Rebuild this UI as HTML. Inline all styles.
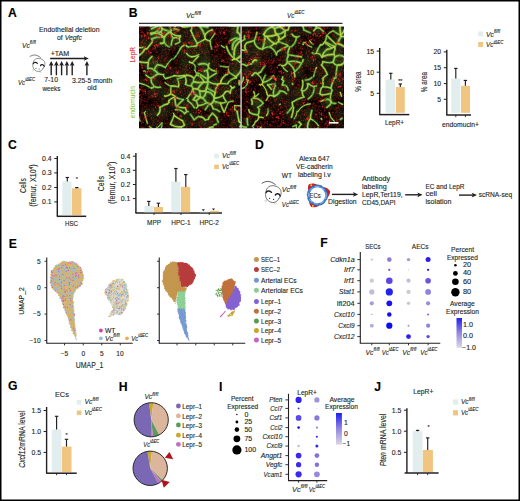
<!DOCTYPE html>
<html><head><meta charset="utf-8"><style>
html,body{margin:0;padding:0;background:#fff;}
svg{display:block;font-family:"Liberation Sans", sans-serif;}
</style></head><body>
<svg width="520" height="501" viewBox="0 0 520 501" font-family='"Liberation Sans", sans-serif' fill="#231f20">
<rect x="0.75" y="0.75" width="518.5" height="499.5" fill="none" stroke="#000" stroke-width="1.5"/>
<text x="8" y="16.9" font-size="12.2" font-weight="bold" fill="#000" stroke="#000" stroke-width="0.12">A</text>
<text x="39" y="32" font-size="6.8" textLength="60.5" lengthAdjust="spacingAndGlyphs" stroke="#231f20" stroke-width="0.12">Endothelial deletion</text>
<text x="57" y="39.8" font-size="6.8" textLength="25" lengthAdjust="spacingAndGlyphs" stroke="#231f20" stroke-width="0.12">of <tspan font-style="italic">Vegfc</tspan></text>
<text x="22" y="47.6" font-size="7" font-style="italic" textLength="13.8" lengthAdjust="spacingAndGlyphs" stroke="#231f20" stroke-width="0.12">Vc<tspan font-size="4.90" dy="-3.50">fl/fl</tspan></text>
<text x="50.7" y="55.7" font-size="6.8" textLength="18.5" lengthAdjust="spacingAndGlyphs" stroke="#231f20" stroke-width="0.12">+TAM</text>
<text x="18" y="84.6" font-size="7" font-style="italic" textLength="17" lengthAdjust="spacingAndGlyphs" stroke="#231f20" stroke-width="0.12">Vc<tspan font-size="4.90" dy="-3.50">iΔEC</tspan></text>
<text x="44.2" y="82.4" font-size="6.8" textLength="13.8" lengthAdjust="spacingAndGlyphs" stroke="#231f20" stroke-width="0.12">7-10</text>
<text x="42.4" y="90.8" font-size="6.8" textLength="18" lengthAdjust="spacingAndGlyphs" stroke="#231f20" stroke-width="0.12">weeks</text>
<text x="72" y="82.8" font-size="6.8" textLength="40.3" lengthAdjust="spacingAndGlyphs" stroke="#231f20" stroke-width="0.12">3.25-5 month</text>
<text x="87.2" y="90.4" font-size="6.8" textLength="9.4" lengthAdjust="spacingAndGlyphs" stroke="#231f20" stroke-width="0.12">old</text>
<line x1="50.1" y1="58.5" x2="85.5" y2="58.5" stroke="#231f20" stroke-width="1.35"/>
<path d="M88.8 58.5 L83.8 56.2 L84.8 58.5 L83.8 60.8 Z" fill="#231f20"/>
<line x1="51.2" y1="64" x2="51.2" y2="75.3" stroke="#231f20" stroke-width="1.4"/>
<path d="M51.2 61.0 L48.85 65.8 L51.2 65.0 L53.550000000000004 65.8 Z" fill="#231f20"/>
<line x1="56.4" y1="64" x2="56.4" y2="75.3" stroke="#231f20" stroke-width="1.4"/>
<path d="M56.4 61.0 L54.05 65.8 L56.4 65.0 L58.75 65.8 Z" fill="#231f20"/>
<line x1="61.6" y1="64" x2="61.6" y2="75.3" stroke="#231f20" stroke-width="1.4"/>
<path d="M61.6 61.0 L59.25 65.8 L61.6 65.0 L63.95 65.8 Z" fill="#231f20"/>
<line x1="66.9" y1="64" x2="66.9" y2="75.3" stroke="#231f20" stroke-width="1.4"/>
<path d="M66.9 61.0 L64.55000000000001 65.8 L66.9 65.0 L69.25 65.8 Z" fill="#231f20"/>
<line x1="72.2" y1="64" x2="72.2" y2="75.3" stroke="#231f20" stroke-width="1.4"/>
<path d="M72.2 61.0 L69.85000000000001 65.8 L72.2 65.0 L74.55 65.8 Z" fill="#231f20"/>
<line x1="86.9" y1="64" x2="86.9" y2="75.3" stroke="#231f20" stroke-width="1.4"/>
<path d="M86.9 61.0 L84.55000000000001 65.8 L86.9 65.0 L89.25 65.8 Z" fill="#231f20"/>
<g transform="translate(30.1 56.4) scale(0.78)" fill="none" stroke="#231f20" stroke-linecap="round">
<path stroke-width="0.75" d="M0 0 C1.5 -0.8 3.5 -1.8 5.5 -1.8 C8 -1.8 11 -0.5 13.3 1.4"/>
<path stroke-width="0.6" d="M3.9 7.9 C4.2 5.5 6 3.5 8.3 2.8 C12 1.8 16.5 3.5 18.3 6.4 C19.5 8.5 19.3 12.5 16.9 15.1"/>
<path stroke-width="0.6" d="M3.6 9.8 C3 12 3.5 14.5 5.4 16.8 C7.5 19 10 19.8 12.5 19.2 C14.5 18.5 16 17 16.9 15.1"/>
<path stroke-width="1.5" d="M3.9 9.4 C4.6 7.4 8 7.1 9.3 9.1 M13.3 11.9 C14 10 17.4 10 18.1 12.9"/>
<circle cx="7.5" cy="15.1" r="0.65" fill="#231f20" stroke="none"/><circle cx="11.5" cy="16.1" r="0.65" fill="#231f20" stroke="none"/>
<path stroke-width="0.35" stroke="#888" d="M5 16.5 L2.5 17.5 M5.2 17.3 L3.2 19 M12.5 18.8 L14.5 20.5 M11.8 19.2 L13 21"/>
</g>
<text x="128.7" y="17.3" font-size="12.2" font-weight="bold" fill="#000" stroke="#000" stroke-width="0.12">B</text>
<text x="186" y="18" font-size="7" font-style="italic" textLength="15" lengthAdjust="spacingAndGlyphs" stroke="#231f20" stroke-width="0.12">Vc<tspan font-size="4.90" dy="-3.50">fl/fl</tspan></text>
<text x="287" y="17.6" font-size="7" font-style="italic" textLength="17.5" lengthAdjust="spacingAndGlyphs" stroke="#231f20" stroke-width="0.12">Vc<tspan font-size="4.90" dy="-3.50">iΔEC</tspan></text>
<line x1="139" y1="23.4" x2="342.5" y2="23.4" stroke="#333" stroke-width="1.1"/>
<defs><filter id="wig" x="-5%" y="-5%" width="110%" height="110%"><feTurbulence type="fractalNoise" baseFrequency="0.25" numOctaves="2" seed="4" result="n"/><feDisplacementMap in="SourceGraphic" in2="n" scale="4" xChannelSelector="R" yChannelSelector="G"/></filter></defs>
<defs><filter id="blur2" x="-10%" y="-10%" width="120%" height="120%"><feGaussianBlur stdDeviation="2.5"/></filter><filter id="soft" x="0" y="0" width="100%" height="100%"><feGaussianBlur stdDeviation="0.4"/></filter></defs>
<clipPath id="c1"><rect x="139" y="26.5" width="101.60" height="101.70"/></clipPath>
<g clip-path="url(#c1)"><g filter="url(#soft)">
<rect x="137" y="24.5" width="105.60" height="105.70" fill="#0c0303"/>
<path d="M234.9 37.2h0M175.5 46.8h0M218.7 67.4h0M199.1 72.2h0M168.9 86.8h0M232.7 106.6h0M227.3 69.5h0M176.0 111.8h0M237.9 60.7h0M161.8 88.3h0M220.8 41.7h0M208.2 77.8h0M186.9 100.9h0M142.1 60.5h0M229.9 57.1h0M197.3 30.0h0M178.7 67.1h0M175.0 101.3h0M205.2 90.9h0M174.3 101.2h0M190.6 80.8h0M176.7 123.2h0M144.6 63.7h0M164.4 58.9h0M224.4 116.4h0M222.1 43.5h0M206.8 64.6h0M186.8 126.6h0M237.5 121.5h0M224.4 70.8h0M163.9 72.0h0M196.7 110.9h0M236.1 65.9h0M218.8 28.6h0M176.5 46.8h0M186.7 124.2h0M191.6 113.4h0M230.6 113.1h0M211.6 96.7h0M179.5 55.4h0M185.9 91.7h0M148.4 123.8h0M189.0 88.6h0M162.3 55.7h0M148.5 60.7h0M148.3 61.4h0M160.9 119.1h0M210.0 26.7h0M157.2 104.2h0M196.7 73.6h0M200.2 57.2h0M237.2 46.1h0M185.6 121.6h0M217.7 68.4h0M142.5 127.8h0M204.5 74.7h0M238.6 125.1h0M143.8 86.1h0M231.2 57.2h0M154.8 108.8h0M207.6 57.5h0M141.6 112.0h0M145.2 95.0h0M152.7 61.3h0M230.6 83.3h0M218.5 70.1h0M206.2 34.6h0M205.0 127.1h0M168.8 37.6h0M192.7 77.3h0M188.0 103.5h0M235.6 104.4h0M185.1 59.4h0M214.9 96.6h0M175.4 52.6h0M233.0 78.3h0M225.6 56.7h0M239.8 97.2h0M162.1 53.7h0M227.4 97.7h0M187.5 90.3h0M190.8 61.0h0M194.0 51.9h0M148.3 114.5h0M228.5 110.5h0M200.4 122.2h0M149.7 94.6h0M214.1 116.1h0M150.5 38.1h0M177.7 59.6h0M207.0 101.0h0M186.3 39.1h0M145.6 93.6h0M202.2 49.1h0M176.3 111.2h0M177.7 95.9h0M155.6 83.9h0M157.7 113.6h0M239.9 49.5h0M200.4 118.8h0M198.7 70.6h0M218.3 103.7h0M178.0 39.7h0M154.7 90.6h0M200.7 111.9h0M180.1 114.6h0M180.0 60.6h0M147.9 73.1h0M181.8 74.3h0M144.3 118.5h0M230.6 76.3h0M177.1 74.0h0M211.7 124.8h0M198.8 62.9h0M183.7 94.9h0M173.4 117.1h0M142.2 109.2h0M205.5 36.9h0M149.1 127.7h0M162.9 28.2h0M236.4 77.0h0M177.2 103.9h0M175.8 40.8h0M209.1 51.9h0M166.4 123.9h0M176.4 71.5h0M170.2 93.4h0M209.6 102.1h0M146.9 73.8h0M177.7 126.1h0M240.3 102.6h0M204.1 105.3h0M187.3 80.3h0M168.4 41.4h0M141.3 102.4h0M231.4 41.9h0M232.6 111.0h0M238.4 110.0h0M187.7 36.3h0M199.3 62.2h0M168.4 60.5h0M223.2 59.3h0M198.2 87.7h0M169.1 126.1h0M169.0 38.0h0M175.2 113.0h0M207.1 30.2h0M217.2 125.8h0M149.5 86.6h0M233.4 72.6h0M215.5 51.7h0M220.8 56.1h0M159.1 123.6h0M153.5 58.6h0M213.6 33.3h0M234.4 53.3h0M174.2 121.9h0M149.2 91.9h0M172.2 39.2h0M224.1 72.7h0M222.7 121.5h0M162.8 63.6h0M154.7 92.0h0M189.3 85.1h0M171.6 34.8h0M225.4 87.5h0M186.2 73.3h0M162.0 116.7h0M182.7 60.1h0M161.6 97.5h0M210.5 75.8h0M237.8 50.9h0M200.8 65.3h0M163.1 86.2h0M221.5 109.3h0M176.1 121.0h0M148.0 67.8h0M154.6 29.6h0M176.7 78.4h0M223.8 73.2h0M162.0 103.3h0M218.5 51.2h0M147.4 88.4h0M224.3 126.7h0M211.6 68.5h0M148.0 116.7h0M143.3 71.8h0M164.5 45.3h0M157.2 26.9h0M204.8 46.4h0M186.9 44.0h0M197.2 27.0h0M168.0 48.3h0M238.4 67.4h0M149.4 92.1h0M206.4 105.4h0M193.0 82.7h0M239.6 79.1h0M236.0 48.7h0M187.7 49.8h0M184.5 56.3h0M175.2 87.1h0M156.5 93.3h0M208.3 51.2h0M229.1 42.1h0M187.4 31.1h0M232.2 122.1h0M163.9 56.8h0M166.1 103.8h0M236.0 83.5h0M232.4 52.3h0M191.1 111.3h0M195.0 47.3h0M174.9 35.3h0M141.9 78.1h0M177.1 105.0h0M239.1 35.9h0M190.6 80.7h0M221.0 54.8h0M155.3 114.2h0M213.6 30.9h0M199.0 44.1h0M239.2 58.7h0M170.7 79.1h0M186.4 84.8h0M166.6 95.3h0M213.9 31.1h0M146.0 70.5h0M213.3 120.8h0M223.8 74.9h0M164.2 37.0h0M175.4 94.6h0M174.1 70.9h0M228.0 108.4h0M154.8 39.7h0M231.9 122.5h0M148.4 86.2h0M142.8 118.6h0M221.5 58.5h0M145.6 65.4h0M196.7 83.7h0M191.6 79.7h0M229.0 85.1h0M207.5 48.6h0M238.8 108.6h0M208.2 41.7h0M173.0 116.3h0M234.2 68.3h0M147.0 117.8h0M208.3 94.2h0M150.0 114.9h0M157.2 74.2h0M178.2 103.3h0M189.8 58.6h0M144.4 46.8h0M180.2 122.4h0M193.6 38.9h0M167.3 60.1h0M180.3 108.5h0M218.2 91.4h0M158.4 56.0h0M170.4 120.2h0M167.1 96.0h0M164.3 121.1h0M142.8 122.7h0M236.2 65.8h0M190.7 121.8h0M172.2 104.7h0M228.5 56.3h0M141.2 87.7h0M149.8 93.3h0M140.9 119.1h0M142.1 94.8h0M139.3 68.7h0M200.8 107.1h0M211.9 73.3h0M175.0 99.1h0M233.3 41.3h0M215.8 56.0h0M239.4 48.5h0M217.1 109.3h0M192.1 118.8h0M144.7 34.7h0M151.2 62.6h0M172.2 112.0h0M152.8 107.3h0M203.8 52.9h0M146.1 95.0h0M194.1 80.8h0M175.9 117.1h0M178.0 116.7h0M147.0 45.4h0M212.1 109.1h0M216.6 60.5h0M171.4 36.7h0M177.2 102.4h0M209.3 41.7h0M152.4 51.6h0M201.4 56.7h0M173.8 127.2h0M210.2 126.0h0M203.6 122.0h0M170.7 38.9h0M167.4 110.9h0M178.8 103.4h0M169.1 67.2h0M216.1 43.3h0M219.3 82.0h0M189.3 35.3h0M163.1 74.6h0M189.0 118.5h0M215.9 125.2h0M194.4 68.5h0M140.6 79.2h0M147.9 104.4h0M178.1 32.0h0M224.6 59.5h0M182.4 69.8h0M202.4 108.6h0M196.3 88.2h0M147.2 102.5h0M187.5 55.0h0M182.9 126.0h0M185.5 107.8h0M231.5 90.2h0M169.4 110.3h0M238.3 44.3h0M187.0 112.1h0M187.5 54.4h0M211.4 94.1h0M187.5 124.6h0M145.0 91.0h0M196.1 41.4h0M147.8 107.0h0M233.4 82.6h0M170.6 71.7h0M233.9 53.4h0M191.7 92.4h0M218.4 114.7h0M190.5 45.4h0M160.4 74.8h0M240.3 125.3h0M203.5 65.6h0M184.8 92.8h0M234.5 121.9h0M195.5 126.0h0M180.3 110.5h0M159.2 66.4h0M172.9 98.3h0M221.5 109.4h0M155.4 123.8h0M186.0 28.0h0M204.3 63.8h0M184.1 88.7h0M179.5 121.7h0M142.8 120.1h0M221.9 127.0h0M146.5 28.7h0M183.0 51.4h0M147.6 111.9h0M170.9 77.4h0M218.3 34.7h0M233.0 61.0h0M143.1 29.5h0M169.6 39.4h0M209.0 91.9h0M176.8 117.1h0M239.3 60.0h0M153.4 59.0h0M153.0 101.5h0M213.0 122.8h0M209.5 57.3h0M234.2 106.1h0M146.5 50.4h0M140.7 86.0h0M152.0 118.7h0M232.7 40.0h0M183.1 61.0h0M182.6 71.3h0M166.4 80.7h0M158.8 33.8h0M150.9 49.9h0M215.5 42.8h0M143.4 91.7h0M214.3 95.2h0M189.9 115.3h0M157.4 80.3h0M162.3 44.1h0M143.4 128.1h0M224.6 47.7h0M199.7 51.0h0M213.7 97.8h0M193.7 44.0h0M145.1 43.9h0M211.2 33.4h0M229.3 125.0h0M165.9 28.8h0M178.6 105.8h0M239.7 108.2h0M201.7 115.3h0M152.3 62.4h0M156.7 55.5h0M165.2 88.6h0M233.3 122.7h0M221.2 41.0h0M140.7 104.6h0M196.1 94.1h0M159.3 100.8h0M164.4 122.2h0M192.6 82.8h0M158.6 119.6h0M208.7 46.2h0M142.9 51.2h0M142.2 93.4h0M168.4 95.1h0M148.4 44.7h0M225.8 116.8h0M217.1 55.2h0M195.9 105.6h0M213.6 115.6h0M140.0 43.7h0M163.3 60.9h0M191.7 107.6h0M220.7 111.8h0M199.0 40.4h0M172.7 27.4h0M164.4 123.0h0M226.3 79.5h0M195.5 103.5h0M225.7 99.3h0M149.5 123.6h0M220.6 28.1h0M146.1 78.7h0M174.6 120.5h0M179.7 48.2h0M145.6 41.3h0M233.4 75.6h0M181.2 59.7h0M145.6 126.7h0M209.2 91.7h0M173.0 65.5h0M199.9 48.0h0M206.7 75.4h0M237.6 94.9h0M197.5 34.2h0M204.3 85.6h0M236.5 33.2h0M171.8 42.2h0M172.8 26.6h0M211.3 83.8h0M204.4 93.5h0M172.4 52.8h0M233.9 85.3h0M238.3 57.1h0M240.1 82.6h0M209.8 97.3h0M223.4 91.0h0M230.5 115.7h0M199.9 61.4h0M231.0 38.1h0M195.0 114.7h0M172.0 29.0h0M191.8 123.7h0M155.4 50.6h0M237.8 28.2h0M155.4 30.3h0M172.8 88.2h0M151.7 105.3h0M223.3 109.5h0M214.6 70.9h0M224.9 103.1h0M232.8 96.4h0M218.5 61.4h0M200.1 78.5h0M209.8 106.1h0M225.4 126.6h0M155.2 34.6h0M162.4 95.2h0M197.9 107.4h0M187.2 31.9h0M233.9 68.0h0M172.6 104.1h0M146.0 91.7h0M168.0 77.5h0M157.1 127.1h0M182.2 110.9h0M149.8 76.5h0M202.2 78.0h0M178.4 56.4h0M162.2 107.8h0M229.2 102.0h0M239.4 124.6h0M208.6 127.5h0M149.9 98.3h0M192.5 58.9h0M210.1 92.0h0M186.5 59.7h0M156.1 96.1h0M174.3 80.7h0M229.9 95.6h0M143.2 118.1h0M144.2 69.4h0M209.9 119.1h0M223.2 65.8h0M201.7 73.0h0M230.5 58.5h0M191.2 54.2h0M205.1 120.6h0M182.8 88.5h0M219.4 30.9h0M142.6 121.1h0M178.8 63.6h0M175.8 67.2h0M150.1 53.4h0M187.6 32.5h0M214.7 47.5h0M154.1 52.5h0M240.0 59.8h0M159.3 31.8h0M230.5 58.8h0M141.0 62.9h0M190.8 48.7h0M145.2 54.4h0M168.9 122.9h0M220.9 34.4h0M200.9 56.9h0M229.5 58.2h0M188.6 113.7h0M150.1 74.8h0M146.8 31.5h0M192.7 96.4h0M232.3 26.6h0M239.1 42.5h0M215.4 95.1h0M146.1 100.6h0M156.7 115.7h0M203.3 127.1h0M198.8 119.1h0M231.5 42.4h0M188.0 94.7h0M167.1 44.4h0M151.2 126.5h0M215.4 102.4h0M231.1 125.5h0M213.0 91.8h0M155.4 44.0h0M201.7 88.7h0M230.4 85.6h0M187.6 70.3h0M143.0 30.7h0M166.6 57.0h0M205.9 28.3h0M151.8 54.2h0M174.6 110.1h0M238.6 32.4h0M152.2 56.8h0M183.3 96.3h0M204.9 36.3h0M160.6 44.4h0M221.3 92.4h0M156.5 28.9h0M199.8 29.1h0M142.8 50.3h0M240.6 114.5h0M192.6 77.9h0M163.3 109.5h0M152.7 123.2h0M143.1 112.6h0M166.1 70.5h0M224.6 87.6h0M164.2 54.8h0M234.5 51.3h0M239.8 108.9h0M197.3 72.7h0M150.9 59.4h0M173.6 126.6h0M210.5 34.3h0M176.9 94.7h0M205.1 61.9h0M209.1 54.5h0M156.2 76.8h0M168.9 91.3h0M205.7 39.3h0M190.9 31.4h0M190.4 71.8h0M151.3 77.6h0M230.8 69.3h0M142.0 105.8h0M215.3 119.6h0M168.6 66.4h0M217.3 75.4h0M170.8 67.9h0M220.7 94.5h0M201.9 68.0h0M236.8 109.7h0M211.7 90.2h0M230.2 63.4h0M174.8 45.3h0M210.3 118.8h0M208.8 97.3h0M160.0 116.0h0M216.7 90.3h0M194.2 106.7h0M232.2 40.5h0M190.9 69.6h0M227.3 46.9h0M170.5 115.2h0M174.8 40.8h0M195.5 35.6h0M146.2 56.2h0M183.4 31.9h0M229.6 117.3h0M205.9 119.4h0M234.0 120.1h0M232.6 115.4h0M149.5 125.3h0M165.1 124.7h0M214.0 37.4h0M184.3 104.2h0M219.5 76.5h0M187.8 33.1h0M158.8 111.9h0M168.0 95.1h0M195.8 79.7h0M229.3 38.0h0M141.3 55.2h0M190.8 114.9h0M195.7 74.5h0M231.8 40.1h0M144.4 39.2h0M179.7 71.4h0M211.2 102.9h0M159.7 29.3h0M206.5 118.8h0M165.0 57.8h0M192.8 116.1h0M195.0 96.1h0M149.8 96.2h0M194.4 50.8h0M189.2 126.2h0M160.8 40.0h0M140.4 83.0h0M218.8 65.6h0M185.3 32.7h0M189.1 53.4h0M176.7 102.8h0M176.0 118.8h0M196.7 123.5h0M195.3 64.9h0M175.2 48.3h0M198.1 78.2h0M175.6 36.0h0M183.9 39.0h0M175.7 84.4h0M141.5 59.5h0M145.8 77.8h0M231.5 33.4h0M187.2 111.2h0M153.2 71.2h0M203.4 107.3h0M224.4 83.3h0M174.8 101.3h0M181.5 126.7h0M232.1 120.3h0M233.2 94.0h0M223.0 127.6h0M185.6 35.3h0M174.7 45.5h0M145.1 112.8h0M211.7 112.1h0M159.1 75.6h0M216.3 38.3h0M226.4 34.7h0M189.4 62.6h0M200.6 32.0h0M203.0 121.9h0M165.7 91.2h0M169.9 115.8h0M170.6 73.9h0M204.3 95.0h0M225.7 46.9h0M214.7 124.3h0M201.6 30.6h0M148.0 122.3h0M177.0 91.8h0M184.8 59.1h0M209.0 32.7h0M222.2 112.5h0M187.0 78.6h0M221.1 95.9h0M185.5 68.0h0M164.1 42.3h0M149.0 78.7h0M169.3 103.1h0M185.9 80.4h0M214.2 61.8h0M227.5 92.8h0M181.3 95.4h0M170.4 32.2h0M192.3 95.5h0M177.0 40.5h0M163.8 33.3h0M215.1 79.0h0M165.0 36.8h0M213.0 40.5h0M205.1 78.8h0M171.2 96.9h0M220.4 85.1h0M171.4 32.6h0M224.1 115.3h0M205.8 124.1h0M148.5 48.3h0M185.8 44.2h0M158.7 73.9h0M187.8 47.9h0M144.6 58.1h0M147.6 72.1h0M193.4 106.4h0M211.4 104.1h0M155.8 87.8h0M195.3 118.1h0M211.2 74.7h0M224.2 109.8h0M183.6 35.5h0M239.7 120.1h0M238.5 38.9h0M222.1 34.0h0M174.4 126.4h0M156.2 123.0h0M159.3 76.5h0M232.1 53.3h0M144.4 91.6h0M181.7 34.6h0M224.1 46.6h0M160.9 74.3h0M151.7 58.9h0M163.9 124.1h0M210.9 95.7h0M202.5 33.2h0M148.2 127.9h0M154.4 112.5h0M198.9 103.4h0M194.2 53.1h0M212.4 114.6h0M162.4 40.1h0M193.4 83.2h0M222.8 91.9h0M236.7 47.7h0M216.0 81.2h0M228.0 56.7h0M159.6 43.1h0M188.4 29.5h0M238.0 104.3h0M201.5 33.8h0M154.3 40.9h0M178.1 80.7h0M158.1 79.8h0M223.0 71.0h0M154.6 74.3h0M183.5 123.2h0M188.5 91.3h0M190.1 123.6h0M224.0 68.2h0M143.6 86.9h0M157.8 57.3h0M159.4 109.6h0M184.6 76.6h0M232.0 80.0h0M213.1 47.7h0M184.1 61.8h0M173.2 71.8h0M221.1 82.9h0M204.6 49.4h0M210.5 64.0h0M229.7 92.3h0M144.3 70.3h0M221.3 59.4h0M239.4 125.1h0M189.7 65.0h0M146.6 47.8h0M148.8 99.3h0M231.3 66.8h0M157.2 96.1h0M217.4 78.8h0M215.8 35.7h0M180.1 74.7h0M162.1 107.5h0M150.9 112.0h0M168.2 71.8h0M203.6 96.3h0M223.3 83.8h0M188.0 47.9h0M151.0 118.3h0M222.6 123.3h0M190.1 70.1h0M184.1 88.3h0M214.2 89.6h0M142.8 79.7h0M157.4 71.8h0M142.4 29.3h0M164.9 81.2h0M186.3 118.9h0M157.8 52.4h0M142.6 60.3h0M147.1 92.5h0M174.9 112.9h0M184.0 83.7h0M157.0 85.8h0M188.7 106.2h0M203.6 114.2h0M174.1 98.0h0M191.9 112.6h0M158.2 74.2h0M176.1 106.2h0M177.7 28.3h0M207.5 50.6h0M218.0 47.5h0M171.4 48.1h0M207.3 117.1h0M164.5 31.4h0M228.3 109.2h0M151.9 116.7h0M199.8 46.2h0M162.8 115.3h0M171.6 119.7h0M177.7 122.3h0M158.3 37.3h0M192.3 58.3h0M230.2 27.8h0M238.0 30.3h0M149.7 63.5h0M147.3 38.2h0M178.2 50.7h0M235.5 114.2h0M212.9 73.3h0M174.6 85.6h0M236.0 108.0h0M229.2 51.4h0M179.9 123.0h0M235.5 65.8h0M221.7 67.9h0M210.3 45.4h0M216.8 40.3h0M234.1 86.0h0M212.2 80.4h0M206.9 45.1h0M186.0 42.0h0M236.5 62.7h0M166.9 101.6h0M227.8 94.1h0M163.2 99.5h0M162.4 63.6h0M162.0 37.6h0M230.1 60.2h0M213.5 70.8h0M165.0 87.7h0M155.3 70.8h0M210.4 34.0h0M153.5 100.3h0M232.2 112.4h0M151.6 27.8h0M206.9 26.5h0M160.7 42.7h0M204.4 126.5h0M232.1 42.9h0M223.9 78.7h0M201.5 124.4h0M189.3 115.5h0M182.5 107.1h0M210.5 35.6h0M216.5 126.5h0M205.4 83.9h0M187.4 42.3h0M214.1 71.6h0M174.3 48.8h0M165.3 50.1h0M144.0 113.9h0M159.0 36.1h0M237.6 37.2h0M203.3 125.1h0M177.1 125.9h0M236.1 113.4h0M145.9 116.2h0M171.8 77.0h0M181.6 83.6h0M163.9 89.3h0M221.7 76.4h0M165.9 82.1h0M188.4 104.1h0M237.5 120.1h0M188.9 117.3h0M163.1 29.9h0M199.5 67.4h0M226.2 37.4h0M175.1 125.4h0M146.7 75.9h0M181.8 91.0h0M220.7 45.1h0M154.7 73.3h0M169.8 124.2h0M159.0 73.4h0M230.7 63.8h0M224.0 66.2h0M153.0 38.2h0M151.8 66.9h0M162.4 116.1h0M216.6 44.6h0M147.8 102.1h0M196.4 32.8h0M210.6 35.2h0M232.3 90.5h0M237.3 121.4h0M183.1 83.6h0M225.7 66.7h0M239.3 71.0h0M239.8 81.1h0M224.9 70.4h0M201.5 39.5h0M149.5 121.4h0M195.1 75.1h0M140.1 34.6h0M220.0 108.3h0M158.2 99.1h0M187.4 33.9h0M152.3 32.1h0M220.8 96.2h0M184.2 102.9h0M177.8 115.4h0M144.3 72.5h0M209.9 60.7h0M142.0 98.9h0M169.3 98.5h0M222.6 36.5h0M186.0 56.0h0M168.7 75.3h0M225.8 43.5h0M162.0 30.1h0M239.0 127.2h0M168.5 70.1h0M162.5 64.2h0M230.0 33.4h0M140.9 46.7h0M228.4 109.0h0M195.8 82.6h0M220.8 113.9h0M181.8 110.9h0M164.7 107.4h0M184.0 102.6h0M158.4 46.8h0M142.7 97.0h0M173.6 40.7h0M203.6 65.5h0M162.8 109.0h0M149.9 119.3h0M213.2 114.2h0M140.5 48.5h0M226.5 80.2h0M140.3 55.4h0M162.8 37.4h0M183.9 84.8h0M165.0 78.6h0M192.3 102.6h0M217.4 39.7h0M189.2 65.2h0M186.6 40.6h0M201.3 56.8h0M172.3 99.7h0M180.9 95.1h0M180.2 30.2h0M166.0 58.4h0M193.3 73.9h0M239.7 82.6h0M202.1 122.0h0M148.7 63.3h0M164.8 88.4h0M189.4 80.0h0M150.5 96.3h0M204.3 34.5h0M209.1 88.3h0M202.1 127.5h0M194.8 122.9h0M165.7 85.9h0M176.5 31.7h0M164.8 92.1h0M188.6 57.3h0M227.3 127.5h0M174.7 79.3h0M211.3 75.9h0M181.9 120.2h0M186.3 67.7h0M233.5 121.8h0M166.8 69.6h0M228.9 43.0h0M149.0 48.6h0M214.8 120.7h0M175.8 89.5h0M227.3 60.1h0M148.4 48.8h0M221.4 30.2h0M223.3 82.2h0M238.3 42.2h0M213.1 84.1h0M158.3 111.1h0M209.6 107.1h0M170.6 88.0h0M239.1 37.9h0M222.1 52.8h0M196.4 119.3h0M148.2 53.4h0M176.8 115.2h0M200.1 112.7h0M234.9 63.4h0M154.6 29.5h0M169.4 78.6h0M215.0 127.0h0M238.9 28.6h0M239.8 92.9h0M167.6 86.6h0M213.3 47.9h0M155.5 96.5h0M145.5 35.6h0M201.3 45.1h0M179.7 107.7h0M199.0 48.6h0M174.6 29.1h0M139.8 67.9h0M159.5 111.7h0M142.2 121.2h0M221.6 124.2h0M147.5 60.1h0M154.8 40.1h0M145.5 62.0h0M221.9 41.3h0M200.3 31.1h0M158.3 37.6h0M159.9 87.6h0M158.9 57.0h0M154.8 38.1h0M182.9 79.0h0M233.1 90.8h0M235.5 115.9h0M237.3 28.8h0M149.5 37.3h0M217.5 74.9h0M174.4 116.8h0M193.3 55.7h0M170.0 32.2h0M209.2 59.3h0M172.2 107.0h0M228.1 62.7h0M160.6 123.1h0M176.7 82.1h0M215.2 64.6h0M151.0 37.1h0M145.0 80.5h0M149.6 33.0h0M209.0 78.5h0M236.7 30.6h0M186.1 68.1h0M182.9 80.5h0M148.3 33.5h0M149.2 114.0h0M159.8 49.6h0M190.9 120.5h0M169.6 29.0h0M173.8 116.1h0M199.7 84.3h0M229.4 66.0h0M148.6 52.2h0M152.0 104.6h0M158.5 39.0h0M222.4 36.2h0M180.3 47.3h0M225.9 77.9h0M189.6 39.4h0M155.8 105.8h0M204.9 108.1h0M157.5 101.4h0M222.2 98.3h0M157.5 34.0h0M160.6 32.7h0M224.9 84.9h0M221.8 109.6h0M201.5 86.0h0M186.2 45.9h0M208.4 41.9h0M163.3 33.1h0M142.6 71.1h0M175.0 94.9h0M202.3 81.0h0M158.3 43.9h0M212.8 60.8h0M226.9 111.8h0M178.1 88.5h0M173.7 42.4h0M151.6 43.5h0M220.9 104.8h0M177.8 79.8h0M237.0 34.1h0M187.3 117.6h0M196.9 119.7h0M171.9 90.7h0M191.9 30.5h0M213.5 104.2h0M165.7 40.9h0M202.3 71.2h0M239.2 73.0h0M177.2 110.9h0M157.4 63.8h0M232.4 34.9h0M146.9 49.6h0M237.7 49.7h0M235.6 99.9h0M174.4 38.4h0M189.8 106.1h0M153.9 82.8h0M198.9 63.2h0M141.8 29.5h0M224.4 52.7h0M150.0 123.3h0M232.5 124.0h0M161.8 53.8h0M175.7 108.6h0M141.8 116.6h0M177.4 127.2h0M145.5 127.9h0M233.2 81.1h0M222.1 43.9h0M238.3 117.0h0M184.6 99.8h0M202.7 70.6h0M191.1 57.3h0M238.1 75.2h0M195.1 100.5h0M220.1 80.0h0M171.3 106.7h0M213.6 27.2h0M214.2 107.5h0M181.8 50.1h0M161.4 96.9h0M154.2 87.0h0M221.1 51.8h0M235.2 106.5h0M159.6 90.1h0M194.4 101.0h0M203.4 78.1h0M150.8 36.5h0M228.1 92.9h0M159.0 104.6h0M206.3 110.7h0M193.3 114.0h0M210.9 77.4h0M198.4 119.2h0M155.1 48.5h0M144.8 37.8h0M207.9 102.7h0M230.8 104.6h0M188.2 122.2h0M230.6 99.5h0M240.6 107.3h0M195.5 76.5h0M171.6 47.1h0M159.7 43.8h0M198.0 122.4h0M231.7 59.8h0M142.8 27.4h0M190.8 97.9h0M239.3 70.7h0M219.4 119.4h0M212.3 94.0h0M167.8 110.9h0M143.1 36.3h0M217.6 68.8h0M223.2 93.0h0M152.1 85.7h0M150.9 71.3h0M156.3 105.6h0M196.3 98.6h0M195.6 61.7h0M177.9 34.8h0M238.0 115.4h0M214.4 50.7h0M192.3 115.2h0M157.7 66.9h0M146.4 100.6h0M188.3 104.6h0M230.7 58.3h0M210.4 47.8h0M232.0 107.5h0M166.5 51.6h0M178.1 122.3h0M187.6 66.3h0M161.9 105.0h0M202.5 87.7h0M153.9 91.2h0M193.2 89.4h0M187.6 110.9h0M171.1 46.8h0M144.6 73.6h0M169.6 81.2h0M178.9 75.4h0M168.1 85.0h0M175.5 47.8h0M173.5 85.1h0M179.1 74.5h0M162.6 45.6h0M148.1 87.0h0M150.9 42.3h0M181.2 41.7h0M211.4 82.2h0M175.5 43.0h0M163.1 38.3h0M202.7 115.3h0M166.6 107.0h0M177.8 46.3h0M223.4 125.0h0M182.8 63.7h0M171.4 109.8h0M168.5 80.7h0M198.8 125.0h0M240.6 122.2h0M196.6 126.3h0M222.0 38.6h0M140.4 27.6h0M239.6 67.5h0M189.8 35.3h0M223.7 114.4h0M238.8 30.7h0M198.1 86.7h0M225.4 51.7h0M146.2 95.4h0M225.3 53.8h0M153.2 89.0h0M143.0 95.1h0M170.7 56.7h0M187.6 114.1h0M203.9 64.6h0M158.0 85.0h0M200.8 123.2h0M142.6 36.2h0M237.3 46.9h0M231.4 123.7h0M180.9 109.5h0M173.7 92.4h0M188.4 99.7h0M236.1 43.0h0M206.9 61.8h0M219.0 123.2h0M206.4 85.5h0M240.2 98.1h0M149.5 60.4h0M229.2 96.5h0M172.6 45.1h0M146.9 84.4h0M168.3 37.7h0M147.6 66.0h0M218.1 34.5h0M206.4 75.1h0M188.4 105.9h0M222.5 94.4h0M173.4 100.5h0M190.9 60.7h0M196.1 29.1h0M187.0 61.9h0M156.9 91.0h0M212.9 95.3h0M162.0 44.9h0M147.2 124.0h0M165.3 77.4h0M178.4 70.6h0M210.8 121.5h0M195.1 69.9h0M233.1 124.9h0M193.5 57.9h0M170.0 121.0h0M229.5 81.4h0M142.0 90.2h0M158.7 43.3h0M217.3 45.6h0M170.6 115.6h0M235.5 82.6h0M147.4 68.4h0M147.8 70.8h0M170.7 124.5h0M210.3 41.1h0M225.7 75.3h0M165.3 127.4h0M175.5 98.3h0M214.7 125.1h0M201.9 26.6h0M195.6 51.2h0M206.9 114.7h0M195.1 117.8h0M149.0 36.6h0M151.2 53.4h0M183.3 69.6h0M141.1 119.3h0M174.6 105.6h0M187.3 119.8h0M239.0 69.1h0M198.2 59.8h0M155.5 74.6h0M189.2 48.5h0M188.6 97.6h0M210.7 38.5h0M211.0 76.6h0M171.8 79.7h0M223.0 86.2h0M189.7 68.2h0M142.8 57.8h0M185.5 113.6h0M154.7 122.7h0M204.0 62.0h0M211.4 107.3h0M204.4 34.0h0M173.4 127.2h0M162.6 126.1h0M147.6 63.9h0M173.3 50.6h0M194.0 115.8h0M146.1 109.1h0M222.2 53.7h0M178.9 32.1h0M147.0 112.6h0M168.3 55.5h0M156.8 101.7h0M166.1 83.8h0M175.0 90.6h0M164.2 108.1h0M145.2 98.6h0M225.5 48.7h0M209.4 37.5h0M199.4 27.2h0M213.7 109.9h0M201.7 82.5h0M194.6 82.9h0M161.0 97.6h0M196.8 43.1h0M189.7 61.1h0M219.8 120.5h0M222.0 73.7h0M207.9 82.3h0M188.4 89.3h0M147.5 115.9h0M230.0 41.4h0M190.3 96.5h0M237.3 105.6h0M147.4 91.5h0M144.9 101.9h0M201.0 49.8h0M141.3 121.3h0M236.4 66.5h0M139.9 110.6h0M218.1 78.7h0M215.8 118.8h0M202.8 99.3h0M199.3 64.1h0M210.0 90.3h0M229.1 124.8h0M228.8 53.3h0M183.1 68.5h0M146.0 83.3h0M216.0 37.5h0M168.2 122.5h0M188.4 86.9h0M167.0 62.1h0M154.4 64.3h0M155.0 40.4h0M206.7 41.4h0M193.6 47.7h0M159.3 46.6h0M216.0 39.4h0M221.8 118.2h0M208.9 81.5h0M197.2 62.8h0M229.9 64.9h0M168.7 32.4h0M209.0 58.0h0M200.1 45.4h0M199.1 77.9h0M174.5 38.9h0M166.8 122.3h0M145.4 27.0h0M182.6 43.0h0M213.4 39.4h0M198.3 80.8h0M236.1 102.5h0M150.5 113.2h0M189.7 50.2h0M147.2 104.8h0M233.4 73.2h0M166.6 55.5h0M173.8 30.0h0M217.0 114.7h0M227.7 27.0h0M237.3 37.9h0M184.1 110.2h0M162.9 85.6h0M233.7 72.5h0M200.1 121.9h0M230.8 31.4h0M157.5 38.2h0M223.1 61.1h0M224.1 74.2h0M238.3 35.5h0M176.5 118.6h0M180.3 64.8h0M208.8 72.6h0M168.4 70.1h0M214.4 60.4h0M235.2 122.6h0M192.9 104.9h0M198.1 119.2h0M164.1 63.4h0M161.1 57.0h0M163.0 117.1h0M169.5 127.3h0M218.3 65.1h0M217.9 48.3h0M163.2 54.8h0M178.8 58.2h0M237.0 56.6h0M179.8 85.7h0M180.9 56.3h0M225.7 120.3h0M219.0 48.8h0M184.8 73.2h0M221.8 88.4h0M174.0 114.4h0M142.8 40.8h0M167.9 66.0h0M230.1 110.5h0M148.1 88.5h0M219.8 93.0h0M189.1 103.2h0M163.4 110.9h0M170.4 121.2h0M231.2 82.1h0M222.9 111.7h0M201.6 83.6h0M217.4 111.0h0M224.5 111.8h0M177.8 56.5h0M176.3 57.8h0M161.7 44.8h0M142.5 90.6h0M195.5 56.0h0M142.0 125.5h0M204.5 69.9h0M198.4 102.8h0M226.6 83.8h0M171.1 73.4h0M219.8 105.0h0M189.9 89.2h0M159.2 83.2h0M204.7 72.4h0M198.7 72.0h0M240.3 110.3h0M216.6 83.3h0M212.7 30.3h0M173.1 126.9h0M233.6 32.9h0M142.2 126.9h0M182.1 91.7h0M230.4 37.9h0M146.5 104.5h0M189.0 88.7h0M217.5 121.5h0M143.9 51.6h0M173.5 62.5h0M206.4 45.3h0M173.2 92.6h0M213.1 120.8h0M176.5 63.8h0M208.8 68.2h0M190.6 76.8h0M151.0 35.9h0M197.0 95.8h0M193.1 46.0h0M178.8 82.5h0M226.3 26.7h0M200.8 71.6h0M208.7 61.7h0M153.8 89.2h0M178.5 48.5h0M170.2 28.7h0M214.1 115.8h0M151.4 53.6h0M171.3 70.0h0M179.5 61.4h0M181.1 31.5h0M213.1 87.7h0M163.3 73.6h0M174.2 68.6h0M150.6 37.2h0M216.3 65.7h0M165.1 40.2h0M172.7 70.0h0M170.6 88.4h0M187.4 32.3h0M221.3 119.0h0M205.1 100.5h0M189.1 111.9h0M230.3 70.3h0M203.7 104.1h0M239.1 112.6h0M205.9 54.4h0M144.7 120.3h0M212.3 89.9h0M185.0 89.7h0M223.3 123.5h0M227.4 73.2h0M193.0 125.4h0M207.0 81.5h0M204.2 89.3h0M175.8 109.6h0M234.5 75.6h0M143.2 57.0h0M145.0 42.4h0M199.7 50.0h0M186.7 126.7h0M172.6 104.5h0M226.8 87.0h0M210.1 123.6h0M231.7 122.3h0M232.6 113.0h0M217.6 107.9h0M159.3 81.0h0M190.6 41.6h0M207.3 126.4h0M219.0 40.5h0M185.8 66.0h0M150.7 81.6h0M151.2 108.2h0M187.7 56.8h0M228.7 31.0h0M231.0 63.8h0M192.3 74.8h0M199.3 56.2h0M227.3 68.9h0M196.7 35.9h0M198.6 30.0h0M147.5 37.6h0M192.0 119.4h0M224.8 56.9h0M191.1 57.1h0M162.6 55.5h0M147.7 64.9h0M225.5 89.0h0M161.2 89.6h0M232.2 101.2h0M148.5 75.7h0M175.1 55.3h0M230.3 58.3h0M204.9 45.0h0M142.8 40.0h0M156.7 102.2h0M211.2 115.1h0M225.0 73.5h0M198.0 80.8h0M153.8 73.0h0M146.1 45.1h0M240.2 96.7h0M220.9 109.5h0M224.0 47.7h0M207.6 30.5h0M168.8 83.5h0M149.6 126.0h0M220.5 127.2h0M195.3 102.5h0M143.7 63.0h0M220.3 29.2h0M191.5 109.8h0M207.0 115.7h0M139.9 77.1h0M203.0 44.9h0M178.4 100.1h0M186.4 120.0h0M197.1 72.3h0M201.6 77.4h0M220.5 40.1h0M222.2 88.8h0M157.9 120.4h0M238.4 96.8h0M231.6 56.7h0M156.9 30.3h0M208.7 75.0h0M179.2 81.6h0M231.2 82.5h0M192.7 47.1h0M193.7 103.2h0M206.8 36.3h0M144.2 91.8h0M176.6 124.3h0M153.7 118.1h0M151.1 35.2h0M155.5 82.1h0M238.2 30.4h0M191.1 98.9h0M197.2 43.6h0M208.2 120.8h0M141.8 127.1h0M215.6 123.7h0M225.4 53.0h0M178.4 51.3h0M217.3 121.2h0M169.6 103.7h0M171.0 35.0h0M171.2 47.8h0M174.8 47.0h0M219.0 38.4h0M225.0 101.3h0M206.9 49.0h0M175.3 115.9h0M236.7 71.9h0M159.7 120.6h0M228.6 58.4h0M225.3 37.8h0M214.9 56.7h0M235.9 114.0h0M142.5 121.5h0M228.9 67.8h0M194.5 82.2h0M226.0 124.5h0M154.1 54.1h0M222.5 72.7h0M227.1 84.9h0M168.1 127.7h0M160.4 53.9h0M218.0 34.4h0M213.1 82.6h0M142.7 47.7h0M205.4 61.3h0M183.0 44.3h0M162.4 126.3h0M173.7 120.2h0M221.8 125.4h0M148.7 75.3h0M193.6 108.6h0M184.2 128.0h0M184.4 119.7h0M142.1 97.5h0M142.1 61.5h0M151.9 119.6h0M236.1 120.1h0M217.5 94.0h0M168.5 52.2h0M169.2 69.4h0M192.6 47.9h0M224.0 56.6h0M188.3 83.0h0M154.0 109.1h0M230.7 123.1h0M166.2 88.0h0M220.7 54.2h0M236.6 26.9h0M216.7 89.4h0M215.5 118.5h0M192.2 120.7h0M197.8 31.9h0M190.0 29.0h0M143.0 67.4h0M147.1 94.1h0M205.7 125.8h0M156.4 71.3h0M186.8 126.2h0M237.0 63.6h0M235.4 37.2h0M234.0 35.7h0M199.7 55.2h0M175.6 96.7h0M191.4 67.1h0M199.5 37.3h0M180.0 106.1h0M152.8 61.3h0M147.1 55.8h0M150.2 96.6h0M208.1 56.5h0M214.3 62.0h0M144.6 120.5h0M188.5 107.7h0M167.3 38.5h0M216.9 127.8h0M174.8 126.3h0M227.8 54.3h0M161.8 53.2h0M155.9 94.6h0M223.4 68.8h0M182.8 88.4h0M211.8 41.9h0M209.2 52.2h0M219.1 48.1h0M206.8 64.4h0M231.2 38.0h0M151.8 110.1h0M180.2 56.9h0M145.3 101.8h0M153.6 27.0h0M157.7 93.6h0M155.1 70.0h0M164.7 115.4h0M229.7 87.5h0M222.2 65.6h0M187.3 92.2h0M227.4 92.7h0M223.1 120.0h0M163.4 60.8h0M180.8 82.7h0M197.0 84.6h0M220.5 68.0h0M164.8 108.8h0M153.8 61.1h0M161.7 26.6h0M238.1 45.5h0M173.1 104.0h0M139.0 104.0h0M204.2 90.8h0M172.7 60.7h0M213.9 91.0h0M203.2 30.3h0M155.5 47.0h0M146.4 81.5h0M139.1 65.9h0M156.8 29.6h0M160.4 82.9h0M147.6 31.4h0M198.4 45.2h0M159.2 47.2h0M165.9 60.9h0M189.6 42.6h0M166.1 30.9h0M218.0 54.5h0M154.1 108.0h0M238.1 84.7h0M229.9 60.8h0M178.0 55.0h0M162.1 44.4h0M142.6 86.4h0M180.8 120.7h0M150.0 74.9h0M198.2 45.0h0M164.8 40.3h0M221.2 55.6h0M168.6 90.2h0M214.4 59.4h0M209.3 117.9h0M152.5 120.7h0M140.5 114.1h0M154.2 33.3h0M193.1 86.4h0M223.5 73.4h0M207.9 90.5h0M142.3 109.2h0M198.0 68.9h0M169.9 31.0h0M204.9 32.6h0M238.0 63.6h0M227.7 36.8h0M215.9 38.9h0M199.4 38.9h0M180.7 33.9h0M230.8 117.9h0M159.3 106.4h0M165.2 117.6h0M205.5 63.7h0M149.2 32.5h0M170.4 94.7h0M151.5 105.3h0M141.5 101.8h0M215.2 93.8h0M217.3 46.0h0M227.4 51.2h0M229.2 125.9h0M149.7 61.9h0M196.6 117.8h0M209.1 43.9h0M181.8 71.7h0M212.0 113.2h0M230.8 31.2h0M146.0 125.1h0M153.6 49.9h0M169.0 103.7h0M153.5 122.9h0M150.4 72.3h0M150.1 74.0h0M224.7 115.1h0M203.8 35.4h0M192.3 78.0h0M200.8 32.9h0M237.1 117.5h0M224.4 128.1h0M183.4 123.3h0M201.0 118.8h0M187.0 61.0h0M156.1 38.0h0M225.2 120.6h0M169.4 82.9h0M161.6 99.2h0M196.1 65.4h0M238.5 74.4h0M156.0 82.5h0M229.4 66.6h0M185.5 73.3h0M157.2 99.1h0M166.0 89.1h0M212.3 49.6h0M238.7 50.0h0M224.8 31.5h0M234.4 31.2h0M231.2 74.4h0M147.0 112.9h0M141.4 53.8h0M157.3 40.5h0M170.9 64.8h0M218.1 123.8h0M163.9 107.8h0M182.6 57.4h0M152.3 85.0h0M194.8 109.8h0M213.2 109.5h0M174.1 95.1h0M210.6 81.8h0M206.4 52.2h0M207.1 72.8h0M212.6 44.2h0M167.8 62.6h0M216.1 92.1h0M232.3 26.5h0M168.4 105.0h0M145.4 116.1h0M207.8 69.2h0M222.9 89.8h0M141.7 76.9h0M205.1 73.8h0M146.0 60.3h0M164.1 67.4h0M196.7 111.6h0M151.1 98.6h0M209.3 37.6h0M218.7 103.5h0M161.5 98.6h0M200.0 94.4h0M210.8 64.9h0M165.4 111.7h0M207.2 104.8h0M228.8 125.5h0M214.5 97.8h0M157.2 96.2h0M224.6 64.3h0M205.7 50.9h0M161.2 101.8h0M154.5 103.2h0M142.5 105.1h0M225.6 55.6h0M233.5 127.7h0M217.8 91.7h0M177.4 96.6h0M206.8 119.0h0M162.0 118.7h0M199.7 49.5h0M147.9 93.8h0M164.0 105.0h0M193.4 76.6h0M200.0 68.8h0M234.4 104.3h0M148.3 79.5h0M221.7 37.8h0M202.1 61.6h0M184.2 47.6h0M158.7 116.2h0M152.2 90.7h0M206.4 78.1h0M174.0 37.1h0M176.3 83.9h0M198.9 109.7h0M156.1 33.5h0M202.3 84.1h0M172.2 106.9h0M186.9 30.5h0M178.9 124.6h0M178.8 72.6h0M171.5 86.8h0M182.1 93.5h0M188.6 111.1h0M200.7 67.7h0M175.8 36.7h0M224.4 107.5h0M232.5 43.0h0M174.0 87.4h0M140.1 30.3h0M227.6 43.4h0M143.5 112.9h0M197.0 101.4h0M168.4 28.1h0M169.3 95.1h0M232.4 58.0h0M173.2 96.3h0M162.9 117.2h0M195.3 40.5h0M225.7 32.0h0M204.3 63.5h0M180.1 100.0h0M168.9 95.3h0M202.5 67.9h0M176.8 60.1h0M211.7 118.2h0M202.8 112.8h0M220.2 56.8h0M176.1 103.6h0M166.8 106.2h0M214.5 71.8h0M197.5 119.7h0M215.0 31.3h0M149.9 96.9h0M185.8 62.3h0M201.3 66.2h0M207.5 107.9h0M148.6 69.4h0M195.6 96.2h0M172.2 110.4h0M193.2 83.3h0M192.2 43.8h0M195.1 75.6h0M200.1 93.4h0M188.1 26.6h0M206.8 102.1h0M160.0 117.6h0M166.2 33.4h0M181.2 104.1h0M180.9 38.4h0M233.7 54.5h0M174.4 44.7h0M231.7 69.6h0M219.4 48.1h0M195.1 94.7h0M224.4 106.3h0M172.0 69.5h0M145.8 101.2h0M166.5 45.8h0M145.0 83.4h0M165.9 30.9h0M193.5 85.4h0M161.3 99.0h0M157.5 112.6h0M210.8 48.6h0M142.3 86.6h0M163.1 82.1h0M143.4 33.5h0M178.0 88.5h0M239.7 27.2h0M160.8 76.8h0M171.2 63.6h0M153.5 103.9h0M233.2 27.4h0M145.0 52.3h0M192.4 74.5h0M221.0 89.1h0M229.5 102.1h0M155.3 91.0h0M239.2 64.9h0M207.2 44.6h0M143.8 66.0h0M232.3 115.1h0M215.3 115.6h0M184.7 31.5h0M207.4 108.6h0M178.6 57.4h0M226.3 27.3h0M155.6 30.3h0M177.9 99.7h0M200.5 127.5h0M213.1 102.9h0M153.3 107.9h0M183.3 60.7h0M188.4 77.7h0M220.0 54.5h0M157.4 52.6h0M224.9 117.4h0M193.5 112.4h0M201.1 31.8h0M148.5 59.6h0M231.4 52.9h0M176.0 109.9h0M183.0 122.6h0M235.7 100.1h0M192.6 65.5h0M180.3 127.8h0M142.4 44.7h0M213.6 99.5h0M189.3 64.8h0M174.5 105.1h0M167.0 107.3h0M150.5 125.4h0M150.1 64.8h0M208.0 67.4h0M239.1 28.4h0M153.3 56.3h0M143.5 93.0h0M143.1 42.4h0M180.6 109.5h0" stroke="#5a0e0e" stroke-width="0.9" stroke-linecap="round" fill="none" opacity="0.9"/>
<path d="M179.8 103.3h0M151.5 63.9h0M196.4 61.6h0M160.2 81.7h0M161.6 110.1h0M199.1 48.7h0M208.5 70.8h0M217.2 105.6h0M214.3 69.4h0M149.0 88.3h0M189.5 113.0h0M234.8 34.1h0M207.9 114.6h0M197.9 115.2h0M170.9 49.7h0M181.3 28.0h0M207.8 70.1h0M237.4 56.0h0M199.0 123.3h0M163.4 98.9h0M142.2 121.8h0M235.2 85.9h0M236.3 96.7h0M179.7 106.1h0M146.5 109.4h0M177.5 61.8h0M238.3 55.8h0M196.6 104.6h0M152.6 84.3h0M174.8 50.0h0M142.2 48.1h0M217.6 118.0h0M140.3 27.6h0M179.4 27.3h0M203.5 42.4h0M145.7 67.9h0M180.3 39.9h0M199.8 47.7h0M151.1 58.4h0M161.1 120.1h0M155.3 33.3h0M153.0 60.6h0M214.6 65.8h0M191.1 87.3h0M207.5 97.0h0M197.8 103.3h0M239.4 38.4h0M168.7 58.0h0M185.1 112.9h0M140.2 32.7h0M219.0 42.3h0M181.3 85.8h0M202.8 36.9h0M153.7 110.6h0M226.8 58.0h0M225.2 62.3h0M186.3 104.2h0M180.6 109.3h0M210.0 44.4h0M165.4 33.8h0M174.4 90.2h0M196.6 52.3h0M191.0 106.5h0M238.8 82.7h0M199.3 113.9h0M139.1 59.2h0M196.7 111.3h0M173.0 119.3h0M186.7 51.3h0M139.2 37.3h0M178.1 104.4h0M151.3 86.6h0M211.6 28.7h0M190.0 42.1h0M215.9 104.9h0M180.2 28.9h0M226.0 92.7h0M165.6 49.4h0M200.2 33.2h0M191.3 31.6h0M180.2 88.9h0M182.3 101.3h0M232.8 40.7h0M224.8 88.8h0M154.2 105.4h0M153.4 34.2h0M232.6 111.6h0M176.2 118.4h0M173.7 116.8h0M168.4 100.0h0M158.5 120.9h0M176.1 72.7h0M140.1 73.5h0M184.2 88.4h0M188.7 70.1h0M191.2 123.4h0M212.0 33.4h0M173.0 72.8h0M183.8 74.8h0M152.3 97.9h0M216.2 34.8h0M178.3 82.1h0M155.3 72.2h0M148.4 94.2h0M140.1 30.5h0M168.5 53.2h0M202.0 120.4h0M212.9 56.1h0M214.8 105.8h0M218.9 59.2h0M214.9 86.0h0M158.9 99.5h0M178.5 118.6h0M158.8 67.7h0M187.7 73.6h0M139.7 45.0h0M236.5 128.2h0M240.2 34.5h0M159.0 36.9h0M204.6 53.2h0M237.9 100.8h0M215.9 78.1h0M196.8 55.9h0M146.8 49.2h0M195.8 72.6h0M164.3 108.9h0M177.7 125.1h0M166.1 101.9h0M239.8 67.5h0M226.8 59.1h0M205.2 41.3h0M231.1 38.2h0M147.3 48.8h0M157.5 123.9h0M223.4 60.9h0M200.2 106.9h0M203.6 117.5h0M217.5 56.4h0M201.3 126.4h0M182.9 38.5h0M159.6 97.9h0M233.9 69.4h0M198.6 35.0h0M200.9 127.4h0M212.1 54.5h0M237.2 53.3h0M197.8 55.9h0M204.1 68.7h0M173.1 81.7h0M219.1 83.8h0M240.2 47.9h0M161.4 92.6h0M209.2 32.0h0M165.4 58.9h0M226.5 87.5h0M196.3 54.9h0M237.3 40.8h0M205.3 87.9h0M197.8 71.8h0M220.8 84.6h0M177.6 79.0h0M195.7 37.1h0M212.7 42.6h0M240.0 105.3h0M213.7 86.1h0M230.0 78.2h0M231.6 83.8h0M209.9 105.5h0M229.6 31.5h0M205.9 86.1h0M229.3 90.1h0M182.7 69.4h0M216.6 125.0h0M237.2 38.8h0M158.4 56.4h0M171.9 50.1h0M229.8 119.0h0M214.2 78.6h0M211.9 75.4h0M166.1 119.4h0M169.8 108.5h0M144.2 46.1h0M164.6 70.3h0M153.2 90.2h0M145.6 43.8h0M139.8 50.9h0M221.7 77.5h0M145.2 72.5h0M208.4 115.7h0M171.3 126.3h0M168.0 81.4h0M148.5 49.6h0M201.0 39.7h0M224.1 114.4h0M164.7 85.3h0M194.7 104.9h0M239.3 76.0h0M206.4 57.8h0M186.1 70.2h0M148.2 36.4h0M211.8 73.8h0M157.3 57.3h0M196.1 112.6h0M140.2 54.1h0M239.0 111.5h0M233.7 38.8h0M218.3 44.1h0M194.8 99.3h0M192.0 121.8h0M171.5 98.9h0M231.6 36.1h0M210.4 35.6h0M202.3 46.1h0M162.1 33.5h0M184.2 104.8h0M191.7 100.4h0M174.8 40.3h0M149.1 27.4h0M143.9 45.8h0M211.3 106.9h0M161.8 79.3h0M151.9 39.1h0M212.3 55.0h0M183.3 86.5h0M172.0 46.6h0M139.8 95.7h0M163.3 124.0h0M141.5 30.9h0M141.3 42.1h0M185.8 84.6h0M162.7 65.0h0M162.3 88.0h0M174.7 68.5h0M188.6 96.8h0M192.4 97.4h0M203.5 118.7h0M193.8 38.8h0M180.8 124.2h0M237.4 98.6h0M190.7 114.3h0M220.6 32.4h0M162.2 120.0h0M162.8 100.8h0M153.6 121.0h0M159.3 123.2h0M162.5 43.4h0M166.1 48.7h0M187.5 51.3h0M235.8 33.8h0M186.5 127.5h0M188.9 94.9h0M197.8 94.8h0M190.0 37.8h0M140.8 98.2h0M150.8 49.2h0M225.1 40.9h0M193.0 70.4h0M196.4 119.8h0M184.7 32.7h0M193.5 69.9h0M203.3 88.4h0M216.0 56.3h0M162.9 114.4h0M189.8 54.9h0M232.2 28.6h0M197.9 32.5h0M224.5 123.7h0M208.5 28.3h0M173.9 124.3h0M239.7 122.0h0M199.7 45.3h0M145.9 73.3h0M161.5 127.2h0M161.8 82.2h0M180.2 47.0h0M152.3 68.0h0M212.5 101.0h0M155.9 98.9h0M163.8 74.1h0M214.7 114.1h0M159.7 117.5h0M227.8 105.7h0M215.0 40.9h0M164.1 76.2h0M181.9 47.0h0M158.5 116.6h0M141.0 121.0h0M217.0 109.1h0M223.6 98.0h0M200.5 126.0h0M222.6 109.9h0M178.9 45.5h0M213.6 107.7h0M157.8 47.2h0M178.3 105.6h0M187.8 64.8h0M161.3 80.4h0M208.7 126.5h0M236.1 33.7h0M238.9 45.6h0M154.8 70.0h0M179.3 66.8h0M205.1 52.6h0M229.8 41.4h0M160.5 81.6h0M140.4 54.0h0M186.6 105.0h0M227.3 128.0h0M229.0 65.2h0M185.4 36.0h0M203.8 71.4h0M140.9 45.3h0M173.9 125.1h0M202.3 108.0h0M190.5 36.8h0M189.7 37.6h0M192.1 79.0h0M215.7 78.4h0M209.7 27.4h0M155.0 103.9h0M151.0 73.7h0M144.7 49.6h0M146.9 119.8h0M139.3 98.7h0M226.6 44.4h0M143.3 128.0h0M233.9 35.4h0M148.1 35.9h0M200.2 113.3h0M235.7 81.2h0M231.4 126.2h0M144.3 117.3h0M212.9 29.9h0M145.9 55.4h0M171.8 73.1h0M234.6 26.7h0M218.6 126.1h0M226.3 73.5h0M192.7 103.6h0M199.6 122.6h0M224.3 61.3h0M153.3 125.3h0M178.5 76.5h0M163.5 103.9h0M181.1 102.1h0M234.3 27.9h0M177.1 42.1h0M170.0 92.9h0M148.4 59.5h0M159.9 74.4h0M150.4 125.1h0M208.1 124.8h0M181.9 39.5h0M209.8 122.1h0M232.5 91.4h0M188.9 96.8h0M142.4 40.8h0M201.9 29.6h0M167.3 31.0h0M221.6 37.5h0M229.0 100.1h0M184.5 53.3h0M164.1 109.1h0M211.4 95.5h0M232.5 102.5h0M150.1 115.0h0M226.2 95.3h0M169.0 44.5h0M159.4 67.0h0M240.3 64.3h0M174.9 61.5h0M200.6 31.6h0M188.5 103.9h0M194.9 50.1h0M156.8 52.0h0M239.0 90.3h0M218.8 85.4h0M139.2 88.6h0M218.0 57.9h0M161.5 58.9h0M216.3 69.4h0M179.6 125.9h0M157.5 70.1h0M208.2 69.7h0M205.0 71.7h0M215.5 32.6h0M194.1 50.5h0M194.9 65.5h0M161.5 125.1h0M204.6 124.7h0M199.5 126.7h0M143.8 50.6h0M224.1 120.1h0M215.7 57.3h0M168.8 93.8h0M139.7 72.4h0M229.3 51.0h0M170.4 124.1h0M199.6 102.6h0M225.4 68.7h0M200.5 127.5h0M216.2 62.8h0M239.7 89.0h0M211.1 73.4h0M151.7 104.8h0M216.8 101.9h0M200.2 73.4h0M189.0 47.6h0M189.7 55.6h0M216.1 117.7h0M220.0 33.0h0M191.3 70.5h0M239.8 58.7h0M151.4 89.3h0M239.0 53.6h0M153.2 114.7h0M190.5 59.0h0M232.0 56.0h0M189.1 65.1h0M156.6 108.6h0M234.5 86.8h0M189.9 53.1h0M215.0 73.5h0M193.1 86.2h0M163.8 41.7h0M236.8 121.4h0M177.1 110.9h0M170.3 32.0h0M228.8 30.2h0M192.9 110.1h0M221.5 83.2h0M223.1 109.4h0M206.5 44.3h0M157.6 30.4h0M156.6 70.8h0M181.0 37.5h0M147.4 109.0h0M179.6 80.2h0M216.3 34.1h0M210.1 115.8h0M219.1 32.4h0M232.8 113.9h0M216.1 42.9h0M216.7 44.1h0M186.3 95.4h0M158.9 94.1h0M230.4 99.6h0M211.3 28.1h0M173.6 55.5h0M233.8 86.6h0M223.5 103.8h0M204.2 93.3h0M207.4 26.8h0M148.4 109.3h0M164.9 77.9h0M210.1 87.4h0M204.3 105.3h0M146.9 73.6h0M175.5 81.6h0M157.7 64.7h0M139.9 99.2h0M201.0 115.3h0M171.7 72.6h0M207.0 69.3h0M208.3 30.8h0M165.9 28.6h0M232.4 100.3h0M151.3 67.8h0M231.6 111.3h0M209.8 44.1h0M235.6 98.9h0M212.6 121.9h0M199.2 88.3h0M143.2 43.9h0M188.0 76.8h0M179.6 38.4h0M228.3 113.0h0M173.1 50.3h0M215.2 122.7h0M166.7 95.2h0M152.8 104.2h0M193.6 43.2h0M164.0 79.5h0M155.7 78.8h0M155.5 36.8h0M228.8 112.5h0M199.8 45.1h0M213.9 30.2h0M190.1 60.7h0M210.5 90.3h0M189.7 98.1h0M227.7 63.0h0M198.2 64.2h0M234.6 122.4h0M237.7 55.4h0M151.1 55.4h0M151.6 68.4h0M158.0 113.1h0M143.5 40.0h0M177.6 109.3h0M222.8 116.9h0M232.5 44.7h0M168.0 93.6h0M230.0 108.6h0M162.9 99.1h0M159.8 76.5h0M184.9 69.0h0M209.3 57.1h0M221.6 70.3h0M192.7 28.4h0M142.0 82.5h0M187.2 114.0h0M140.9 99.5h0M213.1 65.0h0M199.1 92.2h0M198.4 38.4h0M167.3 66.8h0M237.4 100.5h0M189.6 123.3h0M235.0 105.4h0M208.9 79.6h0M145.6 124.7h0M163.1 85.1h0M200.2 62.2h0M210.8 49.0h0M191.6 36.1h0M212.4 121.4h0M167.0 60.7h0M182.3 48.8h0M204.4 32.7h0M239.0 71.8h0M205.7 36.4h0M178.4 118.3h0M159.5 108.3h0M224.5 46.0h0M199.7 35.1h0M194.0 97.9h0M191.4 60.4h0M151.0 125.8h0M225.6 44.9h0M147.1 44.4h0M161.2 57.4h0M212.3 96.2h0M187.6 92.8h0M194.3 57.8h0M216.8 85.2h0M239.1 97.8h0M218.8 106.1h0M160.9 46.1h0M232.8 95.5h0M169.0 27.8h0M150.5 63.3h0M167.3 32.3h0M143.1 104.3h0M206.0 68.7h0M159.0 78.0h0M214.7 56.1h0M228.4 43.3h0M179.4 107.1h0M149.3 87.3h0M149.9 81.8h0M204.2 108.5h0M182.2 59.7h0M212.4 47.4h0M202.5 102.6h0M235.2 110.0h0M143.7 73.3h0M151.7 76.1h0M182.2 119.0h0M226.7 110.5h0M229.4 39.5h0M176.8 88.1h0M223.0 82.7h0M236.0 93.3h0M234.4 78.9h0M162.5 35.7h0M139.9 100.0h0M168.3 43.1h0M155.9 84.9h0M213.3 90.7h0M170.0 86.2h0M153.4 110.6h0M168.9 43.5h0M214.3 115.7h0M141.4 97.5h0M238.1 111.9h0M147.8 85.5h0M139.4 28.2h0M165.7 38.9h0M158.3 110.2h0M180.2 49.3h0M167.9 54.0h0M228.0 82.1h0M222.7 55.0h0M239.1 89.1h0M185.0 73.6h0M236.9 70.5h0M209.3 115.9h0M217.0 105.3h0M164.4 49.8h0M192.6 54.9h0M211.1 114.9h0M209.7 66.2h0M238.3 46.0h0M235.9 101.5h0M182.1 83.7h0M194.0 53.1h0M149.1 42.5h0M231.8 59.9h0M175.8 55.5h0M187.1 34.0h0M235.4 123.1h0M155.5 72.8h0M187.2 87.8h0M201.3 102.6h0M183.7 43.0h0M208.7 121.8h0M239.0 119.1h0M158.2 28.6h0M207.9 62.3h0M221.7 79.2h0M147.0 101.6h0M148.3 80.8h0M205.4 122.2h0M153.3 120.8h0M151.5 119.2h0M143.8 33.8h0M174.1 84.7h0M224.6 52.7h0M232.6 99.2h0M218.3 63.8h0M192.2 114.8h0M201.0 73.3h0M206.3 90.9h0M141.5 36.2h0M149.5 43.0h0M203.2 66.9h0M208.3 92.1h0M216.8 110.4h0M221.2 91.0h0M206.6 114.9h0M176.8 113.1h0M223.5 26.6h0M235.1 128.1h0M156.8 46.3h0M191.6 96.9h0M183.9 94.8h0M205.0 80.1h0M236.5 78.0h0M156.2 50.0h0M193.9 63.3h0M209.1 86.5h0M221.4 89.3h0M214.2 70.3h0M140.5 94.4h0M217.6 108.0h0M139.6 46.5h0M223.5 28.5h0M203.6 102.2h0M142.0 120.8h0M156.9 80.9h0M221.0 65.5h0M231.8 117.5h0M216.1 76.6h0M234.3 71.9h0M198.6 122.5h0M139.8 34.0h0M204.7 92.3h0M171.0 38.1h0M176.0 95.6h0M222.1 29.5h0M184.3 64.8h0M194.1 67.8h0M233.2 63.6h0M151.2 95.4h0M142.7 109.7h0M205.7 33.6h0M169.4 43.6h0M203.8 44.0h0M164.0 123.3h0M183.0 80.9h0M226.5 119.1h0M204.2 112.7h0M146.3 75.5h0M211.2 104.5h0M187.2 76.2h0M167.4 111.5h0M180.1 67.6h0M166.7 97.2h0M179.3 117.8h0M216.7 43.5h0M148.8 68.6h0M216.9 122.1h0M233.8 122.0h0M227.7 69.8h0M156.5 96.9h0M232.9 39.5h0M152.1 109.1h0M224.5 115.1h0M227.0 58.9h0M226.3 106.3h0M172.7 52.0h0M232.1 123.0h0M225.6 95.8h0M208.1 70.0h0M183.4 36.2h0M212.8 38.6h0M236.9 83.6h0M228.1 102.7h0M148.2 78.8h0M233.0 73.8h0M228.1 91.3h0M234.4 83.6h0M204.2 94.8h0M163.0 111.1h0M190.8 49.7h0M236.6 103.4h0M152.2 123.0h0M192.0 62.0h0M222.8 87.3h0M205.0 94.9h0M233.7 96.7h0M232.9 69.0h0M190.7 63.7h0M178.5 81.2h0M185.3 120.6h0M229.3 80.7h0M179.0 57.3h0M185.2 111.9h0M194.2 36.6h0M200.1 60.8h0M205.1 115.9h0M179.8 123.4h0M186.2 32.6h0M189.5 91.9h0M172.4 45.1h0M205.1 43.4h0M174.3 37.4h0M182.7 43.7h0M177.0 60.7h0M172.2 46.2h0M233.4 89.2h0M187.9 41.4h0M149.2 50.9h0M168.1 34.2h0M158.4 73.3h0M235.5 46.7h0M217.1 57.7h0M148.3 126.3h0M153.0 71.6h0M179.2 35.2h0M212.1 103.7h0M193.2 78.6h0M210.8 90.0h0M161.2 29.5h0M211.1 86.4h0M178.7 127.4h0M177.2 90.0h0M163.2 49.9h0M145.1 65.4h0M206.2 98.3h0M235.5 77.3h0M141.9 127.5h0M208.6 70.0h0M177.5 104.7h0M224.0 90.1h0M208.4 52.7h0M188.2 39.6h0M236.6 62.4h0M179.4 28.9h0M146.1 66.5h0M177.3 113.1h0M239.7 102.1h0M188.8 50.6h0M221.9 108.4h0M155.2 42.1h0M227.2 53.8h0M158.8 121.5h0M190.6 37.7h0M190.7 64.9h0M167.7 101.9h0M218.3 89.9h0M200.0 121.0h0M146.1 40.6h0M216.3 68.9h0M202.9 97.5h0M180.7 75.6h0M235.2 48.4h0M197.5 94.1h0M175.9 79.0h0M154.2 57.1h0M157.9 68.1h0M199.8 100.7h0M172.1 95.1h0M226.6 62.3h0M142.9 70.6h0M240.1 74.4h0M233.5 105.4h0M203.4 74.3h0M183.3 123.6h0M162.6 64.6h0M179.3 101.8h0M189.6 67.4h0M232.7 121.0h0M208.4 59.5h0M176.0 80.6h0M166.2 37.4h0M198.4 81.2h0M159.6 32.7h0M199.6 45.9h0M166.6 114.6h0M184.6 122.2h0M195.4 44.1h0M224.9 27.6h0M215.9 77.0h0M167.0 44.9h0M210.5 123.1h0M184.5 27.4h0M174.1 39.0h0M194.5 79.5h0M201.8 98.2h0M161.8 55.8h0M181.5 95.9h0M140.5 42.0h0M221.9 87.5h0M187.3 81.9h0M196.6 110.5h0M193.4 40.6h0M208.0 43.3h0M193.8 77.9h0M227.2 92.0h0M185.0 90.0h0M185.0 114.6h0M209.1 65.1h0M146.4 117.8h0M220.8 88.1h0M212.6 118.3h0M227.4 127.4h0M189.7 67.8h0M147.8 74.2h0M178.2 121.4h0M230.8 102.8h0M164.8 108.9h0M189.8 65.3h0M236.9 97.5h0M175.2 63.8h0M188.4 48.5h0M179.3 53.8h0M152.2 96.4h0M171.7 113.1h0M167.3 92.2h0M162.0 52.1h0M207.1 80.4h0M181.0 44.7h0M195.8 85.0h0M178.3 70.2h0M216.3 38.0h0M175.5 101.0h0M174.7 43.2h0M171.4 26.5h0M212.5 37.1h0M167.6 80.1h0M187.5 37.2h0M195.9 35.9h0M214.1 118.9h0M230.5 99.0h0M171.2 48.4h0M214.2 81.1h0M214.1 112.0h0M144.1 106.1h0M161.7 37.2h0M225.7 108.0h0M178.9 117.9h0M192.8 28.8h0M153.1 108.8h0M152.0 55.9h0M154.1 35.4h0M181.3 64.0h0M236.5 84.0h0M193.6 82.5h0M199.0 71.1h0M182.5 106.9h0M214.3 73.7h0M144.2 127.3h0M184.6 122.0h0M177.7 98.8h0M174.6 121.2h0M231.9 35.0h0M207.7 72.8h0M210.6 113.2h0M154.9 86.7h0M210.9 122.2h0M157.4 59.9h0M140.5 45.3h0M235.3 113.2h0M213.5 77.0h0M185.4 93.5h0M143.3 94.0h0M166.5 72.7h0M230.1 94.4h0M144.8 98.6h0M210.2 76.0h0M141.1 27.7h0M196.7 69.9h0M194.8 89.5h0M224.3 50.9h0M159.0 65.4h0M230.3 108.5h0M209.7 98.7h0M231.1 82.1h0M235.2 93.4h0M201.6 96.9h0M236.6 46.5h0M189.4 56.3h0M211.0 112.4h0M141.9 27.0h0M184.8 91.2h0M203.4 108.3h0M195.7 113.0h0M171.3 126.7h0M140.2 64.3h0M227.4 26.7h0M157.5 51.3h0M204.1 43.8h0M152.9 84.8h0M192.9 41.0h0M218.2 104.7h0M209.8 35.2h0M145.1 119.3h0M230.5 73.9h0M184.2 113.5h0M204.2 40.5h0M236.2 70.7h0M152.7 124.8h0M147.6 70.1h0M232.0 29.6h0M166.0 59.2h0M233.5 29.6h0M159.3 45.1h0M223.2 31.5h0M218.5 46.1h0M218.4 81.8h0M190.6 79.9h0M197.7 103.6h0M159.3 55.0h0M179.1 111.9h0M222.0 49.8h0M232.6 93.3h0M231.7 70.2h0M153.2 90.5h0M204.9 114.9h0M149.5 51.3h0M177.2 27.8h0M210.1 119.5h0M197.4 107.4h0M219.5 89.5h0M227.4 82.1h0M190.2 46.4h0M231.8 41.0h0M208.7 28.6h0M140.3 126.9h0M149.8 48.4h0M175.9 111.3h0M217.4 117.8h0M218.2 32.0h0M226.9 112.2h0M151.0 77.8h0M194.0 100.6h0M184.3 69.7h0M160.1 115.1h0M223.5 28.3h0M195.4 33.4h0M216.5 76.7h0M153.4 117.8h0M174.3 105.3h0M168.7 63.9h0M162.5 57.0h0M222.9 45.6h0M194.8 120.2h0M149.8 115.9h0M175.3 124.4h0M228.2 115.1h0M230.8 42.7h0M188.0 33.5h0M148.8 93.3h0M191.1 91.9h0M194.3 82.5h0M197.3 63.5h0M224.3 111.3h0M210.1 124.5h0M160.3 83.5h0M153.0 75.2h0M203.2 36.1h0M185.0 104.1h0M235.1 120.0h0M225.1 64.0h0M140.0 104.2h0M161.1 123.1h0M222.7 98.9h0M198.5 70.4h0M168.4 45.0h0M214.5 114.7h0M201.6 62.9h0M164.6 59.0h0M188.6 53.7h0M219.8 84.5h0M162.1 99.5h0M181.2 107.0h0M148.8 97.0h0M217.9 72.0h0M148.3 82.4h0M226.0 102.9h0M194.8 123.9h0M200.6 116.9h0M184.2 31.7h0M201.9 120.8h0M201.8 58.8h0M185.2 28.8h0M214.3 58.1h0M141.2 35.2h0M225.0 99.3h0M164.1 83.1h0M172.0 29.3h0M142.8 36.5h0M140.8 101.9h0M159.1 112.7h0M208.7 51.0h0M210.9 110.7h0M164.6 60.0h0M218.6 36.2h0M154.3 51.0h0M155.5 74.8h0M183.4 53.3h0M187.7 52.5h0M154.7 89.8h0M141.0 50.7h0M140.8 51.3h0M211.6 73.4h0M231.0 115.5h0M140.9 27.6h0M172.1 105.2h0M168.0 126.2h0M229.7 62.5h0M227.9 29.7h0M141.5 122.9h0M228.5 93.7h0M201.8 53.5h0M153.0 30.6h0M198.1 93.9h0M158.9 60.0h0M187.8 124.5h0M181.5 52.3h0M222.8 39.1h0M183.0 36.8h0M211.6 127.7h0M214.2 49.7h0M191.2 44.0h0M202.7 87.1h0M224.4 89.0h0M164.0 118.8h0M175.1 114.9h0M195.4 58.1h0M152.5 85.3h0M179.5 115.8h0M144.6 43.4h0M180.6 68.0h0M212.9 109.1h0M177.9 73.4h0M197.5 37.9h0M144.2 80.3h0M202.4 31.3h0M213.8 31.3h0M218.2 126.7h0M192.6 102.4h0M162.9 102.6h0M205.9 108.2h0M175.7 103.9h0M139.4 91.5h0M224.9 82.1h0M235.0 86.9h0M162.5 46.6h0M140.4 103.1h0M215.2 101.2h0M234.2 46.3h0M231.7 67.0h0M190.0 27.2h0M179.2 29.8h0M237.5 36.1h0M208.4 115.9h0M148.3 83.3h0M190.2 104.7h0M199.1 44.2h0M176.8 68.6h0M179.7 128.1h0M216.5 109.2h0M190.4 116.7h0M165.7 76.4h0M153.4 75.4h0M168.2 92.5h0M185.2 57.3h0M140.4 75.8h0M227.2 104.1h0M229.1 59.2h0M180.0 51.0h0M171.1 32.9h0M212.7 80.7h0M197.2 64.7h0M149.4 127.1h0M143.1 90.6h0M221.1 41.8h0M170.5 61.4h0M157.1 104.4h0M207.2 48.3h0M214.7 84.8h0M203.8 76.9h0M139.9 41.1h0M204.1 57.6h0M173.0 58.5h0M162.8 87.7h0M217.3 92.6h0M149.1 90.7h0M191.9 128.1h0M196.0 66.7h0M192.7 48.6h0M145.1 115.9h0M228.9 58.0h0M188.8 57.2h0M143.5 100.5h0M202.6 67.2h0M202.0 48.3h0M199.6 69.0h0M141.5 64.3h0M198.2 114.0h0M198.9 109.5h0M187.7 69.9h0M231.8 51.9h0M149.5 35.8h0M217.3 80.5h0M211.1 32.9h0M229.6 38.5h0M141.2 46.2h0M161.5 115.2h0M173.2 41.1h0M216.2 46.0h0M155.2 58.0h0M205.8 81.6h0M214.5 87.9h0M216.6 42.6h0M146.8 64.3h0M240.3 97.4h0M185.8 107.4h0M202.6 26.7h0M235.5 57.3h0M165.7 123.4h0M175.3 32.4h0M176.7 77.4h0M228.9 98.9h0M159.4 84.2h0M152.5 87.6h0M219.1 41.7h0M231.5 109.2h0M180.9 114.9h0M167.2 72.9h0M232.8 43.5h0M218.5 53.8h0M164.0 73.4h0M147.8 99.3h0M141.3 80.3h0M238.3 121.6h0M158.3 127.0h0M236.3 70.9h0M237.0 48.2h0M175.1 99.4h0M181.8 81.1h0M205.2 89.0h0M199.8 46.6h0M220.9 119.6h0M175.9 109.2h0M225.9 117.7h0M180.9 122.8h0M175.4 123.2h0M155.6 72.2h0M208.0 66.6h0M149.8 107.7h0M196.4 87.8h0M172.1 100.2h0M140.4 61.2h0M182.4 41.1h0M222.0 119.3h0M219.4 30.6h0M167.2 93.7h0M141.6 50.9h0M233.0 122.5h0M219.5 39.3h0M209.7 105.0h0M180.4 91.3h0M187.8 31.8h0M186.0 69.1h0M159.6 118.9h0M162.9 83.7h0M157.0 114.3h0M174.1 27.6h0M186.4 106.0h0M187.3 107.7h0M150.9 46.1h0M181.4 36.6h0M149.5 105.5h0M144.0 55.8h0M154.3 29.0h0M216.2 47.2h0M157.1 127.2h0M160.7 113.5h0M208.7 100.3h0M168.9 42.4h0M141.8 100.7h0M190.3 127.3h0M172.9 43.3h0M202.7 98.8h0M210.5 49.4h0M164.7 36.0h0M227.0 127.1h0M167.2 126.0h0M144.6 26.9h0M212.1 35.2h0M226.9 112.0h0M220.2 27.9h0M149.1 35.1h0M226.2 30.3h0M179.9 36.7h0M140.5 43.9h0M154.7 119.4h0M154.7 46.4h0M168.0 83.0h0M208.3 66.7h0M234.4 51.2h0M165.7 105.1h0M183.6 65.9h0M180.7 83.2h0M141.4 127.1h0M170.3 83.5h0M171.8 94.5h0M194.6 115.9h0M221.1 117.9h0M212.4 109.2h0M223.3 126.8h0M139.7 68.9h0M205.9 78.5h0M232.6 67.8h0M170.9 115.2h0M191.8 78.1h0M144.7 66.2h0M221.0 54.4h0M189.8 85.9h0M167.5 92.7h0M223.8 111.3h0M210.0 103.9h0M212.7 47.1h0M191.3 40.3h0M219.0 124.5h0M225.9 37.7h0M168.5 41.0h0M211.4 87.6h0M142.9 34.4h0M223.6 86.4h0M226.0 38.8h0M164.7 98.1h0M219.0 116.9h0M173.2 98.6h0M230.4 102.3h0M192.5 85.6h0M198.9 81.4h0M196.3 31.3h0M143.2 80.2h0M141.0 60.6h0M201.1 118.5h0M201.1 113.8h0M141.6 112.9h0M147.6 111.6h0M154.6 93.1h0M151.5 114.4h0M185.9 45.0h0M199.1 125.1h0M154.5 101.3h0M222.8 84.4h0M203.0 122.3h0M139.5 121.3h0M224.1 74.5h0M232.6 107.6h0M192.1 120.5h0M148.8 39.2h0M200.6 77.5h0M149.3 27.1h0M205.0 54.3h0M202.0 68.5h0M191.3 125.4h0M171.0 123.6h0M219.4 85.6h0M204.8 83.3h0M214.0 97.2h0M163.6 35.2h0M200.3 53.7h0M164.3 91.5h0M152.5 80.2h0M151.8 97.8h0M178.6 45.8h0M235.5 41.0h0M150.8 73.5h0M157.9 68.4h0M153.5 48.4h0M198.9 38.1h0M170.4 105.0h0M171.7 99.3h0M224.5 78.5h0M161.1 118.9h0M158.7 113.8h0M150.0 116.2h0M148.8 45.7h0M197.8 82.6h0M221.4 108.9h0M215.4 82.0h0M225.9 104.6h0M184.2 33.4h0M196.9 93.7h0M154.7 79.3h0M218.7 105.6h0M142.4 107.7h0M175.9 26.6h0M165.2 98.2h0M222.0 112.7h0M148.6 91.5h0M196.3 61.9h0M235.0 115.4h0M232.5 51.2h0M237.6 95.2h0M216.5 55.8h0M184.3 118.3h0M222.5 28.0h0M175.3 73.3h0M214.0 49.4h0M212.6 48.7h0M187.7 90.5h0M167.4 57.0h0M240.4 93.5h0M164.7 65.1h0M176.3 114.0h0M153.9 75.7h0M239.9 36.1h0M149.3 79.7h0M231.1 124.8h0M204.4 78.0h0M165.3 58.6h0M209.5 110.3h0M218.5 117.0h0M213.1 30.8h0M151.3 50.2h0M140.8 101.1h0M234.4 56.5h0M172.7 123.4h0M230.4 109.6h0M166.9 65.7h0M201.5 79.6h0M162.1 115.9h0M212.6 115.5h0M169.4 51.0h0M237.0 64.0h0M172.5 41.1h0M227.5 115.7h0M180.6 83.8h0M210.2 88.9h0M148.1 98.2h0M177.2 31.5h0M226.2 38.5h0M206.8 41.0h0M193.7 120.8h0M180.1 64.7h0M210.7 39.0h0M179.0 31.4h0M168.8 93.6h0M146.3 123.9h0M174.6 47.8h0M157.0 66.9h0M145.0 93.3h0M217.5 81.6h0M182.6 122.8h0M173.7 48.8h0M164.3 126.7h0M141.0 81.4h0M202.1 98.9h0M155.6 63.5h0M212.2 82.4h0M174.7 95.7h0M141.8 113.0h0M198.1 77.0h0M156.2 35.1h0M199.7 31.3h0M178.0 112.4h0M231.0 49.4h0M224.4 38.5h0M189.7 41.8h0M226.4 72.4h0" stroke="#8a1414" stroke-width="1.0" stroke-linecap="round" fill="none" opacity="0.9"/>
<path d="M195.9 116.4h0M200.9 97.6h0M203.0 99.2h0M198.7 45.3h0M207.3 77.1h0M230.1 100.8h0M192.3 118.2h0M232.7 39.4h0M182.7 51.1h0M166.5 42.5h0M208.0 42.1h0M218.8 112.0h0M208.4 79.3h0M167.0 116.2h0M176.0 60.1h0M142.4 68.5h0M207.9 127.7h0M157.9 27.9h0M196.4 54.9h0M172.9 103.1h0M233.3 120.2h0M151.0 56.3h0M147.1 115.6h0M201.1 49.7h0M146.7 80.6h0M162.1 50.0h0M156.0 102.1h0M161.1 84.5h0M237.7 43.2h0M192.6 123.0h0M211.7 34.3h0M156.5 126.5h0M206.7 46.1h0M158.6 106.6h0M159.8 44.3h0M213.0 113.4h0M175.0 28.7h0M181.1 81.1h0M209.8 117.4h0M238.6 32.2h0M195.9 96.8h0M142.7 89.6h0M157.5 121.1h0M230.9 100.9h0M168.6 89.9h0M178.9 120.3h0M150.3 91.3h0M223.9 73.9h0M235.2 60.7h0M173.3 82.1h0M220.9 56.8h0M210.0 93.0h0M186.9 85.5h0M236.0 73.8h0M155.6 71.9h0M209.5 109.5h0M196.5 48.2h0M177.9 112.1h0M236.6 125.6h0M140.2 118.9h0M178.8 93.9h0M179.5 76.6h0M191.0 35.4h0M189.6 79.7h0M207.3 115.9h0M186.9 30.1h0M180.5 80.5h0M238.3 53.4h0M202.0 103.2h0M226.5 74.2h0M199.9 87.1h0M236.3 107.2h0M202.5 51.4h0M210.4 104.3h0M223.3 112.8h0M221.7 26.5h0M171.7 102.7h0M186.6 65.6h0M144.5 100.9h0M186.5 79.8h0M147.6 113.7h0M237.2 74.1h0M216.5 28.3h0M193.1 118.4h0M169.2 67.0h0M196.5 53.1h0M196.6 79.7h0M152.9 58.3h0M168.5 49.5h0M234.2 41.0h0M238.9 52.7h0M208.0 76.2h0M147.8 66.3h0M197.9 33.1h0M145.5 91.2h0M203.9 96.5h0M162.6 105.9h0M205.0 74.5h0M234.7 102.3h0M230.1 96.3h0M179.1 42.1h0M233.4 28.5h0M214.4 102.8h0M224.1 32.4h0M172.0 39.3h0M148.5 54.3h0M165.2 109.3h0M186.0 50.5h0M141.8 90.7h0M239.3 64.7h0M197.3 90.2h0M168.1 82.8h0M155.9 89.0h0M240.6 65.3h0M152.6 84.2h0M215.7 30.1h0M156.1 119.3h0M171.4 99.1h0M219.0 83.5h0M185.8 71.8h0M235.7 113.0h0M220.3 32.5h0M200.9 34.2h0M192.4 52.9h0M232.5 32.4h0M207.1 41.4h0M219.0 64.5h0M206.6 52.0h0M165.6 46.4h0M238.9 96.2h0M240.0 82.3h0M165.4 52.4h0M215.1 97.0h0M201.3 114.8h0M166.4 63.6h0M156.0 52.3h0M220.7 94.9h0M211.1 121.0h0M237.8 50.5h0M152.7 37.4h0M222.1 98.0h0M196.9 85.1h0M213.3 90.2h0M160.0 105.7h0M150.0 55.3h0M221.4 120.0h0M205.8 56.2h0M211.5 30.7h0M176.5 84.0h0M195.1 29.7h0M190.4 72.3h0M221.0 99.4h0M186.2 66.9h0M230.1 82.7h0M230.3 58.9h0M191.0 50.2h0M176.3 56.5h0M190.7 122.2h0M201.5 51.0h0M173.8 112.2h0M227.6 44.1h0M169.8 34.6h0M167.1 95.5h0M189.5 68.4h0M166.1 71.7h0M188.9 107.8h0M205.1 101.4h0M202.8 52.4h0M140.9 61.8h0M153.3 87.3h0M142.7 113.4h0M152.9 48.0h0M195.2 35.7h0M192.4 72.1h0M164.8 61.0h0M211.4 101.4h0M140.3 51.3h0M177.5 31.3h0M146.5 53.6h0M198.6 98.2h0M189.8 57.2h0M140.6 116.3h0M234.4 120.2h0M205.8 116.5h0M210.8 83.9h0M175.0 95.6h0M176.5 90.1h0M185.0 97.4h0M188.9 73.3h0M197.6 66.4h0M209.2 43.8h0M200.7 76.3h0M201.9 123.3h0M181.3 95.4h0M232.7 58.6h0M227.3 75.4h0M165.3 64.1h0M218.7 121.9h0M157.4 70.5h0M235.0 72.1h0M217.8 66.7h0M164.9 111.0h0M205.7 123.3h0M205.4 99.5h0M228.1 54.0h0M212.8 61.9h0M175.9 67.5h0M171.5 30.0h0M206.2 95.3h0M157.6 63.3h0M155.3 29.0h0M141.5 96.9h0M173.4 47.6h0M147.6 113.5h0M203.1 33.9h0M153.9 105.5h0M216.0 34.6h0M206.4 93.4h0M199.2 28.6h0M151.0 113.7h0M198.5 68.1h0M235.5 91.6h0M203.8 81.3h0M165.7 127.7h0M200.4 101.8h0M193.1 103.4h0M158.1 114.9h0M187.2 48.8h0M142.7 57.3h0M221.1 28.4h0M212.0 36.7h0M183.3 106.0h0M229.2 97.7h0M211.6 94.3h0M218.6 71.2h0M218.4 72.9h0M213.9 30.7h0M199.7 125.4h0M240.6 51.2h0M224.6 50.5h0M171.0 37.7h0M146.9 29.3h0M209.9 35.2h0M143.1 127.5h0M144.0 73.4h0M231.3 93.1h0M189.6 72.3h0M199.1 41.5h0M195.6 105.9h0M184.2 87.9h0M202.0 84.1h0M198.2 33.9h0M212.4 121.3h0M175.1 113.5h0M166.7 77.2h0M158.5 28.4h0M166.5 57.7h0M171.7 98.2h0M201.5 69.8h0M186.8 98.4h0M235.5 87.3h0M185.0 26.8h0M171.9 110.5h0M147.6 59.9h0M229.4 102.2h0M175.1 49.1h0M200.7 88.7h0M168.9 49.6h0M201.6 121.1h0M146.9 67.3h0M204.7 127.7h0M220.6 78.2h0M181.3 54.6h0M195.0 87.7h0M220.1 102.7h0M192.9 124.1h0M191.5 93.8h0M179.4 46.5h0M191.1 35.6h0M153.3 83.1h0M159.4 122.8h0M178.1 118.7h0M195.0 91.1h0M146.6 116.6h0M223.9 123.3h0M185.5 99.4h0M198.0 124.7h0M141.5 123.6h0M201.7 79.2h0M158.3 91.2h0M202.3 107.5h0M238.5 39.3h0M183.4 108.4h0M239.7 95.8h0M178.7 27.6h0M186.8 87.4h0M230.7 60.3h0M212.4 61.3h0M224.9 52.4h0M232.3 109.1h0M149.7 110.0h0M169.6 112.2h0M139.3 111.2h0M169.4 49.7h0M214.6 34.7h0M160.8 63.4h0M141.2 43.6h0M157.1 125.0h0M156.3 32.4h0M150.1 52.7h0M170.4 34.0h0M199.7 64.0h0M159.6 85.5h0M215.1 39.7h0M203.7 99.1h0M203.5 99.8h0M172.6 102.7h0M228.5 88.0h0M183.9 112.2h0M172.6 28.5h0M174.4 37.7h0M216.0 74.5h0M215.3 87.4h0M151.9 31.0h0M233.5 56.4h0M203.7 79.1h0M157.2 93.4h0M203.5 90.3h0M193.9 100.4h0M240.0 48.3h0M161.0 72.6h0M231.5 79.9h0M201.1 127.3h0M178.6 31.5h0M187.9 47.9h0M192.8 90.9h0M173.6 107.0h0M189.9 29.9h0M185.9 66.3h0M145.9 107.9h0M212.2 95.3h0M187.1 80.2h0M225.2 74.2h0M209.5 87.7h0M145.9 71.5h0M195.4 72.3h0M186.0 109.2h0M167.4 69.3h0M236.4 90.6h0M176.5 108.6h0M197.5 63.1h0M196.1 112.5h0M234.6 105.5h0M174.5 33.9h0M167.3 81.9h0M232.6 63.4h0M187.8 98.7h0M186.1 68.1h0M146.0 106.1h0M232.4 127.1h0M185.5 124.2h0M222.3 51.2h0M207.5 64.5h0M176.1 31.2h0M163.0 98.7h0M240.4 61.9h0M172.1 117.5h0M235.2 65.0h0M157.7 103.5h0M220.5 33.8h0M156.0 113.3h0M194.2 48.8h0M238.2 107.0h0M191.8 42.6h0M197.4 83.2h0M233.0 87.4h0M144.1 84.1h0M185.3 111.5h0M151.7 85.3h0M168.7 98.2h0M216.5 92.6h0M155.4 96.2h0M193.4 45.7h0M190.8 35.2h0M180.9 76.7h0M143.0 27.3h0M156.6 41.5h0M208.1 83.7h0M160.0 31.0h0M187.7 64.4h0M143.4 122.5h0M157.8 39.0h0M226.9 115.1h0M229.8 26.9h0M145.6 89.8h0M221.9 31.2h0M209.1 33.5h0M171.1 113.8h0M212.8 28.7h0M217.2 48.2h0M222.6 59.3h0M151.2 71.1h0M220.0 31.2h0M225.4 67.0h0M227.4 61.9h0M231.9 127.5h0M214.8 52.0h0M179.4 109.9h0M208.0 111.3h0M239.3 73.3h0M167.0 123.7h0M219.6 45.2h0M141.5 65.6h0M151.6 117.6h0M193.4 112.4h0M199.4 79.4h0M233.3 59.8h0M160.3 61.1h0M186.1 84.7h0M168.3 46.4h0M225.5 100.9h0M213.1 82.1h0M139.9 94.9h0M142.9 91.9h0M149.3 46.8h0M195.6 104.4h0M231.9 28.7h0M152.8 59.1h0M195.1 95.6h0M174.1 104.9h0M227.8 103.4h0M217.2 45.3h0M233.0 89.2h0M172.6 104.3h0M200.6 110.8h0M193.7 87.5h0M176.3 63.1h0M161.2 56.1h0M146.2 52.6h0M215.2 87.2h0M204.2 124.2h0M165.5 78.3h0M229.7 54.1h0M227.5 88.3h0M223.5 28.8h0M143.5 119.1h0M226.3 29.5h0M172.1 116.6h0M145.3 92.2h0M166.6 54.2h0M206.5 86.1h0M229.0 72.9h0M160.3 122.1h0M148.5 70.9h0M195.0 48.2h0M180.0 72.9h0M224.6 108.9h0M170.8 79.4h0M211.1 87.7h0M228.5 88.7h0M151.5 74.2h0M157.5 28.7h0M186.2 36.5h0M188.8 106.6h0M158.4 82.4h0M234.7 74.5h0M144.9 106.8h0M229.8 64.1h0M175.2 85.1h0M167.6 119.0h0M161.3 125.9h0M193.5 81.8h0M166.2 89.1h0M150.4 26.7h0M236.3 27.7h0M182.7 47.3h0M231.5 119.3h0M139.1 83.7h0M143.2 32.8h0M230.6 125.8h0M216.5 79.6h0M204.2 62.5h0M161.8 67.0h0M151.0 118.4h0M236.6 28.7h0M140.7 27.9h0M199.1 52.9h0M191.1 67.2h0M181.4 90.3h0M238.6 37.7h0M141.4 87.3h0M229.3 65.6h0M181.3 121.6h0M142.3 112.2h0M149.2 97.3h0M238.4 67.2h0M197.7 78.6h0M196.9 47.2h0M157.5 62.6h0M164.5 108.6h0" stroke="#c01c1c" stroke-width="1.0" stroke-linecap="round" fill="none" opacity="0.9"/>
<g filter="url(#blur2)">
<rect x="150.2" y="27.5" width="8.2" height="8.2" fill="#467c2c" opacity="0.50"/>
<rect x="160.3" y="27.5" width="8.2" height="8.2" fill="#467c2c" opacity="0.50"/>
<rect x="170.5" y="27.5" width="8.2" height="8.2" fill="#467c2c" opacity="0.35"/>
<rect x="180.6" y="27.5" width="8.2" height="8.2" fill="#467c2c" opacity="0.20"/>
<rect x="190.8" y="27.5" width="8.2" height="8.2" fill="#467c2c" opacity="0.35"/>
<rect x="201.0" y="27.5" width="8.2" height="8.2" fill="#467c2c" opacity="0.50"/>
<rect x="231.4" y="27.5" width="8.2" height="8.2" fill="#467c2c" opacity="0.50"/>
<rect x="140.0" y="37.7" width="8.2" height="8.2" fill="#467c2c" opacity="0.35"/>
<rect x="150.2" y="37.7" width="8.2" height="8.2" fill="#467c2c" opacity="0.35"/>
<rect x="160.3" y="37.7" width="8.2" height="8.2" fill="#467c2c" opacity="0.50"/>
<rect x="170.5" y="37.7" width="8.2" height="8.2" fill="#467c2c" opacity="0.35"/>
<rect x="180.6" y="37.7" width="8.2" height="8.2" fill="#467c2c" opacity="0.20"/>
<rect x="190.8" y="37.7" width="8.2" height="8.2" fill="#467c2c" opacity="0.50"/>
<rect x="201.0" y="37.7" width="8.2" height="8.2" fill="#467c2c" opacity="0.35"/>
<rect x="231.4" y="37.7" width="8.2" height="8.2" fill="#467c2c" opacity="0.50"/>
<rect x="140.0" y="47.8" width="8.2" height="8.2" fill="#467c2c" opacity="0.35"/>
<rect x="160.3" y="47.8" width="8.2" height="8.2" fill="#467c2c" opacity="0.20"/>
<rect x="180.6" y="47.8" width="8.2" height="8.2" fill="#467c2c" opacity="0.35"/>
<rect x="190.8" y="47.8" width="8.2" height="8.2" fill="#467c2c" opacity="0.35"/>
<rect x="201.0" y="47.8" width="8.2" height="8.2" fill="#467c2c" opacity="0.35"/>
<rect x="231.4" y="47.8" width="8.2" height="8.2" fill="#467c2c" opacity="0.50"/>
<rect x="140.0" y="58.0" width="8.2" height="8.2" fill="#467c2c" opacity="0.35"/>
<rect x="150.2" y="58.0" width="8.2" height="8.2" fill="#467c2c" opacity="0.50"/>
<rect x="160.3" y="58.0" width="8.2" height="8.2" fill="#467c2c" opacity="0.20"/>
<rect x="180.6" y="58.0" width="8.2" height="8.2" fill="#467c2c" opacity="0.35"/>
<rect x="190.8" y="58.0" width="8.2" height="8.2" fill="#467c2c" opacity="0.20"/>
<rect x="201.0" y="58.0" width="8.2" height="8.2" fill="#467c2c" opacity="0.50"/>
<rect x="211.1" y="58.0" width="8.2" height="8.2" fill="#467c2c" opacity="0.20"/>
<rect x="231.4" y="58.0" width="8.2" height="8.2" fill="#467c2c" opacity="0.35"/>
<rect x="150.2" y="68.2" width="8.2" height="8.2" fill="#467c2c" opacity="0.50"/>
<rect x="160.3" y="68.2" width="8.2" height="8.2" fill="#467c2c" opacity="0.20"/>
<rect x="170.5" y="68.2" width="8.2" height="8.2" fill="#467c2c" opacity="0.20"/>
<rect x="180.6" y="68.2" width="8.2" height="8.2" fill="#467c2c" opacity="0.35"/>
<rect x="201.0" y="68.2" width="8.2" height="8.2" fill="#467c2c" opacity="0.50"/>
<rect x="211.1" y="68.2" width="8.2" height="8.2" fill="#467c2c" opacity="0.20"/>
<rect x="231.4" y="68.2" width="8.2" height="8.2" fill="#467c2c" opacity="0.50"/>
<rect x="140.0" y="78.3" width="8.2" height="8.2" fill="#467c2c" opacity="0.20"/>
<rect x="150.2" y="78.3" width="8.2" height="8.2" fill="#467c2c" opacity="0.35"/>
<rect x="170.5" y="78.3" width="8.2" height="8.2" fill="#467c2c" opacity="0.35"/>
<rect x="180.6" y="78.3" width="8.2" height="8.2" fill="#467c2c" opacity="0.35"/>
<rect x="190.8" y="78.3" width="8.2" height="8.2" fill="#467c2c" opacity="0.50"/>
<rect x="201.0" y="78.3" width="8.2" height="8.2" fill="#467c2c" opacity="0.50"/>
<rect x="211.1" y="78.3" width="8.2" height="8.2" fill="#467c2c" opacity="0.35"/>
<rect x="221.3" y="78.3" width="8.2" height="8.2" fill="#467c2c" opacity="0.35"/>
<rect x="231.4" y="78.3" width="8.2" height="8.2" fill="#467c2c" opacity="0.20"/>
<rect x="150.2" y="88.5" width="8.2" height="8.2" fill="#467c2c" opacity="0.35"/>
<rect x="160.3" y="88.5" width="8.2" height="8.2" fill="#467c2c" opacity="0.35"/>
<rect x="170.5" y="88.5" width="8.2" height="8.2" fill="#467c2c" opacity="0.35"/>
<rect x="180.6" y="88.5" width="8.2" height="8.2" fill="#467c2c" opacity="0.20"/>
<rect x="190.8" y="88.5" width="8.2" height="8.2" fill="#467c2c" opacity="0.50"/>
<rect x="201.0" y="88.5" width="8.2" height="8.2" fill="#467c2c" opacity="0.65"/>
<rect x="211.1" y="88.5" width="8.2" height="8.2" fill="#467c2c" opacity="0.35"/>
<rect x="221.3" y="88.5" width="8.2" height="8.2" fill="#467c2c" opacity="0.35"/>
<rect x="231.4" y="88.5" width="8.2" height="8.2" fill="#467c2c" opacity="0.20"/>
<rect x="160.3" y="98.7" width="8.2" height="8.2" fill="#467c2c" opacity="0.20"/>
<rect x="170.5" y="98.7" width="8.2" height="8.2" fill="#467c2c" opacity="0.35"/>
<rect x="180.6" y="98.7" width="8.2" height="8.2" fill="#467c2c" opacity="0.35"/>
<rect x="190.8" y="98.7" width="8.2" height="8.2" fill="#467c2c" opacity="0.35"/>
<rect x="201.0" y="98.7" width="8.2" height="8.2" fill="#467c2c" opacity="0.50"/>
<rect x="211.1" y="98.7" width="8.2" height="8.2" fill="#467c2c" opacity="0.50"/>
<rect x="221.3" y="98.7" width="8.2" height="8.2" fill="#467c2c" opacity="0.20"/>
<rect x="140.0" y="108.9" width="8.2" height="8.2" fill="#467c2c" opacity="0.20"/>
<rect x="150.2" y="108.9" width="8.2" height="8.2" fill="#467c2c" opacity="0.35"/>
<rect x="160.3" y="108.9" width="8.2" height="8.2" fill="#467c2c" opacity="0.35"/>
<rect x="180.6" y="108.9" width="8.2" height="8.2" fill="#467c2c" opacity="0.35"/>
<rect x="190.8" y="108.9" width="8.2" height="8.2" fill="#467c2c" opacity="0.20"/>
<rect x="211.1" y="108.9" width="8.2" height="8.2" fill="#467c2c" opacity="0.35"/>
<rect x="231.4" y="108.9" width="8.2" height="8.2" fill="#467c2c" opacity="0.20"/>
<rect x="150.2" y="119.0" width="8.2" height="8.2" fill="#467c2c" opacity="0.20"/>
<rect x="170.5" y="119.0" width="8.2" height="8.2" fill="#467c2c" opacity="0.35"/>
<rect x="180.6" y="119.0" width="8.2" height="8.2" fill="#467c2c" opacity="0.35"/>
<rect x="190.8" y="119.0" width="8.2" height="8.2" fill="#467c2c" opacity="0.20"/>
<rect x="201.0" y="119.0" width="8.2" height="8.2" fill="#467c2c" opacity="0.35"/>
<rect x="211.1" y="119.0" width="8.2" height="8.2" fill="#467c2c" opacity="0.20"/>
<rect x="231.4" y="119.0" width="8.2" height="8.2" fill="#467c2c" opacity="0.35"/>
</g>
<path d="M224.1 23.1Q224.6 23.8 224.5 24.7M237.2 111.5Q236.3 110.2 234.8 109.7M243.4 106.3Q239.1 105.5 234.8 105.5M234.8 109.7Q234.4 107.6 234.8 105.5M145.5 71.4Q144.8 70.5 143.8 71.0M224.3 112.1Q226.2 107.1 228.3 102.3M233.3 101.1Q230.6 101.0 228.3 102.3M214.9 33.3Q212.4 37.1 209.7 40.8M229.0 72.3Q228.5 75.2 225.6 75.0M228.5 67.1Q228.0 69.8 229.0 72.3M165.1 82.7Q167.6 85.1 171.0 86.1M137.9 116.3Q138.6 125.0 130.3 127.7M145.6 111.5Q145.0 112.0 144.4 112.5M174.2 115.5Q174.3 114.1 173.4 113.2M144.4 112.5Q145.7 118.0 147.4 123.4M138.4 116.4Q139.0 118.7 139.9 121.0M210.2 41.5Q210.4 45.4 211.7 49.1M224.3 47.5Q222.7 46.9 221.4 45.6M180.1 49.2Q177.5 54.6 173.5 59.1M165.3 67.5Q168.1 62.7 171.9 58.8M165.5 78.6Q162.8 77.4 163.5 74.6M228.5 67.1Q224.4 66.9 220.3 66.2M139.2 89.3Q138.2 90.5 138.7 92.0M139.4 83.2Q145.8 84.4 151.3 88.1M156.8 134.2Q162.4 129.9 162.0 122.8M162.0 122.8Q158.8 127.4 153.8 129.9M149.6 126.7Q151.7 128.2 153.8 129.9M192.2 62.9Q196.4 64.8 195.1 69.3M194.8 70.1Q195.4 72.0 196.7 73.5" stroke="#365f24" stroke-width="2.2" stroke-linecap="round" fill="none" opacity="0.85"/>
<path d="M240.7 125.3Q239.9 125.8 239.9 126.8M224.5 24.7Q231.2 26.2 238.1 26.0M177.6 24.1Q180.3 25.0 182.4 26.7M182.4 26.7Q187.6 27.9 192.1 25.2M194.4 21.8Q193.7 23.8 192.1 25.2M143.0 47.3Q141.3 47.8 139.5 47.6M186.7 53.6Q188.3 56.3 191.4 56.7M240.6 122.7Q239.8 122.4 239.2 121.8M239.2 121.8Q237.9 116.7 237.2 111.5M220.7 83.4Q220.5 83.3 220.4 83.3M225.4 91.9Q224.4 93.8 222.9 95.3M218.0 84.2Q219.3 83.9 220.4 83.3M218.0 84.2Q215.5 87.9 215.0 92.3M214.3 97.8Q219.2 98.6 222.9 95.3M215.0 92.3Q214.9 94.7 214.1 97.0M230.2 93.0Q230.2 90.1 232.0 87.8M232.0 87.8Q233.5 88.4 234.3 86.9M190.9 30.5Q193.5 37.2 197.2 43.4M196.1 46.1Q192.3 46.2 188.5 46.9M185.8 45.2Q186.7 46.8 188.5 46.9M153.3 20.8Q152.4 23.7 150.9 26.4M135.8 60.4Q137.5 57.4 139.8 54.7M139.8 54.7Q134.5 53.2 129.7 50.7M144.8 48.5Q143.6 52.6 139.8 54.7M139.5 47.6Q134.1 47.4 129.7 50.7M239.2 80.8Q239.1 82.7 239.3 84.6M191.4 56.7Q195.3 57.0 198.6 54.7M236.3 77.7Q230.3 78.6 227.6 83.9M235.9 76.8Q235.5 77.5 236.3 77.7M232.0 87.8Q231.4 86.7 230.4 86.0M220.7 83.4Q224.1 83.4 227.6 83.9M225.4 91.9Q228.4 89.9 230.2 93.0M171.1 93.8Q173.1 95.0 175.0 96.3M171.1 93.8Q170.4 90.0 171.0 86.1M171.0 86.1Q174.8 85.9 178.5 86.7M171.1 93.8Q168.5 95.6 165.4 96.2M175.1 97.0Q175.0 97.1 175.0 97.2M175.0 97.2Q171.5 97.8 168.9 100.4M175.0 97.2Q174.9 101.6 176.0 105.8M168.9 100.4Q168.6 101.4 169.0 102.3M144.8 48.5Q145.8 49.0 146.9 48.8M137.1 61.0Q142.5 63.1 148.3 62.4M152.0 56.6Q148.7 58.5 148.3 62.4M148.3 62.4Q148.1 65.5 147.8 68.6M181.7 126.8Q175.7 127.5 170.5 124.3M181.7 126.8Q183.0 126.0 184.4 125.4M170.5 124.3Q172.3 119.9 174.2 115.5M174.2 115.5Q178.1 118.6 182.6 120.8M184.4 125.4Q183.7 123.0 182.6 120.8M175.1 97.0Q179.0 99.1 183.4 99.6M224.1 111.9Q221.8 107.7 220.3 103.1M220.3 103.1Q223.6 103.4 226.4 101.7M222.9 95.3Q224.0 98.9 226.4 101.7M194.4 21.8Q196.2 25.3 200.0 26.5M192.1 25.2Q192.5 28.1 190.9 30.5M205.4 39.0Q201.3 41.3 197.2 43.4M205.4 39.0Q204.8 37.2 204.7 35.3M210.2 41.5Q209.9 41.2 209.7 40.8M205.4 39.0Q207.3 40.6 209.7 40.8M204.7 35.3Q207.4 31.1 212.3 29.9M232.3 39.6Q231.2 40.2 230.2 41.0M177.6 24.1Q174.4 25.9 173.8 29.6M178.3 29.9Q176.1 28.5 173.8 29.6M235.9 76.8Q232.4 74.5 229.0 72.3M220.4 83.3Q221.0 82.1 221.1 80.8M221.1 80.8Q222.5 77.2 225.6 75.0M236.2 59.2Q237.9 60.7 239.7 62.1M239.7 62.1Q248.4 57.4 257.6 54.2M232.3 59.9Q233.3 59.3 234.5 59.0M234.5 59.0Q235.3 59.2 236.2 59.2M198.2 56.5Q195.1 59.6 192.3 62.9M189.4 62.0Q190.7 62.9 192.2 62.9M184.7 76.0Q184.4 75.7 184.2 75.4M184.7 76.0Q184.7 76.1 184.7 76.1M184.2 75.4Q179.2 76.5 174.2 75.6M184.7 76.1Q181.3 78.1 177.4 78.8M186.6 75.2Q186.0 76.3 184.7 76.0M185.5 84.3Q187.2 80.0 184.7 76.1M178.5 86.7Q179.3 82.6 177.4 78.8M165.5 78.6Q169.8 77.4 174.1 75.8M157.6 115.1Q161.0 111.9 159.8 107.4M159.8 107.4Q160.1 107.3 160.4 107.0M167.3 104.0Q163.9 104.6 161.3 106.8M164.7 95.9Q165.0 96.2 165.4 96.2M169.0 102.3Q168.6 103.6 167.3 104.0M157.4 64.7Q161.8 64.8 165.3 67.5M163.5 74.6Q160.8 74.7 158.2 73.7M147.8 68.6Q151.4 67.4 154.2 70.1M199.4 129.4Q203.7 129.7 207.9 128.9M213.1 126.9Q210.0 126.7 208.0 129.0M205.1 120.0Q206.6 119.6 208.2 119.4M187.3 98.5Q189.8 94.4 192.6 90.6M196.3 100.8Q194.6 100.7 193.4 99.6M191.3 85.7Q188.1 86.2 185.5 84.3M186.9 98.4Q187.1 98.4 187.3 98.5M205.1 120.0Q203.2 116.4 199.2 116.8M198.5 116.5Q196.1 118.0 194.1 119.8M218.3 122.3Q217.2 120.1 216.8 117.7M226.5 46.5Q228.4 53.9 234.4 58.6M234.4 58.6Q233.6 56.7 234.2 54.6M210.1 23.1Q208.8 25.3 207.3 27.3M184.5 45.1Q181.3 46.1 180.1 49.2M179.8 41.9Q177.9 43.3 175.6 44.0M146.0 75.1Q148.2 77.6 151.5 78.3M146.9 48.8Q149.5 45.7 151.9 42.5M164.1 42.3Q165.9 45.6 169.3 46.9M151.9 42.5Q152.9 40.7 151.9 38.9M150.9 33.1Q150.9 33.3 151.1 33.4M151.4 34.3Q151.4 33.8 151.1 33.4M199.4 129.4Q202.3 131.5 204.8 134.0M208.0 129.0Q207.6 130.8 207.2 132.7M213.9 125.1Q215.1 124.5 216.4 124.1M196.3 100.8Q197.0 103.1 198.0 105.5M198.0 105.5Q202.7 105.9 206.3 102.8M194.1 119.8Q192.4 117.0 190.5 114.3M208.6 117.8Q210.6 115.6 212.4 113.2M213.3 108.8Q212.3 106.4 211.1 104.0M205.3 109.7Q207.0 106.5 209.6 104.1M208.2 119.4Q209.1 118.9 208.6 117.8M216.8 117.7Q214.8 115.2 212.4 113.2M219.7 111.6Q216.9 109.2 213.3 108.8M198.0 105.5Q198.0 107.3 196.3 108.0M170.8 32.6Q174.8 36.5 180.3 36.0M170.8 32.6Q171.0 35.7 173.0 38.1M173.0 38.1Q176.3 36.6 179.3 38.7M180.3 36.0Q180.1 37.5 179.3 38.7M179.8 41.9Q179.8 40.2 179.3 38.7M171.2 45.1Q171.3 41.4 173.0 38.1M180.5 35.8Q180.5 36.0 180.3 36.0M209.1 63.3Q208.5 64.1 208.4 65.2M216.4 73.2Q212.1 75.7 208.0 78.4M216.1 71.0Q211.6 71.0 208.6 67.6M207.1 70.6Q207.9 69.2 208.6 67.6M208.4 65.2Q208.0 66.4 208.6 67.6M186.6 75.2Q191.0 75.0 193.9 78.2M193.9 78.2Q193.1 79.9 193.7 81.7M151.5 88.0Q153.4 88.1 154.0 86.3M151.5 78.3Q150.2 82.5 153.5 85.3M151.3 88.1Q151.4 88.0 151.5 88.0M160.5 87.1Q157.0 88.1 154.0 86.3M170.8 32.6Q170.7 32.4 170.5 32.2M187.9 99.3Q188.0 100.2 188.1 101.0M188.1 101.0Q192.2 103.4 194.4 107.7M196.5 74.8Q202.0 76.5 204.0 81.9M193.9 78.2Q195.4 76.7 196.5 74.8M218.0 84.2Q212.5 84.3 207.9 81.3M184.5 113.5Q186.0 112.8 186.8 111.4M184.5 113.5Q181.0 109.2 175.5 109.7M186.8 111.4Q185.6 109.7 185.7 107.7M185.7 107.7Q181.1 108.2 176.7 106.4M188.1 111.6Q187.4 111.7 186.8 111.4M183.4 99.6Q179.8 102.7 176.7 106.4M176.0 105.8Q176.2 106.1 176.5 106.5M167.9 15.3Q168.2 23.0 171.2 30.2M171.2 30.2Q170.6 30.7 170.6 31.4M170.5 32.2Q170.6 31.8 170.6 31.4" stroke="#365f24" stroke-width="2.8" stroke-linecap="round" fill="none" opacity="0.85"/>
<path d="M238.1 26.0Q239.2 24.6 240.3 23.1M214.3 97.8Q214.2 97.4 214.1 97.0M237.4 32.3Q237.3 29.1 238.1 26.0M197.2 43.4Q197.6 45.1 196.1 46.1M235.9 76.8Q240.7 72.6 242.9 66.6M213.6 101.2Q214.2 99.6 214.3 97.8M213.6 101.2Q216.9 102.4 220.3 103.1M200.0 26.5Q203.1 30.5 204.7 35.3M236.2 59.2Q241.5 56.5 244.1 51.1M206.1 91.7Q205.9 91.2 205.7 90.7M206.1 91.7Q205.6 95.6 202.6 98.0M205.7 90.7Q202.6 92.0 199.5 90.6M199.5 90.6Q200.3 93.6 200.3 96.8M202.6 98.0Q201.5 98.0 200.7 97.3M200.3 96.8Q200.4 97.1 200.7 97.3M215.0 92.3Q210.7 90.4 206.7 87.8M214.1 97.0Q211.6 92.0 206.1 91.7M206.7 87.8Q206.2 89.3 205.7 90.7M157.4 64.7Q155.2 67.0 154.2 70.1M158.2 73.7Q156.5 71.6 154.2 70.1M193.4 99.6Q194.7 97.5 196.5 95.7M192.6 90.6Q194.0 93.6 196.5 95.7M196.3 100.8Q198.2 98.7 200.7 97.3M200.3 96.8Q198.2 97.1 196.5 95.7M191.3 85.7Q192.7 87.0 193.2 88.9M193.2 88.9Q193.0 89.8 192.6 90.6M193.2 88.9Q195.5 88.7 197.8 89.1M197.8 89.1Q198.6 89.9 199.5 90.6M237.4 32.3Q241.7 34.6 239.5 39.0M239.5 39.0Q240.4 39.0 241.1 39.6M232.3 39.6Q235.7 36.9 239.4 39.0M239.5 39.0Q239.5 39.0 239.4 39.0M244.1 51.1Q241.5 46.0 241.2 40.3M241.1 39.6Q241.0 40.0 241.2 40.3M239.4 39.0Q231.4 41.1 232.7 49.3M241.2 40.3Q233.4 45.4 234.2 54.6M200.0 26.5Q203.8 25.7 207.3 27.3M158.2 73.7Q154.7 75.7 151.5 78.3M164.1 42.3Q162.6 43.6 160.7 43.3M202.6 98.0Q205.1 99.8 206.3 102.8M211.1 104.0Q210.4 104.2 209.6 104.1M213.6 101.2Q212.7 102.9 211.1 104.0M206.3 102.8Q208.3 102.5 209.6 104.1M199.1 64.4Q204.0 62.4 208.4 65.2M208.0 78.4Q208.4 74.4 207.1 70.6M191.3 85.7Q191.5 83.1 193.7 81.7M197.8 89.1Q199.8 84.9 203.5 82.2M193.7 81.7Q198.6 83.2 203.5 82.2M151.9 38.9Q157.4 36.3 163.4 37.1M151.4 34.3Q157.3 31.5 162.3 35.8M162.3 35.8Q162.6 36.6 163.4 37.1M164.1 42.3Q164.1 40.0 164.2 37.7M164.2 37.7Q163.9 37.3 163.4 37.1M164.2 37.7Q166.0 33.4 170.5 32.2M207.1 70.6Q205.6 70.2 204.4 71.0M197.9 73.3Q202.8 76.4 207.9 79.2M204.0 81.9Q205.9 83.1 207.6 81.6M207.6 81.6Q207.7 81.5 207.9 81.3M207.9 81.3Q207.8 80.3 207.9 79.2M203.5 82.2Q203.7 82.0 204.0 81.9M208.0 78.4Q207.8 78.8 207.9 79.2M206.7 87.8Q208.3 84.9 207.6 81.6M151.1 33.4Q153.8 33.1 156.3 32.0M162.3 35.8Q161.9 33.7 161.0 31.7M156.3 32.0Q158.7 32.8 161.0 31.7M162.1 28.9Q161.4 27.6 161.0 26.2M162.1 28.9Q166.2 30.7 170.6 31.4M161.3 22.5Q160.8 23.6 160.6 24.7M160.6 24.7Q160.5 25.6 161.0 26.2M156.3 32.0Q158.9 29.4 161.0 26.2M161.0 31.7Q162.0 30.5 162.1 28.9M151.7 28.7Q156.1 26.7 160.6 24.7" stroke="#365f24" stroke-width="3.6" stroke-linecap="round" fill="none" opacity="0.85"/>
<path d="M224.1 23.1Q224.6 23.8 224.5 24.7M234.8 109.7Q234.4 107.6 234.8 105.5M233.3 101.1Q230.6 101.0 228.3 102.3M228.5 67.1Q228.0 69.8 229.0 72.3M145.6 111.5Q145.0 112.0 144.4 112.5M138.4 116.4Q139.0 118.7 139.9 121.0M180.1 49.2Q177.5 54.6 173.5 59.1M228.5 67.1Q224.4 66.9 220.3 66.2M156.8 134.2Q162.4 129.9 162.0 122.8M192.2 62.9Q196.4 64.8 195.1 69.3" stroke="#6aa83a" stroke-width="1.0" stroke-linecap="round" fill="none"/>
<path d="M237.2 111.5Q236.3 110.2 234.8 109.7M145.5 71.4Q144.8 70.5 143.8 71.0M214.9 33.3Q212.4 37.1 209.7 40.8M165.1 82.7Q167.6 85.1 171.0 86.1M174.2 115.5Q174.3 114.1 173.4 113.2M210.2 41.5Q210.4 45.4 211.7 49.1M165.3 67.5Q168.1 62.7 171.9 58.8M139.2 89.3Q138.2 90.5 138.7 92.0M162.0 122.8Q158.8 127.4 153.8 129.9M194.8 70.1Q195.4 72.0 196.7 73.5" stroke="#82bc44" stroke-width="1.0" stroke-linecap="round" fill="none"/>
<path d="M243.4 106.3Q239.1 105.5 234.8 105.5M224.3 112.1Q226.2 107.1 228.3 102.3M229.0 72.3Q228.5 75.2 225.6 75.0M137.9 116.3Q138.6 125.0 130.3 127.7M144.4 112.5Q145.7 118.0 147.4 123.4M224.3 47.5Q222.7 46.9 221.4 45.6M165.5 78.6Q162.8 77.4 163.5 74.6M139.4 83.2Q145.8 84.4 151.3 88.1M149.6 126.7Q151.7 128.2 153.8 129.9" stroke="#a4c23e" stroke-width="1.0" stroke-linecap="round" fill="none"/>
<path d="M240.7 125.3Q239.9 125.8 239.9 126.8M182.4 26.7Q187.6 27.9 192.1 25.2M186.7 53.6Q188.3 56.3 191.4 56.7M220.7 83.4Q220.5 83.3 220.4 83.3M218.0 84.2Q215.5 87.9 215.0 92.3M230.2 93.0Q230.2 90.1 232.0 87.8M196.1 46.1Q192.3 46.2 188.5 46.9M135.8 60.4Q137.5 57.4 139.8 54.7M139.5 47.6Q134.1 47.4 129.7 50.7M236.3 77.7Q230.3 78.6 227.6 83.9M220.7 83.4Q224.1 83.4 227.6 83.9M171.1 93.8Q170.4 90.0 171.0 86.1M175.1 97.0Q175.0 97.1 175.0 97.2M168.9 100.4Q168.6 101.4 169.0 102.3M152.0 56.6Q148.7 58.5 148.3 62.4M181.7 126.8Q183.0 126.0 184.4 125.4M184.4 125.4Q183.7 123.0 182.6 120.8M220.3 103.1Q223.6 103.4 226.4 101.7M192.1 25.2Q192.5 28.1 190.9 30.5M210.2 41.5Q209.9 41.2 209.7 40.8M232.3 39.6Q231.2 40.2 230.2 41.0M235.9 76.8Q232.4 74.5 229.0 72.3M236.2 59.2Q237.9 60.7 239.7 62.1M234.5 59.0Q235.3 59.2 236.2 59.2M184.7 76.0Q184.4 75.7 184.2 75.4M184.7 76.1Q181.3 78.1 177.4 78.8M178.5 86.7Q179.3 82.6 177.4 78.8M159.8 107.4Q160.1 107.3 160.4 107.0M169.0 102.3Q168.6 103.6 167.3 104.0M147.8 68.6Q151.4 67.4 154.2 70.1M205.1 120.0Q206.6 119.6 208.2 119.4M191.3 85.7Q188.1 86.2 185.5 84.3M198.5 116.5Q196.1 118.0 194.1 119.8M234.4 58.6Q233.6 56.7 234.2 54.6M179.8 41.9Q177.9 43.3 175.6 44.0M164.1 42.3Q165.9 45.6 169.3 46.9M151.4 34.3Q151.4 33.8 151.1 33.4M213.9 125.1Q215.1 124.5 216.4 124.1M194.1 119.8Q192.4 117.0 190.5 114.3M205.3 109.7Q207.0 106.5 209.6 104.1M219.7 111.6Q216.9 109.2 213.3 108.8M170.8 32.6Q171.0 35.7 173.0 38.1M179.8 41.9Q179.8 40.2 179.3 38.7M209.1 63.3Q208.5 64.1 208.4 65.2M207.1 70.6Q207.9 69.2 208.6 67.6M193.9 78.2Q193.1 79.9 193.7 81.7M151.3 88.1Q151.4 88.0 151.5 88.0M187.9 99.3Q188.0 100.2 188.1 101.0M193.9 78.2Q195.4 76.7 196.5 74.8M184.5 113.5Q181.0 109.2 175.5 109.7M188.1 111.6Q187.4 111.7 186.8 111.4M167.9 15.3Q168.2 23.0 171.2 30.2" stroke="#6aa83a" stroke-width="1.4" stroke-linecap="round" fill="none"/>
<path d="M224.5 24.7Q231.2 26.2 238.1 26.0M194.4 21.8Q193.7 23.8 192.1 25.2M240.6 122.7Q239.8 122.4 239.2 121.8M225.4 91.9Q224.4 93.8 222.9 95.3M214.3 97.8Q219.2 98.6 222.9 95.3M232.0 87.8Q233.5 88.4 234.3 86.9M185.8 45.2Q186.7 46.8 188.5 46.9M139.8 54.7Q134.5 53.2 129.7 50.7M239.2 80.8Q239.1 82.7 239.3 84.6M235.9 76.8Q235.5 77.5 236.3 77.7M225.4 91.9Q228.4 89.9 230.2 93.0M171.0 86.1Q174.8 85.9 178.5 86.7M175.0 97.2Q171.5 97.8 168.9 100.4M144.8 48.5Q145.8 49.0 146.9 48.8M148.3 62.4Q148.1 65.5 147.8 68.6M170.5 124.3Q172.3 119.9 174.2 115.5M175.1 97.0Q179.0 99.1 183.4 99.6M222.9 95.3Q224.0 98.9 226.4 101.7M205.4 39.0Q201.3 41.3 197.2 43.4M205.4 39.0Q207.3 40.6 209.7 40.8M177.6 24.1Q174.4 25.9 173.8 29.6M220.4 83.3Q221.0 82.1 221.1 80.8M239.7 62.1Q248.4 57.4 257.6 54.2M198.2 56.5Q195.1 59.6 192.3 62.9M184.7 76.0Q184.7 76.1 184.7 76.1M186.6 75.2Q186.0 76.3 184.7 76.0M165.5 78.6Q169.8 77.4 174.1 75.8M167.3 104.0Q163.9 104.6 161.3 106.8M157.4 64.7Q161.8 64.8 165.3 67.5M199.4 129.4Q203.7 129.7 207.9 128.9M187.3 98.5Q189.8 94.4 192.6 90.6M186.9 98.4Q187.1 98.4 187.3 98.5M218.3 122.3Q217.2 120.1 216.8 117.7M210.1 23.1Q208.8 25.3 207.3 27.3M146.0 75.1Q148.2 77.6 151.5 78.3M151.9 42.5Q152.9 40.7 151.9 38.9M199.4 129.4Q202.3 131.5 204.8 134.0M196.3 100.8Q197.0 103.1 198.0 105.5M208.6 117.8Q210.6 115.6 212.4 113.2M208.2 119.4Q209.1 118.9 208.6 117.8M198.0 105.5Q198.0 107.3 196.3 108.0M173.0 38.1Q176.3 36.6 179.3 38.7M171.2 45.1Q171.3 41.4 173.0 38.1M216.4 73.2Q212.1 75.7 208.0 78.4M208.4 65.2Q208.0 66.4 208.6 67.6M151.5 88.0Q153.4 88.1 154.0 86.3M160.5 87.1Q157.0 88.1 154.0 86.3M188.1 101.0Q192.2 103.4 194.4 107.7M218.0 84.2Q212.5 84.3 207.9 81.3M186.8 111.4Q185.6 109.7 185.7 107.7M183.4 99.6Q179.8 102.7 176.7 106.4M171.2 30.2Q170.6 30.7 170.6 31.4" stroke="#82bc44" stroke-width="1.4" stroke-linecap="round" fill="none"/>
<path d="M177.6 24.1Q180.3 25.0 182.4 26.7M143.0 47.3Q141.3 47.8 139.5 47.6M239.2 121.8Q237.9 116.7 237.2 111.5M218.0 84.2Q219.3 83.9 220.4 83.3M215.0 92.3Q214.9 94.7 214.1 97.0M190.9 30.5Q193.5 37.2 197.2 43.4M153.3 20.8Q152.4 23.7 150.9 26.4M144.8 48.5Q143.6 52.6 139.8 54.7M191.4 56.7Q195.3 57.0 198.6 54.7M232.0 87.8Q231.4 86.7 230.4 86.0M171.1 93.8Q173.1 95.0 175.0 96.3M171.1 93.8Q168.5 95.6 165.4 96.2M175.0 97.2Q174.9 101.6 176.0 105.8M137.1 61.0Q142.5 63.1 148.3 62.4M181.7 126.8Q175.7 127.5 170.5 124.3M174.2 115.5Q178.1 118.6 182.6 120.8M224.1 111.9Q221.8 107.7 220.3 103.1M194.4 21.8Q196.2 25.3 200.0 26.5M205.4 39.0Q204.8 37.2 204.7 35.3M204.7 35.3Q207.4 31.1 212.3 29.9M178.3 29.9Q176.1 28.5 173.8 29.6M221.1 80.8Q222.5 77.2 225.6 75.0M232.3 59.9Q233.3 59.3 234.5 59.0M189.4 62.0Q190.7 62.9 192.2 62.9M184.2 75.4Q179.2 76.5 174.2 75.6M185.5 84.3Q187.2 80.0 184.7 76.1M157.6 115.1Q161.0 111.9 159.8 107.4M164.7 95.9Q165.0 96.2 165.4 96.2M163.5 74.6Q160.8 74.7 158.2 73.7M213.1 126.9Q210.0 126.7 208.0 129.0M196.3 100.8Q194.6 100.7 193.4 99.6M205.1 120.0Q203.2 116.4 199.2 116.8M226.5 46.5Q228.4 53.9 234.4 58.6M184.5 45.1Q181.3 46.1 180.1 49.2M146.9 48.8Q149.5 45.7 151.9 42.5M150.9 33.1Q150.9 33.3 151.1 33.4M208.0 129.0Q207.6 130.8 207.2 132.7M198.0 105.5Q202.7 105.9 206.3 102.8M213.3 108.8Q212.3 106.4 211.1 104.0M216.8 117.7Q214.8 115.2 212.4 113.2M170.8 32.6Q174.8 36.5 180.3 36.0M180.3 36.0Q180.1 37.5 179.3 38.7M180.5 35.8Q180.5 36.0 180.3 36.0M216.1 71.0Q211.6 71.0 208.6 67.6M186.6 75.2Q191.0 75.0 193.9 78.2M151.5 78.3Q150.2 82.5 153.5 85.3M170.8 32.6Q170.7 32.4 170.5 32.2M196.5 74.8Q202.0 76.5 204.0 81.9M184.5 113.5Q186.0 112.8 186.8 111.4M185.7 107.7Q181.1 108.2 176.7 106.4M176.0 105.8Q176.2 106.1 176.5 106.5M170.5 32.2Q170.6 31.8 170.6 31.4" stroke="#a4c23e" stroke-width="1.4" stroke-linecap="round" fill="none"/>
<path d="M238.1 26.0Q239.2 24.6 240.3 23.1M197.2 43.4Q197.6 45.1 196.1 46.1M213.6 101.2Q216.9 102.4 220.3 103.1M206.1 91.7Q205.9 91.2 205.7 90.7M199.5 90.6Q200.3 93.6 200.3 96.8M215.0 92.3Q210.7 90.4 206.7 87.8M157.4 64.7Q155.2 67.0 154.2 70.1M192.6 90.6Q194.0 93.6 196.5 95.7M191.3 85.7Q192.7 87.0 193.2 88.9M197.8 89.1Q198.6 89.9 199.5 90.6M232.3 39.6Q235.7 36.9 239.4 39.0M241.1 39.6Q241.0 40.0 241.2 40.3M200.0 26.5Q203.8 25.7 207.3 27.3M202.6 98.0Q205.1 99.8 206.3 102.8M206.3 102.8Q208.3 102.5 209.6 104.1M191.3 85.7Q191.5 83.1 193.7 81.7M151.9 38.9Q157.4 36.3 163.4 37.1M164.1 42.3Q164.1 40.0 164.2 37.7M207.1 70.6Q205.6 70.2 204.4 71.0M207.6 81.6Q207.7 81.5 207.9 81.3M208.0 78.4Q207.8 78.8 207.9 79.2M162.3 35.8Q161.9 33.7 161.0 31.7M162.1 28.9Q166.2 30.7 170.6 31.4M156.3 32.0Q158.9 29.4 161.0 26.2" stroke="#6aa83a" stroke-width="1.8" stroke-linecap="round" fill="none"/>
<path d="M214.3 97.8Q214.2 97.4 214.1 97.0M235.9 76.8Q240.7 72.6 242.9 66.6M200.0 26.5Q203.1 30.5 204.7 35.3M206.1 91.7Q205.6 95.6 202.6 98.0M202.6 98.0Q201.5 98.0 200.7 97.3M214.1 97.0Q211.6 92.0 206.1 91.7M158.2 73.7Q156.5 71.6 154.2 70.1M196.3 100.8Q198.2 98.7 200.7 97.3M193.2 88.9Q193.0 89.8 192.6 90.6M237.4 32.3Q241.7 34.6 239.5 39.0M239.5 39.0Q239.5 39.0 239.4 39.0M239.4 39.0Q231.4 41.1 232.7 49.3M158.2 73.7Q154.7 75.7 151.5 78.3M211.1 104.0Q210.4 104.2 209.6 104.1M199.1 64.4Q204.0 62.4 208.4 65.2M197.8 89.1Q199.8 84.9 203.5 82.2M151.4 34.3Q157.3 31.5 162.3 35.8M164.2 37.7Q163.9 37.3 163.4 37.1M197.9 73.3Q202.8 76.4 207.9 79.2M207.9 81.3Q207.8 80.3 207.9 79.2M206.7 87.8Q208.3 84.9 207.6 81.6M156.3 32.0Q158.7 32.8 161.0 31.7M161.3 22.5Q160.8 23.6 160.6 24.7M161.0 31.7Q162.0 30.5 162.1 28.9" stroke="#82bc44" stroke-width="1.8" stroke-linecap="round" fill="none"/>
<path d="M237.4 32.3Q237.3 29.1 238.1 26.0M213.6 101.2Q214.2 99.6 214.3 97.8M236.2 59.2Q241.5 56.5 244.1 51.1M205.7 90.7Q202.6 92.0 199.5 90.6M200.3 96.8Q200.4 97.1 200.7 97.3M206.7 87.8Q206.2 89.3 205.7 90.7M193.4 99.6Q194.7 97.5 196.5 95.7M200.3 96.8Q198.2 97.1 196.5 95.7M193.2 88.9Q195.5 88.7 197.8 89.1M239.5 39.0Q240.4 39.0 241.1 39.6M244.1 51.1Q241.5 46.0 241.2 40.3M241.2 40.3Q233.4 45.4 234.2 54.6M164.1 42.3Q162.6 43.6 160.7 43.3M213.6 101.2Q212.7 102.9 211.1 104.0M208.0 78.4Q208.4 74.4 207.1 70.6M193.7 81.7Q198.6 83.2 203.5 82.2M162.3 35.8Q162.6 36.6 163.4 37.1M164.2 37.7Q166.0 33.4 170.5 32.2M204.0 81.9Q205.9 83.1 207.6 81.6M203.5 82.2Q203.7 82.0 204.0 81.9M151.1 33.4Q153.8 33.1 156.3 32.0M162.1 28.9Q161.4 27.6 161.0 26.2M160.6 24.7Q160.5 25.6 161.0 26.2M151.7 28.7Q156.1 26.7 160.6 24.7" stroke="#a4c23e" stroke-width="1.8" stroke-linecap="round" fill="none"/>
<path d="M240.7 125.3Q239.9 125.8 239.9 126.8M224.5 24.7Q231.2 26.2 238.1 26.0M177.6 24.1Q180.3 25.0 182.4 26.7M182.4 26.7Q187.6 27.9 192.1 25.2M194.4 21.8Q193.7 23.8 192.1 25.2M143.0 47.3Q141.3 47.8 139.5 47.6M186.7 53.6Q188.3 56.3 191.4 56.7M240.6 122.7Q239.8 122.4 239.2 121.8M239.2 121.8Q237.9 116.7 237.2 111.5M220.7 83.4Q220.5 83.3 220.4 83.3M225.4 91.9Q224.4 93.8 222.9 95.3M218.0 84.2Q219.3 83.9 220.4 83.3M218.0 84.2Q215.5 87.9 215.0 92.3M214.3 97.8Q219.2 98.6 222.9 95.3M215.0 92.3Q214.9 94.7 214.1 97.0M230.2 93.0Q230.2 90.1 232.0 87.8M232.0 87.8Q233.5 88.4 234.3 86.9M190.9 30.5Q193.5 37.2 197.2 43.4M196.1 46.1Q192.3 46.2 188.5 46.9M185.8 45.2Q186.7 46.8 188.5 46.9M153.3 20.8Q152.4 23.7 150.9 26.4M135.8 60.4Q137.5 57.4 139.8 54.7M139.8 54.7Q134.5 53.2 129.7 50.7M144.8 48.5Q143.6 52.6 139.8 54.7M139.5 47.6Q134.1 47.4 129.7 50.7M239.2 80.8Q239.1 82.7 239.3 84.6M191.4 56.7Q195.3 57.0 198.6 54.7M236.3 77.7Q230.3 78.6 227.6 83.9M235.9 76.8Q235.5 77.5 236.3 77.7M232.0 87.8Q231.4 86.7 230.4 86.0M220.7 83.4Q224.1 83.4 227.6 83.9M225.4 91.9Q228.4 89.9 230.2 93.0M171.1 93.8Q173.1 95.0 175.0 96.3M171.1 93.8Q170.4 90.0 171.0 86.1M171.0 86.1Q174.8 85.9 178.5 86.7M171.1 93.8Q168.5 95.6 165.4 96.2M175.1 97.0Q175.0 97.1 175.0 97.2M175.0 97.2Q171.5 97.8 168.9 100.4M175.0 97.2Q174.9 101.6 176.0 105.8M168.9 100.4Q168.6 101.4 169.0 102.3M144.8 48.5Q145.8 49.0 146.9 48.8M137.1 61.0Q142.5 63.1 148.3 62.4M152.0 56.6Q148.7 58.5 148.3 62.4M148.3 62.4Q148.1 65.5 147.8 68.6M181.7 126.8Q175.7 127.5 170.5 124.3M181.7 126.8Q183.0 126.0 184.4 125.4M170.5 124.3Q172.3 119.9 174.2 115.5M174.2 115.5Q178.1 118.6 182.6 120.8M184.4 125.4Q183.7 123.0 182.6 120.8M175.1 97.0Q179.0 99.1 183.4 99.6M224.1 111.9Q221.8 107.7 220.3 103.1M220.3 103.1Q223.6 103.4 226.4 101.7M222.9 95.3Q224.0 98.9 226.4 101.7M194.4 21.8Q196.2 25.3 200.0 26.5M192.1 25.2Q192.5 28.1 190.9 30.5M205.4 39.0Q201.3 41.3 197.2 43.4M205.4 39.0Q204.8 37.2 204.7 35.3M210.2 41.5Q209.9 41.2 209.7 40.8M205.4 39.0Q207.3 40.6 209.7 40.8M204.7 35.3Q207.4 31.1 212.3 29.9M232.3 39.6Q231.2 40.2 230.2 41.0M177.6 24.1Q174.4 25.9 173.8 29.6M178.3 29.9Q176.1 28.5 173.8 29.6M235.9 76.8Q232.4 74.5 229.0 72.3M220.4 83.3Q221.0 82.1 221.1 80.8M221.1 80.8Q222.5 77.2 225.6 75.0M236.2 59.2Q237.9 60.7 239.7 62.1M239.7 62.1Q248.4 57.4 257.6 54.2M232.3 59.9Q233.3 59.3 234.5 59.0M234.5 59.0Q235.3 59.2 236.2 59.2M198.2 56.5Q195.1 59.6 192.3 62.9M189.4 62.0Q190.7 62.9 192.2 62.9M184.7 76.0Q184.4 75.7 184.2 75.4M184.7 76.0Q184.7 76.1 184.7 76.1M184.2 75.4Q179.2 76.5 174.2 75.6M184.7 76.1Q181.3 78.1 177.4 78.8M186.6 75.2Q186.0 76.3 184.7 76.0M185.5 84.3Q187.2 80.0 184.7 76.1M178.5 86.7Q179.3 82.6 177.4 78.8M165.5 78.6Q169.8 77.4 174.1 75.8M157.6 115.1Q161.0 111.9 159.8 107.4M159.8 107.4Q160.1 107.3 160.4 107.0M167.3 104.0Q163.9 104.6 161.3 106.8M164.7 95.9Q165.0 96.2 165.4 96.2M169.0 102.3Q168.6 103.6 167.3 104.0M157.4 64.7Q161.8 64.8 165.3 67.5M163.5 74.6Q160.8 74.7 158.2 73.7M147.8 68.6Q151.4 67.4 154.2 70.1M199.4 129.4Q203.7 129.7 207.9 128.9M213.1 126.9Q210.0 126.7 208.0 129.0M205.1 120.0Q206.6 119.6 208.2 119.4M187.3 98.5Q189.8 94.4 192.6 90.6M196.3 100.8Q194.6 100.7 193.4 99.6M191.3 85.7Q188.1 86.2 185.5 84.3M186.9 98.4Q187.1 98.4 187.3 98.5M205.1 120.0Q203.2 116.4 199.2 116.8M198.5 116.5Q196.1 118.0 194.1 119.8M218.3 122.3Q217.2 120.1 216.8 117.7M226.5 46.5Q228.4 53.9 234.4 58.6M234.4 58.6Q233.6 56.7 234.2 54.6M210.1 23.1Q208.8 25.3 207.3 27.3M184.5 45.1Q181.3 46.1 180.1 49.2M179.8 41.9Q177.9 43.3 175.6 44.0M146.0 75.1Q148.2 77.6 151.5 78.3M146.9 48.8Q149.5 45.7 151.9 42.5M164.1 42.3Q165.9 45.6 169.3 46.9M151.9 42.5Q152.9 40.7 151.9 38.9M150.9 33.1Q150.9 33.3 151.1 33.4M151.4 34.3Q151.4 33.8 151.1 33.4M199.4 129.4Q202.3 131.5 204.8 134.0M208.0 129.0Q207.6 130.8 207.2 132.7M213.9 125.1Q215.1 124.5 216.4 124.1M196.3 100.8Q197.0 103.1 198.0 105.5M198.0 105.5Q202.7 105.9 206.3 102.8M194.1 119.8Q192.4 117.0 190.5 114.3M208.6 117.8Q210.6 115.6 212.4 113.2M213.3 108.8Q212.3 106.4 211.1 104.0M205.3 109.7Q207.0 106.5 209.6 104.1M208.2 119.4Q209.1 118.9 208.6 117.8M216.8 117.7Q214.8 115.2 212.4 113.2M219.7 111.6Q216.9 109.2 213.3 108.8M198.0 105.5Q198.0 107.3 196.3 108.0M170.8 32.6Q174.8 36.5 180.3 36.0M170.8 32.6Q171.0 35.7 173.0 38.1M173.0 38.1Q176.3 36.6 179.3 38.7M180.3 36.0Q180.1 37.5 179.3 38.7M179.8 41.9Q179.8 40.2 179.3 38.7M171.2 45.1Q171.3 41.4 173.0 38.1M180.5 35.8Q180.5 36.0 180.3 36.0M209.1 63.3Q208.5 64.1 208.4 65.2M216.4 73.2Q212.1 75.7 208.0 78.4M216.1 71.0Q211.6 71.0 208.6 67.6M207.1 70.6Q207.9 69.2 208.6 67.6M208.4 65.2Q208.0 66.4 208.6 67.6M186.6 75.2Q191.0 75.0 193.9 78.2M193.9 78.2Q193.1 79.9 193.7 81.7M151.5 88.0Q153.4 88.1 154.0 86.3M151.5 78.3Q150.2 82.5 153.5 85.3M151.3 88.1Q151.4 88.0 151.5 88.0M160.5 87.1Q157.0 88.1 154.0 86.3M170.8 32.6Q170.7 32.4 170.5 32.2M187.9 99.3Q188.0 100.2 188.1 101.0M188.1 101.0Q192.2 103.4 194.4 107.7M196.5 74.8Q202.0 76.5 204.0 81.9M193.9 78.2Q195.4 76.7 196.5 74.8M218.0 84.2Q212.5 84.3 207.9 81.3M184.5 113.5Q186.0 112.8 186.8 111.4M184.5 113.5Q181.0 109.2 175.5 109.7M186.8 111.4Q185.6 109.7 185.7 107.7M185.7 107.7Q181.1 108.2 176.7 106.4M188.1 111.6Q187.4 111.7 186.8 111.4M183.4 99.6Q179.8 102.7 176.7 106.4M176.0 105.8Q176.2 106.1 176.5 106.5M167.9 15.3Q168.2 23.0 171.2 30.2M171.2 30.2Q170.6 30.7 170.6 31.4M170.5 32.2Q170.6 31.8 170.6 31.4M224.1 23.1Q224.6 23.8 224.5 24.7M237.2 111.5Q236.3 110.2 234.8 109.7M243.4 106.3Q239.1 105.5 234.8 105.5M234.8 109.7Q234.4 107.6 234.8 105.5M145.5 71.4Q144.8 70.5 143.8 71.0M224.3 112.1Q226.2 107.1 228.3 102.3M233.3 101.1Q230.6 101.0 228.3 102.3M214.9 33.3Q212.4 37.1 209.7 40.8M229.0 72.3Q228.5 75.2 225.6 75.0M228.5 67.1Q228.0 69.8 229.0 72.3M165.1 82.7Q167.6 85.1 171.0 86.1M137.9 116.3Q138.6 125.0 130.3 127.7M145.6 111.5Q145.0 112.0 144.4 112.5M174.2 115.5Q174.3 114.1 173.4 113.2M144.4 112.5Q145.7 118.0 147.4 123.4M138.4 116.4Q139.0 118.7 139.9 121.0M210.2 41.5Q210.4 45.4 211.7 49.1M224.3 47.5Q222.7 46.9 221.4 45.6M180.1 49.2Q177.5 54.6 173.5 59.1M165.3 67.5Q168.1 62.7 171.9 58.8M165.5 78.6Q162.8 77.4 163.5 74.6M228.5 67.1Q224.4 66.9 220.3 66.2M139.2 89.3Q138.2 90.5 138.7 92.0M139.4 83.2Q145.8 84.4 151.3 88.1M156.8 134.2Q162.4 129.9 162.0 122.8M162.0 122.8Q158.8 127.4 153.8 129.9M149.6 126.7Q151.7 128.2 153.8 129.9M192.2 62.9Q196.4 64.8 195.1 69.3M194.8 70.1Q195.4 72.0 196.7 73.5M238.1 26.0Q239.2 24.6 240.3 23.1M214.3 97.8Q214.2 97.4 214.1 97.0M237.4 32.3Q237.3 29.1 238.1 26.0M197.2 43.4Q197.6 45.1 196.1 46.1M235.9 76.8Q240.7 72.6 242.9 66.6M213.6 101.2Q214.2 99.6 214.3 97.8M213.6 101.2Q216.9 102.4 220.3 103.1M200.0 26.5Q203.1 30.5 204.7 35.3M236.2 59.2Q241.5 56.5 244.1 51.1M206.1 91.7Q205.9 91.2 205.7 90.7M206.1 91.7Q205.6 95.6 202.6 98.0M205.7 90.7Q202.6 92.0 199.5 90.6M199.5 90.6Q200.3 93.6 200.3 96.8M202.6 98.0Q201.5 98.0 200.7 97.3M200.3 96.8Q200.4 97.1 200.7 97.3M215.0 92.3Q210.7 90.4 206.7 87.8M214.1 97.0Q211.6 92.0 206.1 91.7M206.7 87.8Q206.2 89.3 205.7 90.7M157.4 64.7Q155.2 67.0 154.2 70.1M158.2 73.7Q156.5 71.6 154.2 70.1M193.4 99.6Q194.7 97.5 196.5 95.7M192.6 90.6Q194.0 93.6 196.5 95.7M196.3 100.8Q198.2 98.7 200.7 97.3M200.3 96.8Q198.2 97.1 196.5 95.7M191.3 85.7Q192.7 87.0 193.2 88.9M193.2 88.9Q193.0 89.8 192.6 90.6M193.2 88.9Q195.5 88.7 197.8 89.1M197.8 89.1Q198.6 89.9 199.5 90.6M237.4 32.3Q241.7 34.6 239.5 39.0M239.5 39.0Q240.4 39.0 241.1 39.6M232.3 39.6Q235.7 36.9 239.4 39.0M239.5 39.0Q239.5 39.0 239.4 39.0M244.1 51.1Q241.5 46.0 241.2 40.3M241.1 39.6Q241.0 40.0 241.2 40.3M239.4 39.0Q231.4 41.1 232.7 49.3M241.2 40.3Q233.4 45.4 234.2 54.6M200.0 26.5Q203.8 25.7 207.3 27.3M158.2 73.7Q154.7 75.7 151.5 78.3M164.1 42.3Q162.6 43.6 160.7 43.3M202.6 98.0Q205.1 99.8 206.3 102.8M211.1 104.0Q210.4 104.2 209.6 104.1M213.6 101.2Q212.7 102.9 211.1 104.0M206.3 102.8Q208.3 102.5 209.6 104.1M199.1 64.4Q204.0 62.4 208.4 65.2M208.0 78.4Q208.4 74.4 207.1 70.6M191.3 85.7Q191.5 83.1 193.7 81.7M197.8 89.1Q199.8 84.9 203.5 82.2M193.7 81.7Q198.6 83.2 203.5 82.2M151.9 38.9Q157.4 36.3 163.4 37.1M151.4 34.3Q157.3 31.5 162.3 35.8M162.3 35.8Q162.6 36.6 163.4 37.1M164.1 42.3Q164.1 40.0 164.2 37.7M164.2 37.7Q163.9 37.3 163.4 37.1M164.2 37.7Q166.0 33.4 170.5 32.2M207.1 70.6Q205.6 70.2 204.4 71.0M197.9 73.3Q202.8 76.4 207.9 79.2M204.0 81.9Q205.9 83.1 207.6 81.6M207.6 81.6Q207.7 81.5 207.9 81.3M207.9 81.3Q207.8 80.3 207.9 79.2M203.5 82.2Q203.7 82.0 204.0 81.9M208.0 78.4Q207.8 78.8 207.9 79.2M206.7 87.8Q208.3 84.9 207.6 81.6M151.1 33.4Q153.8 33.1 156.3 32.0M162.3 35.8Q161.9 33.7 161.0 31.7M156.3 32.0Q158.7 32.8 161.0 31.7M162.1 28.9Q161.4 27.6 161.0 26.2M162.1 28.9Q166.2 30.7 170.6 31.4M161.3 22.5Q160.8 23.6 160.6 24.7M160.6 24.7Q160.5 25.6 161.0 26.2M156.3 32.0Q158.9 29.4 161.0 26.2M161.0 31.7Q162.0 30.5 162.1 28.9M151.7 28.7Q156.1 26.7 160.6 24.7" stroke="#9cd252" stroke-width="0.7" stroke-linecap="round" fill="none" stroke-dasharray="5 3 2 4"/>
<path d="M240.7 125.3Q239.9 125.8 239.9 126.8M224.5 24.7Q231.2 26.2 238.1 26.0M177.6 24.1Q180.3 25.0 182.4 26.7M182.4 26.7Q187.6 27.9 192.1 25.2M194.4 21.8Q193.7 23.8 192.1 25.2M143.0 47.3Q141.3 47.8 139.5 47.6M186.7 53.6Q188.3 56.3 191.4 56.7M240.6 122.7Q239.8 122.4 239.2 121.8M239.2 121.8Q237.9 116.7 237.2 111.5M220.7 83.4Q220.5 83.3 220.4 83.3M225.4 91.9Q224.4 93.8 222.9 95.3M218.0 84.2Q219.3 83.9 220.4 83.3M218.0 84.2Q215.5 87.9 215.0 92.3M214.3 97.8Q219.2 98.6 222.9 95.3M215.0 92.3Q214.9 94.7 214.1 97.0M230.2 93.0Q230.2 90.1 232.0 87.8M232.0 87.8Q233.5 88.4 234.3 86.9M190.9 30.5Q193.5 37.2 197.2 43.4M196.1 46.1Q192.3 46.2 188.5 46.9M185.8 45.2Q186.7 46.8 188.5 46.9M153.3 20.8Q152.4 23.7 150.9 26.4M135.8 60.4Q137.5 57.4 139.8 54.7M139.8 54.7Q134.5 53.2 129.7 50.7M144.8 48.5Q143.6 52.6 139.8 54.7M139.5 47.6Q134.1 47.4 129.7 50.7M239.2 80.8Q239.1 82.7 239.3 84.6M191.4 56.7Q195.3 57.0 198.6 54.7M236.3 77.7Q230.3 78.6 227.6 83.9M235.9 76.8Q235.5 77.5 236.3 77.7M232.0 87.8Q231.4 86.7 230.4 86.0M220.7 83.4Q224.1 83.4 227.6 83.9M225.4 91.9Q228.4 89.9 230.2 93.0M171.1 93.8Q173.1 95.0 175.0 96.3M171.1 93.8Q170.4 90.0 171.0 86.1M171.0 86.1Q174.8 85.9 178.5 86.7M171.1 93.8Q168.5 95.6 165.4 96.2M175.1 97.0Q175.0 97.1 175.0 97.2M175.0 97.2Q171.5 97.8 168.9 100.4M175.0 97.2Q174.9 101.6 176.0 105.8M168.9 100.4Q168.6 101.4 169.0 102.3M144.8 48.5Q145.8 49.0 146.9 48.8M137.1 61.0Q142.5 63.1 148.3 62.4M152.0 56.6Q148.7 58.5 148.3 62.4M148.3 62.4Q148.1 65.5 147.8 68.6M181.7 126.8Q175.7 127.5 170.5 124.3M181.7 126.8Q183.0 126.0 184.4 125.4M170.5 124.3Q172.3 119.9 174.2 115.5M174.2 115.5Q178.1 118.6 182.6 120.8M184.4 125.4Q183.7 123.0 182.6 120.8M175.1 97.0Q179.0 99.1 183.4 99.6M224.1 111.9Q221.8 107.7 220.3 103.1M220.3 103.1Q223.6 103.4 226.4 101.7M222.9 95.3Q224.0 98.9 226.4 101.7M194.4 21.8Q196.2 25.3 200.0 26.5M192.1 25.2Q192.5 28.1 190.9 30.5M205.4 39.0Q201.3 41.3 197.2 43.4M205.4 39.0Q204.8 37.2 204.7 35.3M210.2 41.5Q209.9 41.2 209.7 40.8M205.4 39.0Q207.3 40.6 209.7 40.8M204.7 35.3Q207.4 31.1 212.3 29.9M232.3 39.6Q231.2 40.2 230.2 41.0M177.6 24.1Q174.4 25.9 173.8 29.6M178.3 29.9Q176.1 28.5 173.8 29.6M235.9 76.8Q232.4 74.5 229.0 72.3M220.4 83.3Q221.0 82.1 221.1 80.8M221.1 80.8Q222.5 77.2 225.6 75.0M236.2 59.2Q237.9 60.7 239.7 62.1M239.7 62.1Q248.4 57.4 257.6 54.2M232.3 59.9Q233.3 59.3 234.5 59.0M234.5 59.0Q235.3 59.2 236.2 59.2M198.2 56.5Q195.1 59.6 192.3 62.9M189.4 62.0Q190.7 62.9 192.2 62.9M184.7 76.0Q184.4 75.7 184.2 75.4M184.7 76.0Q184.7 76.1 184.7 76.1M184.2 75.4Q179.2 76.5 174.2 75.6M184.7 76.1Q181.3 78.1 177.4 78.8M186.6 75.2Q186.0 76.3 184.7 76.0M185.5 84.3Q187.2 80.0 184.7 76.1M178.5 86.7Q179.3 82.6 177.4 78.8M165.5 78.6Q169.8 77.4 174.1 75.8M157.6 115.1Q161.0 111.9 159.8 107.4M159.8 107.4Q160.1 107.3 160.4 107.0M167.3 104.0Q163.9 104.6 161.3 106.8M164.7 95.9Q165.0 96.2 165.4 96.2M169.0 102.3Q168.6 103.6 167.3 104.0" stroke="#d4d040" stroke-width="0.7" stroke-linecap="round" fill="none" stroke-dasharray="2 7"/>
<path d="M170.1 25.5h0M169.8 30.0h0M170.9 28.4h0M169.6 27.3h0M190.9 92.9h0M190.6 92.4h0M192.6 92.4h0M192.5 92.8h0M146.7 38.0h0M146.5 40.1h0M146.3 35.8h0M185.4 44.4h0M184.0 42.5h0M185.2 42.6h0M186.3 43.2h0M148.5 32.7h0M147.3 34.5h0M155.0 95.9h0M154.4 93.4h0M157.2 95.1h0M155.3 93.8h0M156.6 93.8h0M199.1 110.4h0M199.4 112.9h0M198.3 110.4h0M179.0 90.0h0M179.8 88.2h0M145.1 115.9h0M144.9 117.3h0M147.1 115.5h0M144.5 116.7h0M193.4 26.6h0M192.9 26.6h0M192.9 25.7h0M192.6 27.8h0M232.0 108.9h0M235.0 110.6h0M153.9 80.4h0M152.1 78.9h0M153.4 96.6h0M153.1 96.4h0M151.4 52.6h0M148.7 51.7h0M184.1 49.7h0M184.4 49.9h0M188.6 42.6h0M192.3 43.6h0M189.9 43.4h0M190.4 42.3h0M192.3 45.4h0M194.8 89.8h0M195.8 93.6h0M195.1 92.9h0M194.1 93.4h0M144.0 48.3h0M144.4 48.0h0M141.7 46.8h0M180.3 116.0h0M180.2 116.5h0M181.2 116.7h0M180.9 115.2h0M179.7 117.2h0M178.2 30.1h0M173.7 29.3h0M174.7 27.5h0M196.9 36.7h0M196.3 37.3h0M143.6 47.2h0M141.0 45.3h0M141.7 46.3h0M141.2 45.5h0M158.1 57.0h0M242.1 80.6h0M186.7 106.3h0M186.9 108.2h0M186.6 107.4h0M161.6 26.4h0M162.4 26.4h0M162.5 26.1h0M139.4 36.0h0M142.2 35.8h0M144.9 34.2h0M141.9 32.6h0M141.3 35.2h0M199.6 76.2h0M141.9 99.9h0M200.7 70.9h0M202.2 69.4h0M200.6 69.0h0M159.7 38.8h0M159.9 36.3h0M160.5 37.2h0M148.6 38.4h0M238.7 109.7h0M238.9 110.2h0M197.3 46.7h0M145.6 93.4h0M144.2 90.0h0M144.5 90.1h0M143.1 91.2h0M218.5 88.3h0M216.6 86.5h0M158.4 105.4h0M168.4 66.1h0M169.0 64.9h0M170.6 69.0h0M169.9 68.2h0M146.9 77.9h0M137.6 88.1h0M139.5 88.5h0M139.9 88.7h0M215.2 87.4h0M152.8 49.4h0M152.4 43.9h0M199.4 46.1h0M200.7 46.8h0M198.6 44.9h0M215.7 70.7h0M229.1 115.7h0M228.2 115.8h0M177.9 107.6h0M175.7 106.0h0M178.1 108.9h0M157.7 46.6h0M157.2 45.5h0M156.6 45.4h0M158.2 44.7h0M218.5 45.9h0M156.9 32.2h0M160.3 27.8h0M159.2 30.0h0M158.1 29.6h0M229.9 65.8h0M225.9 70.5h0M228.5 73.0h0M228.4 67.9h0M212.0 32.8h0M213.9 33.2h0M210.9 32.2h0M212.3 32.8h0M141.7 63.6h0M228.6 41.9h0M230.4 41.5h0M175.3 30.2h0M175.9 32.1h0M176.9 29.9h0M176.0 33.2h0M177.2 72.5h0M176.4 71.2h0M176.9 73.2h0M175.2 97.2h0M215.1 103.8h0M225.0 30.7h0M198.7 35.9h0M198.2 32.4h0M196.5 33.8h0M197.9 36.1h0M215.9 47.7h0M147.4 72.3h0M148.9 70.7h0M150.0 70.8h0M149.9 71.7h0M172.3 90.7h0M172.1 92.3h0M174.1 91.2h0M172.3 90.8h0M162.7 32.2h0M163.2 32.8h0M155.6 62.8h0M153.4 63.5h0M155.5 61.8h0M170.5 34.6h0M170.4 36.9h0M170.8 35.9h0M170.0 35.2h0M208.8 105.1h0M192.3 125.0h0M177.0 40.2h0M177.1 39.0h0M224.0 61.8h0M222.2 61.1h0" stroke="#b01c1c" stroke-width="1.2" stroke-linecap="round" fill="none"/>
<path d="M169.0 25.8h0M191.8 90.5h0M190.9 95.1h0M191.8 94.9h0M144.7 36.6h0M145.1 35.8h0M183.7 44.0h0M185.0 45.2h0M149.4 30.3h0M147.2 32.8h0M147.8 33.8h0M155.1 94.3h0M198.8 112.6h0M200.6 111.4h0M198.7 110.1h0M180.2 92.3h0M146.4 118.6h0M193.8 26.9h0M194.7 26.7h0M193.2 25.8h0M232.4 107.0h0M234.2 110.7h0M230.4 109.9h0M154.7 78.6h0M154.7 76.0h0M154.2 94.1h0M152.1 95.8h0M155.3 96.8h0M148.6 51.2h0M149.8 53.1h0M150.7 52.4h0M184.9 52.4h0M184.4 51.0h0M189.2 43.6h0M189.0 42.4h0M191.6 45.0h0M194.5 93.6h0M193.9 94.1h0M145.3 46.5h0M181.6 116.2h0M179.6 29.7h0M177.2 31.0h0M194.9 36.1h0M142.1 42.1h0M158.6 58.3h0M240.9 82.7h0M238.9 81.3h0M187.3 105.3h0M159.7 25.4h0M142.2 32.1h0M144.5 34.9h0M141.6 37.0h0M199.4 74.8h0M139.6 95.8h0M139.1 98.5h0M200.1 70.3h0M198.7 70.4h0M201.7 71.4h0M158.8 36.5h0M160.0 36.4h0M156.3 35.3h0M149.0 38.0h0M148.4 38.2h0M151.9 41.3h0M236.8 106.9h0M200.2 45.1h0M198.5 45.1h0M145.2 91.6h0M216.4 90.1h0M217.6 87.7h0M216.7 91.9h0M155.7 107.0h0M158.0 105.9h0M170.7 67.5h0M170.2 68.2h0M145.2 79.4h0M146.5 79.9h0M147.0 80.2h0M140.4 89.5h0M139.0 90.6h0M218.7 86.0h0M154.3 46.0h0M155.1 48.7h0M155.3 47.3h0M200.4 43.8h0M216.5 68.7h0M228.3 115.7h0M226.9 113.0h0M226.7 113.7h0M177.2 106.7h0M177.1 108.6h0M156.4 44.4h0M158.0 45.5h0M154.7 45.6h0M215.1 46.1h0M217.5 44.5h0M157.3 28.4h0M158.7 28.7h0M157.4 29.2h0M232.1 63.9h0M227.8 71.3h0M225.9 73.1h0M227.7 72.7h0M214.2 32.2h0M212.8 31.2h0M142.2 67.6h0M142.0 67.5h0M142.2 65.4h0M229.4 43.4h0M228.9 41.3h0M229.2 42.6h0M174.8 32.9h0M174.1 29.6h0M177.3 72.5h0M177.5 73.3h0M178.8 71.9h0M173.4 99.0h0M176.4 98.2h0M175.2 97.9h0M215.5 103.6h0M224.7 34.0h0M224.4 32.4h0M223.4 33.0h0M199.2 36.3h0M197.1 34.9h0M216.9 50.3h0M217.1 46.6h0M215.2 46.7h0M145.8 72.2h0M147.7 71.7h0M174.5 92.2h0M171.9 93.6h0M173.6 91.0h0M164.5 32.7h0M162.7 34.3h0M163.6 30.6h0M153.5 62.2h0M156.8 61.5h0M168.2 36.1h0M209.1 103.0h0M192.1 124.3h0M178.2 39.1h0M177.9 37.6h0M221.7 61.3h0M223.2 60.4h0" stroke="#e02828" stroke-width="1.4" stroke-linecap="round" fill="none"/>
</g></g>
<clipPath id="c2"><rect x="241.6" y="26.5" width="102.40" height="101.70"/></clipPath>
<g clip-path="url(#c2)"><g filter="url(#soft)">
<rect x="239.6" y="24.5" width="106.40" height="105.70" fill="#0c0303"/>
<path d="M258.0 31.2h0M301.6 101.5h0M326.0 46.0h0M272.0 101.8h0M311.7 27.6h0M289.1 82.8h0M332.9 96.3h0M299.4 115.4h0M343.3 32.1h0M266.4 95.3h0M252.8 110.8h0M277.0 36.7h0M321.4 31.9h0M296.9 30.3h0M336.2 43.6h0M343.4 125.1h0M336.0 82.2h0M258.2 83.1h0M302.0 81.2h0M315.9 35.1h0M335.7 112.6h0M256.6 63.4h0M304.3 91.8h0M247.1 51.7h0M317.7 57.5h0M300.3 124.4h0M254.6 71.2h0M253.2 103.6h0M295.3 90.9h0M292.2 110.8h0M296.7 94.8h0M341.7 32.0h0M341.8 95.6h0M271.9 83.4h0M249.3 38.2h0M271.5 96.7h0M324.9 120.1h0M268.6 36.8h0M256.2 106.3h0M303.4 44.4h0M312.3 96.8h0M259.4 51.3h0M247.5 38.3h0M258.4 62.3h0M265.8 108.3h0M278.6 118.3h0M299.2 116.8h0M335.1 57.1h0M277.4 52.7h0M306.5 85.2h0M309.5 40.7h0M270.5 34.7h0M298.3 52.3h0M342.2 28.0h0M343.7 86.6h0M285.1 122.1h0M326.0 43.5h0M275.8 52.4h0M323.8 69.6h0M280.3 126.3h0M321.4 44.3h0M249.6 95.7h0M262.1 65.5h0M306.0 123.0h0M263.9 125.9h0M272.2 85.7h0M310.8 36.6h0M271.8 125.5h0M274.2 63.0h0M325.6 79.8h0M253.7 77.1h0M245.6 74.1h0M326.6 55.1h0M333.9 95.5h0M310.9 43.3h0M305.8 34.4h0M332.9 27.4h0M295.9 30.3h0M253.3 87.9h0M280.1 105.7h0M286.7 43.6h0M328.7 31.3h0M304.2 34.2h0M248.3 99.2h0M309.1 106.0h0M327.8 28.2h0M250.1 36.0h0M335.6 92.9h0M248.2 87.2h0M312.5 42.6h0M279.2 34.7h0M293.2 122.3h0M259.6 93.8h0M259.3 117.0h0M270.7 71.4h0M323.3 64.9h0M327.2 43.0h0M322.6 38.8h0M276.1 84.6h0M276.5 31.8h0M287.3 74.8h0M257.6 100.0h0M281.2 38.5h0M297.7 36.6h0M271.7 72.6h0M258.6 84.9h0M250.6 26.5h0M288.1 118.5h0M295.8 66.2h0M273.0 86.9h0M242.5 125.2h0M289.9 54.7h0M339.3 95.2h0M300.9 90.4h0M290.7 51.6h0M288.1 117.3h0M275.5 107.1h0M302.3 48.3h0M261.2 32.1h0M333.0 31.2h0M288.1 81.9h0M309.8 27.3h0M248.1 49.9h0M279.1 62.6h0M257.1 34.2h0M260.6 123.9h0M307.2 112.6h0M309.0 27.5h0M306.4 45.3h0M275.1 90.3h0M329.1 57.9h0M321.4 41.6h0M302.7 102.7h0M280.0 40.5h0M317.2 87.6h0M268.9 51.7h0M265.6 36.4h0M244.6 113.7h0M317.6 33.1h0M258.1 93.3h0M275.6 69.6h0M290.8 48.4h0M290.4 114.3h0M323.5 80.2h0M255.2 102.2h0M305.4 53.0h0M295.1 70.7h0M264.6 108.0h0M273.4 42.2h0M281.8 54.2h0M253.9 126.2h0M246.7 56.7h0M257.5 49.1h0M282.7 100.0h0M329.2 44.5h0M271.9 58.6h0M325.6 102.0h0M331.7 56.6h0M264.7 98.7h0M325.8 83.8h0M289.5 109.9h0M294.8 116.1h0M321.3 120.0h0M291.7 96.3h0M307.2 103.9h0M256.6 48.0h0M248.0 75.9h0M328.0 105.6h0M295.8 91.1h0M246.7 94.5h0M319.4 97.2h0M319.3 118.9h0M267.6 89.6h0M313.6 76.6h0M339.9 29.4h0M301.5 87.1h0M331.3 66.5h0M252.8 26.8h0M250.9 46.8h0M279.1 89.7h0M255.1 51.5h0M343.3 97.4h0M258.9 73.1h0M292.4 106.5h0M249.3 34.5h0M246.0 38.1h0M318.9 72.1h0M309.9 108.8h0M281.6 115.1h0M326.5 66.8h0M316.2 81.1h0M295.2 111.0h0M320.4 124.5h0M305.2 110.2h0M250.1 82.0h0M267.3 100.5h0M296.5 98.2h0M272.7 42.6h0M298.9 97.0h0M309.6 42.5h0M272.9 72.0h0M302.4 69.7h0M270.8 109.7h0M311.1 118.7h0M242.8 76.0h0M340.8 68.2h0M296.2 99.0h0M280.2 51.2h0M286.5 32.9h0M258.5 71.2h0M335.7 48.0h0M291.1 31.9h0M292.4 53.8h0M254.1 115.9h0M292.7 63.3h0M269.4 83.5h0M287.6 55.1h0M313.6 64.1h0M315.1 121.7h0M267.1 109.9h0M291.9 94.5h0M331.9 78.5h0M302.2 97.9h0M268.7 92.1h0M258.1 124.9h0M259.1 122.3h0M277.4 83.0h0M258.1 85.0h0M322.1 68.4h0M339.0 121.3h0M343.3 62.3h0M313.5 51.2h0M293.3 114.4h0M323.6 77.4h0M286.5 95.8h0M245.3 106.2h0M340.9 109.3h0M251.8 121.3h0M246.9 98.1h0M319.2 42.5h0M297.2 121.7h0M306.4 54.1h0M307.1 101.0h0M287.0 107.2h0M248.9 74.7h0M296.4 77.9h0M342.4 49.4h0M296.0 49.8h0M330.7 98.8h0M332.0 104.0h0M312.8 83.4h0M262.5 88.7h0M337.6 123.1h0M324.6 41.7h0M322.7 73.1h0M249.1 124.9h0M331.1 42.3h0M306.3 126.1h0M303.7 99.5h0M251.4 112.6h0M322.0 98.3h0M318.6 54.7h0M268.8 42.5h0M255.9 84.4h0M311.7 115.7h0M261.6 54.8h0M284.5 114.1h0M317.0 31.8h0M292.3 64.1h0M320.7 98.2h0M259.1 30.7h0M329.0 83.5h0M298.8 126.9h0M296.6 35.7h0M253.0 29.0h0M298.7 115.2h0M282.3 111.8h0M334.9 31.9h0M256.4 98.4h0M297.6 67.4h0M288.8 27.5h0M338.7 125.8h0M330.1 49.5h0M291.6 56.3h0M330.1 40.3h0M299.3 64.3h0M253.7 101.7h0M251.6 52.7h0M283.0 90.4h0M336.2 118.9h0M319.1 100.3h0M333.9 41.8h0M339.1 54.5h0M317.9 68.4h0M282.2 90.5h0M268.6 113.3h0M321.4 76.2h0M323.6 60.8h0M339.4 112.5h0M306.6 49.8h0M331.0 112.2h0M269.3 125.3h0M270.3 79.1h0M288.3 97.4h0M257.1 38.1h0M328.9 80.1h0M324.7 108.1h0M334.4 50.2h0M259.5 98.5h0M308.7 82.5h0M244.4 124.0h0M252.1 113.6h0M296.5 53.5h0M314.5 39.6h0M308.5 79.8h0M253.2 43.8h0M275.1 40.5h0M292.6 91.9h0M242.5 63.4h0M301.4 96.3h0M292.7 57.3h0M298.5 37.7h0M343.6 84.2h0M288.0 49.7h0M340.5 119.3h0M301.4 46.6h0M288.2 57.7h0M262.0 55.1h0M325.5 53.6h0M274.0 125.0h0M270.2 97.1h0M280.2 63.0h0M293.7 43.3h0M279.0 119.4h0M321.8 98.0h0M263.7 118.3h0M265.2 121.2h0M305.2 44.0h0M243.8 123.1h0M278.1 87.8h0M326.6 48.6h0M337.5 70.7h0M310.3 67.0h0M261.3 109.2h0M278.2 110.6h0M285.1 87.5h0M328.9 112.1h0M267.2 122.8h0M318.0 105.6h0M286.1 89.6h0M314.8 125.3h0M310.2 108.0h0M333.0 41.3h0M310.9 107.9h0M267.3 126.3h0M285.8 110.7h0M284.1 57.1h0M259.7 60.9h0M334.4 93.5h0M262.1 102.1h0M272.6 94.8h0M341.4 53.4h0M308.5 109.4h0M327.5 36.8h0M242.7 46.8h0M308.7 75.1h0M282.8 64.2h0M339.8 112.4h0M331.2 33.4h0M305.4 41.5h0M337.9 96.9h0M317.9 80.4h0M252.2 35.1h0M302.5 103.1h0M338.9 115.2h0M255.9 121.2h0M303.8 70.8h0M248.9 91.7h0M285.0 66.7h0M317.5 50.0h0M286.2 56.9h0M338.7 44.6h0M274.7 114.9h0M324.6 88.1h0M244.7 35.9h0M280.2 87.3h0M332.8 114.0h0M314.7 71.8h0M320.0 110.4h0M284.3 35.7h0M302.5 60.0h0M310.7 127.2h0M287.4 109.5h0M304.2 97.5h0M297.7 55.4h0M281.6 105.7h0M295.0 95.7h0M298.3 94.1h0M304.3 105.0h0M316.2 39.9h0M312.8 113.9h0M333.9 101.6h0M340.5 32.5h0M242.5 98.2h0M313.7 83.3h0M328.8 57.0h0M300.2 116.7h0M256.4 98.9h0M340.7 104.1h0M319.9 116.0h0M273.6 86.7h0M272.7 81.6h0M249.6 71.8h0M274.2 66.7h0M288.8 95.8h0M269.4 110.1h0M250.3 62.6h0M263.0 69.4h0M246.7 97.8h0M282.1 100.6h0M303.9 33.5h0M328.2 38.7h0M328.0 105.3h0M276.6 92.9h0M301.6 27.1h0M307.1 51.5h0M256.9 121.7h0M306.8 87.5h0M287.9 87.8h0M299.1 64.2h0M332.9 91.0h0M268.9 31.8h0M250.8 101.4h0M290.6 84.5h0M247.5 106.3h0M339.8 47.5h0M327.2 48.1h0M261.7 47.6h0M289.1 101.0h0M336.7 79.2h0M243.8 42.6h0M318.5 31.5h0M284.3 94.0h0M255.1 26.9h0M331.8 120.4h0M309.9 61.5h0M282.9 67.7h0M262.7 35.5h0M332.5 47.2h0M257.0 44.6h0M305.0 102.8h0M306.3 32.7h0M275.1 54.2h0M340.6 50.7h0M341.1 46.0h0M325.0 38.1h0M262.5 106.7h0M343.4 28.5h0M334.8 42.2h0M339.7 95.3h0M331.9 40.6h0M298.1 65.5h0M252.2 121.8h0M282.3 66.5h0M286.4 76.4h0M299.0 32.5h0M320.5 83.3h0M319.9 65.1h0M277.2 111.8h0M320.7 97.8h0M262.0 32.0h0M287.4 121.1h0M325.9 100.1h0M308.9 55.9h0M245.0 48.1h0M335.6 61.9h0M323.5 67.0h0M291.6 124.3h0M286.4 128.1h0M315.2 121.2h0M247.0 70.8h0M281.1 44.0h0M280.8 68.4h0M333.4 73.7h0M266.7 110.9h0M254.0 79.5h0M301.1 53.0h0M277.5 34.3h0M253.6 51.8h0M300.3 71.2h0M295.3 59.0h0M303.1 72.1h0M313.7 93.1h0M311.9 33.8h0M328.4 49.4h0M269.2 68.3h0M257.4 94.1h0M289.3 76.1h0M263.9 46.9h0M266.8 45.2h0M309.2 91.6h0M262.7 62.6h0M329.8 111.6h0M298.8 57.6h0M315.4 124.6h0M293.4 57.0h0M340.9 128.0h0M302.0 114.5h0M325.1 108.3h0M324.6 114.8h0M275.9 88.3h0M260.1 100.9h0M294.8 96.7h0M289.3 70.9h0M321.9 95.4h0M278.9 125.7h0M294.6 43.8h0M253.3 32.4h0M278.7 100.6h0M270.2 65.5h0M277.8 96.7h0M338.9 46.1h0M325.1 111.6h0M289.7 79.6h0M282.3 117.0h0M268.2 99.4h0M284.4 87.0h0M340.8 34.3h0M262.3 62.6h0M327.0 83.4h0M303.3 124.5h0M336.2 120.8h0M317.3 116.0h0M262.4 40.5h0M340.1 35.1h0M338.3 122.3h0M253.6 38.8h0M277.8 59.8h0M251.6 100.5h0M292.9 60.3h0M333.8 116.9h0M319.6 36.3h0M309.8 64.1h0M288.1 85.4h0M257.6 107.0h0M255.1 86.4h0M295.7 120.8h0M277.1 57.9h0M324.0 100.0h0M317.9 74.7h0M317.6 43.3h0M261.0 40.9h0M307.0 33.9h0M309.0 115.7h0M310.1 29.9h0M295.1 76.9h0M300.8 54.6h0M314.9 54.2h0M341.7 57.2h0M244.2 87.3h0M266.8 83.3h0M323.0 113.8h0M300.8 105.1h0M259.5 36.4h0M265.7 67.7h0M313.8 48.1h0M284.0 91.9h0M321.0 119.8h0M339.3 65.6h0M281.1 83.9h0M326.5 77.0h0M287.9 58.7h0M320.8 91.6h0M281.8 37.5h0M255.0 118.9h0M273.5 38.5h0M308.2 54.2h0M339.4 50.1h0M274.7 92.9h0M294.4 123.3h0M336.1 33.8h0M313.8 50.9h0M269.0 64.0h0M304.7 60.8h0M282.1 72.6h0M249.9 60.9h0M287.0 50.2h0M342.1 62.4h0M309.8 117.5h0M305.7 42.5h0M302.3 86.2h0M332.2 113.0h0M284.3 59.0h0M245.9 51.0h0M280.6 31.2h0M243.2 43.7h0M296.3 40.0h0M333.7 125.5h0M279.2 51.4h0M290.6 88.0h0M325.1 48.5h0M320.8 88.5h0M267.8 117.8h0M342.0 123.2h0M314.7 73.8h0M255.3 67.2h0M258.7 63.0h0M262.4 102.7h0M339.7 73.6h0M319.4 126.6h0M340.9 114.1h0M328.3 86.5h0M295.0 80.6h0M329.5 69.9h0M270.3 45.0h0M308.2 42.1h0M310.7 83.5h0M321.6 109.8h0M328.9 50.3h0M335.5 74.8h0M253.3 34.4h0M243.3 70.3h0M286.0 116.8h0M318.8 30.7h0M278.7 83.4h0M341.3 41.6h0M339.8 28.3h0M302.9 100.1h0M330.6 93.2h0M314.9 30.8h0M272.6 32.5h0M323.4 63.8h0M315.8 98.3h0M327.0 122.5h0M250.3 96.1h0M270.6 110.6h0M292.3 47.7h0M319.5 29.5h0M339.2 120.7h0M243.7 125.7h0M259.7 33.6h0M292.0 47.4h0M279.0 47.1h0M272.0 125.8h0M288.0 63.4h0M295.2 87.6h0M323.9 60.6h0M318.4 28.9h0M291.4 109.1h0M274.2 91.9h0M291.3 33.9h0M312.7 52.9h0M330.7 110.1h0M275.0 27.0h0M267.7 48.3h0M251.4 57.0h0M249.4 38.8h0M296.0 87.3h0M262.9 106.4h0M341.2 117.4h0M293.6 46.3h0M317.6 79.8h0M327.5 50.1h0M252.1 124.6h0M284.9 119.3h0M343.7 54.8h0M260.5 89.8h0M249.6 90.6h0M266.2 44.0h0M281.9 95.2h0M335.3 59.6h0M337.2 33.5h0M283.1 77.4h0M301.1 67.5h0M282.0 87.7h0M323.7 103.3h0M297.5 34.5h0M293.2 91.0h0M323.3 56.9h0M300.1 32.9h0M306.8 43.6h0M270.6 101.3h0M275.4 81.8h0M309.8 36.5h0M250.6 110.6h0M328.6 65.7h0M304.5 28.0h0M268.0 75.0h0M323.4 78.7h0M283.2 52.9h0M265.1 72.0h0M318.5 70.0h0M327.2 27.6h0M256.3 120.2h0M255.8 96.8h0M319.3 61.2h0M338.2 115.8h0M322.3 90.0h0M311.5 56.3h0M256.2 70.5h0M260.8 104.5h0M260.9 97.2h0M328.4 81.9h0M343.3 84.9h0M257.2 96.7h0M284.9 93.1h0M333.0 66.6h0M340.5 39.7h0M290.3 70.0h0M242.8 29.3h0M313.1 124.2h0M322.4 119.9h0M256.6 27.0h0M319.4 64.2h0M265.8 91.4h0M247.9 57.6h0M314.1 94.8h0M254.5 68.2h0M293.3 123.0h0M328.3 117.6h0M307.5 55.0h0M269.7 26.8h0M322.4 37.6h0M279.1 36.3h0M271.5 39.4h0M323.6 68.0h0M269.1 66.3h0M271.9 62.5h0M282.4 107.6h0M244.9 71.4h0M307.4 116.5h0M255.7 98.0h0M276.6 38.9h0M319.8 81.1h0M254.2 77.1h0M278.5 32.3h0M328.1 90.7h0M303.3 77.1h0M247.7 52.1h0M266.8 64.3h0M314.5 127.4h0M318.6 113.6h0M243.0 46.9h0M280.8 46.7h0M286.7 70.5h0M290.9 75.5h0M311.1 53.2h0M326.6 47.4h0M342.6 117.3h0M311.0 71.3h0M280.2 68.1h0M326.9 53.5h0M337.2 90.2h0M294.7 58.3h0M282.8 66.4h0M305.8 123.8h0M260.4 46.9h0M301.2 120.4h0M297.6 110.1h0M323.5 34.4h0M251.7 81.2h0M247.7 30.1h0M282.3 117.6h0M289.0 80.2h0M298.1 39.9h0M331.4 33.5h0M242.3 85.0h0M338.0 107.7h0M330.0 128.0h0M341.8 63.2h0M271.2 43.4h0M319.2 118.0h0M315.0 90.4h0M303.1 73.6h0M264.3 28.9h0M301.0 120.1h0M310.5 30.7h0M326.4 33.7h0M301.0 114.0h0M293.9 127.2h0M336.7 125.4h0M288.9 74.4h0M311.4 71.8h0M319.9 122.4h0M310.1 36.1h0M297.6 40.4h0M272.2 54.2h0M258.7 117.4h0M326.0 38.9h0M316.9 72.6h0M307.4 58.2h0M336.5 70.9h0M322.0 73.5h0M334.6 101.4h0M322.6 118.1h0M284.4 102.6h0M314.2 113.2h0M319.1 100.8h0M283.8 118.1h0M270.6 65.4h0M290.1 46.3h0M250.4 47.6h0M280.5 40.8h0M321.6 113.2h0M303.6 44.2h0M323.6 75.8h0M282.1 86.4h0M340.8 63.8h0M305.2 46.5h0M325.4 122.1h0M252.0 59.1h0M270.8 116.0h0M246.9 113.0h0M243.9 69.2h0M263.3 72.1h0M332.8 118.9h0M282.9 102.2h0M248.1 73.4h0M249.3 83.3h0M308.3 26.8h0M309.9 89.5h0M278.5 79.8h0M341.4 44.9h0M241.8 32.7h0M262.9 43.7h0M298.8 44.3h0M268.2 107.7h0M324.9 50.8h0M254.1 67.6h0M279.7 117.1h0M310.8 79.2h0M253.8 29.6h0M263.9 106.2h0M277.3 102.3h0M305.6 74.9h0M291.6 121.5h0M340.3 98.5h0M337.5 35.0h0M289.4 73.2h0M262.4 108.6h0M271.8 89.5h0M311.7 33.3h0M252.7 33.9h0M248.0 33.1h0M267.9 71.8h0M300.8 71.6h0M340.2 87.4h0M275.5 88.6h0M250.7 109.3h0M322.5 29.8h0M331.2 71.5h0M278.3 31.2h0M293.4 54.4h0M311.8 77.2h0M311.2 93.4h0M316.1 116.2h0M309.1 33.1h0M243.2 57.0h0M277.3 66.4h0M249.3 37.1h0M247.2 94.9h0M269.5 68.1h0M324.4 115.9h0M266.8 51.7h0M291.6 105.3h0M312.2 71.6h0M288.7 100.4h0M311.9 75.0h0M333.8 67.6h0M334.6 99.2h0M269.4 115.1h0M287.5 31.5h0M272.8 32.5h0M325.0 55.7h0M270.3 44.9h0M281.8 92.7h0M256.9 104.8h0M261.4 94.6h0M300.2 108.3h0M245.0 46.5h0M326.6 28.2h0M262.9 126.7h0M269.4 45.1h0M243.1 45.5h0M342.5 93.6h0M341.2 90.1h0M317.0 103.3h0M315.0 83.1h0M242.0 114.0h0M286.7 53.0h0M262.9 83.7h0M310.8 95.2h0M321.3 50.0h0M287.9 109.9h0M283.1 118.6h0M298.3 71.7h0M256.0 75.8h0M246.1 32.1h0M302.4 125.8h0M317.4 102.8h0M297.2 68.7h0M305.1 49.6h0M266.2 52.8h0M306.8 44.8h0M256.4 85.8h0M244.8 110.8h0M270.1 102.7h0M254.9 42.1h0M299.6 66.1h0M331.8 106.3h0M264.9 126.7h0M316.2 85.2h0M295.2 61.4h0M288.2 55.4h0M302.3 111.6h0M287.3 102.2h0M296.0 34.2h0M265.9 104.5h0M329.3 46.6h0M293.9 113.3h0M310.3 37.1h0M261.4 70.4h0M288.7 93.3h0M248.1 84.3h0M245.2 70.0h0M289.3 68.9h0M331.8 43.9h0M299.4 52.2h0M243.0 112.9h0M278.9 40.0h0M269.6 109.3h0M307.8 96.9h0M269.7 122.8h0M308.3 30.0h0M316.2 79.7h0M281.1 75.9h0M282.8 117.7h0M329.1 99.4h0M265.4 119.3h0M333.8 104.4h0M271.4 121.5h0M310.9 57.5h0M276.2 94.0h0M340.3 57.4h0M258.7 44.0h0M308.0 60.2h0M283.9 41.1h0M260.1 57.2h0M301.4 100.3h0M333.7 55.0h0M262.5 99.0h0M245.5 80.6h0M323.9 31.2h0M285.2 66.3h0M324.0 105.5h0M285.4 105.4h0M243.3 26.7h0M316.3 99.8h0M334.6 68.5h0M317.7 100.6h0M322.1 31.9h0M329.5 65.1h0M331.2 30.4h0M302.7 31.1h0M270.2 40.8h0M318.9 92.9h0M336.4 93.5h0M282.4 30.8h0M340.3 37.1h0M295.2 94.8h0M255.5 77.3h0M307.9 100.2h0M298.9 65.8h0M310.1 110.4h0M319.0 75.5h0M333.3 52.8h0M269.8 96.2h0M243.6 71.2h0M250.7 118.3h0M249.7 79.6h0M302.5 87.8h0M279.5 72.6h0M269.2 99.9h0M292.3 79.0h0M287.6 90.3h0M269.8 113.5h0M242.9 109.5h0M281.7 97.5h0M342.8 59.8h0M244.6 77.7h0M317.8 73.6h0M288.2 41.5h0M275.3 79.5h0M340.3 32.0h0M332.5 102.4h0M304.8 125.6h0M316.6 34.3h0M286.1 123.0h0M333.6 80.9h0M273.5 104.8h0M339.3 87.6h0M266.3 112.1h0M342.7 26.9h0M341.9 89.1h0M328.2 74.3h0M264.0 51.3h0M250.8 108.6h0M326.6 34.2h0M271.2 41.0h0M285.3 125.8h0M303.5 59.9h0M311.4 45.5h0M324.4 118.1h0M298.8 117.0h0M302.3 70.7h0M298.3 68.2h0M282.9 120.7h0M309.8 51.2h0M340.4 64.0h0M314.8 104.6h0M258.9 57.7h0M298.7 80.4h0M255.4 41.5h0M339.7 98.9h0M337.4 122.4h0M319.5 114.5h0M332.1 117.4h0M270.0 97.6h0M247.0 99.7h0M275.4 84.7h0M273.9 110.6h0M271.4 60.0h0M306.0 113.6h0M265.8 29.1h0M314.0 38.9h0M334.8 82.1h0M303.7 102.6h0M292.3 49.7h0M275.7 71.0h0M298.9 41.6h0M277.0 114.3h0M316.4 35.1h0M312.4 62.8h0M254.5 111.4h0M286.2 30.3h0M250.8 42.2h0M263.4 116.8h0M327.0 93.6h0M293.7 126.1h0M303.8 102.8h0M330.2 85.6h0M316.6 75.9h0M270.7 94.5h0M261.3 76.1h0M309.3 30.1h0M276.7 45.8h0M299.0 104.0h0M323.5 73.3h0M342.7 45.3h0M328.7 95.2h0M271.0 102.6h0M291.5 48.8h0M284.6 112.8h0M340.2 44.9h0M308.5 51.3h0M341.9 35.3h0M325.2 40.3h0M314.4 66.6h0M320.7 75.9h0M343.9 36.4h0M245.7 99.6h0M271.3 121.6h0M323.5 26.6h0M251.2 71.2h0M268.5 61.6h0M260.4 53.0h0M313.6 105.9h0M336.9 80.7h0M316.9 53.6h0M260.7 96.3h0M329.1 37.9h0M301.4 90.9h0M305.0 124.4h0M285.8 106.5h0M286.5 109.3h0M342.3 32.8h0M264.2 35.3h0M314.3 100.0h0M269.5 46.0h0M272.0 35.6h0M335.4 27.2h0M283.0 52.6h0M292.0 107.3h0M325.4 85.2h0M278.6 103.5h0M314.8 39.9h0M279.6 92.6h0M303.4 89.0h0M287.0 87.6h0M298.2 54.3h0M299.7 63.7h0M316.6 55.5h0M267.6 116.2h0M342.7 114.2h0M293.5 98.1h0M321.7 28.0h0M266.1 27.5h0M276.2 98.5h0M295.6 74.8h0M285.1 64.2h0M262.7 97.3h0M248.0 102.7h0M275.0 116.1h0M320.0 127.5h0M302.3 76.7h0M308.3 66.9h0M285.3 123.8h0M334.0 28.0h0M296.3 95.3h0M252.9 75.4h0M343.5 71.1h0M250.0 70.8h0M324.5 32.1h0M286.0 92.3h0M282.4 28.2h0M267.6 44.9h0M320.9 119.6h0M313.0 28.5h0M315.0 119.4h0M256.0 57.3h0M328.5 53.7h0M336.5 59.2h0M241.9 58.1h0M336.2 109.0h0M252.0 46.6h0M285.3 31.8h0M300.8 122.7h0M319.3 124.2h0M330.3 118.3h0M261.1 46.5h0M242.2 117.3h0M255.8 71.9h0M246.2 120.0h0M260.6 39.0h0M288.2 32.1h0M256.7 84.6h0M296.3 87.3h0M310.8 53.1h0M299.9 77.6h0M288.0 28.1h0M300.8 33.7h0M320.3 126.3h0M258.7 68.6h0M247.2 59.5h0M250.3 81.7h0M300.8 68.4h0M309.4 97.5h0M265.4 123.4h0M318.2 55.6h0M338.8 71.3h0M280.9 75.7h0M314.0 68.9h0M284.5 91.3h0M299.2 73.3h0M292.5 60.7h0M258.6 117.0h0M329.3 108.1h0M256.0 60.1h0M241.8 41.5h0M242.3 74.5h0M331.3 71.1h0M303.6 103.7h0M280.2 72.0h0M281.4 51.8h0M285.5 35.9h0M288.6 99.9h0M262.4 125.3h0M289.3 54.9h0M286.2 80.6h0M317.4 120.9h0M312.1 119.6h0M256.5 29.7h0M310.2 49.7h0M252.9 35.2h0M306.9 93.6h0M318.4 53.7h0M264.8 127.3h0M283.8 100.2h0M254.1 63.1h0M307.9 87.2h0M326.4 118.9h0M331.0 61.5h0M314.8 93.7h0M336.8 84.6h0M313.2 76.0h0M298.6 28.5h0M265.0 92.0h0M296.1 80.3h0M280.3 31.4h0M326.2 120.5h0M260.0 102.1h0M311.6 105.1h0M267.2 28.0h0M322.0 54.4h0M276.6 54.8h0M267.7 100.8h0M271.9 102.5h0M321.7 115.0h0M282.7 63.6h0M315.3 96.5h0M289.5 110.1h0M279.2 105.1h0M342.3 62.6h0M328.4 104.6h0M249.4 38.8h0M273.3 84.4h0M263.5 100.0h0M262.9 62.0h0M286.0 42.3h0M291.5 77.2h0M291.5 33.2h0M291.2 103.9h0M300.8 43.5h0M296.0 103.4h0M313.1 97.0h0M249.5 64.3h0M277.1 66.6h0M263.5 93.1h0M263.9 77.5h0M298.1 68.2h0M307.6 80.1h0M303.9 71.2h0M263.6 104.8h0M335.4 112.6h0M245.0 64.4h0M340.0 117.5h0M336.7 84.1h0M284.4 116.6h0M266.4 47.1h0M242.1 33.3h0M244.1 118.7h0M245.3 113.8h0M261.0 76.6h0M249.9 106.0h0M245.3 77.8h0M269.4 43.0h0M292.1 72.5h0M324.9 87.2h0M278.2 59.1h0M291.2 111.4h0M294.3 53.8h0M263.7 32.1h0M249.8 118.2h0M308.5 125.2h0M337.4 107.3h0M261.4 99.5h0M305.7 93.6h0M266.3 52.8h0M285.3 118.6h0M245.2 86.4h0M330.8 47.2h0M249.2 38.0h0M290.8 87.1h0M329.3 31.3h0M282.8 60.7h0M321.3 53.0h0M317.8 88.8h0M289.4 127.7h0M313.7 127.2h0M307.6 83.3h0M335.7 59.4h0M254.2 101.7h0M265.4 60.3h0M255.4 120.9h0M314.2 81.6h0M247.4 56.9h0M333.7 79.5h0M254.4 118.5h0M317.7 89.4h0M278.2 104.3h0M301.5 88.8h0M342.0 86.0h0M278.3 120.7h0M296.1 104.1h0M257.2 57.9h0M319.6 121.6h0M314.7 85.7h0M278.7 82.1h0M310.6 103.1h0M298.8 30.3h0M250.2 63.8h0M338.6 125.4h0M260.4 62.1h0M326.2 100.7h0M335.8 99.1h0M336.9 116.6h0M283.2 118.5h0M268.4 44.9h0M263.2 76.7h0M294.9 127.3h0M297.8 63.0h0M314.0 126.5h0M286.2 105.2h0M247.1 80.0h0M342.0 119.4h0M271.6 102.8h0M323.3 26.8h0M335.8 125.0h0M318.6 103.9h0M286.5 112.0h0M260.6 126.9h0M301.0 50.0h0M248.6 93.8h0M322.9 93.2h0M312.1 98.4h0M318.4 106.2h0M272.6 28.4h0M283.9 122.5h0M266.8 88.3h0M253.7 102.9h0M287.4 87.9h0M342.8 62.7h0M313.9 107.7h0M241.7 51.8h0M282.9 44.8h0M299.6 125.5h0M321.6 111.8h0M336.7 93.2h0M284.0 43.2h0M341.2 78.1h0M289.7 114.4h0M340.3 43.1h0M258.7 123.0h0M262.1 74.0h0M331.5 90.8h0M336.8 80.5h0M317.0 109.9h0M254.0 75.8h0M294.4 64.2h0M311.0 28.3h0M313.6 45.3h0M304.1 81.2h0M247.7 68.5h0M337.3 86.7h0M343.9 109.7h0M304.3 127.8h0M300.4 102.6h0M266.1 126.1h0M296.2 49.7h0M320.7 126.7h0M323.8 100.6h0M336.8 90.2h0M269.3 59.4h0M291.5 98.9h0M283.7 123.6h0M263.6 101.3h0M277.3 126.2h0M282.5 60.3h0M246.4 93.3h0M252.6 124.9h0M307.9 112.5h0M302.9 66.5h0M301.4 69.8h0M273.8 44.2h0M290.8 87.0h0M278.0 99.3h0M318.0 92.8h0M242.1 40.3h0M336.5 75.1h0M289.8 107.8h0M309.2 124.6h0M329.3 126.9h0M265.8 72.6h0M341.5 78.1h0M297.5 127.4h0M272.6 105.2h0M253.4 42.7h0M335.0 36.2h0M290.0 28.7h0M301.4 93.6h0M313.6 36.0h0M242.7 104.0h0M324.8 69.8h0M339.9 120.9h0M319.5 30.5h0M247.0 107.8h0M303.6 50.0h0M270.9 83.5h0M243.9 78.0h0M286.9 38.4h0M244.9 53.2h0M307.2 86.2h0M261.3 36.5h0M314.8 84.7h0M300.9 46.0h0M313.0 108.5h0M250.8 90.5h0M268.5 86.5h0M251.6 27.2h0M281.5 32.7h0M319.2 88.9h0M277.2 85.6h0M318.3 26.7h0M343.3 54.6h0M281.8 44.5h0M320.9 95.1h0M243.6 80.6h0M253.8 68.9h0M328.5 89.4h0M280.0 33.2h0M282.0 49.8h0M263.6 45.9h0M311.5 112.6h0M326.0 48.0h0M334.8 98.1h0M242.9 100.0h0M320.2 45.7h0M269.5 41.4h0M334.2 43.0h0M244.2 78.1h0M315.6 75.4h0M312.4 35.0h0M249.1 47.3h0M317.6 120.1h0M272.5 67.7h0M291.0 48.8h0M314.4 50.0h0M343.0 27.7h0M266.9 94.4h0M284.0 68.1h0M242.5 61.3h0M242.6 67.5h0M250.8 106.5h0M279.6 42.3h0M291.8 89.2h0M282.6 45.7h0M293.7 84.1h0M241.8 96.8h0M257.9 106.9h0M312.1 84.6h0M262.9 51.8h0M268.4 33.2h0M247.5 67.2h0M279.7 28.7h0M316.5 117.6h0M274.1 127.0h0M332.9 118.2h0M286.8 107.6h0M274.9 101.1h0M244.4 98.9h0M285.9 124.4h0M293.9 68.1h0M319.3 38.8h0M272.8 87.9h0M306.2 112.6h0M281.0 47.7h0M307.6 93.8h0M250.6 65.1h0M245.8 48.0h0M315.8 99.0h0M273.1 119.8h0M332.8 70.3h0M303.2 38.8h0M269.0 37.7h0M260.6 54.7h0M316.5 92.4h0M263.9 70.3h0M286.6 52.0h0M289.0 45.3h0M340.2 124.2h0M310.1 29.3h0M341.8 60.2h0M272.0 54.8h0M285.6 124.0h0M305.9 85.8h0M324.8 118.9h0M336.0 45.3h0M303.5 59.3h0M258.6 116.5h0M319.1 110.8h0M283.6 122.6h0M280.1 66.4h0M282.4 37.8h0M277.9 126.1h0M307.3 126.6h0M341.0 97.1h0M255.7 91.0h0M303.3 70.2h0M325.1 30.2h0M314.7 88.2h0M261.4 116.1h0M289.8 60.1h0M246.6 66.1h0M268.0 97.5h0M270.2 93.8h0M320.9 42.5h0M339.7 77.6h0M319.6 73.2h0M311.6 85.7h0M322.7 62.0h0M317.0 126.5h0M303.3 59.7h0M318.7 27.3h0M249.7 42.9h0M287.6 127.3h0M343.3 115.0h0M251.7 66.9h0M336.5 35.3h0M340.9 55.1h0M303.3 111.2h0M292.1 77.0h0M282.9 66.4h0M331.1 117.0h0M295.2 94.4h0M272.4 122.8h0M256.0 110.0h0M342.4 43.1h0M294.8 84.4h0M241.6 77.2h0M273.2 49.0h0M283.5 46.2h0M327.3 122.8h0M330.2 77.2h0M315.4 117.6h0M335.5 86.9h0M243.4 110.8h0M276.1 104.5h0M251.7 71.5h0M341.3 32.8h0M331.6 56.0h0M294.4 42.9h0M342.3 90.7h0M254.3 59.1h0M271.2 66.9h0M326.5 127.4h0M243.9 50.7h0M311.3 40.2h0M291.5 82.5h0M243.0 43.2h0M317.4 91.2h0M276.1 102.2h0M242.3 107.9h0M341.0 116.9h0M271.3 69.9h0M293.0 84.8h0M259.1 67.5h0M316.5 89.4h0M323.4 39.3h0M335.3 28.6h0M274.9 66.0h0M276.5 122.9h0M315.2 107.1h0M249.6 26.5h0M248.0 38.6h0M331.7 61.6h0M263.9 37.5h0M270.5 66.2h0M246.3 58.8h0M269.1 64.7h0M268.7 115.4h0M276.8 105.0h0M297.3 83.7h0M246.2 53.9h0M342.4 116.5h0M307.5 58.0h0M338.6 39.5h0M257.1 109.1h0M293.3 38.8h0M318.9 106.4h0M323.7 94.1h0M306.3 45.9h0M302.4 31.9h0M297.2 73.1h0M252.5 95.4h0M315.7 86.6h0M265.7 61.7h0M318.9 99.3h0M289.2 34.0h0M263.7 98.1h0M257.5 93.5h0M296.1 109.1h0M342.7 28.1h0M339.5 34.9h0M333.4 125.0h0M243.5 97.3h0M325.5 59.8h0M280.5 73.5h0M266.5 71.3h0M276.2 113.4h0M280.0 106.9h0M283.6 72.3h0M290.1 51.6h0M292.6 66.7h0M284.9 70.8h0M269.1 105.1h0M247.6 50.2h0M249.0 62.6h0M242.8 70.6h0M241.7 29.4h0M330.0 43.3h0M297.1 55.1h0M297.8 51.1h0M272.2 55.5h0M284.9 76.5h0M309.6 119.8h0M332.0 70.9h0M282.1 101.7h0M256.3 29.6h0M320.4 43.1h0M337.7 127.2h0M283.8 109.9h0M250.4 83.6h0M267.5 97.0h0M335.1 58.3h0M286.0 90.1h0M306.8 96.6h0M306.1 111.8h0M331.2 122.7h0M256.9 97.8h0M282.8 107.4h0M312.8 103.7h0M284.5 55.7h0M333.5 95.8h0M326.0 90.5h0M283.3 46.5h0M281.3 98.1h0M329.9 30.5h0M279.0 98.5h0M243.0 84.8h0M254.3 64.6h0M291.3 31.7h0M337.9 27.8h0M331.8 63.5h0M300.1 50.3h0M303.7 34.2h0M331.9 29.5h0M246.8 95.4h0M315.5 95.4h0M319.4 125.3h0M288.6 105.5h0M313.4 49.7h0M283.8 93.5h0M298.5 90.1h0M320.6 106.3h0M243.8 44.4h0M343.7 33.1h0M319.6 105.9h0M328.4 46.8h0M284.2 72.6h0M308.3 108.3h0M341.6 105.2h0M312.3 107.1h0M275.1 94.7h0M292.8 97.0h0M286.3 54.9h0M262.4 35.3h0M333.0 88.8h0M343.0 117.7h0M314.1 119.5h0M314.9 124.1h0M302.6 97.7h0M295.6 122.7h0M341.5 53.0h0M275.6 81.4h0M248.7 36.1h0M251.3 62.6h0M265.0 82.9h0M327.7 63.3h0M311.3 126.2h0M275.6 61.3h0M264.9 26.7h0M315.0 46.1h0M293.6 107.0h0M270.7 76.6h0M276.3 89.7h0M333.9 41.9h0M277.0 31.8h0M291.1 83.2h0M241.8 122.4h0M260.9 46.2h0M288.7 92.5h0M339.5 35.6h0M270.8 29.1h0M324.5 90.7h0M293.5 105.4h0M243.1 70.1h0M330.1 114.8h0M308.9 41.9h0M305.6 41.5h0M318.2 61.8h0M247.3 125.4h0M291.4 93.2h0M304.1 75.0h0M335.1 122.9h0M317.6 125.5h0M292.0 49.2h0M340.1 77.3h0M266.4 50.8h0M332.3 102.8h0M325.2 128.0h0M246.2 38.8h0M259.3 120.7h0M338.8 115.4h0M304.2 65.2h0M312.5 91.5h0M320.7 82.5h0M271.1 84.4h0M336.8 126.5h0M280.0 53.0h0M336.0 66.6h0M324.8 106.4h0M285.0 83.6h0M307.7 46.8h0M340.0 55.3h0M281.8 92.3h0M339.1 80.3h0M273.5 63.9h0M259.3 60.2h0M252.2 83.1h0M335.7 60.5h0M341.3 74.0h0M254.7 96.5h0M322.4 32.0h0M249.2 115.8h0M245.0 34.4h0M253.0 68.1h0M340.9 95.9h0M241.7 61.8h0M327.8 112.2h0M313.0 89.8h0M316.7 86.8h0M244.5 110.1h0M327.7 108.2h0M321.2 115.2h0M278.5 128.1h0M324.8 36.4h0M296.8 75.1h0M266.1 116.2h0M314.7 108.0h0M317.2 72.7h0M324.6 41.9h0M269.5 81.8h0M309.4 72.2h0M254.6 104.8h0M324.0 42.5h0M252.9 54.9h0M296.3 88.7h0M330.3 87.9h0M305.5 99.0h0M298.5 48.3h0M314.7 31.1h0M284.8 101.3h0M261.3 26.9h0M338.4 65.9h0M253.6 127.8h0M304.8 59.3h0M283.2 98.6h0M342.2 113.6h0M307.6 46.1h0M269.9 91.3h0M316.2 66.1h0M315.7 42.7h0M338.7 44.4h0M302.7 35.1h0M259.8 105.4h0M246.4 118.4h0M317.3 64.2h0M309.6 69.6h0M267.3 75.4h0M252.3 51.6h0M276.0 86.6h0M327.8 53.7h0M305.8 59.8h0M248.1 38.2h0M302.9 125.6h0M303.4 88.0h0M322.0 45.0h0M309.4 75.2h0M248.7 95.6h0M264.9 58.5h0M292.1 93.9h0M254.5 93.3h0M342.4 70.3h0M301.7 49.3h0M291.6 86.4h0M318.9 73.2h0M307.1 119.8h0M336.4 50.7h0M254.7 120.4h0M306.4 52.7h0M307.1 32.5h0M278.1 110.9h0M245.9 45.9h0M268.4 31.6h0M252.6 96.6h0M300.2 41.5h0M332.0 80.8h0M336.5 118.6h0M244.1 86.6h0M331.3 71.0h0M302.4 54.3h0M272.8 75.9h0M335.3 76.1h0M317.4 87.6h0M249.8 113.2h0M245.6 46.5h0M337.7 95.8h0M318.3 97.7h0M245.8 64.4h0M251.3 39.4h0M339.7 82.9h0M248.2 37.5h0M256.6 125.2h0M276.8 59.4h0M271.1 83.8h0M296.7 126.7h0M243.9 43.5h0M245.0 27.0h0M311.4 52.6h0M315.0 127.1h0M263.1 30.0h0M298.3 104.7h0M341.4 63.3h0M263.7 98.4h0M333.1 71.1h0M322.5 37.4h0M304.7 104.8h0M323.0 68.3h0M315.0 117.5h0M311.9 28.9h0M254.8 46.1h0M318.2 102.8h0M255.2 86.7h0M282.2 82.8h0M322.5 126.7h0M242.2 122.6h0M274.2 50.9h0M260.7 39.1h0M314.3 90.6h0M266.6 57.1h0M260.0 77.4h0M296.9 83.1h0M264.7 89.6h0M258.4 40.6h0M267.5 40.7h0M288.1 110.7h0M337.9 43.1h0M265.9 74.0h0M286.9 31.3h0M291.9 79.2h0M252.2 78.4h0M245.9 78.8h0M326.0 99.1h0M290.2 40.6h0M293.0 40.0h0M331.7 106.5h0M292.3 101.1h0M246.7 67.0h0M293.9 59.1h0M283.2 85.2h0M278.9 64.3h0M338.9 107.8h0M268.4 34.1h0M298.2 65.5h0M305.4 113.3h0M322.5 56.0h0M321.1 98.6h0M323.2 115.1h0M285.8 33.7h0M279.8 118.1h0M300.9 93.9h0M293.6 71.1h0M293.9 99.1h0M289.4 57.3h0M253.1 105.0h0M254.2 126.7h0M318.4 125.6h0M265.5 27.4h0M300.6 36.0h0M326.4 118.2h0M247.7 101.1h0M286.5 76.8h0M306.9 31.7h0M264.7 86.9h0M277.2 28.0h0M318.4 42.8h0M264.7 112.0h0M244.5 127.9h0M289.2 107.9h0M255.5 88.4h0M247.5 47.5h0M298.2 51.7h0M334.0 66.3h0M265.7 28.9h0M269.4 27.6h0M272.0 110.0h0M252.8 100.6h0M297.3 101.3h0M305.0 101.0h0M318.0 83.3h0M342.2 88.8h0M268.1 107.3h0M279.0 63.0h0M285.1 40.1h0M328.4 39.2h0M313.4 35.9h0M273.0 127.6h0M266.6 123.6h0M334.4 70.4h0M247.2 47.7h0M277.6 53.6h0M297.7 112.6h0M336.8 102.8h0M300.4 86.3h0M245.5 73.1h0M312.2 118.4h0M339.5 36.0h0M331.9 100.3h0M302.4 39.8h0M295.5 111.9h0M330.9 113.9h0M254.9 126.0h0M313.2 69.3h0M278.2 48.6h0M285.0 118.8h0M315.6 127.8h0M332.3 32.6h0M337.7 53.6h0M324.3 84.9h0M300.7 48.7h0M329.5 103.6h0M316.4 83.7h0M333.4 97.6h0M257.9 78.7h0M301.8 30.5h0M274.6 83.8h0M333.1 83.3h0M318.4 112.4h0M246.3 108.2h0M245.3 66.6h0M266.6 121.9h0M300.5 95.4h0M260.0 52.0h0M255.4 34.5h0M305.2 86.7h0M278.6 38.6h0M303.7 38.4h0M247.9 117.2h0M268.0 81.3h0M341.0 75.3h0M260.4 112.4h0M285.8 36.7h0M276.9 63.0h0M305.3 27.0h0M248.0 120.8h0M332.6 122.2h0M244.7 100.8h0M307.9 48.0h0M286.7 111.2h0M276.5 60.7h0M337.1 30.4h0M314.8 119.5h0M339.2 29.2h0M333.9 88.2h0M245.3 85.7h0M261.7 124.7h0M335.0 101.7h0M282.5 30.2h0M256.4 112.3h0M252.5 102.7h0M250.3 120.8h0M263.9 54.2h0M258.2 60.8h0M264.8 57.7h0M329.9 99.0h0M254.2 29.5h0M292.2 84.6h0M274.8 85.6h0M319.5 68.0h0M251.8 115.1h0M326.0 47.2h0M306.7 52.9h0M305.7 40.5h0M268.3 91.0h0M270.8 93.0h0M258.4 76.8h0M302.0 115.0h0M276.0 104.6h0M302.1 113.0h0M337.5 95.3h0M321.1 92.9h0M288.1 30.4h0M245.8 38.1h0M309.2 83.7h0M276.3 27.7h0M275.8 68.0h0M342.2 85.6h0M263.3 40.5h0M285.8 68.5h0M276.3 86.0h0" stroke="#5a0e0e" stroke-width="0.9" stroke-linecap="round" fill="none" opacity="0.9"/>
<path d="M250.8 77.2h0M325.7 78.4h0M341.1 57.7h0M262.4 61.2h0M295.6 31.4h0M251.3 75.4h0M256.5 71.1h0M341.4 37.6h0M254.4 32.3h0M284.1 87.1h0M300.5 118.3h0M264.6 45.7h0M312.7 87.3h0M324.6 111.0h0M280.7 101.0h0M277.4 27.0h0M265.1 86.7h0M288.3 56.4h0M330.0 45.2h0M270.5 98.8h0M335.7 84.0h0M307.6 38.2h0M275.3 82.8h0M327.5 102.2h0M316.3 82.9h0M303.3 114.9h0M255.3 37.3h0M274.4 54.2h0M335.8 114.2h0M267.7 89.8h0M275.6 43.2h0M286.3 102.2h0M342.0 55.5h0M335.2 72.4h0M260.5 63.5h0M310.0 116.4h0M247.3 125.9h0M282.1 36.6h0M263.7 100.4h0M260.4 44.0h0M286.6 85.7h0M284.5 75.3h0M277.9 78.7h0M323.9 63.9h0M255.5 118.9h0M273.6 99.6h0M274.7 36.2h0M269.9 34.9h0M278.4 88.1h0M269.9 111.4h0M319.5 74.2h0M315.5 110.3h0M276.5 67.1h0M334.1 50.9h0M250.1 127.1h0M318.6 107.9h0M327.5 127.2h0M298.9 87.8h0M264.4 116.1h0M293.3 82.0h0M251.8 114.4h0M321.8 79.0h0M326.0 99.0h0M290.6 33.6h0M307.2 46.0h0M325.9 90.0h0M335.3 94.6h0M343.8 102.4h0M322.0 67.6h0M281.7 124.8h0M298.4 84.8h0M309.7 42.2h0M270.8 93.4h0M241.9 32.1h0M253.1 46.7h0M258.7 65.7h0M281.3 48.6h0M336.2 107.5h0M332.7 67.3h0M330.4 72.9h0M271.6 59.4h0M306.5 88.0h0M250.2 83.0h0M340.9 51.5h0M289.6 103.4h0M332.7 51.7h0M274.4 41.5h0M334.5 31.1h0M322.1 115.9h0M285.5 30.8h0M286.4 74.5h0M287.7 55.3h0M339.9 71.0h0M312.8 69.7h0M266.6 106.0h0M275.7 49.0h0M284.0 103.5h0M338.1 106.2h0M297.9 61.3h0M291.8 69.0h0M297.2 90.8h0M287.3 28.8h0M325.4 32.4h0M307.5 66.6h0M261.0 123.8h0M327.9 91.2h0M314.2 28.8h0M291.7 79.1h0M288.1 105.0h0M278.6 105.5h0M319.7 121.7h0M310.0 97.8h0M265.5 111.4h0M292.2 110.0h0M311.8 57.9h0M267.0 38.1h0M306.5 98.2h0M269.7 107.3h0M250.5 81.9h0M336.2 59.8h0M330.6 43.4h0M249.7 32.8h0M336.8 85.4h0M263.9 41.5h0M246.7 85.2h0M341.7 119.5h0M277.5 75.4h0M325.5 88.4h0M325.3 44.6h0M273.8 61.9h0M329.2 28.8h0M247.9 97.9h0M243.5 85.4h0M256.7 80.2h0M302.1 70.0h0M268.4 114.9h0M312.3 30.2h0M301.2 124.9h0M334.6 52.6h0M330.8 100.8h0M327.4 81.5h0M323.2 103.9h0M304.3 110.4h0M335.0 89.9h0M245.6 120.9h0M242.1 61.7h0M307.7 102.6h0M292.6 86.2h0M319.6 87.4h0M273.4 121.9h0M247.2 116.9h0M319.1 37.0h0M313.8 77.1h0M249.4 45.9h0M247.2 88.1h0M260.8 86.3h0M272.3 33.7h0M289.3 90.8h0M271.4 56.5h0M343.0 51.6h0M292.4 109.1h0M310.1 27.2h0M283.9 94.6h0M265.7 113.2h0M298.8 45.7h0M265.3 109.6h0M265.0 57.0h0M260.7 117.3h0M280.3 41.6h0M266.2 49.3h0M284.7 78.6h0M283.3 78.5h0M269.2 101.0h0M255.3 46.7h0M262.4 67.7h0M290.2 124.0h0M277.2 114.5h0M324.4 79.7h0M285.5 55.9h0M294.9 88.9h0M282.9 123.8h0M274.6 36.5h0M315.4 71.7h0M313.1 38.2h0M266.1 47.4h0M245.2 69.7h0M297.7 114.8h0M324.6 43.2h0M312.4 58.9h0M319.8 81.3h0M301.3 61.9h0M250.5 40.0h0M318.3 85.8h0M315.0 82.5h0M316.5 50.9h0M297.4 122.3h0M263.6 67.4h0M258.5 115.2h0M263.6 125.1h0M242.8 83.9h0M317.2 118.4h0M296.7 56.1h0M242.4 109.5h0M299.1 75.6h0M296.1 81.6h0M258.4 52.9h0M322.0 73.4h0M304.5 127.6h0M251.8 118.1h0M316.6 87.0h0M290.8 63.4h0M319.0 28.2h0M270.5 69.4h0M321.3 117.9h0M278.6 60.3h0M336.3 67.3h0M301.8 120.5h0M335.5 104.6h0M341.3 48.9h0M272.6 117.6h0M299.3 98.7h0M326.7 50.1h0M334.6 109.3h0M291.5 74.3h0M268.0 93.8h0M319.2 109.1h0M252.8 113.9h0M257.9 51.5h0M302.4 111.3h0M286.4 64.3h0M328.6 115.3h0M278.1 96.0h0M340.6 120.7h0M268.9 30.6h0M307.1 116.1h0M308.9 109.4h0M254.6 92.6h0M244.5 80.2h0M291.3 33.0h0M243.4 91.0h0M260.2 79.8h0M295.2 82.2h0M301.3 95.1h0M293.7 77.1h0M281.2 125.1h0M343.3 29.9h0M290.2 120.7h0M261.6 31.9h0M335.2 89.2h0M273.7 111.1h0M250.3 91.7h0M304.5 119.0h0M318.1 33.8h0M328.1 90.6h0M256.8 54.0h0M307.7 48.1h0M283.3 117.7h0M283.2 56.9h0M310.4 32.1h0M287.3 99.8h0M296.3 40.5h0M311.6 100.3h0M318.0 119.2h0M316.1 99.1h0M327.4 36.7h0M264.7 44.9h0M275.4 87.1h0M260.2 92.6h0M340.8 111.3h0M319.4 80.8h0M272.0 34.0h0M343.9 61.6h0M251.4 32.9h0M333.5 112.9h0M252.6 72.7h0M292.8 27.4h0M317.1 97.9h0M343.9 54.2h0M264.3 113.5h0M320.1 75.2h0M270.6 72.1h0M287.5 42.5h0M318.0 53.8h0M265.1 60.9h0M292.6 37.9h0M311.1 33.2h0M258.6 76.7h0M302.8 79.7h0M291.1 34.9h0M310.9 68.1h0M279.1 83.3h0M330.1 106.4h0M301.1 67.0h0M314.7 33.8h0M269.0 66.6h0M319.4 77.4h0M340.9 58.0h0M291.1 63.6h0M260.7 108.0h0M325.6 74.2h0M264.9 42.8h0M277.1 123.2h0M289.4 53.1h0M306.9 124.7h0M331.0 54.3h0M286.0 106.6h0M255.6 76.0h0M335.3 30.4h0M330.7 33.4h0M322.8 128.2h0M279.9 59.8h0M333.5 36.4h0M253.6 41.7h0M310.5 69.9h0M266.8 116.5h0M274.3 72.0h0M290.1 69.3h0M244.5 103.2h0M341.9 76.1h0M254.1 49.6h0M303.5 95.4h0M278.4 120.7h0M288.8 124.7h0M281.9 73.6h0M338.1 119.4h0M329.3 79.4h0M305.0 81.9h0M284.5 79.8h0M334.4 35.8h0M319.9 66.0h0M337.8 92.1h0M282.8 91.4h0M280.1 106.8h0M281.8 121.0h0M331.7 124.5h0M326.6 98.2h0M262.9 41.3h0M328.4 49.5h0M246.1 108.9h0M287.5 93.9h0M259.4 113.1h0M264.4 100.1h0M255.4 89.9h0M265.1 73.5h0M313.1 66.0h0M284.9 29.3h0M276.4 85.5h0M337.4 120.0h0M278.6 117.7h0M262.3 63.8h0M247.9 34.9h0M319.2 67.5h0M242.7 58.5h0M320.4 27.2h0M294.8 50.8h0M262.6 118.0h0M280.4 108.1h0M275.2 121.3h0M307.7 107.2h0M246.2 71.7h0M259.4 102.6h0M247.2 26.8h0M251.2 102.9h0M266.4 79.0h0M294.4 29.2h0M320.0 36.8h0M297.5 34.7h0M331.1 109.3h0M245.0 59.8h0M268.0 51.1h0M325.8 44.0h0M309.1 105.8h0M293.9 89.9h0M267.9 28.8h0M321.7 103.7h0M274.7 90.9h0M277.3 121.4h0M339.0 115.5h0M284.8 91.8h0M316.4 38.8h0M340.6 118.1h0M246.9 94.1h0M248.2 63.5h0M246.9 34.4h0M320.2 122.7h0M246.7 98.9h0M247.9 60.4h0M242.3 52.0h0M252.2 112.4h0M324.2 26.8h0M281.6 48.1h0M313.5 61.3h0M339.1 105.6h0M268.2 39.8h0M276.0 56.8h0M291.6 57.1h0M321.1 113.3h0M317.2 114.1h0M329.3 49.4h0M270.2 63.7h0M268.5 105.4h0M304.4 124.2h0M279.9 38.5h0M306.5 128.0h0M259.5 105.5h0M305.2 74.7h0M257.7 99.2h0M324.4 78.3h0M261.9 49.4h0M245.8 109.6h0M254.5 82.3h0M336.0 51.0h0M329.8 50.8h0M273.3 85.5h0M249.0 82.8h0M329.6 81.1h0M270.3 28.1h0M268.1 67.7h0M256.4 52.6h0M327.3 31.8h0M256.8 103.9h0M259.1 66.4h0M254.2 122.1h0M258.0 43.4h0M263.5 77.6h0M327.9 96.5h0M285.1 56.9h0M281.4 34.0h0M323.3 115.3h0M267.3 47.6h0M255.0 64.2h0M290.6 115.8h0M261.7 75.9h0M324.2 82.6h0M300.5 117.1h0M285.1 106.7h0M322.2 32.7h0M318.9 54.7h0M339.4 94.9h0M306.4 63.4h0M243.0 61.6h0M273.4 113.8h0M268.9 59.0h0M313.9 50.4h0M319.5 114.3h0M276.1 52.7h0M334.3 119.1h0M263.6 59.7h0M312.6 85.0h0M258.9 102.5h0M302.0 52.5h0M281.0 124.4h0M274.4 27.5h0M263.5 49.5h0M340.3 80.3h0M303.1 128.1h0M242.2 77.0h0M259.9 36.3h0M285.4 103.6h0M287.9 125.3h0M340.7 104.4h0M242.0 33.8h0M335.8 95.9h0M325.0 107.7h0M309.2 106.2h0M309.1 44.4h0M265.3 40.6h0M292.0 30.0h0M255.0 79.3h0M246.3 106.7h0M304.6 63.0h0M301.6 77.8h0M277.6 77.5h0M291.9 116.5h0M302.2 59.8h0M316.2 88.3h0M262.2 66.2h0M271.5 82.4h0M280.5 124.9h0M308.3 36.7h0M328.5 92.9h0M288.8 94.6h0M320.6 26.9h0M339.5 49.2h0M322.0 112.8h0M339.1 78.9h0M274.9 122.1h0M297.9 95.4h0M273.6 62.7h0M342.8 106.9h0M294.6 55.8h0M298.8 81.1h0M279.5 79.0h0M269.0 46.9h0M320.5 81.8h0M305.7 89.4h0M326.2 57.6h0M304.0 29.0h0M292.8 69.2h0M317.4 120.9h0M256.1 78.2h0M280.3 58.3h0M315.6 89.8h0M250.3 119.5h0M247.0 75.7h0M266.2 92.7h0M254.5 69.5h0M288.1 122.6h0M286.1 61.2h0M285.3 36.3h0M328.5 53.1h0M264.1 28.6h0M287.0 48.7h0M326.9 108.4h0M341.9 105.2h0M336.7 38.8h0M270.2 124.4h0M268.5 62.7h0M295.2 122.6h0M274.8 47.3h0M266.7 58.4h0M270.5 109.4h0M333.3 112.3h0M259.7 70.4h0M289.1 70.6h0M257.8 112.2h0M322.2 32.0h0M284.2 46.4h0M331.3 97.7h0M295.2 95.1h0M285.1 88.6h0M320.9 127.3h0M289.5 99.2h0M340.2 52.7h0M289.8 112.1h0M267.5 62.0h0M259.2 50.0h0M261.5 33.4h0M301.2 61.0h0M255.4 74.3h0M333.6 60.1h0M273.9 96.3h0M314.1 96.4h0M343.1 45.5h0M246.7 63.5h0M251.0 64.2h0M312.8 125.0h0M269.4 77.9h0M325.2 95.2h0M284.3 110.6h0M309.8 54.8h0M264.4 119.1h0M257.5 128.0h0M322.0 49.0h0M336.8 127.6h0M306.7 114.4h0M278.9 39.5h0M278.2 87.6h0M296.1 61.0h0M332.3 43.5h0M298.5 101.0h0M271.6 49.1h0M343.0 44.9h0M302.1 46.3h0M279.1 125.9h0M323.6 43.2h0M265.6 109.2h0M337.3 72.3h0M256.1 115.5h0M324.3 62.9h0M335.3 82.5h0M328.3 41.6h0M325.7 57.5h0M248.5 54.9h0M300.3 47.1h0M259.7 83.1h0M329.3 56.4h0M246.8 71.7h0M310.7 68.4h0M341.5 102.9h0M269.5 44.0h0M311.2 44.3h0M276.4 42.7h0M342.3 66.8h0M294.4 87.1h0M264.1 78.4h0M326.6 63.9h0M323.1 60.6h0M277.5 76.7h0M255.7 69.8h0M308.5 85.0h0M328.7 32.3h0M329.6 32.6h0M316.4 53.4h0M265.2 123.3h0M281.6 37.8h0M281.3 86.6h0M282.2 107.7h0M311.4 92.7h0M274.5 73.3h0M280.9 84.3h0M288.1 91.1h0M310.4 44.0h0M285.5 52.5h0M266.1 51.2h0M298.4 111.1h0M251.5 46.0h0M335.4 70.9h0M257.9 80.8h0M247.3 29.1h0M248.5 125.6h0M310.2 73.7h0M342.4 94.2h0M267.3 52.2h0M343.8 69.8h0M267.6 37.9h0M250.4 111.5h0M294.0 91.8h0M321.6 119.9h0M284.9 101.7h0M309.2 91.9h0M260.1 99.8h0M289.3 53.8h0M257.4 51.5h0M256.2 125.7h0M255.1 29.1h0M290.7 31.3h0M330.7 116.2h0M266.0 82.6h0M242.4 74.8h0M336.7 123.5h0M340.9 106.3h0M340.8 106.2h0M271.1 46.7h0M322.6 37.5h0M308.4 57.9h0M325.8 65.3h0M304.3 89.1h0M249.1 86.1h0M257.9 85.0h0M256.2 125.3h0M322.2 78.1h0M254.2 90.3h0M283.0 68.7h0M258.5 116.0h0M341.4 69.5h0M295.2 44.6h0M329.8 120.1h0M310.3 69.6h0M322.9 91.1h0M282.5 44.8h0M264.3 47.2h0M317.7 65.6h0M338.3 43.5h0M260.4 66.3h0M312.9 50.5h0M318.4 88.3h0M298.0 60.6h0M336.5 124.0h0M261.3 117.5h0M314.1 60.4h0M280.8 100.4h0M311.9 59.7h0M296.6 93.4h0M286.0 60.0h0M289.1 95.4h0M309.2 52.0h0M252.5 127.1h0M255.6 119.1h0M298.2 110.0h0M242.0 105.3h0M332.0 33.7h0M279.7 93.7h0M294.6 83.0h0M326.3 84.8h0M308.4 88.6h0M292.9 65.1h0M301.1 44.1h0M268.0 113.2h0M289.5 117.8h0M317.5 97.4h0M277.7 126.0h0M249.8 117.5h0M266.2 60.2h0M301.6 107.5h0M324.6 77.7h0M278.2 88.9h0M274.3 101.4h0M298.3 54.0h0M315.6 60.3h0M264.8 83.9h0M337.2 41.9h0M283.0 74.0h0M315.2 115.4h0M332.0 105.0h0M308.2 109.4h0M285.9 35.0h0M300.2 95.7h0M339.0 40.1h0M262.4 49.5h0M242.0 32.6h0M290.7 49.3h0M258.6 116.9h0M315.1 59.8h0M327.2 45.3h0M299.9 36.3h0M342.2 73.1h0M305.8 34.1h0M276.6 62.2h0M335.9 108.9h0M297.5 79.7h0M304.9 100.4h0M336.8 112.5h0M253.0 101.4h0M293.2 104.1h0M282.5 99.1h0M245.3 111.2h0M302.5 87.9h0M334.9 37.0h0M273.3 105.5h0M265.9 75.4h0M292.8 46.7h0M283.2 43.5h0M252.8 72.9h0M257.6 57.9h0M315.7 62.7h0M310.1 43.5h0M293.6 64.8h0M287.7 31.5h0M259.6 39.7h0M327.5 78.0h0M323.1 101.8h0M322.9 61.6h0M243.0 84.5h0M322.5 105.0h0M278.2 65.7h0M248.1 41.7h0M256.9 125.3h0M316.5 66.1h0M257.4 75.5h0M295.3 77.8h0M313.4 53.6h0M306.4 41.7h0M261.7 90.7h0M318.0 69.7h0M296.9 68.6h0M296.6 99.6h0M262.3 52.5h0M242.7 83.3h0M283.0 63.7h0M258.2 112.4h0M333.6 50.7h0M339.3 125.0h0M283.7 60.6h0M251.5 111.9h0M326.7 102.4h0M341.8 113.3h0M295.2 106.6h0M314.0 45.1h0M301.8 109.3h0M304.2 48.1h0M295.4 28.6h0M327.4 65.3h0M294.9 120.9h0M342.7 83.3h0M266.1 41.9h0M291.3 100.6h0M319.5 44.3h0M339.5 124.9h0M334.6 87.5h0M306.7 110.2h0M336.5 119.9h0M244.0 38.2h0M314.0 99.5h0M325.7 32.4h0M336.3 110.7h0M282.4 87.7h0M272.2 125.8h0M255.7 126.0h0M288.0 119.4h0M246.6 113.6h0M308.8 69.4h0M246.5 72.9h0M265.4 62.2h0M342.9 81.1h0M288.8 117.1h0M342.6 125.3h0M297.7 98.1h0M336.5 52.9h0M259.2 126.6h0M244.4 111.3h0M337.6 102.6h0M271.1 107.3h0M264.6 47.7h0M299.5 62.3h0M324.8 40.6h0M287.9 64.7h0M279.7 97.4h0M284.3 67.2h0M260.8 71.3h0M286.7 108.2h0M331.6 125.9h0M322.9 82.0h0M245.2 33.0h0M339.5 108.9h0M327.7 48.6h0M337.8 93.8h0M297.2 31.7h0M287.5 34.8h0M333.1 118.8h0M249.2 37.3h0M279.5 114.0h0M327.6 108.0h0M244.8 104.1h0M242.6 61.0h0M266.1 38.0h0M321.0 110.6h0M271.7 107.4h0M283.1 115.1h0M255.7 123.1h0M247.8 121.3h0M314.2 116.9h0M299.2 48.9h0M281.7 125.4h0M256.1 49.8h0M291.5 106.1h0M309.9 64.1h0M282.0 120.8h0M288.9 119.8h0M317.5 31.6h0M272.6 84.4h0M322.5 42.1h0M272.7 82.8h0M339.1 75.4h0M247.3 107.3h0M252.7 114.2h0M320.8 29.2h0M309.4 93.1h0M321.9 91.4h0M308.3 44.2h0M341.8 65.4h0M261.5 113.4h0M266.3 27.0h0M314.3 56.6h0M303.0 35.1h0M246.6 112.2h0M260.8 117.9h0M337.8 60.8h0M308.3 103.0h0M256.9 29.2h0M253.5 51.7h0M315.7 125.8h0M298.1 37.2h0M273.7 121.9h0M272.4 121.7h0M322.9 93.4h0M310.4 69.2h0M330.2 49.8h0M301.9 110.1h0M289.4 55.5h0M339.7 64.2h0M270.7 100.2h0M248.2 26.8h0M299.5 82.8h0M248.9 100.8h0M254.2 67.1h0M335.0 76.3h0M258.7 58.6h0M341.9 80.5h0M264.9 68.9h0M302.6 67.7h0M243.5 118.8h0M248.0 85.9h0M253.0 56.7h0M310.6 39.8h0M264.1 118.8h0M288.2 66.2h0M300.0 38.9h0M275.6 120.5h0M344.0 72.2h0M323.0 69.6h0M285.4 125.6h0M296.5 51.7h0M297.3 124.4h0M340.6 99.7h0M273.9 88.6h0M305.2 69.3h0M301.6 99.0h0M284.5 106.0h0M262.8 124.8h0M313.8 127.6h0M315.3 58.6h0M315.6 56.8h0M299.6 86.3h0M245.3 106.7h0M256.8 39.6h0M317.9 111.3h0M273.9 46.4h0M268.8 108.9h0M308.4 35.7h0M284.1 55.5h0M272.9 26.6h0M302.2 100.0h0M308.3 116.0h0M323.0 96.2h0M264.6 29.0h0M259.6 113.7h0M299.6 81.6h0M255.0 63.2h0M336.3 80.0h0M343.4 95.4h0M339.1 42.3h0M308.4 60.6h0M275.2 100.1h0M267.8 123.7h0M255.1 28.2h0M302.0 84.0h0M313.1 51.0h0M311.1 30.0h0M293.9 67.1h0M323.9 72.1h0M276.5 37.4h0M326.4 122.2h0M250.1 29.7h0M286.7 40.9h0M248.4 125.0h0M305.6 121.0h0M263.9 77.7h0M314.6 105.8h0M280.9 36.1h0M262.4 46.7h0M306.1 27.3h0M241.6 90.5h0M265.6 44.8h0M251.3 90.0h0M314.9 109.9h0M279.4 33.3h0M280.3 43.0h0M263.4 118.3h0M336.9 46.1h0M329.9 49.4h0M332.8 99.4h0M314.7 41.9h0M261.7 123.1h0M291.1 95.8h0M303.5 104.5h0M259.0 42.9h0M252.1 98.9h0M243.9 62.9h0M268.8 77.5h0M274.7 100.0h0M325.5 95.2h0M248.9 68.3h0M329.0 113.5h0M326.1 42.0h0M286.9 63.2h0M258.6 59.0h0M245.3 119.3h0M334.6 116.1h0M334.4 91.7h0M341.6 30.1h0M320.0 36.3h0M264.9 39.9h0M248.1 70.8h0M299.9 122.9h0M332.7 35.8h0M333.0 31.7h0M332.5 66.2h0M283.2 28.9h0M243.6 31.6h0M328.9 62.2h0M265.7 79.9h0M251.1 41.0h0M296.4 104.1h0M266.1 116.9h0M326.9 113.9h0M291.2 46.7h0M311.1 28.1h0M316.4 64.6h0M258.9 85.3h0M298.2 88.5h0M309.4 45.7h0M314.1 103.6h0M334.2 95.4h0M316.8 90.6h0M256.5 62.5h0M244.2 81.2h0M296.5 116.8h0M289.9 117.1h0M300.7 41.0h0M301.2 32.6h0M283.4 92.1h0M269.2 110.5h0M309.9 114.9h0M244.5 45.8h0M258.8 39.1h0M278.5 75.8h0M314.6 127.4h0M250.2 51.9h0M287.3 74.8h0M295.4 48.6h0M324.4 125.3h0M302.4 102.7h0M289.3 113.7h0M299.6 32.5h0M264.6 123.6h0M299.2 72.2h0M293.7 120.4h0M315.8 88.6h0M321.2 40.6h0M333.1 28.2h0M338.7 38.6h0M297.2 86.0h0M274.1 52.6h0M283.1 37.3h0M295.1 101.0h0M314.8 43.5h0M290.0 55.4h0M342.6 33.1h0M281.9 96.0h0M306.4 27.9h0M304.6 127.9h0M245.4 62.2h0M331.4 67.9h0M281.5 33.1h0M245.6 52.8h0M245.3 95.8h0M275.1 87.7h0M255.5 114.7h0M343.8 99.9h0M259.7 43.7h0M275.4 48.0h0M308.6 28.6h0M262.7 51.0h0M315.8 40.9h0M280.8 28.5h0M332.6 28.5h0M304.3 110.2h0M282.8 27.8h0M290.8 80.8h0M246.5 50.8h0M256.3 101.4h0M333.5 78.1h0M339.3 28.7h0M268.5 101.2h0M312.3 98.0h0M252.5 70.0h0M319.7 92.6h0M296.4 67.0h0M271.9 41.8h0M311.8 59.0h0M300.8 67.8h0M297.5 38.4h0M325.7 78.8h0M289.5 58.7h0M343.9 70.0h0M323.6 101.3h0M332.5 119.7h0M334.9 93.1h0M322.4 58.9h0M272.4 34.2h0M271.3 55.6h0M276.9 113.2h0M275.1 109.6h0M335.8 73.2h0M337.7 119.3h0M253.2 106.9h0M302.7 71.6h0M268.4 117.9h0M319.4 94.7h0M253.5 69.1h0M251.4 66.1h0M257.9 47.7h0M317.6 41.4h0M340.6 61.0h0M322.6 72.1h0M343.8 127.5h0M343.5 99.1h0M287.7 42.7h0M287.4 46.8h0M312.1 56.1h0M285.1 32.2h0M274.9 81.8h0M286.0 64.6h0M327.6 65.9h0M311.8 48.4h0M314.3 28.3h0M250.8 32.0h0M305.2 57.2h0M284.0 98.4h0M277.3 45.0h0M247.8 66.7h0M272.3 29.7h0M247.2 101.3h0M310.1 118.8h0M275.5 28.9h0M341.6 95.2h0M281.3 119.4h0M265.2 128.0h0M245.3 35.1h0M256.6 79.3h0M308.2 95.6h0M291.3 73.1h0M293.1 59.1h0M322.5 68.4h0M325.8 45.6h0M248.4 112.6h0M300.1 95.8h0M308.7 115.2h0M247.2 42.4h0M318.5 93.4h0M265.9 35.1h0M264.9 128.1h0M281.5 119.1h0M342.1 59.4h0M312.1 114.1h0M273.8 78.9h0M252.4 84.3h0M299.7 81.6h0M255.5 95.3h0M301.1 60.2h0M302.8 78.2h0M341.2 70.4h0M300.3 116.2h0M260.8 57.3h0M307.0 106.0h0M274.3 43.9h0M295.3 56.9h0M245.3 87.7h0M331.4 88.3h0M322.9 122.7h0M319.6 93.3h0M309.7 28.3h0M253.2 49.1h0M305.3 27.7h0M256.8 34.8h0M305.9 81.2h0M305.1 104.7h0M330.6 99.7h0M255.8 37.7h0M274.6 67.9h0M325.2 86.3h0M264.6 45.1h0M271.1 98.6h0M281.7 98.4h0M253.2 115.5h0M262.3 116.2h0M247.8 77.7h0M330.9 55.0h0M334.5 36.7h0M339.6 96.2h0M336.7 26.7h0M323.7 83.6h0M285.6 66.6h0M319.1 75.7h0M276.9 111.5h0M261.1 94.7h0M336.4 97.0h0M291.5 84.3h0M262.7 81.2h0M321.4 100.8h0M247.3 78.2h0M337.2 91.5h0M313.2 29.4h0M334.3 82.4h0M308.1 119.4h0M340.3 94.0h0M260.6 64.9h0M265.6 119.0h0M317.4 116.9h0M337.7 68.1h0M296.3 67.8h0M305.1 39.4h0M320.7 68.0h0M305.1 78.7h0M298.6 72.8h0M324.5 127.4h0M335.1 99.3h0M305.7 77.6h0M280.1 59.3h0M295.5 123.6h0M283.0 116.6h0M298.2 56.0h0M342.3 66.3h0M283.4 26.9h0M282.7 112.1h0M304.5 113.2h0M303.0 95.5h0M262.9 119.2h0M312.8 104.8h0M286.5 52.7h0M282.9 62.0h0M285.1 39.8h0M286.6 39.8h0M247.4 54.1h0M286.9 56.2h0M291.8 84.5h0M305.9 85.2h0M285.2 60.3h0M289.5 85.5h0M319.5 106.5h0M289.2 128.0h0M245.4 115.8h0M313.7 77.6h0M288.5 53.6h0M275.0 104.8h0M327.8 28.4h0M341.6 46.4h0M332.1 68.2h0M336.5 121.3h0M316.9 83.6h0M287.0 114.9h0M265.9 88.9h0M284.0 87.2h0M332.6 81.4h0M298.6 29.3h0M264.1 121.2h0M259.7 71.6h0M287.1 124.4h0M257.8 70.1h0M280.4 104.4h0M253.4 80.6h0M270.0 103.4h0M310.6 90.5h0M319.2 48.8h0M339.4 43.7h0M334.0 59.3h0M334.6 101.7h0M308.5 106.6h0M274.4 33.7h0M243.2 94.0h0M246.4 78.6h0M291.5 92.6h0M296.4 87.6h0M296.9 117.1h0M339.9 113.3h0M286.2 75.8h0M336.3 59.5h0M278.4 120.3h0M316.2 92.0h0M323.0 121.7h0M250.9 56.8h0M256.3 126.1h0M338.6 33.5h0M268.1 126.9h0M291.1 75.2h0M259.8 128.1h0M296.0 77.4h0M251.8 114.5h0M298.1 123.7h0M314.4 86.2h0M330.8 78.7h0M262.9 113.4h0M280.4 41.2h0M256.7 52.7h0M297.5 69.4h0M336.8 121.4h0M327.5 121.7h0M293.0 123.2h0M318.9 57.0h0M313.1 74.7h0M263.4 88.6h0M269.3 59.5h0M305.0 92.7h0M258.3 71.3h0M270.4 84.0h0M305.7 59.7h0M320.3 98.8h0M326.0 124.1h0M335.0 42.3h0M269.3 85.6h0M342.8 47.3h0M329.9 30.7h0M247.2 84.3h0M288.7 64.0h0M269.5 48.4h0M289.0 35.7h0M285.3 53.1h0M266.8 46.0h0M326.6 116.6h0M259.2 72.8h0M247.9 52.8h0M258.1 118.8h0M317.7 79.0h0M268.9 78.6h0M334.1 115.7h0M308.8 50.7h0M305.0 75.3h0M298.7 115.2h0M337.3 71.4h0M291.9 40.5h0M303.4 103.1h0M262.3 112.3h0M268.4 87.8h0M303.9 76.3h0M335.6 43.7h0M323.1 113.0h0M271.8 116.0h0M270.1 124.7h0M247.6 115.2h0M247.1 69.3h0M294.9 42.6h0M260.5 27.7h0M271.8 88.9h0M339.8 36.4h0M313.8 102.9h0M267.9 114.4h0M267.2 108.5h0M255.8 92.8h0M242.6 26.8h0M292.2 106.1h0M341.2 62.0h0M275.2 126.4h0M264.2 67.7h0M287.1 34.6h0M333.0 95.6h0M250.5 99.8h0M290.3 106.3h0M319.2 40.4h0M316.0 72.9h0M308.9 44.9h0M250.5 77.0h0M281.1 31.6h0M244.9 65.5h0M278.4 105.8h0M326.5 121.9h0M302.3 32.6h0M312.0 82.8h0M260.0 57.7h0M260.2 77.1h0M299.1 85.0h0M326.0 123.9h0M340.4 27.2h0M325.3 65.3h0M309.8 98.7h0M285.8 73.7h0M286.0 95.6h0M263.7 106.4h0M271.6 77.1h0M270.0 125.6h0M321.8 104.3h0M254.1 108.8h0M296.3 87.7h0M339.9 38.2h0M328.5 111.1h0M273.9 117.9h0M271.7 104.0h0M248.0 115.7h0M338.0 53.4h0M267.1 55.7h0M293.2 121.3h0M324.1 62.5h0M290.6 74.1h0M282.7 27.6h0M316.6 51.8h0M268.9 119.4h0M318.7 38.5h0M246.9 93.8h0M310.2 125.2h0M334.1 62.4h0M322.7 106.3h0M337.7 110.2h0M323.9 64.3h0M271.5 40.8h0M294.4 66.6h0M274.7 107.6h0M303.4 59.5h0M307.0 87.2h0M326.1 77.4h0M268.3 37.9h0M277.1 52.1h0M340.7 92.0h0M285.5 31.1h0M268.4 62.6h0M268.0 30.3h0M311.1 29.0h0M324.8 60.8h0M309.0 124.8h0M323.3 30.5h0M296.3 59.6h0M256.3 122.8h0M333.9 51.8h0M319.3 46.9h0M294.1 112.7h0M251.8 110.4h0M320.0 52.6h0M243.3 39.0h0M248.6 71.3h0M338.4 121.0h0M289.0 122.7h0M271.2 63.7h0M251.6 118.5h0M343.1 30.7h0M324.6 28.3h0M299.9 43.0h0M306.3 89.6h0M255.4 33.6h0M337.2 107.7h0M329.5 110.0h0M321.4 75.4h0" stroke="#8a1414" stroke-width="1.0" stroke-linecap="round" fill="none" opacity="0.9"/>
<path d="M328.6 105.0h0M246.0 54.4h0M329.3 86.9h0M326.2 58.4h0M250.7 58.5h0M264.8 60.9h0M314.3 76.4h0M296.1 46.9h0M341.5 117.5h0M252.6 37.4h0M261.5 98.3h0M295.3 55.8h0M250.4 81.4h0M317.5 109.8h0M334.5 77.1h0M324.4 71.7h0M260.1 66.5h0M244.6 118.7h0M272.3 37.2h0M315.8 49.1h0M253.8 73.4h0M256.9 34.4h0M312.1 58.8h0M242.7 46.2h0M281.0 36.8h0M256.9 65.0h0M306.4 90.8h0M336.0 117.7h0M282.3 56.7h0M326.4 61.5h0M288.0 29.3h0M325.0 91.3h0M251.9 52.3h0M255.0 101.3h0M285.2 41.8h0M316.7 93.5h0M309.2 45.4h0M325.4 123.3h0M244.0 126.3h0M317.1 89.0h0M304.4 100.8h0M245.4 65.9h0M278.5 109.3h0M318.8 51.5h0M288.3 43.5h0M251.5 89.0h0M311.3 27.5h0M272.2 117.9h0M289.5 76.6h0M313.9 119.7h0M276.3 99.7h0M243.5 87.4h0M307.3 102.7h0M334.0 34.5h0M335.8 49.9h0M328.5 105.8h0M297.8 104.5h0M284.5 103.7h0M322.1 55.7h0M307.8 125.8h0M330.9 108.6h0M292.7 52.0h0M252.2 101.0h0M284.8 48.3h0M285.0 78.5h0M301.8 93.5h0M304.6 115.0h0M281.7 33.8h0M333.8 44.6h0M322.2 56.3h0M320.6 69.5h0M285.3 88.9h0M312.0 71.6h0M266.8 36.2h0M311.3 128.2h0M258.5 91.3h0M274.0 70.4h0M272.2 71.6h0M275.4 40.7h0M317.7 83.9h0M263.4 47.9h0M260.5 122.1h0M309.1 43.9h0M250.1 58.4h0M318.6 126.9h0M267.4 124.0h0M252.4 127.9h0M252.1 96.6h0M331.1 32.4h0M262.3 97.2h0M272.6 42.9h0M259.7 118.6h0M260.8 47.6h0M329.0 53.1h0M309.2 124.7h0M317.6 28.3h0M326.5 127.4h0M286.3 41.9h0M285.4 45.4h0M250.0 46.0h0M325.4 32.9h0M286.5 101.5h0M306.0 125.4h0M270.5 79.7h0M271.5 65.9h0M338.8 57.7h0M312.7 43.1h0M250.2 80.2h0M245.5 75.0h0M327.9 120.9h0M242.0 92.5h0M277.7 109.0h0M306.5 65.2h0M318.2 93.8h0M341.7 83.0h0M275.6 46.6h0M264.8 116.0h0M250.6 32.5h0M285.2 68.1h0M296.5 121.6h0M301.8 55.6h0M305.2 99.2h0M330.3 54.2h0M243.9 74.2h0M333.6 76.2h0M313.3 80.0h0M254.2 81.6h0M261.8 68.4h0M275.9 47.8h0M342.3 66.0h0M258.2 122.8h0M314.2 55.7h0M295.5 36.3h0M322.6 33.5h0M242.2 73.0h0M312.7 39.0h0M338.4 93.7h0M337.8 108.1h0M332.3 112.6h0M291.8 30.6h0M334.8 123.4h0M288.6 61.0h0M250.6 121.8h0M248.3 62.3h0M242.0 73.4h0M243.6 59.0h0M248.0 50.8h0M327.1 27.3h0M270.9 60.6h0M329.4 91.2h0M261.3 88.0h0M254.7 88.9h0M294.1 101.6h0M266.7 113.8h0M295.0 62.0h0M310.2 37.2h0M301.4 123.9h0M290.4 110.2h0M245.9 63.0h0M275.5 101.1h0M264.5 36.4h0M312.3 107.2h0M306.3 53.0h0M280.5 60.4h0M278.9 126.4h0M246.2 119.8h0M257.7 74.8h0M243.3 127.2h0M268.7 100.7h0M294.6 108.2h0M243.0 127.4h0M317.7 67.1h0M270.1 62.8h0M263.9 84.3h0M275.6 81.4h0M251.3 126.5h0M320.0 27.7h0M262.3 127.0h0M338.4 98.1h0M311.9 117.0h0M272.0 30.9h0M282.6 79.1h0M327.3 52.8h0M286.8 93.7h0M259.6 28.0h0M338.0 75.8h0M336.1 107.3h0M339.6 31.1h0M275.0 84.8h0M253.9 100.4h0M256.4 28.3h0M296.9 66.6h0M319.2 36.7h0M338.6 105.4h0M315.3 105.3h0M298.4 98.4h0M281.5 44.3h0M253.0 113.5h0M289.3 105.5h0M262.5 46.1h0M262.3 29.3h0M278.5 91.1h0M309.3 89.3h0M252.6 73.3h0M297.9 52.8h0M321.1 64.2h0M332.6 76.3h0M269.2 57.8h0M318.0 84.1h0M268.6 60.5h0M341.6 31.5h0M306.4 35.1h0M284.2 32.1h0M302.9 64.6h0M311.2 82.9h0M341.1 118.6h0M281.2 112.2h0M296.0 118.3h0M315.8 48.1h0M245.2 63.4h0M272.8 72.2h0M309.6 98.3h0M282.2 107.3h0M315.5 108.2h0M260.2 109.6h0M273.9 122.2h0M299.2 92.5h0M305.7 126.7h0M321.5 87.4h0M284.4 88.2h0M320.7 73.3h0M333.1 52.4h0M264.3 77.6h0M289.6 64.0h0M276.8 98.6h0M273.6 106.9h0M343.8 71.1h0M288.2 111.3h0M264.1 64.1h0M330.6 49.7h0M290.9 36.5h0M293.6 91.2h0M264.4 54.0h0M336.4 38.5h0M332.4 78.1h0M301.2 39.6h0M248.3 75.3h0M249.9 109.9h0M271.9 37.2h0M332.3 114.8h0M324.4 61.9h0M308.8 38.4h0M251.5 111.9h0M276.1 27.2h0M276.0 117.5h0M278.7 70.9h0M289.6 89.5h0M289.0 102.5h0M334.5 53.4h0M250.9 45.5h0M332.8 34.7h0M276.9 117.8h0M314.1 92.3h0M303.5 120.4h0M314.8 33.5h0M242.5 31.9h0M326.9 57.1h0M323.2 32.6h0M242.8 37.6h0M287.8 109.2h0M322.7 92.8h0M280.7 123.7h0M249.2 117.8h0M289.6 49.4h0M319.3 62.6h0M253.9 55.7h0M286.8 45.1h0M325.5 74.8h0M316.0 54.0h0M285.4 49.2h0M316.5 71.1h0M312.2 63.6h0M256.3 116.1h0M269.4 87.8h0M268.6 113.0h0M337.8 80.3h0M298.3 72.6h0M333.2 60.5h0M299.8 35.1h0M341.1 104.5h0M281.1 88.2h0M250.9 114.3h0M291.3 110.2h0M247.2 108.1h0M269.7 124.5h0M316.1 111.2h0M279.4 65.1h0M273.6 84.8h0M330.4 84.8h0M343.1 126.0h0M300.5 48.1h0M247.8 43.6h0M251.0 81.6h0M253.0 37.3h0M285.9 87.1h0M248.6 88.2h0M310.2 87.7h0M316.1 86.4h0M285.7 64.4h0M256.8 36.4h0M256.2 53.3h0M301.7 66.7h0M286.0 112.3h0M336.9 57.0h0M243.2 37.7h0M266.8 43.6h0M297.8 84.7h0M246.2 120.3h0M242.1 75.4h0M307.6 56.2h0M329.5 118.9h0M298.9 84.7h0M337.8 104.3h0M332.3 62.5h0M296.2 63.4h0M305.9 66.2h0M304.3 115.2h0M290.3 47.3h0M323.8 48.1h0M336.3 102.2h0M246.0 101.7h0M308.7 60.6h0M289.2 82.7h0M290.4 34.7h0M246.8 57.4h0M278.9 109.7h0M341.1 47.6h0M244.4 74.2h0M283.9 114.2h0M281.1 71.7h0M261.5 125.9h0M328.3 51.9h0M342.6 89.3h0M249.5 80.3h0M291.4 117.8h0M299.7 110.1h0M282.9 100.8h0M324.6 117.1h0M252.6 116.2h0M336.4 120.5h0M290.8 67.1h0M337.2 60.6h0M267.7 121.5h0M257.2 43.7h0M279.8 49.9h0M295.5 41.9h0M338.2 95.7h0M323.0 52.4h0M329.6 37.4h0M337.0 111.8h0M251.7 38.2h0M271.6 102.3h0M333.9 108.0h0M324.2 36.5h0M295.5 70.4h0M331.4 102.1h0M289.2 40.5h0M319.5 116.7h0M266.4 63.4h0M286.7 53.3h0M341.3 63.5h0M318.0 36.4h0M295.3 47.1h0M294.5 64.7h0M302.4 92.4h0M330.7 87.8h0M245.0 44.3h0M334.6 78.4h0M318.0 71.8h0M298.9 92.8h0M301.3 41.8h0M268.1 97.7h0M311.1 126.9h0M265.0 75.4h0M271.6 68.5h0M274.9 99.5h0M248.0 82.7h0M317.5 123.3h0M248.0 44.5h0M336.1 109.2h0M253.7 96.5h0M339.0 87.1h0M316.1 115.5h0M249.5 54.4h0M252.4 103.7h0M335.7 78.3h0M303.9 41.4h0M267.6 78.8h0M279.7 76.3h0M297.4 109.7h0M280.6 57.0h0M305.0 100.0h0M317.6 93.5h0M245.4 91.6h0M324.8 26.6h0M299.1 79.4h0M253.2 69.8h0M308.5 117.8h0M284.0 67.9h0M290.1 119.2h0M302.4 88.3h0M339.1 54.2h0M293.7 93.8h0M266.7 35.8h0M263.6 46.4h0M306.5 77.0h0M286.9 67.5h0M285.8 79.9h0M279.6 60.8h0M246.8 47.9h0M318.6 50.6h0M268.4 45.5h0M307.8 100.1h0M272.2 113.8h0M275.9 92.4h0M343.5 112.0h0M311.1 92.8h0M287.7 35.4h0M308.3 56.3h0M285.8 87.0h0M275.8 27.5h0M271.5 53.6h0M285.7 29.7h0M327.6 44.5h0M297.1 102.3h0M322.5 71.2h0M265.1 122.7h0M252.3 79.9h0M247.8 51.9h0M343.1 107.2h0M343.7 114.0h0M338.4 107.7h0M276.0 31.1h0M294.9 35.3h0M293.1 48.9h0M324.5 55.3h0M342.9 59.9h0M313.3 104.0h0M330.8 121.0h0M310.5 57.7h0M295.1 113.8h0M241.6 27.6h0M276.4 55.1h0M269.4 96.1h0M293.5 101.8h0M304.7 114.4h0M301.7 48.2h0M285.0 50.0h0M251.7 84.1h0M244.9 73.6h0M326.8 34.4h0M282.8 112.0h0M294.7 124.7h0M270.7 126.1h0M244.0 37.0h0M306.3 78.9h0M252.1 93.3h0M254.9 52.4h0M285.5 51.4h0M295.2 40.2h0M326.1 124.3h0M278.0 59.2h0M271.6 110.4h0M309.1 39.6h0M308.4 97.8h0M319.3 33.4h0M280.4 107.8h0M309.3 27.4h0M260.1 59.6h0M316.9 106.1h0M294.1 69.1h0M324.8 124.2h0M299.0 89.2h0M301.0 104.7h0M241.9 52.3h0M318.6 101.7h0M291.8 67.0h0M294.3 79.7h0M314.7 40.3h0M330.0 84.4h0M278.2 93.5h0M267.1 97.4h0M293.6 61.4h0M326.3 116.5h0M326.4 116.8h0M341.2 83.6h0M262.2 46.3h0M260.7 85.0h0M260.1 107.7h0M245.8 74.5h0" stroke="#c01c1c" stroke-width="1.0" stroke-linecap="round" fill="none" opacity="0.9"/>
<g filter="url(#blur2)">
<rect x="242.6" y="27.5" width="8.2" height="8.2" fill="#467c2c" opacity="0.20"/>
<rect x="263.1" y="27.5" width="8.2" height="8.2" fill="#467c2c" opacity="0.65"/>
<rect x="273.3" y="27.5" width="8.2" height="8.2" fill="#467c2c" opacity="0.50"/>
<rect x="283.6" y="27.5" width="8.2" height="8.2" fill="#467c2c" opacity="0.35"/>
<rect x="293.8" y="27.5" width="8.2" height="8.2" fill="#467c2c" opacity="0.20"/>
<rect x="304.0" y="27.5" width="8.2" height="8.2" fill="#467c2c" opacity="0.20"/>
<rect x="314.3" y="27.5" width="8.2" height="8.2" fill="#467c2c" opacity="0.35"/>
<rect x="334.8" y="27.5" width="8.2" height="8.2" fill="#467c2c" opacity="0.50"/>
<rect x="242.6" y="37.7" width="8.2" height="8.2" fill="#467c2c" opacity="0.35"/>
<rect x="252.8" y="37.7" width="8.2" height="8.2" fill="#467c2c" opacity="0.35"/>
<rect x="263.1" y="37.7" width="8.2" height="8.2" fill="#467c2c" opacity="0.65"/>
<rect x="273.3" y="37.7" width="8.2" height="8.2" fill="#467c2c" opacity="0.50"/>
<rect x="283.6" y="37.7" width="8.2" height="8.2" fill="#467c2c" opacity="0.35"/>
<rect x="293.8" y="37.7" width="8.2" height="8.2" fill="#467c2c" opacity="0.20"/>
<rect x="324.5" y="37.7" width="8.2" height="8.2" fill="#467c2c" opacity="0.35"/>
<rect x="334.8" y="37.7" width="8.2" height="8.2" fill="#467c2c" opacity="0.50"/>
<rect x="242.6" y="47.8" width="8.2" height="8.2" fill="#467c2c" opacity="0.35"/>
<rect x="252.8" y="47.8" width="8.2" height="8.2" fill="#467c2c" opacity="0.35"/>
<rect x="263.1" y="47.8" width="8.2" height="8.2" fill="#467c2c" opacity="0.20"/>
<rect x="273.3" y="47.8" width="8.2" height="8.2" fill="#467c2c" opacity="0.20"/>
<rect x="283.6" y="47.8" width="8.2" height="8.2" fill="#467c2c" opacity="0.35"/>
<rect x="304.0" y="47.8" width="8.2" height="8.2" fill="#467c2c" opacity="0.20"/>
<rect x="314.3" y="47.8" width="8.2" height="8.2" fill="#467c2c" opacity="0.50"/>
<rect x="324.5" y="47.8" width="8.2" height="8.2" fill="#467c2c" opacity="0.50"/>
<rect x="334.8" y="47.8" width="8.2" height="8.2" fill="#467c2c" opacity="0.35"/>
<rect x="242.6" y="58.0" width="8.2" height="8.2" fill="#467c2c" opacity="0.20"/>
<rect x="252.8" y="58.0" width="8.2" height="8.2" fill="#467c2c" opacity="0.50"/>
<rect x="283.6" y="58.0" width="8.2" height="8.2" fill="#467c2c" opacity="0.35"/>
<rect x="293.8" y="58.0" width="8.2" height="8.2" fill="#467c2c" opacity="0.35"/>
<rect x="304.0" y="58.0" width="8.2" height="8.2" fill="#467c2c" opacity="0.35"/>
<rect x="314.3" y="58.0" width="8.2" height="8.2" fill="#467c2c" opacity="0.20"/>
<rect x="324.5" y="58.0" width="8.2" height="8.2" fill="#467c2c" opacity="0.35"/>
<rect x="334.8" y="58.0" width="8.2" height="8.2" fill="#467c2c" opacity="0.50"/>
<rect x="242.6" y="68.2" width="8.2" height="8.2" fill="#467c2c" opacity="0.35"/>
<rect x="252.8" y="68.2" width="8.2" height="8.2" fill="#467c2c" opacity="0.35"/>
<rect x="283.6" y="68.2" width="8.2" height="8.2" fill="#467c2c" opacity="0.20"/>
<rect x="293.8" y="68.2" width="8.2" height="8.2" fill="#467c2c" opacity="0.35"/>
<rect x="314.3" y="68.2" width="8.2" height="8.2" fill="#467c2c" opacity="0.20"/>
<rect x="324.5" y="68.2" width="8.2" height="8.2" fill="#467c2c" opacity="0.20"/>
<rect x="334.8" y="68.2" width="8.2" height="8.2" fill="#467c2c" opacity="0.35"/>
<rect x="263.1" y="78.3" width="8.2" height="8.2" fill="#467c2c" opacity="0.35"/>
<rect x="273.3" y="78.3" width="8.2" height="8.2" fill="#467c2c" opacity="0.20"/>
<rect x="283.6" y="78.3" width="8.2" height="8.2" fill="#467c2c" opacity="0.35"/>
<rect x="304.0" y="78.3" width="8.2" height="8.2" fill="#467c2c" opacity="0.35"/>
<rect x="314.3" y="78.3" width="8.2" height="8.2" fill="#467c2c" opacity="0.20"/>
<rect x="324.5" y="78.3" width="8.2" height="8.2" fill="#467c2c" opacity="0.35"/>
<rect x="334.8" y="78.3" width="8.2" height="8.2" fill="#467c2c" opacity="0.35"/>
<rect x="263.1" y="88.5" width="8.2" height="8.2" fill="#467c2c" opacity="0.20"/>
<rect x="273.3" y="88.5" width="8.2" height="8.2" fill="#467c2c" opacity="0.50"/>
<rect x="283.6" y="88.5" width="8.2" height="8.2" fill="#467c2c" opacity="0.20"/>
<rect x="293.8" y="88.5" width="8.2" height="8.2" fill="#467c2c" opacity="0.35"/>
<rect x="304.0" y="88.5" width="8.2" height="8.2" fill="#467c2c" opacity="0.35"/>
<rect x="314.3" y="88.5" width="8.2" height="8.2" fill="#467c2c" opacity="0.35"/>
<rect x="324.5" y="88.5" width="8.2" height="8.2" fill="#467c2c" opacity="0.35"/>
<rect x="334.8" y="88.5" width="8.2" height="8.2" fill="#467c2c" opacity="0.20"/>
<rect x="252.8" y="98.7" width="8.2" height="8.2" fill="#467c2c" opacity="0.50"/>
<rect x="273.3" y="98.7" width="8.2" height="8.2" fill="#467c2c" opacity="0.20"/>
<rect x="283.6" y="98.7" width="8.2" height="8.2" fill="#467c2c" opacity="0.20"/>
<rect x="293.8" y="98.7" width="8.2" height="8.2" fill="#467c2c" opacity="0.20"/>
<rect x="324.5" y="98.7" width="8.2" height="8.2" fill="#467c2c" opacity="0.50"/>
<rect x="252.8" y="108.9" width="8.2" height="8.2" fill="#467c2c" opacity="0.35"/>
<rect x="263.1" y="108.9" width="8.2" height="8.2" fill="#467c2c" opacity="0.20"/>
<rect x="283.6" y="108.9" width="8.2" height="8.2" fill="#467c2c" opacity="0.20"/>
<rect x="293.8" y="108.9" width="8.2" height="8.2" fill="#467c2c" opacity="0.20"/>
<rect x="304.0" y="108.9" width="8.2" height="8.2" fill="#467c2c" opacity="0.35"/>
<rect x="334.8" y="108.9" width="8.2" height="8.2" fill="#467c2c" opacity="0.20"/>
<rect x="242.6" y="119.0" width="8.2" height="8.2" fill="#467c2c" opacity="0.35"/>
<rect x="293.8" y="119.0" width="8.2" height="8.2" fill="#467c2c" opacity="0.20"/>
<rect x="304.0" y="119.0" width="8.2" height="8.2" fill="#467c2c" opacity="0.35"/>
<rect x="334.8" y="119.0" width="8.2" height="8.2" fill="#467c2c" opacity="0.20"/>
</g>
<path d="M314.2 132.1Q315.8 129.3 318.3 127.4M257.5 74.1Q261.3 77.0 262.7 81.7M243.4 77.2Q243.7 80.8 241.3 83.4M248.0 80.2Q247.8 87.9 240.2 88.9M248.0 80.2Q247.3 79.7 246.4 79.7M254.4 133.7Q258.5 131.3 261.0 127.2M253.5 132.8Q254.7 129.2 252.8 126.0M303.1 44.6Q303.0 43.4 303.8 42.7M260.5 84.8Q259.9 84.9 259.4 84.6M262.8 83.1Q262.1 83.6 261.8 84.3M261.8 84.3Q261.1 84.3 260.5 84.8M258.8 117.2Q258.5 119.4 257.0 120.9M255.5 121.4Q256.4 121.5 257.0 120.9M263.1 117.6Q261.0 117.0 258.8 117.2M252.8 126.0Q254.8 124.1 255.5 121.4M248.7 109.6Q248.9 111.2 249.8 112.6M318.5 125.7Q315.6 120.9 310.4 118.8M279.8 104.6Q279.9 104.4 280.0 104.2M266.5 115.7Q269.0 112.6 268.0 108.8M266.3 100.3Q267.8 98.2 268.5 95.8M268.5 95.8Q268.0 95.0 267.2 94.6M258.5 94.0Q257.4 95.3 255.9 96.1M269.4 95.5Q268.8 95.2 268.5 95.8M261.8 84.3Q266.5 88.5 267.2 94.6M253.7 91.5Q255.2 94.0 254.4 96.7M254.4 96.7Q254.9 96.0 255.9 96.1M334.1 121.1Q330.1 117.9 329.3 112.8M321.6 119.5Q321.1 119.0 321.2 118.4M342.7 104.4Q340.5 103.6 338.6 102.3M340.3 92.4Q340.9 94.4 341.5 96.3M316.4 67.4Q314.6 71.8 313.6 76.4M296.6 128.4Q296.1 126.7 296.2 125.1M296.6 128.4Q295.9 130.3 294.0 131.0M296.2 125.1Q294.5 125.8 292.8 126.5M254.4 96.7Q254.3 97.9 253.2 98.2M275.9 79.9Q275.9 79.9 275.9 79.9M273.4 75.9Q274.7 77.9 275.9 79.9M277.6 51.6Q276.5 53.0 276.5 54.8M310.1 103.9Q302.0 104.5 297.9 111.6M297.1 111.3Q296.9 115.5 294.3 118.8M333.2 30.8Q329.3 32.1 326.9 35.4M287.3 71.4Q283.6 69.8 282.3 65.9M282.3 65.9Q281.0 63.8 278.9 65.2M303.8 42.7Q304.4 42.8 305.0 42.5M312.9 44.1Q310.7 43.1 309.8 40.8M311.7 47.1Q307.5 46.1 305.1 42.6" stroke="#365f24" stroke-width="2.2" stroke-linecap="round" fill="none" opacity="0.85"/>
<path d="M302.2 23.9Q308.0 24.2 313.8 23.0M241.7 64.1Q244.4 64.2 246.5 65.8M290.8 25.0Q288.2 26.6 288.3 29.8M299.0 36.4Q297.8 37.2 296.4 37.1M302.2 23.9Q303.4 26.8 303.8 29.9M296.4 37.1Q293.4 36.9 292.1 34.2M282.8 28.2Q283.4 24.8 284.1 21.4M290.8 25.0Q287.7 22.7 284.1 21.4M288.3 29.8Q286.9 30.1 285.6 30.6M285.1 30.5Q285.4 30.5 285.6 30.6M285.1 30.5Q283.0 30.3 282.8 28.2M240.4 41.5Q241.1 45.6 240.1 49.5M251.8 63.7Q248.8 63.9 246.5 65.8M251.8 63.7Q252.9 62.6 253.3 61.2M240.1 49.5Q243.0 50.4 246.1 50.5M246.1 50.5Q246.1 50.5 246.1 50.5M256.9 32.4Q256.4 36.8 254.2 40.6M254.2 40.6Q250.5 41.8 246.8 42.7M244.5 35.9Q244.1 37.6 244.8 39.3M256.9 46.7Q254.3 44.2 254.2 40.6M246.1 50.5Q243.1 46.3 246.8 42.7M240.4 41.5Q242.7 40.7 244.8 39.3M333.9 54.4Q334.0 51.5 335.1 48.9M333.9 54.4Q335.2 55.7 334.6 57.3M321.8 57.2Q321.9 56.9 322.3 56.7M322.8 61.6Q327.9 63.2 333.1 62.2M257.5 74.1Q258.9 72.7 260.7 72.0M262.7 81.7Q263.6 78.4 265.3 75.3M254.0 73.3Q253.8 74.8 252.4 75.2M252.0 75.5Q252.2 75.4 252.4 75.2M353.0 131.2Q348.0 133.7 342.7 135.7M308.1 129.0Q304.6 133.1 299.4 134.8M246.3 130.5Q244.5 132.4 242.0 133.1M246.3 127.3Q241.1 127.3 238.8 122.6M241.8 133.0Q239.2 128.5 238.0 123.5M237.0 118.2Q238.3 119.6 239.6 120.8M239.6 120.8Q239.9 122.1 238.8 122.6M347.5 56.5Q348.0 51.7 345.7 47.4M285.6 30.6Q284.6 33.3 284.9 36.2M286.8 44.8Q282.7 43.3 278.6 41.7M301.4 57.0Q301.4 56.8 301.2 56.8M334.6 47.2Q334.8 48.1 335.1 48.9M296.4 37.1Q296.2 43.2 291.3 46.6M254.0 73.3Q256.2 71.8 257.5 74.1M262.8 83.1Q262.9 82.8 262.9 82.4M258.8 117.2Q258.7 115.8 257.9 114.7M257.9 114.7Q253.5 114.8 249.8 112.6M247.4 119.2Q247.1 119.1 247.0 118.8M247.8 125.0Q247.0 122.2 247.4 119.2M286.5 93.6Q283.9 90.6 280.0 91.1M333.1 62.2Q334.0 63.3 335.0 64.4M335.0 64.4Q336.2 64.7 337.3 65.4M340.4 119.4Q341.4 119.3 341.9 118.3M347.5 56.5Q346.7 56.5 346.0 56.6M337.3 65.4Q336.1 71.6 335.9 77.9M321.8 57.2Q320.5 53.1 316.3 53.4M322.8 61.6Q323.0 63.6 321.5 65.1M316.3 53.4Q314.2 54.1 312.3 52.9M302.7 61.8Q302.6 60.7 303.1 59.7M321.5 65.1Q325.3 69.0 327.2 74.1M335.9 77.9Q335.0 77.9 334.3 78.2M307.7 128.2Q308.0 128.5 308.1 129.0M307.7 128.2Q307.0 123.7 309.5 119.9M310.4 118.8Q309.9 119.3 309.5 119.9M292.3 102.3Q297.6 98.5 303.9 97.0M303.9 97.0Q301.9 94.5 302.4 91.3M302.4 91.3Q302.3 90.3 301.4 90.2M316.3 53.4Q317.5 48.8 320.5 45.0M320.5 45.0Q321.6 44.5 322.7 44.5M340.6 35.1Q336.5 33.6 333.2 30.8M301.1 124.3Q297.3 127.7 299.1 132.6M292.3 102.3Q292.2 104.2 292.8 106.1M292.8 106.1Q290.3 109.6 287.4 112.9M257.9 114.7Q259.1 113.5 258.8 111.8M269.4 95.5Q271.9 94.9 273.9 96.4M273.9 96.4Q274.0 96.4 274.0 96.4M273.9 96.4Q272.3 90.9 275.3 86.0M271.4 89.3Q269.7 86.9 267.6 84.8M262.7 48.8Q266.2 46.8 270.1 46.8M256.9 46.7Q259.1 49.3 262.5 49.1M262.5 49.1Q262.6 48.9 262.7 48.8M260.7 72.0Q262.6 68.7 264.9 65.6M262.9 82.4Q269.5 81.4 273.4 75.9M334.3 78.2Q332.1 83.0 330.9 88.1M332.1 90.3Q331.4 89.2 330.9 88.1M308.0 84.4Q307.9 90.0 302.4 91.3M308.0 84.4Q308.5 84.3 308.8 83.9M308.3 98.8Q314.7 94.4 314.1 86.6M308.8 83.9Q310.9 86.4 314.1 86.6M301.1 124.3Q300.2 123.2 299.4 122.2M311.9 77.5Q309.3 80.3 305.4 80.0M308.0 84.4Q307.7 84.0 307.4 83.7M301.4 90.2Q303.6 85.5 302.5 80.4M292.5 83.5Q292.5 83.9 292.7 84.3M294.1 72.7Q294.3 72.1 294.8 71.6M294.1 72.7Q294.9 74.6 294.8 76.7M301.6 63.1Q299.4 68.3 294.8 71.6M331.6 48.0Q328.2 45.0 324.4 42.5M324.4 42.5Q323.6 43.1 323.1 44.0M303.8 29.9Q307.0 31.3 310.3 32.8M316.2 28.2Q316.2 26.0 315.5 23.9M316.2 28.2Q314.8 29.3 313.8 30.8M320.5 28.7Q321.8 30.2 323.4 31.4M316.2 28.2Q318.5 27.2 320.5 28.7M299.4 122.2Q299.1 122.2 298.9 122.2M257.7 107.3Q260.9 106.0 263.1 103.2M263.1 103.2Q259.6 97.9 253.2 98.2M252.1 104.3Q252.6 101.7 251.5 99.3M258.8 111.8Q260.2 109.1 257.7 107.3M283.6 81.1Q282.6 82.9 282.3 85.0M283.6 81.1Q283.1 79.9 281.9 79.3M288.2 90.4Q288.0 84.7 282.3 85.0M282.7 76.9Q282.8 78.3 281.9 79.3M275.3 86.0Q275.4 86.0 275.5 85.9M267.6 84.8Q271.4 84.5 275.2 84.0M270.1 46.8Q274.9 49.6 276.5 54.8M286.8 44.8Q287.5 45.3 288.0 46.0M277.6 51.6Q282.6 48.4 288.0 46.0M310.4 118.8Q310.4 114.5 311.8 110.4M320.0 93.4Q320.0 94.7 321.3 94.6M335.7 103.4Q333.3 103.8 331.3 102.5M326.8 107.3Q330.1 105.8 331.3 102.5M331.1 93.4Q326.7 94.6 322.1 95.0M331.1 93.4Q329.6 97.9 331.3 102.4M332.1 90.3Q331.5 91.8 331.1 93.4M331.3 102.5Q331.3 102.4 331.3 102.4M321.3 94.6Q321.7 94.9 322.1 95.0M321.0 101.2Q323.5 100.2 326.2 99.5M323.0 78.2Q323.2 82.6 322.9 86.9M321.3 88.1Q321.9 87.2 322.9 86.9M327.3 74.6Q324.7 75.9 323.0 78.2M330.9 88.1Q327.0 86.7 322.9 86.9M314.1 86.6Q315.2 86.1 316.4 85.9M320.0 93.4Q320.3 90.7 321.3 88.1M293.6 107.4Q293.1 112.4 291.5 117.3M325.1 41.7Q326.6 38.8 326.6 35.4M325.1 41.7Q329.7 44.8 335.0 46.3M336.1 44.5Q331.4 40.0 326.9 35.4M324.4 42.5Q324.8 42.2 325.1 41.7M294.8 71.6Q292.9 65.5 287.3 62.3M282.3 65.9Q286.0 65.7 287.3 62.3M301.6 63.1Q300.6 62.7 299.5 62.5M299.5 62.5Q293.5 60.2 287.4 62.2M287.4 62.2Q287.4 62.2 287.3 62.3M288.1 54.6Q288.3 55.2 288.2 55.9M288.2 55.9Q287.8 56.6 287.6 57.4M289.8 46.9Q288.2 50.0 287.8 53.5M287.4 62.2Q286.2 59.8 287.6 57.4M301.2 56.8Q294.6 55.8 288.1 54.6" stroke="#365f24" stroke-width="2.8" stroke-linecap="round" fill="none" opacity="0.85"/>
<path d="M346.1 25.7Q354.1 27.7 362.2 28.3M337.6 43.4Q338.8 39.7 341.1 36.6M337.6 43.4Q341.9 44.9 345.7 47.4M346.0 47.2Q346.4 43.4 348.7 40.4M341.1 36.6Q343.4 36.1 345.3 37.3M345.3 37.3Q347.9 37.9 348.7 40.4M362.0 43.9Q355.1 50.6 346.0 47.2M346.1 25.7Q345.8 25.9 345.6 26.0M353.5 31.6Q348.8 32.0 344.6 29.9M345.6 26.0Q346.2 28.3 344.6 29.9M282.8 28.2Q280.9 28.3 280.5 26.5M280.5 26.5Q279.8 21.9 279.0 17.4M334.6 57.3Q339.7 53.3 344.7 57.4M346.0 56.6Q345.4 57.2 344.7 57.4M322.3 56.7Q327.8 54.3 333.9 54.4M333.1 62.2Q334.0 59.8 334.6 57.3M353.5 31.6Q348.0 32.4 345.3 37.3M284.9 36.2Q282.2 38.8 278.6 39.8M278.6 41.7Q279.3 40.8 278.6 39.8M322.3 56.7Q323.2 52.0 327.2 49.4M334.6 47.2Q332.9 46.7 331.6 48.0M327.2 49.4Q329.6 49.4 331.6 48.0M274.0 96.4Q278.2 95.0 280.0 91.1M344.7 57.4Q345.8 65.0 338.2 65.2M338.2 65.2Q337.8 65.3 337.3 65.4M285.1 30.5Q281.9 34.1 277.0 34.5M278.6 39.8Q280.0 36.5 276.9 34.6M277.0 34.5Q277.0 34.6 276.9 34.6M280.5 26.5Q277.6 27.5 274.7 28.5M277.0 34.5Q274.3 32.1 274.7 28.5M263.7 34.3Q263.8 34.4 264.0 34.4M272.3 26.8Q266.1 28.5 264.0 34.4M272.3 26.8Q271.4 17.9 270.1 9.0M274.7 28.5Q273.2 28.0 272.3 26.8M341.1 36.6Q340.6 35.9 340.6 35.1M344.6 29.9Q343.5 33.1 340.7 35.0M340.6 35.1Q340.6 35.0 340.7 35.0M345.6 26.0Q342.6 25.1 339.9 23.5M340.7 35.0Q339.9 29.3 339.9 23.5M262.7 48.8Q264.8 42.6 265.1 36.1M265.1 36.1Q266.0 36.1 266.7 36.5M266.7 36.5Q269.6 40.8 274.0 43.6M274.0 43.6Q272.1 45.2 270.1 46.8M264.0 34.4Q264.2 35.5 265.1 36.1M276.9 34.6Q272.0 36.4 266.7 36.5M278.6 41.7Q276.9 42.1 276.2 43.6M276.2 43.6Q275.2 43.3 274.0 43.6M253.3 61.2Q254.5 59.2 256.5 60.4M331.3 102.4Q330.1 98.4 326.2 99.5M334.6 47.2Q334.7 46.7 335.0 46.3" stroke="#365f24" stroke-width="3.6" stroke-linecap="round" fill="none" opacity="0.85"/>
<path d="M314.2 132.1Q315.8 129.3 318.3 127.4M248.0 80.2Q247.8 87.9 240.2 88.9M253.5 132.8Q254.7 129.2 252.8 126.0M262.8 83.1Q262.1 83.6 261.8 84.3M255.5 121.4Q256.4 121.5 257.0 120.9M248.7 109.6Q248.9 111.2 249.8 112.6M266.5 115.7Q269.0 112.6 268.0 108.8M258.5 94.0Q257.4 95.3 255.9 96.1M253.7 91.5Q255.2 94.0 254.4 96.7M321.6 119.5Q321.1 119.0 321.2 118.4M316.4 67.4Q314.6 71.8 313.6 76.4M296.2 125.1Q294.5 125.8 292.8 126.5M273.4 75.9Q274.7 77.9 275.9 79.9M297.1 111.3Q296.9 115.5 294.3 118.8M282.3 65.9Q281.0 63.8 278.9 65.2M311.7 47.1Q307.5 46.1 305.1 42.6" stroke="#6aa83a" stroke-width="1.0" stroke-linecap="round" fill="none"/>
<path d="M257.5 74.1Q261.3 77.0 262.7 81.7M248.0 80.2Q247.3 79.7 246.4 79.7M303.1 44.6Q303.0 43.4 303.8 42.7M261.8 84.3Q261.1 84.3 260.5 84.8M263.1 117.6Q261.0 117.0 258.8 117.2M318.5 125.7Q315.6 120.9 310.4 118.8M266.3 100.3Q267.8 98.2 268.5 95.8M269.4 95.5Q268.8 95.2 268.5 95.8M254.4 96.7Q254.9 96.0 255.9 96.1M342.7 104.4Q340.5 103.6 338.6 102.3M296.6 128.4Q296.1 126.7 296.2 125.1M254.4 96.7Q254.3 97.9 253.2 98.2M277.6 51.6Q276.5 53.0 276.5 54.8M333.2 30.8Q329.3 32.1 326.9 35.4M303.8 42.7Q304.4 42.8 305.0 42.5" stroke="#82bc44" stroke-width="1.0" stroke-linecap="round" fill="none"/>
<path d="M243.4 77.2Q243.7 80.8 241.3 83.4M254.4 133.7Q258.5 131.3 261.0 127.2M260.5 84.8Q259.9 84.9 259.4 84.6M258.8 117.2Q258.5 119.4 257.0 120.9M252.8 126.0Q254.8 124.1 255.5 121.4M279.8 104.6Q279.9 104.4 280.0 104.2M268.5 95.8Q268.0 95.0 267.2 94.6M261.8 84.3Q266.5 88.5 267.2 94.6M334.1 121.1Q330.1 117.9 329.3 112.8M340.3 92.4Q340.9 94.4 341.5 96.3M296.6 128.4Q295.9 130.3 294.0 131.0M275.9 79.9Q275.9 79.9 275.9 79.9M310.1 103.9Q302.0 104.5 297.9 111.6M287.3 71.4Q283.6 69.8 282.3 65.9M312.9 44.1Q310.7 43.1 309.8 40.8" stroke="#a4c23e" stroke-width="1.0" stroke-linecap="round" fill="none"/>
<path d="M302.2 23.9Q308.0 24.2 313.8 23.0M299.0 36.4Q297.8 37.2 296.4 37.1M282.8 28.2Q283.4 24.8 284.1 21.4M285.1 30.5Q285.4 30.5 285.6 30.6M251.8 63.7Q248.8 63.9 246.5 65.8M246.1 50.5Q246.1 50.5 246.1 50.5M244.5 35.9Q244.1 37.6 244.8 39.3M240.4 41.5Q242.7 40.7 244.8 39.3M321.8 57.2Q321.9 56.9 322.3 56.7M262.7 81.7Q263.6 78.4 265.3 75.3M353.0 131.2Q348.0 133.7 342.7 135.7M246.3 127.3Q241.1 127.3 238.8 122.6M239.6 120.8Q239.9 122.1 238.8 122.6M286.8 44.8Q282.7 43.3 278.6 41.7M296.4 37.1Q296.2 43.2 291.3 46.6M258.8 117.2Q258.7 115.8 257.9 114.7M247.8 125.0Q247.0 122.2 247.4 119.2M335.0 64.4Q336.2 64.7 337.3 65.4M337.3 65.4Q336.1 71.6 335.9 77.9M316.3 53.4Q314.2 54.1 312.3 52.9M335.9 77.9Q335.0 77.9 334.3 78.2M310.4 118.8Q309.9 119.3 309.5 119.9M302.4 91.3Q302.3 90.3 301.4 90.2M340.6 35.1Q336.5 33.6 333.2 30.8M292.8 106.1Q290.3 109.6 287.4 112.9M273.9 96.4Q274.0 96.4 274.0 96.4M262.7 48.8Q266.2 46.8 270.1 46.8M260.7 72.0Q262.6 68.7 264.9 65.6M332.1 90.3Q331.4 89.2 330.9 88.1M308.3 98.8Q314.7 94.4 314.1 86.6M311.9 77.5Q309.3 80.3 305.4 80.0M292.5 83.5Q292.5 83.9 292.7 84.3M301.6 63.1Q299.4 68.3 294.8 71.6M303.8 29.9Q307.0 31.3 310.3 32.8M320.5 28.7Q321.8 30.2 323.4 31.4M257.7 107.3Q260.9 106.0 263.1 103.2M258.8 111.8Q260.2 109.1 257.7 107.3M288.2 90.4Q288.0 84.7 282.3 85.0M267.6 84.8Q271.4 84.5 275.2 84.0M277.6 51.6Q282.6 48.4 288.0 46.0M335.7 103.4Q333.3 103.8 331.3 102.5M331.1 93.4Q329.6 97.9 331.3 102.4M321.3 94.6Q321.7 94.9 322.1 95.0M321.3 88.1Q321.9 87.2 322.9 86.9M314.1 86.6Q315.2 86.1 316.4 85.9M325.1 41.7Q326.6 38.8 326.6 35.4M324.4 42.5Q324.8 42.2 325.1 41.7M301.6 63.1Q300.6 62.7 299.5 62.5M288.1 54.6Q288.3 55.2 288.2 55.9M287.4 62.2Q286.2 59.8 287.6 57.4" stroke="#6aa83a" stroke-width="1.4" stroke-linecap="round" fill="none"/>
<path d="M241.7 64.1Q244.4 64.2 246.5 65.8M302.2 23.9Q303.4 26.8 303.8 29.9M290.8 25.0Q287.7 22.7 284.1 21.4M285.1 30.5Q283.0 30.3 282.8 28.2M251.8 63.7Q252.9 62.6 253.3 61.2M256.9 32.4Q256.4 36.8 254.2 40.6M256.9 46.7Q254.3 44.2 254.2 40.6M333.9 54.4Q334.0 51.5 335.1 48.9M322.8 61.6Q327.9 63.2 333.1 62.2M254.0 73.3Q253.8 74.8 252.4 75.2M308.1 129.0Q304.6 133.1 299.4 134.8M241.8 133.0Q239.2 128.5 238.0 123.5M347.5 56.5Q348.0 51.7 345.7 47.4M301.4 57.0Q301.4 56.8 301.2 56.8M254.0 73.3Q256.2 71.8 257.5 74.1M257.9 114.7Q253.5 114.8 249.8 112.6M286.5 93.6Q283.9 90.6 280.0 91.1M340.4 119.4Q341.4 119.3 341.9 118.3M321.8 57.2Q320.5 53.1 316.3 53.4M302.7 61.8Q302.6 60.7 303.1 59.7M307.7 128.2Q308.0 128.5 308.1 129.0M292.3 102.3Q297.6 98.5 303.9 97.0M316.3 53.4Q317.5 48.8 320.5 45.0M301.1 124.3Q297.3 127.7 299.1 132.6M257.9 114.7Q259.1 113.5 258.8 111.8M273.9 96.4Q272.3 90.9 275.3 86.0M256.9 46.7Q259.1 49.3 262.5 49.1M262.9 82.4Q269.5 81.4 273.4 75.9M308.0 84.4Q307.9 90.0 302.4 91.3M308.8 83.9Q310.9 86.4 314.1 86.6M308.0 84.4Q307.7 84.0 307.4 83.7M294.1 72.7Q294.3 72.1 294.8 71.6M331.6 48.0Q328.2 45.0 324.4 42.5M316.2 28.2Q316.2 26.0 315.5 23.9M316.2 28.2Q318.5 27.2 320.5 28.7M263.1 103.2Q259.6 97.9 253.2 98.2M283.6 81.1Q282.6 82.9 282.3 85.0M282.7 76.9Q282.8 78.3 281.9 79.3M270.1 46.8Q274.9 49.6 276.5 54.8M310.4 118.8Q310.4 114.5 311.8 110.4M326.8 107.3Q330.1 105.8 331.3 102.5M332.1 90.3Q331.5 91.8 331.1 93.4M321.0 101.2Q323.5 100.2 326.2 99.5M327.3 74.6Q324.7 75.9 323.0 78.2M320.0 93.4Q320.3 90.7 321.3 88.1M325.1 41.7Q329.7 44.8 335.0 46.3M294.8 71.6Q292.9 65.5 287.3 62.3M299.5 62.5Q293.5 60.2 287.4 62.2M288.2 55.9Q287.8 56.6 287.6 57.4M301.2 56.8Q294.6 55.8 288.1 54.6" stroke="#82bc44" stroke-width="1.4" stroke-linecap="round" fill="none"/>
<path d="M290.8 25.0Q288.2 26.6 288.3 29.8M296.4 37.1Q293.4 36.9 292.1 34.2M288.3 29.8Q286.9 30.1 285.6 30.6M240.4 41.5Q241.1 45.6 240.1 49.5M240.1 49.5Q243.0 50.4 246.1 50.5M254.2 40.6Q250.5 41.8 246.8 42.7M246.1 50.5Q243.1 46.3 246.8 42.7M333.9 54.4Q335.2 55.7 334.6 57.3M257.5 74.1Q258.9 72.7 260.7 72.0M252.0 75.5Q252.2 75.4 252.4 75.2M246.3 130.5Q244.5 132.4 242.0 133.1M237.0 118.2Q238.3 119.6 239.6 120.8M285.6 30.6Q284.6 33.3 284.9 36.2M334.6 47.2Q334.8 48.1 335.1 48.9M262.8 83.1Q262.9 82.8 262.9 82.4M247.4 119.2Q247.1 119.1 247.0 118.8M333.1 62.2Q334.0 63.3 335.0 64.4M347.5 56.5Q346.7 56.5 346.0 56.6M322.8 61.6Q323.0 63.6 321.5 65.1M321.5 65.1Q325.3 69.0 327.2 74.1M307.7 128.2Q307.0 123.7 309.5 119.9M303.9 97.0Q301.9 94.5 302.4 91.3M320.5 45.0Q321.6 44.5 322.7 44.5M292.3 102.3Q292.2 104.2 292.8 106.1M269.4 95.5Q271.9 94.9 273.9 96.4M271.4 89.3Q269.7 86.9 267.6 84.8M262.5 49.1Q262.6 48.9 262.7 48.8M334.3 78.2Q332.1 83.0 330.9 88.1M308.0 84.4Q308.5 84.3 308.8 83.9M301.1 124.3Q300.2 123.2 299.4 122.2M301.4 90.2Q303.6 85.5 302.5 80.4M294.1 72.7Q294.9 74.6 294.8 76.7M324.4 42.5Q323.6 43.1 323.1 44.0M316.2 28.2Q314.8 29.3 313.8 30.8M299.4 122.2Q299.1 122.2 298.9 122.2M252.1 104.3Q252.6 101.7 251.5 99.3M283.6 81.1Q283.1 79.9 281.9 79.3M275.3 86.0Q275.4 86.0 275.5 85.9M286.8 44.8Q287.5 45.3 288.0 46.0M320.0 93.4Q320.0 94.7 321.3 94.6M331.1 93.4Q326.7 94.6 322.1 95.0M331.3 102.5Q331.3 102.4 331.3 102.4M323.0 78.2Q323.2 82.6 322.9 86.9M330.9 88.1Q327.0 86.7 322.9 86.9M293.6 107.4Q293.1 112.4 291.5 117.3M336.1 44.5Q331.4 40.0 326.9 35.4M282.3 65.9Q286.0 65.7 287.3 62.3M287.4 62.2Q287.4 62.2 287.3 62.3M289.8 46.9Q288.2 50.0 287.8 53.5" stroke="#a4c23e" stroke-width="1.4" stroke-linecap="round" fill="none"/>
<path d="M346.1 25.7Q354.1 27.7 362.2 28.3M346.0 47.2Q346.4 43.4 348.7 40.4M362.0 43.9Q355.1 50.6 346.0 47.2M345.6 26.0Q346.2 28.3 344.6 29.9M334.6 57.3Q339.7 53.3 344.7 57.4M333.1 62.2Q334.0 59.8 334.6 57.3M278.6 41.7Q279.3 40.8 278.6 39.8M327.2 49.4Q329.6 49.4 331.6 48.0M338.2 65.2Q337.8 65.3 337.3 65.4M277.0 34.5Q277.0 34.6 276.9 34.6M263.7 34.3Q263.8 34.4 264.0 34.4M274.7 28.5Q273.2 28.0 272.3 26.8M340.6 35.1Q340.6 35.0 340.7 35.0M262.7 48.8Q264.8 42.6 265.1 36.1M274.0 43.6Q272.1 45.2 270.1 46.8M278.6 41.7Q276.9 42.1 276.2 43.6M331.3 102.4Q330.1 98.4 326.2 99.5" stroke="#6aa83a" stroke-width="1.8" stroke-linecap="round" fill="none"/>
<path d="M337.6 43.4Q338.8 39.7 341.1 36.6M341.1 36.6Q343.4 36.1 345.3 37.3M346.1 25.7Q345.8 25.9 345.6 26.0M282.8 28.2Q280.9 28.3 280.5 26.5M346.0 56.6Q345.4 57.2 344.7 57.4M353.5 31.6Q348.0 32.4 345.3 37.3M322.3 56.7Q323.2 52.0 327.2 49.4M274.0 96.4Q278.2 95.0 280.0 91.1M285.1 30.5Q281.9 34.1 277.0 34.5M280.5 26.5Q277.6 27.5 274.7 28.5M272.3 26.8Q266.1 28.5 264.0 34.4M341.1 36.6Q340.6 35.9 340.6 35.1M345.6 26.0Q342.6 25.1 339.9 23.5M265.1 36.1Q266.0 36.1 266.7 36.5M264.0 34.4Q264.2 35.5 265.1 36.1M276.2 43.6Q275.2 43.3 274.0 43.6M334.6 47.2Q334.7 46.7 335.0 46.3" stroke="#82bc44" stroke-width="1.8" stroke-linecap="round" fill="none"/>
<path d="M337.6 43.4Q341.9 44.9 345.7 47.4M345.3 37.3Q347.9 37.9 348.7 40.4M353.5 31.6Q348.8 32.0 344.6 29.9M280.5 26.5Q279.8 21.9 279.0 17.4M322.3 56.7Q327.8 54.3 333.9 54.4M284.9 36.2Q282.2 38.8 278.6 39.8M334.6 47.2Q332.9 46.7 331.6 48.0M344.7 57.4Q345.8 65.0 338.2 65.2M278.6 39.8Q280.0 36.5 276.9 34.6M277.0 34.5Q274.3 32.1 274.7 28.5M272.3 26.8Q271.4 17.9 270.1 9.0M344.6 29.9Q343.5 33.1 340.7 35.0M340.7 35.0Q339.9 29.3 339.9 23.5M266.7 36.5Q269.6 40.8 274.0 43.6M276.9 34.6Q272.0 36.4 266.7 36.5M253.3 61.2Q254.5 59.2 256.5 60.4" stroke="#a4c23e" stroke-width="1.8" stroke-linecap="round" fill="none"/>
<path d="M346.1 25.7Q354.1 27.7 362.2 28.3M337.6 43.4Q338.8 39.7 341.1 36.6M337.6 43.4Q341.9 44.9 345.7 47.4M346.0 47.2Q346.4 43.4 348.7 40.4M341.1 36.6Q343.4 36.1 345.3 37.3M345.3 37.3Q347.9 37.9 348.7 40.4M362.0 43.9Q355.1 50.6 346.0 47.2M346.1 25.7Q345.8 25.9 345.6 26.0M353.5 31.6Q348.8 32.0 344.6 29.9M345.6 26.0Q346.2 28.3 344.6 29.9M282.8 28.2Q280.9 28.3 280.5 26.5M280.5 26.5Q279.8 21.9 279.0 17.4M334.6 57.3Q339.7 53.3 344.7 57.4M346.0 56.6Q345.4 57.2 344.7 57.4M322.3 56.7Q327.8 54.3 333.9 54.4M333.1 62.2Q334.0 59.8 334.6 57.3M353.5 31.6Q348.0 32.4 345.3 37.3M284.9 36.2Q282.2 38.8 278.6 39.8M278.6 41.7Q279.3 40.8 278.6 39.8M322.3 56.7Q323.2 52.0 327.2 49.4M334.6 47.2Q332.9 46.7 331.6 48.0M327.2 49.4Q329.6 49.4 331.6 48.0M274.0 96.4Q278.2 95.0 280.0 91.1M344.7 57.4Q345.8 65.0 338.2 65.2M338.2 65.2Q337.8 65.3 337.3 65.4M285.1 30.5Q281.9 34.1 277.0 34.5M278.6 39.8Q280.0 36.5 276.9 34.6M277.0 34.5Q277.0 34.6 276.9 34.6M280.5 26.5Q277.6 27.5 274.7 28.5M277.0 34.5Q274.3 32.1 274.7 28.5M263.7 34.3Q263.8 34.4 264.0 34.4M272.3 26.8Q266.1 28.5 264.0 34.4M272.3 26.8Q271.4 17.9 270.1 9.0M274.7 28.5Q273.2 28.0 272.3 26.8M341.1 36.6Q340.6 35.9 340.6 35.1M344.6 29.9Q343.5 33.1 340.7 35.0M340.6 35.1Q340.6 35.0 340.7 35.0M345.6 26.0Q342.6 25.1 339.9 23.5M340.7 35.0Q339.9 29.3 339.9 23.5M262.7 48.8Q264.8 42.6 265.1 36.1M265.1 36.1Q266.0 36.1 266.7 36.5M266.7 36.5Q269.6 40.8 274.0 43.6M274.0 43.6Q272.1 45.2 270.1 46.8M264.0 34.4Q264.2 35.5 265.1 36.1M276.9 34.6Q272.0 36.4 266.7 36.5M278.6 41.7Q276.9 42.1 276.2 43.6M276.2 43.6Q275.2 43.3 274.0 43.6M253.3 61.2Q254.5 59.2 256.5 60.4M331.3 102.4Q330.1 98.4 326.2 99.5M334.6 47.2Q334.7 46.7 335.0 46.3M314.2 132.1Q315.8 129.3 318.3 127.4M257.5 74.1Q261.3 77.0 262.7 81.7M243.4 77.2Q243.7 80.8 241.3 83.4M248.0 80.2Q247.8 87.9 240.2 88.9M248.0 80.2Q247.3 79.7 246.4 79.7M254.4 133.7Q258.5 131.3 261.0 127.2M253.5 132.8Q254.7 129.2 252.8 126.0M303.1 44.6Q303.0 43.4 303.8 42.7M260.5 84.8Q259.9 84.9 259.4 84.6M262.8 83.1Q262.1 83.6 261.8 84.3M261.8 84.3Q261.1 84.3 260.5 84.8M258.8 117.2Q258.5 119.4 257.0 120.9M255.5 121.4Q256.4 121.5 257.0 120.9M263.1 117.6Q261.0 117.0 258.8 117.2M252.8 126.0Q254.8 124.1 255.5 121.4M248.7 109.6Q248.9 111.2 249.8 112.6M318.5 125.7Q315.6 120.9 310.4 118.8M279.8 104.6Q279.9 104.4 280.0 104.2M266.5 115.7Q269.0 112.6 268.0 108.8M266.3 100.3Q267.8 98.2 268.5 95.8M268.5 95.8Q268.0 95.0 267.2 94.6M258.5 94.0Q257.4 95.3 255.9 96.1M269.4 95.5Q268.8 95.2 268.5 95.8M261.8 84.3Q266.5 88.5 267.2 94.6M253.7 91.5Q255.2 94.0 254.4 96.7M254.4 96.7Q254.9 96.0 255.9 96.1M334.1 121.1Q330.1 117.9 329.3 112.8M321.6 119.5Q321.1 119.0 321.2 118.4M342.7 104.4Q340.5 103.6 338.6 102.3M340.3 92.4Q340.9 94.4 341.5 96.3M316.4 67.4Q314.6 71.8 313.6 76.4M296.6 128.4Q296.1 126.7 296.2 125.1M296.6 128.4Q295.9 130.3 294.0 131.0M296.2 125.1Q294.5 125.8 292.8 126.5M254.4 96.7Q254.3 97.9 253.2 98.2M275.9 79.9Q275.9 79.9 275.9 79.9M273.4 75.9Q274.7 77.9 275.9 79.9M277.6 51.6Q276.5 53.0 276.5 54.8M310.1 103.9Q302.0 104.5 297.9 111.6M297.1 111.3Q296.9 115.5 294.3 118.8M333.2 30.8Q329.3 32.1 326.9 35.4M287.3 71.4Q283.6 69.8 282.3 65.9M282.3 65.9Q281.0 63.8 278.9 65.2M303.8 42.7Q304.4 42.8 305.0 42.5M312.9 44.1Q310.7 43.1 309.8 40.8M311.7 47.1Q307.5 46.1 305.1 42.6M302.2 23.9Q308.0 24.2 313.8 23.0M241.7 64.1Q244.4 64.2 246.5 65.8M290.8 25.0Q288.2 26.6 288.3 29.8M299.0 36.4Q297.8 37.2 296.4 37.1M302.2 23.9Q303.4 26.8 303.8 29.9M296.4 37.1Q293.4 36.9 292.1 34.2M282.8 28.2Q283.4 24.8 284.1 21.4M290.8 25.0Q287.7 22.7 284.1 21.4M288.3 29.8Q286.9 30.1 285.6 30.6M285.1 30.5Q285.4 30.5 285.6 30.6M285.1 30.5Q283.0 30.3 282.8 28.2M240.4 41.5Q241.1 45.6 240.1 49.5M251.8 63.7Q248.8 63.9 246.5 65.8M251.8 63.7Q252.9 62.6 253.3 61.2M240.1 49.5Q243.0 50.4 246.1 50.5M246.1 50.5Q246.1 50.5 246.1 50.5M256.9 32.4Q256.4 36.8 254.2 40.6M254.2 40.6Q250.5 41.8 246.8 42.7M244.5 35.9Q244.1 37.6 244.8 39.3M256.9 46.7Q254.3 44.2 254.2 40.6M246.1 50.5Q243.1 46.3 246.8 42.7M240.4 41.5Q242.7 40.7 244.8 39.3M333.9 54.4Q334.0 51.5 335.1 48.9M333.9 54.4Q335.2 55.7 334.6 57.3M321.8 57.2Q321.9 56.9 322.3 56.7M322.8 61.6Q327.9 63.2 333.1 62.2M257.5 74.1Q258.9 72.7 260.7 72.0M262.7 81.7Q263.6 78.4 265.3 75.3M254.0 73.3Q253.8 74.8 252.4 75.2M252.0 75.5Q252.2 75.4 252.4 75.2M353.0 131.2Q348.0 133.7 342.7 135.7M308.1 129.0Q304.6 133.1 299.4 134.8M246.3 130.5Q244.5 132.4 242.0 133.1M246.3 127.3Q241.1 127.3 238.8 122.6M241.8 133.0Q239.2 128.5 238.0 123.5M237.0 118.2Q238.3 119.6 239.6 120.8M239.6 120.8Q239.9 122.1 238.8 122.6M347.5 56.5Q348.0 51.7 345.7 47.4M285.6 30.6Q284.6 33.3 284.9 36.2M286.8 44.8Q282.7 43.3 278.6 41.7M301.4 57.0Q301.4 56.8 301.2 56.8M334.6 47.2Q334.8 48.1 335.1 48.9M296.4 37.1Q296.2 43.2 291.3 46.6M254.0 73.3Q256.2 71.8 257.5 74.1M262.8 83.1Q262.9 82.8 262.9 82.4M258.8 117.2Q258.7 115.8 257.9 114.7M257.9 114.7Q253.5 114.8 249.8 112.6M247.4 119.2Q247.1 119.1 247.0 118.8M247.8 125.0Q247.0 122.2 247.4 119.2M286.5 93.6Q283.9 90.6 280.0 91.1M333.1 62.2Q334.0 63.3 335.0 64.4M335.0 64.4Q336.2 64.7 337.3 65.4M340.4 119.4Q341.4 119.3 341.9 118.3M347.5 56.5Q346.7 56.5 346.0 56.6M337.3 65.4Q336.1 71.6 335.9 77.9M321.8 57.2Q320.5 53.1 316.3 53.4M322.8 61.6Q323.0 63.6 321.5 65.1M316.3 53.4Q314.2 54.1 312.3 52.9M302.7 61.8Q302.6 60.7 303.1 59.7M321.5 65.1Q325.3 69.0 327.2 74.1M335.9 77.9Q335.0 77.9 334.3 78.2M307.7 128.2Q308.0 128.5 308.1 129.0M307.7 128.2Q307.0 123.7 309.5 119.9M310.4 118.8Q309.9 119.3 309.5 119.9M292.3 102.3Q297.6 98.5 303.9 97.0M303.9 97.0Q301.9 94.5 302.4 91.3M302.4 91.3Q302.3 90.3 301.4 90.2M316.3 53.4Q317.5 48.8 320.5 45.0M320.5 45.0Q321.6 44.5 322.7 44.5M340.6 35.1Q336.5 33.6 333.2 30.8M301.1 124.3Q297.3 127.7 299.1 132.6M292.3 102.3Q292.2 104.2 292.8 106.1M292.8 106.1Q290.3 109.6 287.4 112.9M257.9 114.7Q259.1 113.5 258.8 111.8M269.4 95.5Q271.9 94.9 273.9 96.4M273.9 96.4Q274.0 96.4 274.0 96.4M273.9 96.4Q272.3 90.9 275.3 86.0M271.4 89.3Q269.7 86.9 267.6 84.8M262.7 48.8Q266.2 46.8 270.1 46.8M256.9 46.7Q259.1 49.3 262.5 49.1M262.5 49.1Q262.6 48.9 262.7 48.8M260.7 72.0Q262.6 68.7 264.9 65.6M262.9 82.4Q269.5 81.4 273.4 75.9M334.3 78.2Q332.1 83.0 330.9 88.1M332.1 90.3Q331.4 89.2 330.9 88.1M308.0 84.4Q307.9 90.0 302.4 91.3M308.0 84.4Q308.5 84.3 308.8 83.9M308.3 98.8Q314.7 94.4 314.1 86.6M308.8 83.9Q310.9 86.4 314.1 86.6M301.1 124.3Q300.2 123.2 299.4 122.2M311.9 77.5Q309.3 80.3 305.4 80.0M308.0 84.4Q307.7 84.0 307.4 83.7M301.4 90.2Q303.6 85.5 302.5 80.4M292.5 83.5Q292.5 83.9 292.7 84.3M294.1 72.7Q294.3 72.1 294.8 71.6M294.1 72.7Q294.9 74.6 294.8 76.7M301.6 63.1Q299.4 68.3 294.8 71.6M331.6 48.0Q328.2 45.0 324.4 42.5M324.4 42.5Q323.6 43.1 323.1 44.0M303.8 29.9Q307.0 31.3 310.3 32.8M316.2 28.2Q316.2 26.0 315.5 23.9M316.2 28.2Q314.8 29.3 313.8 30.8M320.5 28.7Q321.8 30.2 323.4 31.4M316.2 28.2Q318.5 27.2 320.5 28.7M299.4 122.2Q299.1 122.2 298.9 122.2M257.7 107.3Q260.9 106.0 263.1 103.2M263.1 103.2Q259.6 97.9 253.2 98.2M252.1 104.3Q252.6 101.7 251.5 99.3M258.8 111.8Q260.2 109.1 257.7 107.3M283.6 81.1Q282.6 82.9 282.3 85.0M283.6 81.1Q283.1 79.9 281.9 79.3M288.2 90.4Q288.0 84.7 282.3 85.0M282.7 76.9Q282.8 78.3 281.9 79.3M275.3 86.0Q275.4 86.0 275.5 85.9M267.6 84.8Q271.4 84.5 275.2 84.0M270.1 46.8Q274.9 49.6 276.5 54.8M286.8 44.8Q287.5 45.3 288.0 46.0M277.6 51.6Q282.6 48.4 288.0 46.0M310.4 118.8Q310.4 114.5 311.8 110.4M320.0 93.4Q320.0 94.7 321.3 94.6M335.7 103.4Q333.3 103.8 331.3 102.5M326.8 107.3Q330.1 105.8 331.3 102.5M331.1 93.4Q326.7 94.6 322.1 95.0M331.1 93.4Q329.6 97.9 331.3 102.4M332.1 90.3Q331.5 91.8 331.1 93.4M331.3 102.5Q331.3 102.4 331.3 102.4M321.3 94.6Q321.7 94.9 322.1 95.0M321.0 101.2Q323.5 100.2 326.2 99.5M323.0 78.2Q323.2 82.6 322.9 86.9M321.3 88.1Q321.9 87.2 322.9 86.9M327.3 74.6Q324.7 75.9 323.0 78.2M330.9 88.1Q327.0 86.7 322.9 86.9M314.1 86.6Q315.2 86.1 316.4 85.9M320.0 93.4Q320.3 90.7 321.3 88.1M293.6 107.4Q293.1 112.4 291.5 117.3M325.1 41.7Q326.6 38.8 326.6 35.4M325.1 41.7Q329.7 44.8 335.0 46.3M336.1 44.5Q331.4 40.0 326.9 35.4M324.4 42.5Q324.8 42.2 325.1 41.7M294.8 71.6Q292.9 65.5 287.3 62.3M282.3 65.9Q286.0 65.7 287.3 62.3M301.6 63.1Q300.6 62.7 299.5 62.5M299.5 62.5Q293.5 60.2 287.4 62.2M287.4 62.2Q287.4 62.2 287.3 62.3M288.1 54.6Q288.3 55.2 288.2 55.9M288.2 55.9Q287.8 56.6 287.6 57.4M289.8 46.9Q288.2 50.0 287.8 53.5M287.4 62.2Q286.2 59.8 287.6 57.4M301.2 56.8Q294.6 55.8 288.1 54.6" stroke="#9cd252" stroke-width="0.7" stroke-linecap="round" fill="none" stroke-dasharray="5 3 2 4"/>
<path d="M346.1 25.7Q354.1 27.7 362.2 28.3M337.6 43.4Q338.8 39.7 341.1 36.6M337.6 43.4Q341.9 44.9 345.7 47.4M346.0 47.2Q346.4 43.4 348.7 40.4M341.1 36.6Q343.4 36.1 345.3 37.3M345.3 37.3Q347.9 37.9 348.7 40.4M362.0 43.9Q355.1 50.6 346.0 47.2M346.1 25.7Q345.8 25.9 345.6 26.0M353.5 31.6Q348.8 32.0 344.6 29.9M345.6 26.0Q346.2 28.3 344.6 29.9M282.8 28.2Q280.9 28.3 280.5 26.5M280.5 26.5Q279.8 21.9 279.0 17.4M334.6 57.3Q339.7 53.3 344.7 57.4M346.0 56.6Q345.4 57.2 344.7 57.4M322.3 56.7Q327.8 54.3 333.9 54.4M333.1 62.2Q334.0 59.8 334.6 57.3M353.5 31.6Q348.0 32.4 345.3 37.3M284.9 36.2Q282.2 38.8 278.6 39.8M278.6 41.7Q279.3 40.8 278.6 39.8M322.3 56.7Q323.2 52.0 327.2 49.4M334.6 47.2Q332.9 46.7 331.6 48.0M327.2 49.4Q329.6 49.4 331.6 48.0M274.0 96.4Q278.2 95.0 280.0 91.1M344.7 57.4Q345.8 65.0 338.2 65.2M338.2 65.2Q337.8 65.3 337.3 65.4M285.1 30.5Q281.9 34.1 277.0 34.5M278.6 39.8Q280.0 36.5 276.9 34.6M277.0 34.5Q277.0 34.6 276.9 34.6M280.5 26.5Q277.6 27.5 274.7 28.5M277.0 34.5Q274.3 32.1 274.7 28.5M263.7 34.3Q263.8 34.4 264.0 34.4M272.3 26.8Q266.1 28.5 264.0 34.4M272.3 26.8Q271.4 17.9 270.1 9.0M274.7 28.5Q273.2 28.0 272.3 26.8M341.1 36.6Q340.6 35.9 340.6 35.1M344.6 29.9Q343.5 33.1 340.7 35.0M340.6 35.1Q340.6 35.0 340.7 35.0M345.6 26.0Q342.6 25.1 339.9 23.5M340.7 35.0Q339.9 29.3 339.9 23.5M262.7 48.8Q264.8 42.6 265.1 36.1M265.1 36.1Q266.0 36.1 266.7 36.5M266.7 36.5Q269.6 40.8 274.0 43.6M274.0 43.6Q272.1 45.2 270.1 46.8M264.0 34.4Q264.2 35.5 265.1 36.1M276.9 34.6Q272.0 36.4 266.7 36.5M278.6 41.7Q276.9 42.1 276.2 43.6M276.2 43.6Q275.2 43.3 274.0 43.6M253.3 61.2Q254.5 59.2 256.5 60.4M331.3 102.4Q330.1 98.4 326.2 99.5M334.6 47.2Q334.7 46.7 335.0 46.3M314.2 132.1Q315.8 129.3 318.3 127.4M257.5 74.1Q261.3 77.0 262.7 81.7M243.4 77.2Q243.7 80.8 241.3 83.4M248.0 80.2Q247.8 87.9 240.2 88.9M248.0 80.2Q247.3 79.7 246.4 79.7M254.4 133.7Q258.5 131.3 261.0 127.2M253.5 132.8Q254.7 129.2 252.8 126.0M303.1 44.6Q303.0 43.4 303.8 42.7M260.5 84.8Q259.9 84.9 259.4 84.6M262.8 83.1Q262.1 83.6 261.8 84.3M261.8 84.3Q261.1 84.3 260.5 84.8M258.8 117.2Q258.5 119.4 257.0 120.9M255.5 121.4Q256.4 121.5 257.0 120.9M263.1 117.6Q261.0 117.0 258.8 117.2M252.8 126.0Q254.8 124.1 255.5 121.4M248.7 109.6Q248.9 111.2 249.8 112.6M318.5 125.7Q315.6 120.9 310.4 118.8M279.8 104.6Q279.9 104.4 280.0 104.2M266.5 115.7Q269.0 112.6 268.0 108.8M266.3 100.3Q267.8 98.2 268.5 95.8M268.5 95.8Q268.0 95.0 267.2 94.6M258.5 94.0Q257.4 95.3 255.9 96.1M269.4 95.5Q268.8 95.2 268.5 95.8M261.8 84.3Q266.5 88.5 267.2 94.6M253.7 91.5Q255.2 94.0 254.4 96.7M254.4 96.7Q254.9 96.0 255.9 96.1M334.1 121.1Q330.1 117.9 329.3 112.8M321.6 119.5Q321.1 119.0 321.2 118.4M342.7 104.4Q340.5 103.6 338.6 102.3M340.3 92.4Q340.9 94.4 341.5 96.3M316.4 67.4Q314.6 71.8 313.6 76.4" stroke="#d4d040" stroke-width="0.7" stroke-linecap="round" fill="none" stroke-dasharray="2 7"/>
<path d="M313.6 59.1h0M312.8 57.0h0M247.9 54.0h0M293.5 74.4h0M291.5 73.9h0M292.1 76.6h0M291.2 73.9h0M291.5 75.4h0M274.9 113.8h0M246.9 89.4h0M246.0 90.9h0M245.1 91.1h0M246.7 88.1h0M248.6 91.3h0M314.2 81.2h0M311.9 83.2h0M313.6 83.9h0M313.3 83.1h0M312.2 83.4h0M343.8 79.3h0M343.2 79.5h0M301.4 51.8h0M302.8 48.7h0M300.3 53.4h0M301.1 51.5h0M338.0 43.0h0M327.7 125.6h0M328.5 123.6h0M282.0 47.5h0M282.7 47.8h0M272.4 62.9h0M273.0 61.4h0M273.2 61.7h0M274.1 58.7h0M262.6 42.0h0M262.7 39.8h0M265.8 40.6h0M262.6 41.2h0M265.9 41.5h0M294.4 31.2h0M292.3 30.8h0M297.5 59.9h0M296.9 57.8h0M295.6 57.9h0M249.2 102.9h0M256.7 35.9h0M257.1 37.9h0M257.0 39.5h0M258.7 37.1h0M307.4 119.4h0M306.8 118.4h0M306.0 119.7h0M307.2 119.3h0M305.8 120.0h0M331.1 121.3h0M259.8 98.9h0M301.0 41.1h0M299.3 42.6h0M298.5 42.8h0M298.4 42.3h0M274.0 78.9h0M273.6 78.5h0M276.2 77.8h0M274.2 77.9h0M276.4 79.9h0M257.4 126.4h0M259.0 32.8h0M330.0 81.7h0M260.5 64.1h0M260.6 63.5h0M263.6 62.4h0M260.7 64.6h0M281.4 72.0h0M279.5 71.3h0M281.6 72.9h0M281.2 70.6h0M280.6 71.4h0M314.8 33.4h0M315.9 36.2h0M313.5 35.1h0M313.5 33.6h0M314.6 32.1h0M325.4 33.5h0M322.7 33.7h0M322.1 35.0h0M323.2 33.6h0M340.1 76.7h0M338.3 79.2h0M325.1 107.5h0M248.9 38.7h0M249.2 36.7h0M246.9 36.4h0M247.4 36.0h0M246.3 36.7h0M340.8 86.8h0M338.9 86.8h0M337.9 87.1h0M339.9 86.3h0M259.5 39.0h0M259.4 39.1h0M258.5 40.3h0M306.3 41.7h0M308.5 42.2h0M306.6 44.7h0M283.8 48.7h0M281.7 49.1h0M283.4 49.5h0M281.2 51.3h0M270.2 76.7h0M270.0 76.6h0M273.2 76.7h0M320.1 83.5h0M280.0 65.0h0M277.5 67.4h0M332.1 80.3h0M333.6 79.7h0M296.1 63.4h0M294.4 66.4h0M314.6 58.0h0M315.5 59.2h0M246.8 76.4h0M246.9 77.5h0M246.9 75.5h0M248.4 77.1h0M281.8 123.0h0M284.3 123.4h0M281.6 121.5h0M283.4 120.6h0M283.2 122.6h0M249.1 30.9h0M246.1 32.2h0M247.0 32.7h0M248.7 36.6h0M247.9 114.7h0M250.0 116.6h0M249.2 115.3h0M248.5 117.3h0M248.7 117.2h0M259.1 54.5h0M255.5 56.1h0M256.9 54.3h0M258.9 57.5h0M336.7 75.5h0M313.3 40.0h0M312.3 43.5h0M310.6 39.8h0M315.2 71.1h0M313.7 68.8h0M313.2 71.5h0M245.1 52.3h0M245.8 50.9h0M246.4 52.4h0M244.7 52.3h0M245.9 52.4h0M245.3 83.7h0M282.2 114.6h0M279.7 113.6h0M282.5 111.7h0M280.6 111.9h0M279.7 112.0h0M248.9 81.9h0M247.2 79.8h0M249.0 82.5h0M249.4 82.9h0M249.6 82.2h0M252.3 57.8h0M253.3 59.2h0M256.6 57.7h0M254.0 58.2h0M249.5 74.6h0M251.2 73.0h0M250.3 72.8h0M323.5 27.0h0M320.5 26.9h0M324.6 28.6h0M284.3 27.8h0M283.9 27.6h0M283.2 27.2h0M316.3 113.9h0M319.5 112.7h0M275.8 87.0h0M273.3 84.1h0M272.5 86.5h0M273.8 87.6h0M272.5 84.9h0M264.6 65.3h0M262.2 64.3h0M263.9 65.0h0M264.4 62.0h0M264.3 63.8h0M292.2 78.5h0M292.9 77.6h0M321.6 99.8h0M276.3 117.4h0M277.2 117.7h0M324.7 98.8h0M324.5 100.3h0M325.5 99.6h0M339.1 73.7h0M338.0 71.8h0M272.9 115.0h0M249.8 62.6h0M252.2 63.3h0M249.6 63.2h0M304.6 102.5h0M304.4 102.5h0M303.0 100.4h0M323.5 81.4h0" stroke="#b01c1c" stroke-width="1.2" stroke-linecap="round" fill="none"/>
<path d="M313.3 54.7h0M313.9 53.4h0M312.3 56.7h0M247.2 52.6h0M246.5 51.7h0M292.8 73.2h0M291.9 73.7h0M291.3 72.0h0M278.2 116.8h0M245.6 92.1h0M245.4 88.9h0M246.8 92.0h0M312.7 82.0h0M312.6 83.2h0M314.5 85.4h0M344.1 77.7h0M339.5 81.3h0M342.5 78.9h0M301.2 52.9h0M302.2 55.0h0M338.2 42.2h0M337.7 41.8h0M336.9 42.4h0M329.7 124.8h0M327.9 125.2h0M284.8 48.8h0M284.5 49.6h0M284.8 49.4h0M274.0 60.5h0M263.7 41.1h0M263.2 39.4h0M295.8 30.4h0M298.0 54.9h0M298.3 57.6h0M297.9 58.0h0M247.1 101.8h0M259.2 37.4h0M308.3 119.1h0M307.1 118.7h0M307.8 117.8h0M329.3 121.8h0M329.7 121.0h0M256.9 99.2h0M299.4 43.4h0M274.6 79.3h0M274.3 78.0h0M276.1 78.8h0M259.1 126.7h0M257.5 127.3h0M259.8 33.8h0M257.8 33.4h0M331.9 79.3h0M260.1 62.4h0M283.7 72.6h0M315.4 34.0h0M313.0 34.8h0M317.2 35.6h0M320.5 35.5h0M324.0 33.4h0M322.4 32.1h0M338.7 78.9h0M322.6 106.8h0M324.9 110.1h0M249.1 35.2h0M248.7 37.5h0M339.0 86.7h0M340.7 86.3h0M260.9 39.8h0M258.6 39.1h0M304.0 43.4h0M306.2 43.9h0M306.1 44.2h0M282.7 50.0h0M271.4 76.3h0M272.3 77.5h0M321.4 83.5h0M320.6 83.2h0M277.4 67.8h0M333.4 81.8h0M331.8 82.3h0M332.2 81.2h0M295.1 63.8h0M295.6 62.0h0M292.8 63.6h0M313.5 59.8h0M313.4 60.8h0M246.5 77.0h0M246.6 78.0h0M283.5 122.5h0M248.7 32.8h0M248.0 34.9h0M248.3 31.4h0M249.5 116.1h0M247.2 117.4h0M257.5 54.8h0M337.0 75.8h0M339.1 74.6h0M340.3 75.0h0M311.6 39.8h0M315.9 69.6h0M247.1 51.2h0M247.4 51.6h0M245.6 52.0h0M246.1 81.8h0M244.7 82.4h0M280.4 113.6h0M249.0 81.9h0M250.3 81.9h0M251.0 59.6h0M255.1 57.6h0M251.7 59.3h0M249.0 74.1h0M250.5 73.6h0M250.2 71.6h0M322.5 29.4h0M284.7 27.9h0M283.8 28.3h0M285.0 23.8h0M315.8 114.6h0M321.2 113.9h0M321.4 114.8h0M271.8 88.1h0M273.0 86.7h0M264.4 64.1h0M294.2 79.0h0M292.7 80.7h0M319.9 101.2h0M320.2 100.7h0M278.6 118.4h0M276.9 117.0h0M322.3 96.3h0M324.0 100.0h0M340.5 73.1h0M272.7 114.4h0M272.1 112.2h0M272.1 113.3h0M248.7 62.5h0M249.5 60.2h0M248.7 64.5h0M303.2 103.3h0M305.2 105.1h0M321.8 78.6h0" stroke="#e02828" stroke-width="1.4" stroke-linecap="round" fill="none"/>
</g></g>
<line x1="241.1" y1="26.5" x2="241.1" y2="128.2" stroke="#b0b0b0" stroke-width="0.8"/>
<rect x="328.9" y="122" width="9.6" height="1.6" fill="#ffffff"/>
<text x="135" y="54.8" font-size="6.6" text-anchor="middle" fill="#e0303c" textLength="15.5" lengthAdjust="spacingAndGlyphs" transform="rotate(-90 135 54.8)" stroke="#e0303c" stroke-width="0.12">LepR</text>
<text x="135.3" y="102.2" font-size="6.6" text-anchor="middle" fill="#8dc63f" textLength="32" lengthAdjust="spacingAndGlyphs" transform="rotate(-90 135.3 102.2)" stroke="#8dc63f" stroke-width="0.12">endomucin</text>
<line x1="379.7" y1="48.1" x2="379.7" y2="114.6" stroke="#231f20" stroke-width="1.4"/>
<line x1="376.7" y1="51.1" x2="379.7" y2="51.1" stroke="#231f20" stroke-width="1.0"/>
<text x="374.09999999999997" y="53.6" font-size="6.9" text-anchor="end" stroke="#231f20" stroke-width="0.12">15</text>
<line x1="376.7" y1="72.2" x2="379.7" y2="72.2" stroke="#231f20" stroke-width="1.0"/>
<text x="374.09999999999997" y="74.7" font-size="6.9" text-anchor="end" stroke="#231f20" stroke-width="0.12">10</text>
<line x1="376.7" y1="93.3" x2="379.7" y2="93.3" stroke="#231f20" stroke-width="1.0"/>
<text x="374.09999999999997" y="95.8" font-size="6.9" text-anchor="end" stroke="#231f20" stroke-width="0.12">5</text>
<line x1="379.2" y1="114.6" x2="409.3" y2="114.6" stroke="#231f20" stroke-width="1.5"/>
<rect x="385.6" y="79.5" width="9.4" height="33.3" fill="#e2eeee"/>
<rect x="395.8" y="87.1" width="9.0" height="25.7" fill="#efc580"/>
<line x1="390.8" y1="79.5" x2="390.8" y2="73.3" stroke="#231f20" stroke-width="1.15"/>
<line x1="389.1" y1="73.3" x2="392.5" y2="73.3" stroke="#231f20" stroke-width="1.15"/>
<line x1="400.3" y1="87.1" x2="400.3" y2="84.0" stroke="#231f20" stroke-width="1.15"/>
<line x1="398.6" y1="84.0" x2="402.0" y2="84.0" stroke="#231f20" stroke-width="1.15"/>
<text x="400.3" y="82.6" font-size="5.5" text-anchor="middle" stroke="#231f20" stroke-width="0.12">**</text>
<text x="361.3" y="81.6" font-size="8.4" text-anchor="middle" textLength="20.3" lengthAdjust="spacingAndGlyphs" transform="rotate(-90 361.3 81.6)" stroke="#231f20" stroke-width="0.12">% area</text>
<text x="394.5" y="124.6" font-size="6.6" text-anchor="middle" textLength="19" lengthAdjust="spacingAndGlyphs" stroke="#231f20" stroke-width="0.12">LepR+</text>
<line x1="446.8" y1="49.7" x2="446.8" y2="115" stroke="#231f20" stroke-width="1.4"/>
<line x1="443.8" y1="51.9" x2="446.8" y2="51.9" stroke="#231f20" stroke-width="1.0"/>
<text x="441.2" y="54.4" font-size="6.9" text-anchor="end" stroke="#231f20" stroke-width="0.12">20</text>
<line x1="443.8" y1="67.7" x2="446.8" y2="67.7" stroke="#231f20" stroke-width="1.0"/>
<text x="441.2" y="70.2" font-size="6.9" text-anchor="end" stroke="#231f20" stroke-width="0.12">15</text>
<line x1="443.8" y1="83.6" x2="446.8" y2="83.6" stroke="#231f20" stroke-width="1.0"/>
<text x="441.2" y="86.1" font-size="6.9" text-anchor="end" stroke="#231f20" stroke-width="0.12">10</text>
<line x1="443.8" y1="99.3" x2="446.8" y2="99.3" stroke="#231f20" stroke-width="1.0"/>
<text x="441.2" y="101.8" font-size="6.9" text-anchor="end" stroke="#231f20" stroke-width="0.12">5</text>
<line x1="446.2" y1="115" x2="471" y2="115" stroke="#231f20" stroke-width="1.5"/>
<line x1="455.8" y1="115" x2="455.8" y2="117.2" stroke="#231f20" stroke-width="0.9"/>
<line x1="465.4" y1="115" x2="465.4" y2="117.2" stroke="#231f20" stroke-width="0.9"/>
<rect x="451.2" y="78.6" width="9.2" height="34.2" fill="#e2eeee"/>
<rect x="461" y="85.8" width="9" height="27" fill="#efc580"/>
<line x1="455.8" y1="78.6" x2="455.8" y2="68.4" stroke="#231f20" stroke-width="1.15"/>
<line x1="454.1" y1="68.4" x2="457.5" y2="68.4" stroke="#231f20" stroke-width="1.15"/>
<line x1="465.4" y1="85.8" x2="465.4" y2="80.4" stroke="#231f20" stroke-width="1.15"/>
<line x1="463.7" y1="80.4" x2="467.09999999999997" y2="80.4" stroke="#231f20" stroke-width="1.15"/>
<text x="427.1" y="82.1" font-size="8.4" text-anchor="middle" textLength="20.3" lengthAdjust="spacingAndGlyphs" transform="rotate(-90 427.1 82.1)" stroke="#231f20" stroke-width="0.12">% area</text>
<text x="460.5" y="127.4" font-size="6.6" text-anchor="middle" textLength="37" lengthAdjust="spacingAndGlyphs" stroke="#231f20" stroke-width="0.12">endomucin+</text>
<rect x="478.2" y="31.5" width="4.9" height="4.9" fill="#e2eeee"/>
<rect x="478.2" y="42" width="4.9" height="4.9" fill="#efc580"/>
<text x="486" y="36.6" font-size="6.8" font-style="italic" textLength="14" lengthAdjust="spacingAndGlyphs" stroke="#231f20" stroke-width="0.12">Vc<tspan font-size="4.76" dy="-3.40">fl/fl</tspan></text>
<text x="486" y="47.2" font-size="6.8" font-style="italic" textLength="17.5" lengthAdjust="spacingAndGlyphs" stroke="#231f20" stroke-width="0.12">Vc<tspan font-size="4.76" dy="-3.40">iΔEC</tspan></text>
<text x="8" y="149" font-size="12.2" font-weight="bold" fill="#000" stroke="#000" stroke-width="0.12">C</text>
<line x1="57.3" y1="156" x2="57.3" y2="216.3" stroke="#231f20" stroke-width="1.4"/>
<line x1="54.3" y1="158.5" x2="57.3" y2="158.5" stroke="#231f20" stroke-width="1.0"/>
<text x="51.699999999999996" y="161.0" font-size="6.9" text-anchor="end" stroke="#231f20" stroke-width="0.12">0.4</text>
<line x1="54.3" y1="172.9" x2="57.3" y2="172.9" stroke="#231f20" stroke-width="1.0"/>
<text x="51.699999999999996" y="175.4" font-size="6.9" text-anchor="end" stroke="#231f20" stroke-width="0.12">0.3</text>
<line x1="54.3" y1="187.5" x2="57.3" y2="187.5" stroke="#231f20" stroke-width="1.0"/>
<text x="51.699999999999996" y="190.0" font-size="6.9" text-anchor="end" stroke="#231f20" stroke-width="0.12">0.2</text>
<line x1="54.3" y1="201.9" x2="57.3" y2="201.9" stroke="#231f20" stroke-width="1.0"/>
<text x="51.699999999999996" y="204.4" font-size="6.9" text-anchor="end" stroke="#231f20" stroke-width="0.12">0.1</text>
<line x1="56.8" y1="216.3" x2="86.2" y2="216.3" stroke="#231f20" stroke-width="1.5"/>
<rect x="62.3" y="181.5" width="9.2" height="33.6" fill="#e2eeee"/>
<rect x="71.9" y="188.3" width="9.5" height="26.8" fill="#efc580"/>
<line x1="67.3" y1="181.5" x2="67.3" y2="177.5" stroke="#231f20" stroke-width="1.15"/>
<line x1="65.6" y1="177.5" x2="69.0" y2="177.5" stroke="#231f20" stroke-width="1.15"/>
<line x1="76.8" y1="188.3" x2="76.8" y2="187.6" stroke="#231f20" stroke-width="1.15"/>
<line x1="75.1" y1="187.6" x2="78.5" y2="187.6" stroke="#231f20" stroke-width="1.15"/>
<text x="76.8" y="181" font-size="5.5" text-anchor="middle" stroke="#231f20" stroke-width="0.12">*</text>
<text x="26" y="185.5" font-size="8.4" text-anchor="middle" textLength="14.9" lengthAdjust="spacingAndGlyphs" transform="rotate(-90 26 185.5)" stroke="#231f20" stroke-width="0.12">Cells</text>
<text x="35.8" y="185.5" font-size="8.2" text-anchor="middle" transform="rotate(-90 35.8 185.5)" textLength="42.3" lengthAdjust="spacingAndGlyphs" stroke="#231f20" stroke-width="0.12">(femur, X10<tspan font-size="5" dy="-3.2">4</tspan><tspan dy="3.2">)</tspan></text>
<text x="71.5" y="226" font-size="6.6" text-anchor="middle" textLength="13" lengthAdjust="spacingAndGlyphs" stroke="#231f20" stroke-width="0.12">HSC</text>
<line x1="135.9" y1="153" x2="135.9" y2="213" stroke="#231f20" stroke-width="1.4"/>
<line x1="132.9" y1="156.2" x2="135.9" y2="156.2" stroke="#231f20" stroke-width="1.0"/>
<text x="130.3" y="158.7" font-size="6.9" text-anchor="end" stroke="#231f20" stroke-width="0.12">0.4</text>
<line x1="132.9" y1="170.3" x2="135.9" y2="170.3" stroke="#231f20" stroke-width="1.0"/>
<text x="130.3" y="172.8" font-size="6.9" text-anchor="end" stroke="#231f20" stroke-width="0.12">0.3</text>
<line x1="132.9" y1="184.5" x2="135.9" y2="184.5" stroke="#231f20" stroke-width="1.0"/>
<text x="130.3" y="187.0" font-size="6.9" text-anchor="end" stroke="#231f20" stroke-width="0.12">0.2</text>
<line x1="132.9" y1="198.6" x2="135.9" y2="198.6" stroke="#231f20" stroke-width="1.0"/>
<text x="130.3" y="201.1" font-size="6.9" text-anchor="end" stroke="#231f20" stroke-width="0.12">0.1</text>
<line x1="135.4" y1="213" x2="222" y2="213" stroke="#231f20" stroke-width="1.5"/>
<line x1="154" y1="213" x2="154" y2="215" stroke="#231f20" stroke-width="0.9"/>
<line x1="181" y1="213" x2="181" y2="215" stroke="#231f20" stroke-width="0.9"/>
<line x1="209.2" y1="213" x2="209.2" y2="215" stroke="#231f20" stroke-width="0.9"/>
<rect x="144.4" y="205.9" width="9.3" height="6.4" fill="#e2eeee"/>
<rect x="154" y="207" width="9" height="5.3" fill="#efc580"/>
<rect x="171.3" y="181.7" width="9.2" height="30.6" fill="#e2eeee"/>
<rect x="181" y="186.9" width="9.2" height="25.4" fill="#efc580"/>
<rect x="199.6" y="211.4" width="9.2" height="0.9" fill="#e2eeee"/>
<rect x="209.8" y="210.8" width="9.1" height="1.5" fill="#efc580"/>
<line x1="148.8" y1="205.9" x2="148.8" y2="201.4" stroke="#231f20" stroke-width="1.15"/>
<line x1="147.10000000000002" y1="201.4" x2="150.5" y2="201.4" stroke="#231f20" stroke-width="1.15"/>
<line x1="158.4" y1="207" x2="158.4" y2="203.2" stroke="#231f20" stroke-width="1.15"/>
<line x1="156.70000000000002" y1="203.2" x2="160.1" y2="203.2" stroke="#231f20" stroke-width="1.15"/>
<line x1="175.9" y1="181.7" x2="175.9" y2="168.5" stroke="#231f20" stroke-width="1.15"/>
<line x1="174.20000000000002" y1="168.5" x2="177.6" y2="168.5" stroke="#231f20" stroke-width="1.15"/>
<line x1="185.8" y1="186.9" x2="185.8" y2="174.6" stroke="#231f20" stroke-width="1.15"/>
<line x1="184.10000000000002" y1="174.6" x2="187.5" y2="174.6" stroke="#231f20" stroke-width="1.15"/>
<path d="M201.8 209.3 L204.8 209.3 L203.3 211.2 Z" fill="#231f20"/>
<path d="M212 208.4 L215 208.4 L213.5 210.4 Z" fill="#231f20"/>
<text x="103.8" y="183.6" font-size="8.4" text-anchor="middle" textLength="15.4" lengthAdjust="spacingAndGlyphs" transform="rotate(-90 103.8 183.6)" stroke="#231f20" stroke-width="0.12">Cells</text>
<text x="114.6" y="182.8" font-size="8.2" text-anchor="middle" transform="rotate(-90 114.6 182.8)" textLength="42.3" lengthAdjust="spacingAndGlyphs" stroke="#231f20" stroke-width="0.12">(femur, X10<tspan font-size="5" dy="-3.2">5</tspan><tspan dy="3.2">)</tspan></text>
<text x="154" y="225.4" font-size="6.6" text-anchor="middle" textLength="13.8" lengthAdjust="spacingAndGlyphs" stroke="#231f20" stroke-width="0.12">MPP</text>
<text x="181" y="225.4" font-size="6.6" text-anchor="middle" textLength="19.3" lengthAdjust="spacingAndGlyphs" stroke="#231f20" stroke-width="0.12">HPC-1</text>
<text x="209.2" y="225.4" font-size="6.6" text-anchor="middle" textLength="19.3" lengthAdjust="spacingAndGlyphs" stroke="#231f20" stroke-width="0.12">HPC-2</text>
<rect x="214.2" y="153.8" width="4.7" height="4.5" fill="#e2eeee"/>
<rect x="214.2" y="164.6" width="4.7" height="4.5" fill="#efc580"/>
<text x="222" y="158.1" font-size="6.8" font-style="italic" textLength="13.9" lengthAdjust="spacingAndGlyphs" stroke="#231f20" stroke-width="0.12">Vc<tspan font-size="4.76" dy="-3.40">fl/fl</tspan></text>
<text x="222" y="168.6" font-size="6.8" font-style="italic" textLength="17" lengthAdjust="spacingAndGlyphs" stroke="#231f20" stroke-width="0.12">Vc<tspan font-size="4.76" dy="-3.40">iΔEC</tspan></text>
<text x="255" y="148.5" font-size="12.2" font-weight="bold" fill="#000" stroke="#000" stroke-width="0.12">D</text>
<text x="314.3" y="161" font-size="6.8" text-anchor="middle" textLength="30.6" lengthAdjust="spacingAndGlyphs" stroke="#231f20" stroke-width="0.12">Alexa 647</text>
<text x="314.3" y="168.8" font-size="6.8" text-anchor="middle" textLength="36.6" lengthAdjust="spacingAndGlyphs" stroke="#231f20" stroke-width="0.12">VE-cadherin</text>
<text x="314.3" y="177" font-size="6.8" text-anchor="middle" textLength="32.8" lengthAdjust="spacingAndGlyphs" stroke="#231f20" stroke-width="0.12">labeling i.v</text>
<text x="281.8" y="177.6" font-size="6.8" textLength="10.2" lengthAdjust="spacingAndGlyphs" stroke="#231f20" stroke-width="0.12">WT</text>
<text x="281.8" y="192.4" font-size="7" font-style="italic" textLength="14.4" lengthAdjust="spacingAndGlyphs" stroke="#231f20" stroke-width="0.12">Vc<tspan font-size="4.90" dy="-3.50">fl/fl</tspan></text>
<text x="281.8" y="207.2" font-size="7" font-style="italic" textLength="17.1" lengthAdjust="spacingAndGlyphs" stroke="#231f20" stroke-width="0.12">Vc<tspan font-size="4.90" dy="-3.50">iΔEC</tspan></text>
<path d="M308.77 191.09L308.32 190.26L308.10 189.47L307.99 188.68L307.97 187.88L308.02 187.09L308.15 186.29L308.35 185.49L308.61 184.69L309.12 184.15L309.86 183.93L310.60 183.76L311.34 183.65L312.07 183.58L312.80 183.56L313.52 183.59L314.22 183.66L314.90 183.79L315.56 183.97L316.20 184.19L316.81 184.47L317.38 184.80L317.92 185.19L318.40 185.75L318.40 185.75L317.90 185.71L317.39 185.70L316.88 185.71L316.37 185.76L315.86 185.82L315.36 185.92L314.87 186.04L314.38 186.19L313.90 186.36L313.43 186.56L312.97 186.78L312.52 187.03L312.09 187.30L311.68 187.59L311.27 187.91L310.89 188.24L310.52 188.60L310.18 188.97L309.85 189.37L309.55 189.78L309.27 190.20L309.01 190.64L308.77 191.09Z" fill="#d01c24"/>
<path d="M322.49 187.16L323.23 187.04L323.92 187.09L324.59 187.22L325.25 187.41L325.91 187.66L326.55 187.97L327.17 188.34L327.78 188.75L328.36 189.21L328.91 189.73L329.44 190.28L329.94 190.89L330.11 191.61L330.01 192.40L329.86 193.16L329.65 193.90L329.40 194.61L329.09 195.28L328.73 195.92L328.32 196.51L327.86 197.06L327.32 197.55L326.63 197.95L326.63 197.95L326.76 197.42L326.87 196.90L326.94 196.36L326.99 195.82L327.00 195.29L326.98 194.75L326.94 194.21L326.86 193.68L326.76 193.15L326.62 192.63L326.46 192.11L326.26 191.61L326.04 191.12L325.79 190.64L325.52 190.18L325.22 189.73L324.89 189.30L324.54 188.89L324.17 188.50L323.78 188.13L323.37 187.78L322.94 187.46L322.49 187.16Z" fill="#d01c24"/>
<path d="M320.05 204.53L319.64 205.08L319.15 205.51L318.63 205.88L318.06 206.20L317.47 206.47L316.85 206.71L316.20 206.90L315.53 207.05L314.84 207.15L314.14 207.20L313.43 207.21L312.71 207.18L311.98 207.09L311.24 206.96L310.77 206.36L310.36 205.70L310.01 205.03L309.72 204.34L309.49 203.64L309.33 202.93L309.25 202.21L309.25 201.47L309.44 200.67L309.44 200.67L309.75 201.09L310.07 201.50L310.42 201.89L310.79 202.27L311.18 202.62L311.59 202.94L312.02 203.25L312.46 203.53L312.92 203.79L313.39 204.02L313.87 204.23L314.36 204.41L314.87 204.56L315.38 204.68L315.89 204.78L316.41 204.85L316.93 204.89L317.46 204.90L317.98 204.88L318.50 204.84L319.02 204.76L319.54 204.66L320.05 204.53Z" fill="#d01c24"/>
<circle cx="317.4" cy="195.3" r="9.2" fill="#fff" stroke="#3a7cc8" stroke-width="2.5"/>
<circle cx="317.4" cy="195.3" r="8.8" fill="none" stroke="#a8cdf0" stroke-width="0.8" stroke-dasharray="4 2.5"/>
<circle cx="317.4" cy="195.3" r="10.3" fill="none" stroke="#1e5aa8" stroke-width="0.5" stroke-dasharray="5 3"/>
<circle cx="311.20" cy="185.30" r="1.00" fill="#f4c418"/>
<circle cx="312.90" cy="206.10" r="1.00" fill="#f4c418"/>
<text x="315.1" y="197.8" font-size="6.8" text-anchor="middle" textLength="11.2" lengthAdjust="spacingAndGlyphs" stroke="#231f20" stroke-width="0.12">ECs</text>
<line x1="331.9" y1="194.4" x2="354.7" y2="194.4" stroke="#231f20" stroke-width="1.4"/>
<path d="M358.2 194.4 L352.90 192.00 L354.20 194.4 L352.90 196.80 Z" fill="#231f20"/>
<line x1="405.2" y1="194.8" x2="419.1" y2="194.8" stroke="#231f20" stroke-width="1.4"/>
<path d="M422.6 194.8 L417.30 192.40 L418.60 194.8 L417.30 197.20 Z" fill="#231f20"/>
<line x1="459" y1="195.1" x2="473.5" y2="195.1" stroke="#231f20" stroke-width="1.4"/>
<path d="M477 195.1 L471.70 192.70 L473.00 195.1 L471.70 197.50 Z" fill="#231f20"/>
<text x="328" y="203.8" font-size="6.8" textLength="28.6" lengthAdjust="spacingAndGlyphs" stroke="#231f20" stroke-width="0.12">Digestion</text>
<text x="362" y="181" font-size="6.8" textLength="28" lengthAdjust="spacingAndGlyphs" stroke="#231f20" stroke-width="0.12">Antibody</text>
<text x="362" y="189" font-size="6.8" textLength="24.6" lengthAdjust="spacingAndGlyphs" stroke="#231f20" stroke-width="0.12">labeling</text>
<text x="362" y="197" font-size="6.8" textLength="40.6" lengthAdjust="spacingAndGlyphs" stroke="#231f20" stroke-width="0.12">LepR,Ter119,</text>
<text x="362" y="205" font-size="6.8" textLength="33.6" lengthAdjust="spacingAndGlyphs" stroke="#231f20" stroke-width="0.12">CD45,DAPI</text>
<text x="425.5" y="188.5" font-size="6.8" textLength="39" lengthAdjust="spacingAndGlyphs" stroke="#231f20" stroke-width="0.12">EC and LepR</text>
<text x="425.5" y="196.1" font-size="6.8" textLength="11.5" lengthAdjust="spacingAndGlyphs" stroke="#231f20" stroke-width="0.12">cell</text>
<text x="425.5" y="203.7" font-size="6.8" textLength="26" lengthAdjust="spacingAndGlyphs" stroke="#231f20" stroke-width="0.12">isolation</text>
<text x="478.7" y="197.1" font-size="6.8" textLength="33.4" lengthAdjust="spacingAndGlyphs" stroke="#231f20" stroke-width="0.12">scRNA-seq</text>
<g transform="translate(262.1 183.2) scale(1.0)" fill="none" stroke="#231f20" stroke-linecap="round">
<path stroke-width="0.75" d="M0 0 C1.5 -0.8 3.5 -1.8 5.5 -1.8 C8 -1.8 11 -0.5 13.3 1.4"/>
<path stroke-width="0.6" d="M3.9 7.9 C4.2 5.5 6 3.5 8.3 2.8 C12 1.8 16.5 3.5 18.3 6.4 C19.5 8.5 19.3 12.5 16.9 15.1"/>
<path stroke-width="0.6" d="M3.6 9.8 C3 12 3.5 14.5 5.4 16.8 C7.5 19 10 19.8 12.5 19.2 C14.5 18.5 16 17 16.9 15.1"/>
<path stroke-width="1.5" d="M3.9 9.4 C4.6 7.4 8 7.1 9.3 9.1 M13.3 11.9 C14 10 17.4 10 18.1 12.9"/>
<circle cx="7.5" cy="15.1" r="0.65" fill="#231f20" stroke="none"/><circle cx="11.5" cy="16.1" r="0.65" fill="#231f20" stroke="none"/>
<path stroke-width="0.35" stroke="#888" d="M5 16.5 L2.5 17.5 M5.2 17.3 L3.2 19 M12.5 18.8 L14.5 20.5 M11.8 19.2 L13 21"/>
</g>
<text x="8.75" y="247.5" font-size="12.2" font-weight="bold" fill="#000" stroke="#000" stroke-width="0.12">E</text>
<path d="M50.4 282.0L51.0 272.0L55.8 265.8L63.0 261.3L73.7 262.2L80.9 267.6L83.6 276.6L81.8 284.6L75.5 290.0L72.8 296.3L73.7 308.9L74.6 323.3L76.4 339.4L72.0 330.4L66.6 314.3L62.0 301.7L57.6 292.7L52.2 288.2Z" fill="#d6b678"/>
<path d="M104.3 292.7L107.9 285.5L114.2 280.1L122.2 278.4L126.7 285.5L129.1 296.3L125.8 308.9L120.4 315.2L114.2 314.3L109.7 317.0L108.8 316.0L113.3 308.9L108.8 299.9Z" fill="#d8d0bc" opacity="0.8"/>
<path d="M70.8 317.1h0M71.5 285.4h0M67.4 297.5h0M73.1 319.8h0M58.6 293.2h0M67.5 293.6h0M61.5 286.5h0M80.7 268.4h0M51.5 284.2h0M64.4 296.8h0M73.4 265.3h0M74.3 323.9h0M70.3 290.9h0M59.9 272.8h0M54.8 277.8h0M65.7 266.2h0M75.9 333.6h0M70.7 301.0h0M55.5 288.4h0M58.0 287.8h0M68.7 268.4h0M77.6 269.3h0M76.6 271.4h0M57.5 290.6h0M66.9 307.1h0M71.1 290.9h0M57.0 279.8h0M69.1 281.4h0M50.9 282.1h0M65.7 291.2h0M57.7 276.3h0M62.9 295.6h0M71.6 326.4h0M61.7 263.9h0M69.0 276.8h0M68.8 288.7h0M78.1 284.0h0M72.1 298.7h0M72.4 319.1h0M62.7 297.5h0M69.4 297.8h0M50.7 280.4h0M69.0 289.2h0M65.3 264.8h0M64.3 267.4h0M71.3 274.2h0M68.1 270.3h0M67.0 297.0h0M54.8 267.8h0M50.9 274.5h0M64.0 280.4h0M75.0 267.9h0M80.7 274.5h0M63.5 268.8h0M75.8 289.2h0M61.9 301.4h0M67.3 306.1h0M56.6 266.5h0M71.1 261.7h0M81.4 280.6h0M63.5 274.0h0M73.1 329.8h0M82.0 283.2h0M73.5 321.1h0M74.1 277.5h0M54.6 280.9h0M66.5 300.6h0M66.6 264.8h0M63.2 278.4h0M81.9 274.4h0M66.2 306.8h0M63.2 261.1h0M63.3 274.7h0M57.6 280.3h0M65.8 268.5h0M75.1 268.8h0M64.6 262.1h0M72.9 264.9h0M70.4 276.3h0M56.8 275.8h0M53.2 271.3h0M69.4 293.4h0M62.0 295.8h0M69.9 297.3h0M62.7 270.2h0M62.8 297.5h0M69.0 302.6h0M76.3 281.7h0M61.6 280.7h0M72.8 279.9h0M63.7 264.3h0M74.0 325.4h0M64.7 288.1h0M57.6 276.8h0M73.8 285.3h0M79.2 266.0h0M59.8 274.9h0M70.2 320.8h0M59.9 297.9h0M62.9 278.5h0M56.7 280.4h0M71.2 288.0h0M55.1 268.4h0M74.7 319.2h0M81.7 271.0h0M62.7 303.6h0M61.2 291.7h0M66.4 311.1h0M74.8 285.4h0M63.1 287.9h0M78.2 278.7h0M65.2 294.9h0M71.8 326.8h0M67.9 281.8h0M67.1 279.5h0M65.6 299.1h0M57.8 274.5h0M60.1 269.8h0M75.3 270.7h0M73.6 302.4h0M78.8 285.0h0M81.8 273.7h0M54.5 286.8h0M61.8 275.4h0M71.7 322.7h0M65.3 263.7h0M62.6 275.1h0M68.3 310.2h0M52.0 284.2h0M69.8 308.7h0M66.1 298.4h0M70.1 320.0h0M73.4 279.0h0M72.2 262.1h0M73.3 270.1h0M81.7 282.5h0M73.9 311.6h0M65.1 261.7h0M66.3 273.6h0M65.8 292.7h0M71.4 286.1h0M61.4 264.3h0M76.0 282.9h0M76.4 277.2h0M69.0 263.8h0M67.0 263.8h0M72.1 304.6h0M75.7 264.0h0M70.3 300.6h0M76.7 276.0h0M65.7 269.8h0M71.0 313.4h0M66.2 271.9h0M58.2 283.8h0M56.0 281.8h0M73.8 332.5h0M52.6 278.4h0M55.7 275.0h0M70.2 297.5h0M74.3 314.1h0M70.8 263.8h0M59.8 287.7h0M54.2 286.9h0M75.1 326.5h0M76.4 277.5h0M70.8 306.5h0M79.6 274.9h0M74.5 315.9h0M53.1 281.0h0M68.4 278.9h0M52.5 280.5h0M68.5 262.7h0M68.6 305.3h0M66.3 286.0h0M56.5 265.3h0M58.6 267.5h0M74.3 290.9h0M59.8 272.5h0M62.0 296.1h0M75.6 330.6h0M80.6 278.9h0M79.9 281.1h0M80.1 269.1h0M70.0 276.0h0M62.9 271.2h0M76.9 272.9h0M78.1 276.1h0M78.7 284.6h0M62.4 282.5h0M68.4 314.2h0M60.8 277.1h0M70.1 319.7h0M63.0 304.0h0M54.7 287.8h0M51.9 277.7h0M76.8 286.7h0M65.9 272.2h0M69.6 307.2h0M68.4 289.7h0M73.0 288.0h0M69.9 301.3h0M60.9 266.5h0M65.2 290.4h0M69.5 267.5h0M73.3 315.5h0M53.1 279.3h0M71.1 323.4h0M70.6 309.2h0M70.2 309.2h0M57.8 288.1h0M60.6 293.3h0M71.0 319.4h0M52.1 270.3h0M70.6 264.5h0M67.6 271.0h0M71.6 310.1h0M73.6 323.1h0M69.3 284.3h0M78.1 268.5h0M68.4 265.3h0M75.6 283.6h0M72.5 299.7h0M71.9 326.4h0M58.4 275.8h0M66.2 282.7h0M67.8 289.9h0M82.5 272.0h0M76.5 264.9h0M73.7 276.0h0M72.0 284.1h0M60.3 284.6h0M56.5 283.9h0M60.5 280.6h0M78.3 276.8h0M82.0 283.3h0M68.7 303.8h0M73.8 310.3h0M63.6 286.1h0M61.6 263.5h0M73.8 282.7h0M63.7 282.2h0M56.9 279.2h0M74.4 330.3h0M69.7 294.4h0M51.5 271.2h0M63.9 294.9h0M76.5 267.4h0M75.8 264.0h0M64.0 279.0h0M79.8 268.7h0M73.9 281.3h0M73.4 302.8h0M66.5 294.9h0M73.7 286.1h0M65.4 305.9h0M78.3 270.0h0M51.7 287.4h0M59.0 267.6h0M51.4 282.0h0M80.9 275.4h0M61.7 273.3h0M72.4 321.5h0M73.6 273.2h0M76.4 264.7h0M75.9 280.0h0M79.4 280.2h0M68.0 297.9h0M57.1 291.3h0M65.6 283.2h0M71.0 304.9h0M65.7 293.7h0M63.0 270.5h0M62.6 291.8h0M61.6 298.6h0M64.4 292.1h0M61.8 280.2h0M77.3 277.5h0M67.4 314.0h0M58.2 286.4h0M57.2 267.2h0M58.6 269.2h0M61.4 266.2h0M75.4 338.1h0M78.9 266.2h0M71.8 284.4h0M67.7 275.0h0M63.1 263.6h0M70.8 311.5h0M71.0 318.9h0M72.6 300.1h0M71.3 315.7h0M70.1 270.5h0M58.8 287.0h0M76.7 279.8h0M73.6 322.9h0M69.1 271.0h0M70.6 325.7h0M55.5 274.2h0M83.5 275.6h0M57.7 274.1h0M72.8 277.3h0M66.6 304.4h0M74.5 274.0h0M55.1 274.8h0M82.5 281.0h0M52.8 286.0h0M62.2 280.5h0M72.7 311.9h0M53.7 281.6h0M72.5 287.7h0M71.6 330.2h0M74.9 292.1h0M72.0 261.9h0M59.5 293.7h0M76.1 264.8h0M82.3 284.2h0M74.1 328.1h0M64.2 300.3h0M68.9 281.9h0M70.3 318.5h0M72.8 272.8h0M68.6 268.5h0M59.9 271.2h0M70.8 285.7h0M74.1 320.5h0M72.5 305.5h0M61.6 298.4h0M74.9 267.0h0M74.3 331.5h0M63.6 263.5h0M67.6 304.5h0M74.5 276.9h0M72.5 329.8h0M68.6 285.7h0M57.4 285.7h0M72.0 273.3h0M76.2 276.0h0M65.6 306.1h0M68.6 295.2h0M57.8 280.4h0M68.4 268.2h0M66.3 308.9h0M66.3 291.2h0M74.0 270.6h0M51.0 285.0h0M71.9 272.9h0M68.8 316.8h0M81.4 272.7h0M54.8 274.1h0M70.2 302.5h0M53.1 283.5h0M77.8 285.6h0M76.6 286.2h0M63.6 279.1h0M65.3 299.9h0M73.5 281.0h0M72.7 287.2h0M72.0 312.6h0M78.0 288.0h0M77.1 264.2h0M64.0 272.8h0M76.2 281.5h0M57.1 289.8h0M63.1 287.9h0M65.0 283.9h0M71.1 296.0h0M75.4 274.8h0M59.4 267.4h0M66.4 262.3h0M70.2 269.7h0M60.3 290.9h0M82.7 274.8h0M71.3 274.8h0M82.2 273.1h0M77.2 284.8h0M56.6 290.5h0M54.9 285.9h0M60.2 266.9h0M65.9 309.0h0M70.9 318.0h0M71.5 299.7h0M66.9 307.5h0M71.6 270.3h0M79.9 269.3h0M79.2 277.7h0M73.0 312.0h0M71.7 330.4h0M73.0 307.1h0M65.2 290.1h0M75.8 265.1h0M50.3 282.4h0M73.2 319.8h0M66.2 265.7h0M71.3 306.7h0M78.2 271.0h0M62.5 265.6h0M72.8 278.7h0M80.6 269.2h0M71.0 290.3h0M79.6 280.7h0M63.2 269.9h0M71.3 304.4h0M73.0 313.2h0M70.3 323.6h0M54.1 268.4h0M61.5 300.2h0M65.2 277.9h0M69.7 275.3h0M65.7 301.5h0M73.1 329.7h0M71.1 310.9h0M73.5 313.5h0M56.7 267.5h0M78.3 277.4h0M59.6 292.7h0M72.5 303.2h0M71.8 262.6h0M68.0 285.5h0M61.5 299.0h0M74.7 324.4h0M57.2 272.7h0M59.2 287.2h0M70.4 314.7h0M74.0 315.8h0M73.7 263.2h0M69.5 286.5h0M65.1 269.8h0M62.0 268.1h0M54.8 274.5h0M78.8 274.8h0M58.8 264.2h0M76.0 334.9h0M60.3 281.8h0M79.8 278.1h0M67.3 290.8h0M60.7 281.7h0M67.3 266.0h0M67.9 283.2h0M72.4 316.8h0M61.2 278.5h0M77.4 265.9h0M81.8 272.7h0M75.2 287.4h0M71.5 273.6h0M75.3 272.4h0M67.6 268.1h0M54.2 268.8h0M73.9 331.5h0M66.0 294.5h0M64.6 295.0h0M68.1 315.0h0M80.2 284.9h0M63.8 285.4h0M59.4 285.8h0M60.9 265.7h0M70.6 280.2h0M54.9 268.9h0M68.2 312.1h0M74.8 324.4h0M71.6 326.0h0M73.5 264.0h0M52.8 273.8h0M58.2 269.3h0M62.6 276.8h0M55.3 288.7h0M63.9 285.3h0M71.4 318.0h0M66.7 314.4h0M72.4 267.0h0M60.4 291.9h0M69.0 311.2h0M59.1 283.1h0M69.6 266.3h0M78.2 270.3h0M69.2 294.2h0M63.7 304.8h0M58.0 271.8h0M62.1 262.9h0M77.7 265.2h0M73.5 314.8h0M55.5 270.4h0M57.7 291.9h0M67.7 273.1h0M66.9 275.0h0M69.8 271.3h0M69.6 296.2h0M76.6 286.8h0M52.7 288.8h0M73.6 262.3h0M73.9 313.1h0M70.9 324.1h0M54.0 287.1h0M70.4 295.6h0M73.1 328.6h0M74.9 290.8h0M71.8 289.5h0M72.1 295.6h0M55.2 273.3h0M73.3 268.1h0M72.1 322.5h0M69.6 317.1h0M74.1 313.4h0M72.1 293.3h0M78.4 285.4h0M66.2 306.1h0M54.1 269.3h0M65.2 261.9h0M68.3 264.3h0M64.7 271.8h0M81.4 270.1h0M52.0 277.0h0M75.9 278.9h0M55.0 275.5h0M65.0 280.9h0M77.0 270.2h0M50.8 281.9h0M68.1 291.0h0M53.0 275.9h0M73.8 280.6h0M71.2 282.8h0M71.7 320.6h0M68.1 298.8h0M66.7 262.8h0M60.5 275.2h0M63.6 275.5h0M66.9 267.5h0M60.3 294.8h0M72.6 322.3h0M73.7 268.8h0M65.7 310.4h0M65.6 268.9h0M68.6 297.0h0M74.0 331.6h0M59.6 285.6h0M59.5 293.5h0M67.6 302.9h0M63.0 283.0h0M69.6 284.9h0M64.6 286.3h0M68.2 315.9h0M60.8 295.5h0M68.2 295.9h0M57.8 283.7h0M71.9 279.4h0M69.0 295.0h0M54.0 289.6h0M67.9 288.4h0M60.7 297.0h0M52.9 285.4h0M59.9 265.4h0M62.7 287.5h0M55.3 269.1h0M62.5 266.5h0M55.6 280.3h0M62.9 272.1h0M70.6 324.3h0M64.5 276.4h0M60.3 265.2h0M70.7 302.6h0M82.9 277.8h0M65.6 299.0h0M63.8 291.1h0M73.1 330.3h0M63.6 306.9h0M65.8 305.4h0M71.9 298.7h0M74.6 273.1h0M60.8 264.8h0M59.4 295.5h0M70.9 277.9h0M62.6 300.8h0M66.0 279.9h0M67.5 310.0h0M68.9 280.6h0M59.5 276.6h0M55.5 278.2h0M65.2 274.9h0M61.3 294.6h0M70.2 292.1h0M69.5 306.6h0M80.6 270.8h0M53.4 275.8h0M74.5 325.8h0M73.8 265.8h0M58.9 278.4h0M69.3 276.0h0M74.4 262.3h0M67.7 262.5h0M74.3 315.0h0M65.0 269.5h0M63.5 266.9h0M65.4 285.2h0M64.9 275.6h0M76.1 265.4h0M73.5 284.0h0M81.2 273.4h0M52.7 283.2h0M68.2 300.6h0M78.4 281.5h0M65.7 269.9h0M66.6 314.8h0M69.7 268.0h0M63.1 287.5h0M73.0 312.3h0M67.4 288.7h0M59.9 278.1h0M75.5 287.0h0M63.4 298.9h0M65.7 271.6h0M70.2 294.9h0M62.3 281.5h0M58.3 281.2h0M70.8 283.8h0M72.5 329.6h0M56.9 278.0h0M74.5 290.2h0M66.1 287.3h0M70.6 268.8h0M69.2 314.0h0M64.1 274.0h0M53.6 283.4h0M83.2 274.6h0M69.6 306.2h0M56.0 266.9h0M64.1 286.2h0M55.7 265.6h0M67.6 268.8h0M62.2 292.5h0M68.3 304.2h0M68.3 280.8h0M70.0 264.2h0M56.8 273.0h0M73.8 315.5h0M62.3 261.9h0M81.5 278.2h0M71.8 268.2h0M81.7 273.1h0M70.8 322.8h0M78.5 268.6h0M62.2 262.5h0M56.0 276.4h0M62.9 296.1h0M66.5 284.4h0M66.2 280.4h0M75.3 275.4h0M57.9 293.5h0M71.5 291.6h0M73.6 272.1h0M76.9 280.2h0M76.1 334.4h0M74.0 273.4h0M75.5 275.6h0M62.1 268.3h0M67.1 269.1h0M62.0 280.9h0M70.7 327.6h0M54.2 269.3h0M53.1 283.6h0M67.3 289.4h0M73.8 313.9h0M71.5 297.8h0M62.7 294.2h0M56.3 267.6h0M53.1 280.2h0M70.9 268.0h0M65.4 266.5h0M71.2 316.3h0M74.7 280.4h0M74.8 268.7h0M52.7 281.0h0M60.3 293.3h0M71.3 301.4h0M60.4 286.7h0M80.9 275.6h0M73.0 262.0h0M62.7 276.6h0M57.3 284.3h0M62.7 271.6h0M67.8 311.1h0M52.6 280.4h0M78.0 286.8h0M63.0 287.2h0M69.1 316.7h0M65.8 274.6h0M78.7 266.7h0M70.4 283.2h0M54.7 274.6h0M68.3 272.6h0M72.2 274.2h0M69.6 269.7h0M50.8 277.2h0M67.6 266.2h0M61.7 269.2h0M70.3 320.1h0M55.1 274.8h0M66.5 268.2h0M60.0 269.0h0M52.6 279.7h0M57.0 270.1h0M73.5 290.8h0M60.0 290.0h0M57.9 288.9h0M72.8 311.0h0M71.6 291.7h0M73.9 266.6h0M76.6 280.3h0M82.4 281.0h0M77.2 288.3h0M56.2 277.1h0M70.7 275.8h0M61.3 275.7h0M81.1 277.1h0M78.8 278.4h0M57.0 286.1h0M74.7 327.4h0M70.8 311.4h0M67.1 313.8h0M72.0 298.0h0M62.4 267.9h0M72.6 327.6h0M53.4 274.5h0M74.3 269.6h0M68.2 296.0h0M77.7 276.9h0M74.4 285.5h0M72.4 281.5h0M70.4 277.6h0M57.1 270.3h0M77.9 264.9h0M70.0 308.7h0M71.5 302.2h0M52.9 286.6h0M74.2 329.8h0M66.7 314.4h0M75.2 336.0h0M70.0 308.1h0M60.7 296.6h0M65.4 305.7h0M68.5 268.0h0M68.9 288.8h0M68.8 280.4h0M71.6 313.0h0M69.9 309.9h0M57.3 287.2h0M76.8 278.7h0M55.8 269.5h0M67.9 274.9h0M70.8 296.0h0M64.6 297.7h0M80.5 268.9h0M67.0 276.4h0M67.9 304.5h0M62.4 293.9h0M66.2 291.7h0M55.1 270.9h0M73.0 297.4h0M77.1 265.9h0M82.1 277.8h0M54.3 274.5h0M71.7 284.3h0M66.6 297.9h0M74.8 266.4h0M70.3 321.6h0M70.4 288.6h0M60.8 268.8h0M73.7 267.5h0M68.0 294.7h0M79.2 272.2h0M66.6 283.3h0M70.8 271.1h0M72.7 262.6h0M57.9 291.1h0M73.3 321.5h0M71.5 299.4h0M62.8 286.4h0M69.0 320.2h0M72.1 316.8h0M62.2 296.5h0M82.2 283.9h0M61.8 271.7h0M56.7 268.8h0M71.8 265.3h0M66.8 303.5h0M58.9 268.5h0M62.4 303.7h0M54.3 276.7h0M77.1 269.7h0M63.5 278.9h0M63.5 287.0h0M58.7 275.5h0M72.6 323.3h0M75.6 290.6h0M77.5 273.8h0M62.7 286.8h0M69.2 291.5h0M63.1 302.0h0M77.1 269.5h0M79.9 283.7h0M69.8 315.8h0M61.2 295.8h0M56.2 274.2h0M73.5 286.9h0M53.7 279.0h0M82.1 271.4h0M67.8 311.9h0M70.2 301.8h0M68.5 297.0h0M58.4 270.0h0M64.8 263.6h0M55.6 289.8h0M68.3 267.5h0M77.3 264.8h0M59.1 295.3h0M72.3 305.4h0M66.6 294.7h0M62.7 261.9h0M81.2 279.9h0M72.3 327.0h0M76.3 276.6h0M73.0 292.8h0M69.5 300.9h0M61.6 263.6h0M65.5 304.9h0M59.2 265.9h0M57.4 274.9h0M61.7 267.4h0M60.0 281.9h0M70.0 307.2h0M60.5 263.4h0M57.4 267.3h0M74.0 321.4h0M64.3 272.0h0M66.5 294.1h0M53.7 272.5h0M59.4 273.8h0M74.6 281.4h0M65.5 265.3h0M74.8 274.3h0M82.5 274.2h0M61.7 267.4h0M70.1 267.5h0M62.4 297.6h0M54.3 282.8h0M72.1 267.4h0M62.6 299.8h0M73.4 288.6h0M77.8 273.7h0M63.2 294.1h0M59.9 265.3h0M65.2 283.0h0M72.4 301.2h0M63.2 286.0h0M65.6 262.3h0M68.8 315.6h0M66.2 296.7h0M73.7 323.5h0M82.5 275.0h0M68.1 263.8h0M77.8 288.1h0M67.4 267.9h0M71.0 327.7h0M62.7 264.0h0M66.7 282.7h0M63.6 279.8h0M69.0 277.0h0M54.7 285.2h0M64.5 277.3h0M76.7 275.4h0M77.7 287.5h0M67.2 301.1h0M64.8 286.1h0M72.9 294.7h0M68.0 307.2h0M63.1 296.1h0M74.2 322.1h0M75.9 275.3h0M71.8 307.8h0M51.1 281.8h0M68.7 283.5h0M64.3 283.8h0M73.2 279.5h0M74.0 307.6h0M83.0 280.1h0M76.0 335.3h0M71.2 294.0h0M70.5 315.5h0M71.7 280.9h0M55.1 280.0h0M66.2 269.2h0M62.0 293.3h0M73.0 301.6h0M71.2 282.9h0M73.4 289.8h0M59.0 278.9h0M51.3 285.3h0M55.8 277.0h0M60.4 275.3h0M62.8 294.4h0M75.9 336.0h0M70.2 263.5h0M63.9 285.2h0M58.4 282.0h0M64.6 288.1h0M64.4 289.6h0M59.5 284.8h0M66.1 273.5h0M71.8 287.8h0M65.3 304.7h0M59.0 271.3h0M68.7 294.6h0M67.6 313.5h0M72.2 299.5h0M74.0 322.8h0M73.7 305.2h0M59.3 279.3h0M76.1 272.3h0M70.3 288.9h0M74.6 271.6h0M70.3 317.6h0M60.2 283.5h0M71.1 293.5h0M60.8 269.7h0M55.1 288.3h0M71.5 326.2h0M73.6 319.8h0M54.8 281.3h0M69.3 291.8h0M65.0 309.2h0M54.9 287.9h0M74.0 289.5h0M60.9 284.5h0M75.4 278.6h0M72.0 319.3h0M63.0 303.9h0M83.0 279.5h0M51.6 276.3h0M68.2 298.1h0M64.4 285.5h0M69.6 303.8h0M72.6 326.1h0M70.6 268.4h0M68.9 299.3h0M81.7 269.0h0M72.9 333.2h0M54.4 281.1h0M73.2 323.3h0M67.2 268.2h0M65.6 279.5h0M75.3 266.4h0M67.9 266.9h0M63.9 268.3h0M72.5 285.8h0M67.8 290.8h0M58.8 290.7h0M67.5 273.0h0M79.0 272.8h0M62.3 289.0h0M58.7 275.7h0M61.3 287.5h0M70.5 318.7h0M73.2 296.6h0M71.7 326.6h0M65.7 306.6h0M55.0 280.9h0M82.5 276.2h0M69.3 317.5h0M74.0 333.9h0M54.1 287.3h0M77.1 283.2h0M55.8 285.7h0M71.1 312.5h0M83.5 278.4h0M59.2 292.6h0M74.0 322.7h0M59.1 274.7h0M67.4 309.1h0M69.3 317.6h0M70.1 275.3h0M68.9 295.7h0M56.2 267.3h0M62.8 294.9h0M71.0 269.1h0M65.2 278.8h0M66.1 300.0h0M64.0 300.2h0M69.3 313.7h0M66.1 281.8h0M58.1 291.0h0M55.5 287.5h0M72.2 266.5h0M62.3 281.0h0M71.0 282.8h0M72.8 314.6h0M63.9 280.5h0M58.8 295.4h0M82.7 275.6h0M62.1 277.9h0M69.2 290.8h0M77.9 281.9h0M64.1 276.0h0M72.0 301.9h0M79.0 286.9h0M77.8 279.9h0M60.6 269.6h0M74.3 271.7h0M58.1 285.9h0M68.7 315.3h0M73.4 273.0h0M73.8 275.6h0M71.0 267.4h0M68.9 300.9h0M75.3 271.8h0M56.4 279.4h0M66.1 305.0h0M56.9 287.8h0M61.6 283.7h0M59.6 276.7h0M52.3 286.2h0M63.4 267.9h0M71.7 266.2h0M76.0 277.5h0M57.5 286.0h0M62.5 284.5h0M78.7 271.5h0M77.3 268.0h0M58.4 286.2h0M73.3 276.7h0M63.9 281.4h0M52.4 283.7h0M71.1 289.4h0M59.4 274.5h0M67.8 301.5h0M74.1 288.1h0M67.9 301.9h0M67.8 306.7h0M78.6 273.8h0M65.4 306.8h0M68.9 274.5h0M62.4 275.2h0M71.0 325.5h0M62.1 286.7h0M73.1 263.8h0M67.7 262.9h0M75.7 282.1h0M73.1 329.4h0M63.8 305.3h0M52.1 281.4h0M58.4 264.1h0M60.7 295.8h0M75.1 330.3h0M64.8 291.9h0M64.8 289.4h0M65.3 273.4h0M50.6 274.5h0M71.7 296.7h0M63.1 304.5h0M56.6 268.8h0M68.1 310.0h0M82.0 278.1h0M72.3 264.0h0M72.4 323.5h0M62.3 266.6h0M59.4 295.1h0M63.4 271.8h0M76.8 276.9h0M56.8 286.6h0M71.7 307.8h0" stroke="#e2b055" stroke-width="1.1" stroke-linecap="round" fill="none" opacity="1.0"/>
<path d="M78.8 283.8h0M69.0 310.0h0M65.8 284.6h0M53.9 280.2h0M56.5 288.3h0M60.2 277.5h0M53.1 283.7h0M55.7 291.5h0M59.3 270.2h0M56.5 265.1h0M63.4 263.1h0M73.0 270.0h0M74.2 315.7h0M71.7 314.0h0M72.1 271.1h0M53.3 277.1h0M60.1 268.7h0M74.4 278.5h0M59.0 278.6h0M70.9 280.4h0M70.8 317.8h0M59.2 289.1h0M63.8 295.2h0M76.3 274.4h0M81.0 281.0h0M62.2 275.8h0M71.4 265.1h0M68.3 313.2h0M64.6 273.9h0M62.8 267.6h0M75.9 278.3h0M69.8 296.8h0M65.1 267.0h0M70.5 283.4h0M75.2 335.6h0M67.1 281.6h0M54.3 287.2h0M70.5 278.1h0M70.1 274.3h0M67.7 279.2h0M67.9 270.4h0M78.1 266.1h0M61.9 298.3h0M68.1 277.3h0M63.9 304.1h0M70.7 304.8h0M62.3 303.0h0M60.9 298.4h0M71.6 308.7h0M64.8 282.1h0M73.6 281.8h0M75.3 270.2h0M75.0 332.6h0M69.8 283.9h0M54.1 278.3h0M71.4 290.4h0M60.4 270.9h0M72.3 307.8h0M71.0 307.9h0M60.5 280.0h0M74.8 284.5h0M72.0 322.8h0M56.9 289.5h0M66.0 267.8h0M76.0 272.1h0M60.6 275.2h0M72.0 268.2h0M73.7 309.6h0M78.1 276.3h0M71.6 303.5h0M68.9 291.5h0M57.2 291.9h0M70.6 300.6h0M77.8 277.2h0M51.1 277.8h0M74.7 278.5h0M54.6 288.1h0M51.4 272.7h0M56.6 277.0h0M72.5 297.7h0M54.7 278.9h0M73.9 271.8h0M67.6 285.8h0M69.4 300.7h0M63.9 276.1h0M74.9 267.3h0M70.9 310.2h0M73.4 292.8h0M69.6 308.6h0M76.2 268.4h0M69.4 261.7h0M52.8 284.5h0M70.4 282.3h0M52.3 284.8h0M62.9 284.1h0M57.1 278.0h0M70.1 324.2h0M68.7 297.2h0M70.8 295.4h0M66.2 293.8h0M74.0 273.6h0M51.8 270.4h0M74.0 291.6h0M61.6 288.1h0M64.6 269.4h0M71.2 298.4h0M62.3 262.4h0M68.0 267.4h0M63.5 291.3h0M64.3 285.8h0M73.3 262.1h0M64.3 292.2h0M68.9 299.2h0M53.2 271.3h0M56.1 279.4h0M68.6 281.4h0M61.1 274.7h0M66.6 284.8h0M61.2 272.9h0M63.9 308.0h0M59.8 271.9h0M73.9 272.1h0M67.9 313.2h0M62.3 285.3h0M64.6 270.6h0M72.1 316.9h0M62.7 271.5h0M80.1 277.4h0M59.2 279.6h0M56.4 270.2h0M69.8 307.5h0M78.0 272.5h0M75.3 262.9h0M69.2 279.2h0M55.9 285.5h0M72.8 271.0h0M56.5 281.3h0M63.9 274.0h0M58.3 274.1h0M67.4 264.7h0M53.6 288.9h0M60.4 292.3h0M65.5 291.9h0M64.0 290.4h0M66.0 289.5h0M72.6 265.8h0M73.7 290.6h0M76.0 279.4h0M78.1 276.1h0M71.6 293.5h0M59.3 277.2h0M57.3 269.7h0M53.8 272.2h0M58.8 290.6h0M56.2 271.6h0M59.0 280.5h0M69.8 307.3h0M65.0 297.7h0M77.8 275.9h0M73.4 313.0h0M59.1 272.6h0M61.1 286.4h0M55.3 275.0h0M63.1 267.1h0M75.5 329.9h0M57.6 270.3h0M55.5 282.5h0M73.5 274.4h0M64.1 294.9h0M71.5 317.5h0M63.4 280.2h0M65.4 267.5h0M64.8 281.4h0M64.8 279.5h0M76.6 266.0h0M73.9 333.0h0M62.8 286.6h0M57.9 275.0h0M56.9 282.2h0M62.6 276.6h0M63.3 295.8h0M64.8 273.7h0M59.2 269.7h0M74.9 263.3h0M57.7 277.2h0M58.0 287.6h0M52.7 285.3h0M78.9 276.2h0M69.5 315.2h0M65.8 293.2h0M65.6 264.3h0M72.8 268.6h0M67.6 264.8h0M62.3 295.0h0M78.0 276.0h0M74.3 280.1h0M74.3 333.3h0M66.8 305.7h0M65.0 309.2h0M61.1 266.2h0M73.0 274.1h0M69.6 292.4h0M69.4 283.9h0M57.8 271.8h0M50.3 277.3h0M58.9 289.6h0M68.3 294.1h0M72.0 319.9h0M63.8 267.7h0M71.9 271.7h0M63.5 270.5h0M63.3 265.7h0M68.3 313.4h0M51.5 275.0h0M67.3 275.4h0M74.7 263.8h0M75.1 285.1h0M75.0 282.1h0M65.9 279.2h0M69.3 266.3h0M71.9 271.0h0M60.3 283.3h0M57.9 267.5h0M59.0 293.7h0M69.2 272.9h0M60.2 298.1h0M75.5 282.0h0M54.6 278.5h0M64.6 265.8h0M78.1 286.8h0M56.2 289.1h0M55.9 267.5h0M81.9 277.4h0M82.2 272.5h0M68.8 304.3h0M67.8 303.1h0M79.3 282.0h0M65.1 263.8h0M75.8 285.8h0M60.8 288.0h0M78.0 281.4h0M63.7 305.2h0M77.7 280.7h0M65.6 280.8h0M69.6 270.6h0M51.2 272.3h0M61.8 263.0h0M69.7 315.6h0M69.0 322.7h0M73.8 273.0h0M70.8 286.7h0M62.7 296.6h0M76.8 275.1h0M74.1 262.4h0M52.8 281.7h0M61.7 266.3h0M61.5 263.1h0M72.3 278.1h0M73.7 277.0h0M67.6 277.2h0M55.0 280.3h0M59.1 284.1h0M60.4 286.4h0M69.6 309.6h0M62.1 288.9h0M60.6 285.7h0M70.8 326.0h0M75.1 289.1h0M74.9 328.7h0M81.3 272.8h0M64.2 263.7h0M53.4 272.4h0M69.5 315.9h0M78.8 282.5h0M53.5 282.4h0M73.7 264.7h0M63.8 279.1h0M65.8 299.1h0M65.6 268.6h0M77.5 278.0h0M73.5 318.0h0M59.9 272.1h0M59.3 267.8h0M60.7 281.1h0M65.4 289.6h0M71.7 274.1h0M68.8 286.1h0M64.7 261.2h0M71.3 299.8h0M72.3 304.2h0M68.2 268.0h0M58.5 282.1h0M76.6 268.8h0M78.9 270.9h0M73.8 284.9h0M64.2 284.7h0M76.5 266.2h0M67.6 264.6h0M54.7 286.6h0M68.5 318.5h0M73.8 281.7h0M51.2 278.0h0M54.3 286.3h0M57.5 271.5h0M75.3 328.3h0M69.1 274.5h0M65.8 279.7h0M58.4 265.5h0M73.4 333.6h0M57.4 289.3h0M54.4 267.5h0M73.1 326.8h0M71.1 277.3h0M72.0 316.1h0M75.6 287.4h0M53.4 270.4h0M74.6 320.7h0M72.0 305.0h0M73.1 292.5h0M65.9 310.6h0M53.5 287.0h0M70.5 295.0h0M70.8 292.4h0M55.3 288.6h0M64.9 310.8h0M72.0 267.9h0M58.3 270.9h0M69.7 314.1h0M60.1 274.9h0M58.5 264.6h0M69.4 296.8h0M71.8 330.4h0M61.1 267.2h0M79.6 283.2h0M57.5 266.7h0M66.4 270.9h0M69.0 272.2h0M61.4 294.3h0M73.1 262.3h0M58.2 275.1h0M73.1 274.8h0M64.2 277.8h0M50.6 277.4h0M67.9 296.7h0M57.1 276.7h0M72.9 328.1h0M60.6 282.3h0M52.8 277.2h0M62.5 281.7h0M68.2 275.7h0M76.2 279.7h0M50.4 280.5h0M62.9 284.2h0M62.3 295.9h0M67.6 297.3h0M65.4 263.8h0M70.2 291.9h0M73.5 282.6h0M65.3 292.5h0M81.3 280.5h0M81.2 271.8h0M83.8 277.3h0M67.0 292.6h0M66.3 284.8h0M57.9 286.8h0M79.4 274.3h0M77.1 274.5h0M72.2 271.3h0M53.5 286.6h0M77.9 267.6h0M68.9 288.8h0M71.0 327.5h0M59.1 273.1h0M60.2 271.3h0M72.7 313.8h0M66.3 271.4h0M61.8 268.9h0M74.7 270.9h0M73.0 303.1h0M59.9 270.6h0M75.4 287.1h0M71.9 269.2h0M78.8 286.7h0M72.5 312.1h0M72.8 295.8h0M71.5 280.7h0M59.9 276.9h0M80.7 283.8h0M63.1 301.4h0M69.6 323.2h0M52.9 270.4h0M77.7 283.2h0M69.2 320.0h0M60.0 278.8h0M69.6 296.7h0M66.8 296.3h0M69.0 273.9h0M70.6 268.0h0M66.8 285.0h0M73.7 317.7h0M69.1 267.7h0M62.8 302.9h0M68.4 299.4h0M57.5 268.0h0M72.9 282.0h0M73.1 313.2h0M55.2 265.9h0M62.5 274.6h0M65.1 270.8h0M75.2 276.9h0M74.1 316.2h0M72.8 298.4h0M58.3 271.5h0M67.4 273.1h0M56.6 283.8h0M62.2 281.2h0M53.3 280.3h0M66.0 313.1h0M69.6 305.4h0M78.3 286.5h0M66.6 278.2h0M63.9 281.6h0M59.9 272.9h0M79.5 275.4h0M67.9 313.8h0M50.6 279.7h0M76.2 278.2h0M54.8 278.6h0M78.6 283.7h0M80.7 268.5h0M73.4 333.4h0M76.9 277.1h0M63.6 277.6h0M74.4 263.1h0M56.2 275.0h0M69.3 273.0h0M76.6 339.6h0M74.5 290.1h0M68.9 300.1h0M72.9 266.9h0M60.8 270.2h0M63.4 272.9h0M72.5 292.7h0M72.1 320.2h0M73.9 324.0h0M65.7 311.0h0M76.6 274.6h0M57.7 280.0h0M51.3 283.3h0M57.7 278.6h0M72.0 299.1h0M60.8 283.1h0M70.0 262.1h0M69.1 297.7h0M79.3 267.7h0M66.7 293.4h0M72.6 275.9h0M71.3 324.1h0M55.9 273.6h0M55.1 278.1h0M65.4 289.7h0M73.4 324.9h0M69.9 270.4h0M73.0 287.4h0M82.6 275.7h0M74.9 269.3h0M74.8 279.1h0M60.7 293.1h0M72.3 304.4h0M80.4 285.9h0M69.2 282.4h0M56.2 272.3h0M72.0 285.3h0M66.3 311.0h0M70.5 269.2h0M52.6 281.9h0M73.5 281.2h0M62.8 264.3h0M69.4 288.6h0M72.8 313.1h0M51.1 283.3h0M60.3 266.4h0M71.9 288.1h0M66.6 268.2h0M53.7 288.9h0M69.6 320.8h0M64.7 268.1h0M73.8 294.7h0M66.7 270.4h0M78.2 277.8h0M52.2 283.1h0M72.8 266.5h0M60.4 285.2h0M52.3 275.4h0M74.5 269.3h0M51.2 271.3h0M57.0 287.8h0M59.8 267.1h0M61.6 279.9h0M77.5 286.9h0M72.0 299.8h0M72.1 284.7h0M75.0 276.7h0M73.2 268.5h0M69.7 290.6h0M80.8 282.1h0M52.3 279.8h0M76.2 268.9h0M67.2 303.2h0M55.5 272.0h0M72.7 318.4h0M68.0 285.1h0M73.0 282.1h0M76.0 332.1h0M68.5 282.4h0M70.4 293.4h0M55.2 290.7h0M74.2 318.7h0M71.6 262.8h0M62.7 293.2h0M51.8 273.7h0M60.0 278.0h0M65.9 268.8h0M70.8 306.5h0M71.5 278.6h0M61.5 298.4h0M81.6 270.9h0M74.5 275.8h0M61.9 290.1h0M58.7 288.9h0" stroke="#8cbfdc" stroke-width="1.1" stroke-linecap="round" fill="none" opacity="1.0"/>
<path d="M65.5 291.6h0M72.1 261.8h0M69.3 284.6h0M76.5 263.8h0M59.1 268.5h0M55.3 282.2h0M66.1 312.6h0M54.3 276.1h0M61.8 267.7h0M80.8 283.0h0M52.5 287.3h0M65.1 300.3h0M55.9 275.1h0M62.9 274.4h0M51.3 277.8h0M65.1 292.2h0M59.4 276.2h0M70.7 263.1h0M75.6 276.1h0M68.6 262.7h0M61.2 286.8h0M61.4 282.6h0M63.0 265.4h0M70.6 290.6h0M76.4 272.6h0M59.6 279.4h0M69.0 282.7h0M63.9 307.4h0M80.4 272.3h0M80.9 270.5h0M72.7 274.2h0M65.2 307.0h0M67.4 307.2h0M52.2 272.4h0M63.4 304.4h0M78.8 275.3h0M67.6 268.1h0M61.4 288.6h0M73.4 328.1h0M65.0 296.5h0M71.0 300.9h0M79.5 285.7h0M64.3 285.5h0M56.3 275.1h0M71.2 319.7h0M70.0 304.4h0M69.7 288.7h0M62.9 298.8h0M57.9 283.8h0M50.3 282.7h0M69.6 268.0h0M73.2 286.1h0M75.8 287.3h0M62.7 300.5h0M58.7 271.6h0M58.1 269.4h0M63.5 295.9h0M73.0 277.3h0M65.7 299.1h0M51.7 285.7h0M66.6 266.9h0M77.8 286.6h0M69.9 295.5h0M70.1 320.0h0M69.1 277.9h0M66.7 267.3h0M62.8 297.1h0M67.2 295.8h0M81.6 283.6h0M69.6 282.7h0M54.9 284.1h0M68.4 270.4h0M65.1 291.2h0M78.5 277.1h0M55.0 290.5h0M66.7 277.8h0M57.1 292.5h0M61.4 282.4h0M52.5 275.2h0M70.7 279.7h0M80.5 267.3h0M73.0 280.4h0M81.4 272.7h0M74.0 268.2h0M51.7 271.3h0M65.7 264.3h0M70.3 298.5h0M74.4 330.3h0M64.1 280.6h0M64.1 289.3h0M75.8 273.6h0M80.4 285.8h0M63.7 300.5h0M66.2 271.3h0M77.8 266.5h0M51.7 281.1h0M52.9 278.7h0M63.1 301.5h0M74.3 314.4h0M59.8 285.0h0M67.0 290.8h0M76.6 275.2h0M72.2 306.5h0" stroke="#d84cb0" stroke-width="1.1" stroke-linecap="round" fill="none" opacity="1.0"/>
<path d="M107.8 298.4h0M112.4 284.7h0M124.8 307.3h0M119.6 309.6h0M122.8 305.2h0M117.7 308.2h0M118.4 295.7h0M116.0 304.5h0M123.7 291.2h0M116.7 288.9h0M115.2 307.1h0M110.7 300.7h0M128.0 300.7h0M122.3 283.3h0M122.1 299.7h0M111.2 290.7h0M122.2 299.5h0M119.8 281.8h0M107.9 297.5h0M117.3 286.4h0M122.4 299.8h0M125.2 288.7h0M110.7 287.8h0M123.1 299.8h0M124.7 285.7h0M116.7 299.4h0M122.3 313.0h0M109.4 290.2h0M122.3 293.1h0M125.0 292.3h0M114.1 312.6h0M110.3 313.1h0M124.5 307.4h0M114.8 303.8h0M105.1 290.9h0M122.0 285.7h0M119.0 314.1h0M112.1 312.8h0M126.5 303.9h0M107.5 295.7h0M112.9 307.5h0M110.6 284.7h0M116.1 305.2h0M119.7 306.5h0M125.5 294.4h0M121.4 308.2h0M114.8 293.2h0M127.4 296.9h0M128.2 296.5h0M112.4 306.7h0M110.5 299.6h0M105.9 292.8h0M125.0 282.8h0M116.5 288.0h0M110.1 288.5h0M117.9 304.3h0M123.8 289.7h0M121.9 300.6h0M109.1 292.3h0M116.3 301.1h0M114.2 281.1h0M123.1 282.7h0M122.0 279.7h0M126.1 302.6h0M126.2 293.5h0M116.7 280.1h0M113.6 309.2h0M120.3 296.3h0M122.9 286.0h0M109.5 285.6h0M113.9 302.4h0M121.5 295.4h0M112.6 289.2h0M112.2 312.2h0M127.8 295.3h0M105.2 294.1h0M126.5 296.5h0M113.5 310.7h0M117.2 305.9h0M112.5 287.5h0M123.3 294.3h0M116.3 304.1h0M109.8 284.8h0M123.2 306.1h0M113.5 305.1h0M105.4 291.1h0M111.2 284.2h0M123.9 284.0h0M125.3 285.9h0M105.2 291.8h0M119.3 281.5h0M124.5 282.6h0M111.3 290.4h0M128.0 290.0h0M120.7 285.6h0M115.4 291.0h0M125.2 284.7h0M110.7 300.1h0M121.2 292.1h0M117.4 279.3h0M125.4 287.3h0M117.9 308.8h0M119.6 313.2h0M118.7 288.1h0M111.0 295.5h0M123.8 282.3h0M110.3 293.4h0M113.7 293.0h0M116.2 294.7h0M116.4 279.7h0M122.2 291.8h0M107.6 289.7h0M119.9 293.8h0M123.8 292.9h0M114.7 310.8h0M112.5 281.1h0M111.6 300.8h0M108.1 295.4h0M122.5 306.1h0M125.3 300.1h0M115.9 299.7h0M126.6 305.7h0M125.3 305.8h0M128.5 300.0h0M120.8 293.3h0M117.4 296.0h0M111.6 311.4h0M112.7 290.8h0M117.8 293.3h0M121.1 302.7h0M109.7 286.5h0M110.1 290.7h0M124.6 291.9h0M106.7 292.0h0M106.8 294.5h0M125.7 302.6h0M114.5 309.1h0M117.1 292.1h0M110.2 297.1h0M122.9 294.1h0M112.3 283.3h0M126.6 290.1h0M117.5 307.6h0M109.6 298.6h0M119.1 288.8h0M109.1 294.8h0M116.5 303.5h0M119.9 297.2h0M123.7 294.7h0M110.3 297.4h0M120.0 312.3h0M117.8 298.7h0M123.2 304.3h0M128.7 297.8h0M127.8 292.7h0M114.9 292.5h0M117.4 281.9h0M122.6 305.3h0M118.1 303.6h0M112.9 281.1h0M124.8 304.7h0M108.9 316.4h0M123.4 281.3h0M117.9 288.5h0M113.3 285.7h0M110.2 283.2h0M121.1 305.0h0M121.7 305.9h0M125.7 291.8h0M116.6 306.7h0M117.6 279.8h0M115.2 290.3h0M125.4 308.2h0M120.0 286.9h0M125.7 292.8h0M119.0 302.1h0M121.8 284.8h0M121.8 280.0h0M115.9 288.0h0M110.9 286.0h0M113.5 297.4h0M110.7 316.2h0M112.7 299.0h0M121.5 296.2h0M113.9 280.5h0M113.8 296.9h0M124.7 309.7h0M112.6 283.7h0M124.9 304.2h0M119.3 307.6h0M109.3 296.9h0M114.2 291.6h0M124.3 290.4h0M110.3 297.8h0M118.9 299.4h0M125.3 300.1h0M108.3 295.7h0M108.3 289.2h0M121.0 301.5h0M123.6 308.0h0M127.3 300.5h0M105.0 292.8h0M113.0 285.9h0M122.9 279.5h0M109.9 288.6h0M116.8 280.2h0M120.1 284.4h0M127.9 300.2h0M109.1 298.1h0M110.6 285.5h0M107.1 289.8h0M119.7 284.9h0" stroke="#e2b055" stroke-width="1.1" stroke-linecap="round" fill="none" opacity="1.0"/>
<path d="M108.9 289.5h0M121.6 308.9h0M117.9 298.5h0M114.3 286.9h0M121.6 309.9h0M127.7 292.4h0M127.4 292.8h0M114.1 289.5h0M121.4 295.7h0M124.3 291.0h0M119.6 289.6h0M111.6 294.5h0M108.7 297.1h0M122.1 294.7h0M120.1 294.0h0M114.9 310.2h0M113.9 298.1h0M107.7 288.1h0M122.3 312.7h0M115.5 282.2h0M117.7 311.3h0M124.6 287.3h0M107.7 298.3h0M114.0 294.0h0M126.2 292.6h0M116.3 307.9h0M126.9 286.3h0M116.8 281.8h0M109.8 292.0h0M115.8 303.8h0M114.0 306.6h0M118.0 289.1h0M118.6 296.2h0M109.1 287.5h0M114.4 313.7h0M113.8 288.1h0M121.1 295.7h0M122.2 308.9h0M106.0 292.0h0M119.9 294.8h0M116.4 294.7h0M113.4 308.3h0M109.7 287.1h0M126.4 293.8h0M105.8 290.3h0M124.3 281.2h0M111.9 299.3h0M116.1 302.9h0M122.1 285.7h0M120.9 312.3h0M124.9 288.8h0M108.7 284.9h0M127.2 304.1h0M123.6 306.5h0M107.2 294.1h0M126.1 304.2h0M118.4 308.4h0M121.9 301.9h0M116.1 291.7h0M126.1 294.1h0M126.3 296.9h0M125.1 289.4h0M124.3 307.8h0M122.7 301.0h0M111.0 297.3h0M119.4 314.1h0M119.0 278.9h0M123.9 288.0h0M114.7 284.7h0M119.1 314.4h0M114.3 307.8h0M119.7 313.9h0M126.8 291.5h0M118.5 295.8h0M106.0 291.4h0M110.3 290.1h0M115.9 281.1h0M108.5 300.0h0M124.9 290.0h0M121.0 294.7h0M120.3 300.2h0M106.3 291.9h0M108.4 294.9h0M111.8 311.8h0M122.3 308.4h0M118.6 295.1h0M124.2 295.9h0M113.6 295.0h0M110.1 291.6h0M109.2 293.1h0M126.1 305.3h0M124.8 284.9h0M115.6 293.9h0M119.5 302.5h0M116.2 300.0h0M117.9 285.6h0M121.3 310.9h0M120.8 308.2h0M119.4 299.1h0M124.6 305.1h0M112.9 311.9h0M113.9 307.0h0M121.2 284.8h0M114.3 293.6h0M108.0 298.8h0M126.7 298.1h0M125.2 300.5h0M123.8 299.6h0M108.8 292.9h0M119.9 298.7h0M123.5 285.4h0M125.2 302.4h0M123.9 308.2h0M111.7 286.2h0M113.7 309.3h0M110.0 295.3h0M111.0 314.3h0M106.6 288.2h0M118.9 306.3h0M116.6 310.5h0M116.5 301.8h0M125.3 301.2h0M124.0 287.5h0M116.0 294.2h0M109.3 287.0h0M110.8 302.1h0M123.7 290.7h0M126.6 284.8h0M116.5 300.4h0M115.2 283.2h0M127.7 296.0h0M116.8 304.8h0M123.6 310.6h0M125.9 283.9h0M110.2 299.5h0M120.7 284.5h0M110.6 286.9h0M119.6 282.8h0M127.1 297.2h0M114.6 304.3h0M113.6 310.2h0M121.2 314.2h0M108.1 297.8h0M108.5 293.8h0M127.9 296.5h0M119.1 294.2h0M119.7 299.5h0M118.6 298.7h0M111.6 291.3h0M112.2 293.3h0M125.0 292.3h0M122.4 285.3h0M122.3 308.6h0M122.0 292.5h0M123.8 295.2h0M124.2 281.9h0M113.9 290.0h0M106.4 292.4h0M113.6 314.5h0M116.2 301.4h0M119.5 295.4h0M109.2 297.4h0M108.3 290.1h0M118.8 314.3h0M118.3 299.4h0M122.4 304.4h0M115.7 298.8h0M110.2 286.4h0M112.2 283.6h0M116.3 313.1h0M109.2 316.2h0M121.1 302.7h0M115.9 298.6h0M118.0 286.7h0M116.7 291.1h0M126.5 289.0h0M117.9 292.2h0M113.6 283.6h0M116.1 302.2h0M121.7 312.9h0M111.2 285.2h0" stroke="#8cbfdc" stroke-width="1.1" stroke-linecap="round" fill="none" opacity="1.0"/>
<path d="M109.7 290.2h0M123.9 309.9h0M121.9 312.5h0M118.6 303.0h0M125.5 303.7h0M117.8 286.6h0M127.9 295.3h0M111.0 285.4h0M111.1 287.7h0M119.2 308.4h0M117.3 312.0h0M122.1 294.6h0M109.1 292.5h0M105.7 289.3h0M122.3 286.9h0M112.9 310.7h0M117.4 293.6h0M109.7 292.7h0M111.4 291.9h0M113.3 283.1h0M113.2 315.1h0M117.1 300.8h0M106.5 292.4h0M117.0 297.5h0M121.0 306.9h0M115.8 298.3h0M117.0 303.0h0" stroke="#d84cb0" stroke-width="1.1" stroke-linecap="round" fill="none" opacity="1.0"/>
<line x1="46.75" y1="257.5" x2="46.75" y2="343.2" stroke="#231f20" stroke-width="1.1"/>
<line x1="46.25" y1="343.2" x2="132.75" y2="343.2" stroke="#231f20" stroke-width="1.1"/>
<line x1="44.55" y1="261.25" x2="46.75" y2="261.25" stroke="#231f20" stroke-width="0.9"/>
<line x1="44.55" y1="287.7" x2="46.75" y2="287.7" stroke="#231f20" stroke-width="0.9"/>
<line x1="44.55" y1="314.1" x2="46.75" y2="314.1" stroke="#231f20" stroke-width="0.9"/>
<line x1="44.55" y1="340.5" x2="46.75" y2="340.5" stroke="#231f20" stroke-width="0.9"/>
<line x1="64.5" y1="343.2" x2="64.5" y2="345.4" stroke="#231f20" stroke-width="0.9"/>
<line x1="83.25" y1="343.2" x2="83.25" y2="345.4" stroke="#231f20" stroke-width="0.9"/>
<line x1="101.75" y1="343.2" x2="101.75" y2="345.4" stroke="#231f20" stroke-width="0.9"/>
<line x1="120.25" y1="343.2" x2="120.25" y2="345.4" stroke="#231f20" stroke-width="0.9"/>
<text x="40.6" y="263.55" font-size="6.6" text-anchor="end" stroke="#231f20" stroke-width="0.12">5</text>
<text x="40.6" y="290.0" font-size="6.6" text-anchor="end" stroke="#231f20" stroke-width="0.12">0</text>
<text x="40.6" y="316.40000000000003" font-size="6.6" text-anchor="end" stroke="#231f20" stroke-width="0.12">−5</text>
<text x="40.6" y="342.8" font-size="6.6" text-anchor="end" stroke="#231f20" stroke-width="0.12">−10</text>
<text x="64.5" y="355.6" font-size="6.6" text-anchor="middle" stroke="#231f20" stroke-width="0.12">−5</text>
<text x="83.25" y="355.6" font-size="6.6" text-anchor="middle" stroke="#231f20" stroke-width="0.12">0</text>
<text x="101.75" y="355.6" font-size="6.6" text-anchor="middle" stroke="#231f20" stroke-width="0.12">5</text>
<text x="120" y="355.6" font-size="6.6" text-anchor="middle" stroke="#231f20" stroke-width="0.12">10</text>
<text x="24.3" y="300.9" font-size="7.6" text-anchor="middle" textLength="27.7" lengthAdjust="spacingAndGlyphs" transform="rotate(-90 24.3 300.9)" stroke="#231f20" stroke-width="0.12">UMAP_2</text>
<text x="89.6" y="368.2" font-size="8.5" text-anchor="middle" textLength="27.7" lengthAdjust="spacingAndGlyphs" stroke="#231f20" stroke-width="0.12">UMAP_1</text>
<circle cx="100.90" cy="330.50" r="1.90" fill="#d83cac"/>
<text x="105" y="332.8" font-size="6.6" textLength="10.5" lengthAdjust="spacingAndGlyphs" stroke="#231f20" stroke-width="0.12">WT</text>
<circle cx="100.90" cy="338.30" r="1.90" fill="#8cbfdc"/>
<text x="105" y="340.6" font-size="6.6" font-style="italic" textLength="14.5" lengthAdjust="spacingAndGlyphs" stroke="#231f20" stroke-width="0.12">Vc<tspan font-size="4.62" dy="-3.30">fl/fl</tspan></text>
<circle cx="127.00" cy="338.30" r="1.90" fill="#e8b050"/>
<text x="131.2" y="340.6" font-size="6.6" font-style="italic" textLength="16.8" lengthAdjust="spacingAndGlyphs" stroke="#231f20" stroke-width="0.12">Vc<tspan font-size="4.62" dy="-3.30">iΔEC</tspan></text>
<path d="M163.4 273.0L166.1 265.8L172.4 261.8L177.8 262.2L178.7 273.0L180.4 282.0L183.1 286.4L186.7 288.2L184.9 291.8L177.8 291.8L176.0 298.1L175.1 302.6L168.8 294.5L165.2 289.1L162.5 282.0Z" fill="#c4964e"/>
<path d="M177.8 262.2L186.7 263.1L193.0 268.5L195.7 275.7L193.0 282.0L187.6 286.4L181.4 286.4L180.4 282.0L178.7 273.0Z" fill="#b83c3c"/>
<path d="M177.8 291.8L184.9 291.8L184.9 308.9L178.7 308.9L176.9 299.9Z" fill="#8ccf96" opacity="0.9"/>
<path d="M177.8 308.9L184.9 308.9L185.8 323.3L188.5 339.4L184.9 334.0L179.6 317.9Z" fill="#7399d0" opacity="0.9"/>
<path d="M177.6 280.7h0M172.4 291.1h0M163.7 276.2h0M179.6 275.5h0M166.1 273.2h0M180.2 284.0h0M165.7 279.2h0M170.1 276.4h0M172.9 290.7h0M179.0 272.9h0M167.8 278.5h0M173.8 277.5h0M177.6 273.0h0M172.6 295.6h0M165.9 277.7h0M174.5 292.6h0M171.3 281.7h0M166.2 271.8h0M165.3 272.4h0M178.6 271.3h0M168.3 268.7h0M165.9 287.9h0M176.9 279.4h0M171.8 267.3h0M167.9 291.3h0M178.7 269.9h0M177.2 271.1h0M169.4 266.4h0M170.1 276.0h0M171.2 277.1h0M178.2 282.0h0M181.7 288.6h0M176.7 287.1h0M168.4 281.0h0M172.4 291.6h0M182.7 287.0h0M164.3 274.0h0M180.3 291.2h0M179.9 285.7h0M177.4 268.5h0M172.7 263.6h0M168.8 273.7h0M183.4 287.2h0M170.6 268.6h0M165.5 286.1h0M176.5 264.9h0M173.8 301.2h0M170.3 296.0h0M177.3 273.8h0M171.1 289.4h0M182.2 284.5h0M178.4 276.8h0M165.8 285.9h0M172.5 270.8h0M170.4 289.5h0M175.6 294.4h0M171.1 267.1h0M176.6 287.4h0M174.3 264.7h0M179.2 278.1h0M172.3 262.2h0M177.7 264.8h0M170.8 279.7h0M168.3 294.0h0M172.6 293.5h0M166.6 289.9h0M169.3 295.1h0M168.7 275.1h0M162.3 281.5h0M172.1 263.2h0M172.2 291.6h0M174.0 263.7h0M171.0 278.4h0M170.2 287.0h0M171.5 296.2h0M172.3 282.4h0M171.4 266.5h0M177.7 285.6h0M179.7 280.2h0M167.1 278.7h0M172.3 265.2h0M175.2 284.2h0M176.4 267.3h0M168.4 265.6h0M165.6 282.3h0M177.3 286.2h0M170.2 277.1h0M179.2 282.1h0M168.3 285.4h0M167.1 268.1h0M173.8 281.3h0M167.9 265.5h0M175.5 296.9h0M174.6 277.3h0M168.1 269.1h0M169.7 268.8h0M174.6 267.5h0M169.6 273.6h0M167.9 280.4h0M168.8 281.1h0M170.5 295.8h0M163.3 276.6h0M162.3 280.2h0M166.4 289.0h0M173.6 280.4h0M168.1 288.7h0M175.2 281.1h0M176.1 265.1h0M167.9 287.8h0M173.7 272.7h0M171.7 270.7h0M175.8 269.1h0M172.7 281.1h0M170.2 274.8h0M164.3 280.3h0M175.9 289.1h0M176.4 266.1h0M170.7 262.4h0M176.2 289.6h0M171.8 288.5h0M176.2 273.4h0M169.0 284.2h0M175.2 303.1h0M175.1 275.1h0M172.7 268.1h0M182.7 289.8h0M177.1 272.0h0M176.3 273.5h0M166.1 284.4h0M170.8 281.5h0M164.5 281.2h0M180.4 288.4h0M175.5 278.3h0M167.1 265.6h0M169.6 291.7h0M167.5 273.1h0M179.7 286.6h0M167.3 290.9h0M166.5 288.9h0M170.6 280.5h0M164.7 271.7h0M175.2 281.3h0M169.2 269.3h0M186.0 289.2h0M174.3 266.7h0M166.8 270.8h0M172.7 263.3h0M169.5 281.0h0M163.3 284.0h0M163.6 282.9h0M168.0 271.0h0M166.6 281.7h0M175.7 274.9h0M176.5 283.9h0M180.4 285.6h0M172.4 299.0h0M175.6 268.7h0M175.5 274.2h0M169.4 287.6h0M175.5 285.4h0M178.6 284.2h0M176.6 287.5h0M169.8 280.8h0M178.1 290.3h0M164.7 284.1h0M166.9 288.6h0M176.7 281.1h0M171.9 281.6h0M171.7 282.2h0M177.4 276.4h0M170.9 290.0h0M170.4 263.3h0M163.3 275.8h0M174.1 277.1h0M181.1 284.7h0M170.4 268.5h0M176.3 277.2h0M176.7 276.2h0M177.4 264.2h0M171.7 286.9h0M179.0 276.7h0M172.7 272.5h0M174.5 270.1h0M173.8 265.5h0M177.6 288.0h0M167.7 284.6h0M180.5 291.4h0M164.6 284.0h0M176.0 263.3h0M170.9 274.7h0M165.7 267.2h0M170.9 273.9h0M175.3 278.5h0M168.9 264.4h0M172.7 268.5h0M176.1 295.9h0M170.3 291.6h0M176.1 290.3h0M169.2 277.8h0M179.3 280.9h0M174.0 278.0h0M174.4 275.4h0M174.3 286.6h0M170.4 297.0h0M174.9 262.1h0M180.8 287.7h0M179.1 289.4h0M178.8 269.8h0M172.0 294.3h0M175.5 268.5h0M169.0 269.5h0M176.8 282.9h0M172.1 272.6h0M174.3 284.5h0M167.9 279.4h0M169.3 291.7h0M180.0 280.7h0M171.4 280.8h0M168.7 294.4h0M164.5 288.2h0M170.4 271.8h0M176.1 273.7h0M166.5 266.4h0M165.2 273.4h0M177.7 266.9h0M167.8 277.3h0M174.5 276.3h0M170.5 290.5h0M173.7 267.8h0M176.3 297.5h0M170.3 275.5h0M170.9 272.3h0M177.2 279.7h0M178.8 277.1h0M175.9 298.4h0M174.0 285.1h0M167.6 279.2h0M165.3 287.2h0M175.3 299.7h0M171.6 286.0h0M169.0 281.2h0M167.6 271.9h0M175.8 301.0h0M169.2 276.6h0M168.1 275.3h0M176.4 271.6h0M173.6 263.7h0M174.3 276.4h0M169.3 287.9h0M176.3 278.6h0M172.3 287.7h0M167.1 281.1h0M177.3 270.9h0M175.0 298.9h0M166.6 278.1h0M170.1 276.9h0M184.5 290.4h0M166.1 290.2h0M180.6 285.4h0M170.5 295.4h0M178.8 289.3h0M167.9 286.0h0M169.6 295.7h0M168.0 287.1h0M175.2 294.4h0M172.2 285.7h0M175.4 271.9h0M178.1 283.8h0M167.1 284.3h0M167.0 291.3h0M163.4 283.4h0M168.2 285.1h0M163.6 271.8h0M179.0 291.8h0M174.9 294.2h0M166.0 287.0h0M171.4 286.2h0M174.3 270.2h0M174.6 300.1h0M178.9 282.2h0M175.0 292.4h0M169.5 275.0h0M177.9 289.9h0M168.1 284.0h0M174.3 263.7h0M172.4 293.7h0M165.3 274.7h0M175.2 294.1h0M174.9 294.9h0M174.1 279.9h0M176.1 282.5h0M176.3 281.3h0M169.2 290.9h0M171.3 295.1h0M174.3 298.7h0M173.8 300.1h0M166.6 279.5h0M167.7 280.0h0M167.1 275.9h0M180.8 283.5h0M172.7 296.8h0M166.4 276.2h0M169.1 277.6h0M171.5 278.5h0M163.6 283.7h0M173.5 290.0h0M180.9 282.8h0M175.3 282.6h0M173.7 277.5h0M180.2 290.7h0M164.5 281.6h0M175.7 272.0h0M172.9 274.4h0M180.9 284.5h0M169.9 294.5h0M168.1 280.9h0M177.5 281.4h0M167.2 288.2h0M168.0 277.6h0M182.3 284.8h0M170.4 293.7h0M173.7 281.1h0M186.2 287.7h0M163.1 284.1h0M177.2 288.2h0M168.8 290.2h0M170.1 273.5h0M169.1 278.6h0M174.4 271.1h0M171.5 283.7h0M180.8 282.4h0M168.8 295.0h0M180.5 284.3h0M175.5 292.1h0M180.0 285.3h0M171.2 270.1h0M166.9 281.8h0M173.2 265.6h0M167.5 272.5h0M171.1 273.8h0M170.6 275.4h0M182.0 284.3h0M168.4 290.3h0M177.6 279.8h0M170.9 275.6h0M175.0 290.4h0M170.4 282.9h0M171.0 281.9h0M172.3 273.9h0M183.7 291.5h0M167.3 279.0h0M170.6 291.9h0M166.3 269.1h0M169.6 268.1h0M180.3 288.7h0M173.6 275.6h0M177.2 290.3h0M170.2 280.4h0M175.3 294.2h0M173.5 281.6h0M173.8 263.4h0M166.1 270.5h0M173.5 264.1h0M169.5 285.2h0M176.2 280.4h0M173.4 290.3h0M169.3 265.1h0M175.1 262.6h0M172.9 290.1h0M173.0 262.9h0M173.0 267.1h0M181.4 289.1h0M172.8 272.3h0M181.3 282.9h0M179.6 277.1h0M175.4 294.5h0M169.6 277.7h0M177.3 276.2h0M164.3 286.7h0M174.6 269.2h0M174.8 270.0h0M180.1 290.1h0M184.5 290.7h0M171.7 287.8h0M173.1 297.8h0M169.6 272.3h0M177.9 279.2h0M173.9 285.8h0M173.4 265.6h0M175.3 295.9h0M183.4 289.3h0M177.2 267.7h0M175.3 265.9h0M165.8 290.6h0M163.3 272.4h0M170.9 267.9h0M177.5 284.0h0M176.8 265.6h0M174.4 289.1h0M176.4 292.9h0M177.6 273.7h0M165.6 289.7h0M172.9 298.4h0M169.4 284.1h0M167.9 274.9h0M180.1 288.8h0M173.2 267.8h0M173.6 289.6h0M173.7 275.5h0M176.1 262.3h0M177.5 290.8h0M174.5 268.1h0M171.1 281.3h0M180.2 291.7h0M176.5 273.2h0M167.4 266.7h0M167.8 274.7h0M165.1 288.6h0M167.8 274.4h0M163.7 273.6h0M185.8 290.7h0M163.2 274.9h0M176.4 271.0h0M176.2 269.4h0M173.1 297.2h0M164.8 275.4h0M167.8 279.6h0M177.9 286.9h0M170.8 296.7h0M179.5 276.9h0M174.1 271.0h0M175.0 275.7h0M170.5 266.8h0M180.1 281.2h0M167.6 288.7h0M171.8 271.7h0M177.2 281.8h0M176.8 282.9h0M170.9 294.3h0M166.3 287.6h0M166.8 280.6h0M185.6 289.2h0M176.4 290.8h0M169.0 283.7h0M180.5 291.8h0M172.9 261.9h0M169.1 271.6h0M180.2 285.4h0M169.7 296.1h0M171.6 287.3h0M175.7 290.2h0M183.6 289.8h0M170.3 287.2h0M167.2 291.9h0M170.3 269.8h0M169.3 272.3h0M165.0 278.2h0M177.5 279.9h0M166.2 279.5h0M175.4 274.2h0M185.1 291.7h0M182.1 291.0h0M171.4 265.0h0M180.1 278.5h0M179.0 277.3h0M178.2 289.6h0M178.4 288.0h0M170.2 268.3h0M175.0 283.0h0M169.5 275.1h0M177.8 283.8h0M182.2 291.5h0M171.7 269.7h0M169.4 273.9h0M168.1 272.0h0M183.9 287.3h0M168.2 272.1h0M164.1 270.1h0M176.8 292.4h0M169.9 287.1h0M175.0 301.2h0M172.2 290.1h0M165.4 269.2h0M175.9 263.4h0M163.7 277.6h0M173.8 283.5h0M171.9 282.3h0M175.0 296.8h0M175.8 286.7h0M174.3 295.0h0M165.7 267.7h0M167.2 274.8h0M171.0 287.0h0M178.2 271.2h0M169.1 273.5h0M172.7 294.7h0M164.4 285.9h0M174.5 290.9h0M166.6 273.3h0M169.4 279.9h0" stroke="#c4964e" stroke-width="1.1" stroke-linecap="round" fill="none" opacity="1.0"/>
<path d="M183.8 281.0h0M180.2 266.5h0M190.1 279.6h0M185.9 272.3h0M188.0 273.4h0M189.1 282.5h0M186.3 268.2h0M183.0 276.0h0M180.5 277.5h0M185.0 281.3h0M183.9 265.8h0M184.3 273.7h0M190.4 274.5h0M184.8 281.4h0M194.4 278.5h0M188.2 267.7h0M184.8 266.0h0M191.2 270.6h0M191.7 282.5h0M185.0 283.5h0M177.7 264.4h0M179.9 265.5h0M187.9 279.7h0M190.2 281.6h0M191.5 280.7h0M191.1 274.6h0M186.6 274.1h0M194.5 273.4h0M184.9 281.8h0M189.1 265.0h0M188.8 268.1h0M186.3 264.8h0M186.1 272.2h0M180.7 262.8h0M182.6 271.2h0M188.8 278.2h0M190.2 283.8h0M193.7 275.2h0M182.1 263.2h0M187.1 276.1h0M185.7 263.3h0M183.1 272.9h0M190.9 279.3h0M192.7 275.2h0M182.8 263.3h0M190.4 282.4h0M182.7 282.9h0M182.3 269.5h0M192.2 282.9h0M191.8 279.1h0M189.6 281.9h0M186.0 280.6h0M182.4 279.9h0M178.9 270.5h0M183.0 272.1h0M193.0 277.1h0M179.1 264.7h0M183.0 282.0h0M186.8 271.3h0M184.6 283.9h0M184.2 285.5h0M187.8 273.3h0M190.3 279.3h0M185.8 275.7h0M180.2 268.7h0M181.3 278.1h0M184.4 266.3h0M184.0 280.9h0M188.4 281.8h0M193.3 277.2h0M191.8 280.9h0M183.2 266.2h0M185.3 278.7h0M188.5 271.0h0M191.8 268.0h0M186.0 286.7h0M190.5 271.7h0M186.7 265.4h0M178.9 275.5h0M193.1 275.8h0M193.9 276.7h0M182.9 271.7h0M183.7 272.3h0M180.7 279.0h0M179.9 278.9h0M189.6 280.1h0M184.5 282.8h0M189.6 277.6h0M180.2 269.3h0M189.2 265.8h0M181.3 284.8h0M187.1 282.3h0M179.1 272.7h0M190.5 273.3h0M179.5 272.5h0M183.6 273.1h0M181.4 283.6h0M180.5 274.8h0M193.1 277.8h0M178.2 269.2h0M187.7 278.4h0M187.2 264.4h0M179.9 264.8h0M183.3 278.1h0M186.9 270.2h0M194.5 278.3h0M187.5 270.2h0M193.1 278.0h0M183.0 271.7h0M187.6 282.2h0M184.6 286.5h0M184.1 265.7h0M188.3 277.7h0M186.8 271.0h0M183.6 267.8h0M190.1 279.8h0M188.0 266.0h0M180.8 278.0h0M186.4 270.4h0M192.9 280.2h0M180.9 279.8h0M190.3 276.2h0M184.9 270.0h0M182.4 262.7h0M178.6 270.6h0M183.3 286.1h0M190.6 281.1h0M182.7 264.7h0M193.8 279.0h0M183.5 268.5h0M180.0 280.6h0M188.4 285.5h0M188.3 280.8h0M188.6 272.9h0M187.4 267.2h0M188.8 281.1h0M189.7 282.5h0M193.1 281.7h0M183.1 280.1h0M181.8 265.8h0M188.5 270.0h0M183.1 266.4h0M193.1 278.3h0M191.0 283.9h0M180.7 267.7h0M189.6 276.9h0M191.7 283.6h0M192.7 278.9h0M185.6 273.6h0M188.9 282.2h0M186.7 286.2h0M183.3 285.1h0M188.5 280.2h0M192.3 280.9h0M178.2 266.4h0M182.1 286.4h0M184.9 280.4h0M194.6 275.8h0M191.5 268.0h0M182.5 281.6h0M190.9 276.2h0M183.7 269.0h0M189.5 276.5h0M189.3 278.0h0M178.5 274.2h0M193.0 280.6h0M186.7 284.8h0M187.8 265.4h0M191.0 271.3h0M187.6 278.4h0M193.7 278.2h0M179.4 273.4h0M180.3 280.0h0M180.4 278.0h0M190.8 276.8h0M187.8 274.2h0M191.1 283.1h0M183.5 281.2h0M189.5 282.7h0M189.9 280.7h0M188.8 271.4h0M186.3 272.9h0M187.0 271.0h0M185.3 271.8h0M188.1 276.6h0M180.3 280.2h0M182.2 276.2h0M193.1 278.3h0M190.5 284.3h0M179.9 262.2h0M182.4 285.3h0M188.9 279.3h0M184.4 265.7h0M189.4 267.6h0M177.5 263.2h0M181.9 272.6h0M191.7 268.2h0M194.4 276.2h0M183.9 278.9h0M183.7 280.9h0M186.7 279.2h0M183.7 266.9h0M192.0 278.7h0M192.2 272.5h0M184.9 265.9h0M180.5 272.5h0M191.3 275.4h0M184.0 265.2h0M178.5 263.0h0M184.6 284.9h0M180.0 275.3h0M194.3 273.7h0M180.3 263.7h0M187.2 271.3h0M186.4 265.2h0M179.2 270.6h0M188.7 274.6h0M183.2 276.7h0M185.3 279.6h0M187.3 278.9h0M178.8 273.4h0M181.6 279.7h0M183.4 271.2h0M192.7 275.6h0M183.0 285.1h0M184.2 276.3h0M182.1 275.6h0M195.4 274.6h0M181.5 262.9h0M184.6 269.1h0M192.7 275.7h0M182.2 284.3h0M185.0 274.4h0M179.5 277.3h0M183.7 269.4h0M181.2 271.9h0M183.1 284.9h0M181.2 281.4h0M181.2 266.8h0M189.4 284.7h0M187.0 286.3h0M191.0 277.7h0M182.2 271.4h0M185.5 275.7h0M182.6 283.5h0M192.7 273.4h0M181.3 282.4h0M186.1 279.2h0M192.4 273.9h0M185.4 266.5h0M189.2 277.1h0M182.1 275.2h0M184.1 270.0h0M188.5 277.9h0M186.1 283.4h0M190.8 267.8h0M179.2 267.8h0M182.8 283.0h0M186.8 280.7h0M183.2 283.0h0M178.0 266.3h0M194.2 277.6h0M190.9 282.5h0M180.6 280.0h0M191.3 267.7h0M181.7 269.3h0M186.0 266.1h0M188.1 268.0h0M187.9 265.8h0M187.9 284.3h0M187.7 283.9h0M188.9 279.0h0M180.8 266.0h0M188.4 284.9h0M184.1 280.1h0M185.6 277.6h0M184.9 271.1h0M186.2 277.7h0M190.7 276.5h0M185.5 273.0h0M194.0 278.8h0M189.3 275.0h0M177.9 264.1h0M187.1 271.1h0M183.1 275.5h0M192.0 272.6h0M190.6 267.1h0M179.3 264.0h0M184.2 278.4h0M179.7 273.9h0M181.1 274.7h0M186.9 264.2h0M192.5 277.0h0M180.9 273.7h0M182.5 286.3h0M180.1 269.1h0M191.6 282.1h0M179.3 266.1h0M186.3 276.3h0M181.8 263.4h0M188.0 267.5h0M188.6 272.3h0M192.4 271.5h0M183.3 264.5h0M187.8 273.7h0M183.8 271.5h0M194.1 271.1h0M189.1 264.8h0M188.3 282.7h0M181.7 272.5h0M184.4 266.7h0M181.2 271.6h0M178.4 264.3h0M180.2 267.3h0M190.9 272.1h0M187.0 270.7h0M189.3 269.7h0M184.4 274.9h0M186.0 280.7h0M183.6 276.0h0M181.0 279.9h0M184.1 270.0h0M180.5 276.7h0M192.4 270.3h0M183.0 262.9h0M189.7 284.7h0M180.4 268.3h0M189.1 266.9h0M188.0 268.1h0M184.8 284.6h0M184.9 275.5h0M183.7 272.8h0M181.1 274.0h0M187.0 274.8h0M182.4 279.8h0M181.7 285.1h0M184.6 282.9h0M182.5 282.0h0M188.9 280.8h0M193.0 278.7h0M192.1 276.4h0M178.3 272.2h0M181.8 282.6h0M184.1 263.7h0M181.1 275.2h0M178.4 263.0h0M187.3 277.8h0M192.3 270.9h0M187.5 264.0h0M192.4 282.0h0M181.2 281.8h0M185.3 264.8h0M186.6 263.9h0M182.0 267.2h0M181.8 284.6h0M182.4 262.5h0M179.6 272.8h0M179.7 264.0h0M192.0 279.3h0M186.2 278.1h0M182.1 276.6h0M190.1 269.0h0M180.5 265.2h0M182.9 274.2h0M192.5 272.6h0M183.0 277.8h0M186.1 276.0h0M195.0 275.6h0M183.1 281.2h0M187.7 286.5h0M183.8 273.6h0M185.5 280.8h0M188.2 275.4h0M178.7 264.0h0M182.6 283.8h0M184.5 273.4h0M179.6 277.1h0M190.3 277.9h0M190.6 277.8h0M185.5 280.3h0M191.0 281.0h0M188.9 284.2h0M184.1 276.5h0M189.6 266.7h0M183.1 272.7h0M185.4 265.3h0M188.3 275.2h0M183.3 263.0h0M190.3 276.3h0M184.9 282.1h0M184.8 272.3h0M186.3 285.0h0M184.2 273.9h0M195.0 276.0h0M181.3 271.1h0M192.3 268.3h0M188.8 276.2h0M195.6 275.7h0M195.0 276.2h0M183.9 285.1h0" stroke="#b83c3c" stroke-width="1.1" stroke-linecap="round" fill="none" opacity="1.0"/>
<path d="M183.2 296.4h0M182.6 293.9h0M182.7 302.6h0M185.1 303.5h0M177.3 299.5h0M183.5 305.8h0M180.5 303.2h0M179.9 300.9h0M179.1 306.4h0M178.5 302.1h0M179.6 293.6h0M183.1 292.5h0M182.4 308.3h0M183.8 295.7h0M182.8 305.6h0M181.4 293.0h0M185.1 293.4h0M184.8 307.9h0M177.9 299.5h0M184.1 294.1h0M182.5 305.7h0M185.2 300.6h0M180.9 304.3h0M177.7 298.4h0M180.9 295.3h0M183.8 295.2h0M180.3 298.8h0M183.1 297.0h0M180.6 299.2h0M184.8 303.3h0M183.6 295.2h0M184.3 299.7h0M179.5 291.5h0M180.4 294.6h0M178.9 298.6h0M179.7 299.3h0M178.6 300.5h0M184.3 303.0h0M182.0 296.8h0M179.1 296.8h0M179.6 308.3h0M181.8 292.2h0M184.5 295.1h0M180.9 299.9h0M183.5 298.3h0M180.5 303.7h0M178.1 303.4h0M184.3 298.9h0M178.7 294.5h0M183.9 302.5h0M181.2 293.2h0M183.5 305.3h0M178.4 292.3h0M180.1 302.9h0M183.5 305.8h0M180.3 307.3h0M183.0 303.5h0M180.7 297.9h0M182.9 304.0h0M176.6 300.4h0M182.9 293.5h0M183.9 298.2h0M178.3 297.7h0M185.1 308.5h0M184.2 297.0h0M183.3 309.1h0M183.0 305.7h0M178.5 305.3h0M181.8 298.8h0M184.9 306.3h0M177.9 294.1h0M182.5 304.9h0M180.7 300.8h0M181.6 297.8h0M178.4 305.9h0M183.9 304.9h0M182.9 300.4h0M180.9 308.0h0M184.8 292.6h0M184.1 296.7h0M184.8 305.1h0M178.6 307.3h0M176.8 298.7h0M180.7 301.8h0M177.2 297.3h0M181.9 294.7h0M180.7 302.1h0M183.2 300.1h0M184.0 306.1h0M183.9 299.4h0M183.6 303.3h0M183.8 305.8h0M182.5 294.1h0M182.4 295.9h0M184.0 298.9h0M179.1 308.3h0M177.1 302.1h0M181.2 302.1h0M183.7 307.3h0M179.9 301.8h0M182.2 302.3h0M182.6 292.6h0M182.9 296.6h0M181.0 299.6h0M179.0 307.3h0M179.4 294.0h0M181.5 295.0h0M178.2 305.8h0M185.2 298.5h0M184.3 301.2h0M179.3 295.0h0M181.8 308.4h0M180.8 303.5h0M184.4 300.8h0M178.2 298.9h0M181.5 295.2h0M180.2 292.4h0M182.6 297.3h0M183.1 297.6h0M180.5 299.2h0M179.5 305.7h0M178.2 303.4h0M178.9 304.3h0M179.6 292.4h0M179.0 292.5h0M184.6 297.8h0M177.4 297.4h0M182.7 305.8h0M185.2 309.2h0M182.0 297.4h0M177.0 302.2h0M184.8 297.2h0M179.2 304.5h0M181.5 299.5h0M177.0 302.5h0M185.0 306.4h0M180.0 302.6h0M182.5 300.0h0M181.0 298.0h0M183.8 296.9h0M184.9 302.0h0M180.5 305.9h0M179.4 294.7h0M183.7 308.5h0M183.4 302.0h0M179.7 291.5h0M183.2 304.8h0M177.9 304.8h0M178.4 302.8h0M185.1 307.2h0M181.8 300.8h0M184.6 292.8h0M183.8 299.6h0M184.3 307.6h0M181.9 305.0h0M180.1 303.0h0M182.0 304.7h0M178.3 299.6h0M178.4 295.3h0M181.3 292.6h0M180.7 293.6h0M177.9 304.5h0M180.4 296.1h0M183.9 297.9h0M185.3 302.9h0M183.2 302.1h0M182.0 291.8h0M183.9 304.9h0M181.6 292.7h0M183.8 307.9h0M178.7 300.9h0M182.0 307.2h0M183.4 301.2h0M177.7 298.9h0M183.4 299.2h0M180.5 307.3h0M182.9 295.2h0M181.6 306.0h0M177.7 294.2h0M184.6 303.1h0M181.8 302.3h0M179.5 297.7h0M183.5 294.5h0M178.6 295.7h0M183.9 309.0h0M179.9 301.9h0M185.0 303.9h0M183.2 308.8h0M183.0 293.3h0M181.4 291.8h0M181.7 297.8h0M184.9 292.8h0M177.9 293.8h0M182.2 297.5h0M180.6 308.3h0M181.3 306.1h0M181.4 298.4h0M180.7 302.4h0M178.3 302.2h0M179.3 308.5h0M181.6 305.5h0M182.5 302.8h0M184.8 306.5h0M177.7 303.2h0M178.0 306.8h0M182.1 297.8h0M181.4 305.5h0M183.1 293.6h0M183.3 298.0h0M177.0 302.3h0M184.2 304.2h0M181.1 302.9h0M183.0 295.5h0M177.8 293.9h0M178.1 307.3h0M182.0 299.4h0M182.9 305.7h0M181.3 294.7h0M181.7 306.1h0M183.3 307.5h0M180.0 293.5h0M184.9 306.3h0M181.4 296.3h0M180.6 304.6h0M184.7 301.9h0M182.7 296.0h0M182.5 291.9h0M180.8 298.0h0M184.4 306.7h0M182.5 302.1h0M185.3 307.2h0M185.1 307.2h0M182.9 298.7h0M179.2 305.7h0M182.4 303.7h0M178.2 294.4h0M184.8 307.6h0M177.6 304.4h0M177.8 298.3h0M180.9 295.0h0M179.5 304.2h0M179.2 305.7h0M183.0 296.3h0M182.2 305.5h0M182.3 298.7h0M182.4 296.8h0M184.7 291.5h0M180.7 304.9h0M184.6 291.8h0M177.5 302.8h0" stroke="#8ccf96" stroke-width="1.1" stroke-linecap="round" fill="none" opacity="1.0"/>
<path d="M180.7 314.9h0M183.2 316.5h0M184.1 318.6h0M184.2 329.3h0M186.7 331.7h0M186.3 324.9h0M184.7 325.6h0M180.7 317.3h0M181.4 318.7h0M185.2 327.5h0M186.3 333.4h0M182.6 322.4h0M184.6 313.9h0M186.5 330.0h0M177.9 311.1h0M178.6 312.1h0M187.6 337.4h0M180.4 311.1h0M185.9 333.3h0M179.5 316.8h0M187.4 332.3h0M188.3 339.0h0M184.5 316.9h0M185.3 323.4h0M186.5 337.0h0M183.9 326.4h0M178.9 314.0h0M188.9 339.9h0M182.4 317.3h0M184.8 311.2h0M182.1 323.1h0M184.8 329.8h0M183.7 325.7h0M185.9 330.8h0M180.0 318.4h0M181.6 312.4h0M181.2 316.4h0M182.1 310.2h0M179.9 315.2h0M185.5 312.3h0M181.4 314.1h0M181.8 317.3h0M182.5 324.0h0M183.8 316.9h0M179.3 309.7h0M185.1 333.3h0M185.2 330.9h0M184.6 315.0h0M179.0 317.1h0M180.7 321.3h0M186.2 336.5h0M182.1 324.8h0M181.4 312.4h0M183.6 317.4h0M187.1 335.6h0M185.0 321.2h0M183.3 313.5h0M184.7 333.5h0M186.7 334.4h0M185.4 325.8h0M181.9 311.8h0M181.4 310.4h0M181.5 322.6h0M181.1 319.6h0M186.1 334.9h0M179.6 318.8h0M187.0 334.7h0M180.2 309.8h0M177.9 308.9h0M180.3 309.3h0M184.3 332.0h0M185.3 314.8h0M185.9 333.8h0M181.7 315.8h0M179.3 311.7h0M184.3 310.1h0M188.1 336.1h0M183.3 314.5h0M185.7 317.2h0M183.3 310.1h0M184.5 327.6h0M185.3 313.1h0M185.0 332.4h0M185.4 312.2h0M184.8 316.9h0M182.8 324.0h0M179.8 314.2h0M184.1 320.6h0M183.3 326.1h0M188.2 338.7h0M186.0 326.8h0M183.1 315.8h0M185.6 334.7h0M182.4 312.8h0M185.4 320.2h0M178.8 309.9h0M179.4 308.5h0M181.4 308.8h0M183.4 319.0h0M185.4 316.5h0M182.2 311.4h0M181.4 312.5h0M180.2 315.5h0M185.6 330.1h0M184.8 323.7h0M186.6 325.7h0M184.5 331.3h0M185.9 328.5h0M185.9 323.3h0M179.6 312.1h0M182.2 312.7h0M185.2 318.7h0M181.0 323.2h0M182.1 325.0h0M185.0 320.7h0M186.7 326.5h0M180.6 311.4h0M186.8 334.0h0M181.7 314.7h0M183.4 319.6h0M184.8 329.7h0M180.2 309.9h0M184.0 311.1h0M183.0 316.4h0M179.3 310.0h0M182.6 324.6h0M180.7 319.5h0M185.7 319.1h0M182.0 320.0h0M180.6 312.3h0M182.5 327.9h0M183.1 316.7h0M183.5 330.1h0M183.9 326.4h0M183.8 321.4h0M184.5 315.8h0M183.6 315.9h0M179.4 316.4h0M184.6 329.4h0M180.5 316.1h0M180.5 319.0h0M184.3 329.9h0M177.9 309.7h0M181.3 311.1h0M186.6 331.6h0M182.6 317.5h0M180.3 319.9h0M178.7 311.2h0M180.5 313.0h0M181.8 322.5h0M182.8 325.1h0M184.7 333.4h0M180.7 321.9h0M178.8 308.8h0M185.2 317.4h0M182.3 325.7h0M186.7 327.5h0M187.6 334.3h0M188.1 338.5h0M186.1 329.1h0M181.2 321.3h0M185.2 314.4h0M185.2 332.0h0M181.8 313.8h0M185.3 326.2h0M183.5 322.4h0M181.0 317.3h0M181.9 317.1h0M179.3 318.0h0M184.8 328.7h0M178.1 312.1h0M182.1 321.3h0M185.3 330.1h0M181.5 309.0h0M184.7 312.8h0M182.8 319.9h0M185.5 327.9h0M182.9 315.9h0M188.5 339.0h0M185.2 316.4h0M183.4 324.6h0M181.8 315.6h0M184.9 310.3h0M183.9 325.8h0M181.7 309.9h0M183.4 313.7h0M183.7 316.7h0M185.2 314.4h0M180.1 315.7h0M182.5 319.1h0M185.7 327.6h0M182.1 321.2h0M184.1 319.7h0M184.9 330.3h0M187.5 335.7h0M181.7 320.2h0M185.5 330.3h0M182.4 314.9h0M186.6 326.8h0M188.3 338.0h0M183.9 314.1h0M178.4 313.7h0M180.1 309.8h0M185.9 324.3h0M180.3 319.4h0M184.6 312.8h0M185.8 330.6h0M185.2 315.5h0M186.1 321.3h0M187.2 334.3h0M183.9 320.7h0M179.5 316.2h0M183.2 316.8h0M185.9 331.8h0M179.4 317.2h0M185.5 326.9h0M185.7 317.0h0M187.8 333.4h0M183.1 325.6h0M188.9 340.3h0M185.5 326.5h0M186.8 327.7h0M183.6 308.6h0M185.4 329.7h0M185.9 323.7h0M183.7 317.5h0M179.2 314.0h0M187.0 332.3h0M185.3 323.3h0M185.3 326.0h0M185.0 324.7h0M188.2 335.7h0M180.4 313.9h0M182.5 311.9h0M180.0 309.3h0M180.4 311.7h0M181.6 323.2h0M184.0 324.3h0M182.4 318.0h0M185.9 320.6h0M178.1 309.9h0M180.5 316.6h0M184.2 317.2h0M182.0 313.1h0M186.5 336.2h0M184.6 315.2h0M187.7 333.3h0M184.7 330.9h0M179.1 312.2h0M182.2 309.5h0" stroke="#7399d0" stroke-width="1.1" stroke-linecap="round" fill="none" opacity="1.0"/>
<path d="M222.7 282.0L230.7 278.4L235.2 282.0L233.4 291.0L229.9 299.9L225.4 304.4L222.7 296.3L221.8 289.0Z" fill="#c0703c"/>
<path d="M235.2 285.5L239.7 291.0L241.0 298.0L238.8 305.3L233.4 309.8L228.0 308.9L225.4 304.4L229.9 297.0L233.4 291.0Z" fill="#8462d2"/>
<path d="M231.5 279.4h0M228.0 296.7h0M231.6 282.5h0M225.1 284.1h0M230.1 290.0h0M223.5 291.0h0M227.2 286.0h0M224.8 289.2h0M225.1 298.4h0M228.8 298.9h0M231.3 284.9h0M229.9 295.7h0M222.3 292.8h0M231.9 293.4h0M231.8 286.2h0M227.6 300.2h0M230.7 291.7h0M231.5 288.5h0M230.2 283.4h0M223.9 292.2h0M226.6 293.1h0M227.1 291.3h0M233.6 291.6h0M223.7 289.2h0M226.1 285.2h0M224.1 293.0h0M230.6 280.4h0M227.2 294.3h0M232.9 282.1h0M227.2 292.3h0M234.8 284.2h0M231.6 281.5h0M235.4 282.1h0M234.4 283.6h0M228.5 297.2h0M227.0 298.9h0M232.0 279.6h0M231.7 280.5h0M230.7 296.5h0M226.6 285.1h0M223.9 286.7h0M227.1 302.3h0M228.0 291.7h0M224.4 299.7h0M223.7 285.1h0M232.4 290.6h0M225.3 293.7h0M228.9 279.6h0M230.7 290.7h0M227.0 300.6h0M223.7 284.8h0M223.7 299.9h0M228.4 296.5h0M222.1 294.8h0M226.6 298.8h0M222.7 288.0h0M224.8 285.1h0M233.0 288.0h0M222.3 291.1h0M226.5 297.4h0M231.4 297.1h0M230.3 296.2h0M223.9 299.1h0M235.5 282.0h0M225.4 300.0h0M231.1 284.7h0M230.1 300.0h0M225.8 287.7h0M229.4 295.8h0M230.8 288.4h0M228.0 284.9h0M226.5 300.5h0M228.3 295.2h0M226.6 296.1h0M226.9 293.1h0M230.7 286.9h0M227.0 291.4h0M228.8 296.9h0M231.2 293.2h0M226.9 282.3h0M226.7 299.6h0M229.2 286.1h0M226.1 290.3h0M228.1 300.2h0M230.6 297.9h0M224.1 291.3h0M235.3 281.8h0M231.4 293.5h0M223.2 290.6h0M232.6 281.4h0M224.5 299.3h0M226.4 302.5h0M228.2 279.7h0M228.1 284.5h0M222.2 288.3h0M229.2 288.8h0M232.0 289.8h0M230.3 284.5h0M224.2 292.7h0M228.2 282.2h0M231.4 290.4h0M224.4 285.9h0M232.2 286.7h0M226.1 291.8h0M233.9 283.8h0M226.1 303.8h0M231.4 282.4h0M226.7 298.6h0M228.5 293.2h0M228.1 301.8h0M231.4 287.3h0M226.8 283.0h0M227.2 287.2h0M224.4 300.2h0M234.4 285.9h0M224.3 296.2h0M229.4 300.2h0M223.4 293.2h0M226.5 301.7h0M227.2 300.9h0M225.2 289.6h0M227.5 298.0h0M226.3 291.1h0M229.5 292.7h0M222.9 293.5h0M224.5 291.5h0M227.6 289.0h0M224.4 281.5h0M229.8 297.6h0M224.4 281.5h0M234.3 284.5h0M233.9 289.6h0M225.0 283.4h0M224.9 291.0h0M223.9 296.6h0M230.4 287.3h0M231.4 282.3h0M230.0 289.1h0M226.4 288.6h0M230.1 280.5h0M229.6 291.3h0M226.7 288.3h0M225.3 301.6h0M223.5 286.9h0M225.5 292.8h0M225.1 299.2h0M224.9 294.8h0M232.2 283.3h0M223.7 293.0h0M225.0 280.7h0M225.2 295.1h0M227.4 296.0h0M224.4 286.6h0M226.4 302.0h0M223.4 285.4h0M223.8 290.7h0M225.4 295.9h0M230.8 287.1h0M232.9 285.6h0M225.6 291.3h0M227.9 288.9h0M231.5 294.6h0M225.0 283.4h0M233.2 289.0h0M232.6 292.3h0M233.3 292.2h0M227.0 290.7h0M227.1 293.0h0M229.4 288.7h0M231.5 292.0h0M225.0 286.1h0M228.9 287.5h0M222.0 286.6h0M225.1 292.8h0M227.4 288.5h0M226.8 283.3h0M229.0 283.1h0M231.4 292.1h0M233.9 286.2h0M226.5 297.7h0M224.9 302.0h0M223.1 297.1h0M232.4 279.5h0M225.1 293.7h0M227.1 294.7h0M235.1 282.3h0M231.4 296.5h0M224.0 294.0h0M231.7 281.6h0M227.6 280.9h0M233.1 280.6h0M229.6 300.7h0M224.8 295.7h0M231.0 282.0h0M223.6 299.0h0M227.9 284.7h0M230.0 297.2h0M223.0 286.6h0M221.7 288.2h0M228.6 280.7h0M233.0 283.4h0M234.9 283.4h0M224.6 290.1h0M225.8 282.2h0M223.1 292.7h0M230.6 282.1h0M230.2 292.7h0M225.0 293.6h0M227.8 294.9h0M230.2 294.5h0M223.5 298.4h0M225.5 290.5h0M231.8 293.5h0M221.7 289.8h0M226.2 283.3h0M230.6 293.6h0M228.5 293.6h0M230.1 289.9h0M226.8 282.0h0M223.0 296.2h0M225.3 302.4h0M231.9 295.1h0M230.4 290.4h0M223.9 294.8h0M231.7 278.8h0M228.8 292.8h0M228.9 285.9h0M232.4 292.7h0M221.6 290.1h0M226.2 296.1h0M222.9 297.5h0M232.5 283.2h0M230.2 293.2h0M221.8 286.8h0M231.0 295.2h0M224.4 292.1h0M223.7 294.3h0M226.9 291.2h0M225.8 296.1h0M228.5 289.3h0M227.7 281.3h0M226.2 287.3h0M230.4 284.9h0M234.8 281.2h0M230.3 297.7h0M226.8 285.3h0M233.6 288.9h0M229.8 299.4h0M224.3 282.2h0M226.2 286.0h0" stroke="#c0703c" stroke-width="1.1" stroke-linecap="round" fill="none" opacity="1.0"/>
<path d="M234.6 303.7h0M230.8 301.4h0M236.9 300.0h0M236.6 303.1h0M239.7 295.5h0M232.4 294.9h0M234.0 289.0h0M234.2 301.7h0M231.4 309.7h0M235.3 290.2h0M232.4 295.8h0M229.8 296.9h0M230.6 306.5h0M235.0 294.3h0M236.4 307.1h0M233.9 297.5h0M231.8 297.1h0M238.1 296.3h0M237.5 306.6h0M240.4 297.1h0M235.6 302.5h0M233.6 295.8h0M230.9 309.8h0M239.3 304.9h0M230.7 305.9h0M230.9 302.0h0M238.1 292.0h0M226.7 306.8h0M227.1 301.4h0M225.6 303.3h0M240.1 294.7h0M239.4 294.6h0M239.0 292.5h0M226.0 306.0h0M240.8 294.9h0M228.0 309.1h0M234.0 298.6h0M230.3 304.1h0M236.1 286.4h0M229.5 304.6h0M234.4 294.8h0M234.6 291.6h0M239.8 292.5h0M239.1 292.8h0M229.6 301.4h0M238.8 296.5h0M236.9 291.6h0M227.6 302.8h0M226.6 307.2h0M229.3 301.5h0M235.1 290.8h0M228.4 304.3h0M232.3 296.4h0M237.2 297.4h0M229.4 308.4h0M227.8 308.0h0M239.6 299.2h0M230.2 305.8h0M228.3 299.9h0M232.8 296.1h0M231.6 296.9h0M237.9 291.8h0M235.1 304.4h0M235.8 293.2h0M230.1 297.5h0M234.7 309.0h0M227.9 301.1h0M238.6 293.0h0M232.5 303.3h0M232.9 296.8h0M233.1 291.1h0M233.4 305.8h0M234.5 291.0h0M236.5 302.0h0M236.3 289.0h0M233.6 290.3h0M229.4 297.6h0M227.9 304.6h0M234.8 296.3h0M232.5 308.1h0M226.7 306.1h0M230.7 308.8h0M231.3 306.3h0M237.5 292.8h0M233.1 304.1h0M236.9 291.7h0M236.1 291.2h0M228.3 308.1h0M232.8 303.8h0M229.1 299.8h0M236.1 305.1h0M236.6 295.2h0M228.3 301.1h0M237.2 289.5h0M237.3 306.6h0M240.1 300.3h0M227.0 307.8h0M231.4 298.6h0M235.2 293.4h0M229.6 301.7h0M236.1 286.5h0M238.3 295.6h0M237.4 291.6h0M240.3 299.8h0M234.5 304.3h0M240.5 300.4h0M227.2 307.4h0M232.6 303.5h0M238.3 296.7h0M231.2 301.9h0M235.5 291.3h0M232.9 306.8h0M231.5 295.2h0M226.9 306.8h0M238.5 296.7h0M228.9 305.3h0M237.1 305.2h0M234.7 297.7h0M239.9 291.8h0M236.1 292.8h0M237.2 303.1h0M230.4 296.5h0M237.3 295.9h0M231.2 305.9h0M229.9 299.1h0M234.2 299.4h0M234.6 293.0h0M235.3 300.7h0M228.4 302.0h0M238.3 297.1h0M235.4 299.8h0M235.0 302.3h0M235.8 305.6h0M239.2 294.6h0M235.2 302.7h0M237.6 288.4h0M238.0 298.8h0M240.2 299.1h0M235.6 294.4h0M237.4 289.5h0M236.6 304.1h0M234.2 304.2h0M234.5 301.0h0M233.0 300.0h0M237.3 295.8h0M231.2 304.0h0M228.1 304.1h0M236.2 287.7h0M238.1 293.6h0M239.3 297.3h0M235.9 304.6h0M227.1 306.4h0M239.4 295.4h0M227.7 301.5h0M226.9 305.7h0M234.3 298.5h0M229.6 301.1h0M231.3 301.4h0M234.3 299.5h0M232.2 305.8h0M237.9 301.4h0M233.0 308.9h0M233.5 296.8h0M231.0 296.9h0M238.2 295.0h0M234.7 298.6h0M232.2 295.3h0M234.3 287.7h0M238.7 304.6h0M237.9 300.8h0M234.9 286.7h0M234.0 293.9h0M239.5 299.3h0M227.9 302.9h0M238.9 294.9h0M229.9 305.1h0M234.6 299.8h0M233.0 298.2h0M227.6 303.4h0M230.5 306.9h0M236.6 303.5h0M237.5 288.5h0M233.9 291.2h0M229.9 302.0h0M236.5 297.4h0M235.7 300.2h0M240.2 301.5h0M233.0 291.4h0M231.1 309.2h0M230.1 302.3h0M234.3 295.0h0M235.2 297.6h0M228.9 305.6h0M238.1 303.9h0M231.9 294.0h0M235.4 300.2h0M233.2 305.2h0M234.0 298.4h0M236.5 302.8h0M239.8 296.1h0M236.0 302.6h0M232.5 301.9h0M235.9 301.0h0M229.4 298.9h0M240.2 297.0h0M239.0 299.3h0M239.7 295.1h0M237.4 295.7h0M237.5 303.2h0M239.4 299.7h0M229.5 306.6h0M234.2 296.3h0M238.3 302.3h0M234.0 309.1h0M238.6 301.7h0M233.6 302.6h0M229.0 304.4h0M234.9 297.3h0M236.0 294.4h0M232.5 295.8h0M240.8 298.7h0M236.6 294.8h0M233.6 290.2h0M233.7 302.4h0M231.0 297.1h0M237.4 293.4h0M231.1 296.7h0M228.0 305.9h0M238.7 305.5h0M238.7 292.5h0M238.7 301.4h0M239.3 293.3h0M233.3 291.3h0M235.6 291.6h0M229.1 305.2h0M238.1 298.2h0M230.3 306.2h0M235.1 301.4h0M239.4 293.1h0M231.2 296.0h0M237.5 293.3h0M231.1 300.6h0M231.8 306.1h0M230.0 299.8h0M228.9 298.3h0M228.4 306.9h0M234.0 309.4h0M230.7 301.6h0M232.0 300.5h0M238.2 297.0h0M226.5 306.4h0M226.4 306.6h0M231.3 295.3h0M228.2 302.1h0M238.1 296.9h0M232.0 296.2h0M235.9 300.6h0M235.7 295.8h0M237.2 296.3h0M232.2 307.2h0M231.5 303.2h0M228.2 300.1h0M230.9 301.4h0M239.0 292.8h0M227.1 305.8h0M237.1 291.2h0M228.5 301.9h0M234.8 291.1h0M232.9 301.0h0M237.6 291.2h0M229.8 304.0h0M233.5 290.0h0M238.1 298.2h0M228.2 308.7h0M235.6 295.8h0M236.5 296.7h0M232.6 297.9h0M231.1 306.8h0M228.8 302.0h0M231.9 295.6h0M230.2 298.3h0M231.2 299.4h0M235.0 305.0h0M233.3 299.9h0M237.1 302.5h0M235.3 294.6h0M240.0 298.9h0M234.0 302.2h0M238.3 294.4h0M235.4 288.4h0M235.1 295.3h0M233.3 306.1h0M230.4 299.5h0M238.3 288.9h0M228.3 299.6h0M239.0 295.7h0M231.6 293.9h0M229.3 304.4h0M229.2 306.5h0M232.3 292.8h0" stroke="#8462d2" stroke-width="1.1" stroke-linecap="round" fill="none" opacity="1.0"/>
<path d="M218.4 288.8h0M219.8 296.3h0M216.3 294.0h0M220.0 292.5h0M217.5 290.1h0M219.5 294.5h0M219.2 290.3h0M217.3 295.7h0M222.0 293.7h0M218.3 289.9h0M217.9 295.5h0M216.8 293.1h0M217.9 291.3h0M215.8 294.1h0M216.3 294.8h0M216.2 290.5h0M222.6 291.5h0M219.4 295.2h0M221.3 289.3h0M221.3 290.2h0M219.2 289.9h0M221.1 292.5h0M219.4 295.3h0M220.5 290.5h0M221.3 295.9h0M218.7 293.4h0M217.9 295.8h0M217.9 296.7h0M218.6 289.1h0M219.8 295.3h0M221.4 293.0h0M218.2 292.1h0M217.8 294.9h0M220.4 288.8h0M221.1 290.7h0M218.4 292.7h0M219.4 290.6h0M216.3 290.4h0M220.2 290.3h0M221.0 294.3h0" stroke="#5c9a50" stroke-width="1.1" stroke-linecap="round" fill="none" opacity="1.0"/>
<path d="M231.3 313.4h0M229.4 315.6h0M232.9 311.5h0M232.6 314.3h0M231.2 314.0h0M231.9 315.7h0M231.4 312.2h0M230.4 315.4h0M232.1 315.1h0M231.9 315.6h0M233.1 311.2h0M227.9 315.7h0M231.8 314.9h0M232.2 313.6h0M234.1 312.0h0M228.0 315.9h0M229.2 315.6h0M233.7 312.5h0M231.3 313.1h0M229.3 314.5h0M232.0 312.4h0M231.9 315.6h0M232.8 314.5h0M228.6 315.6h0M233.1 313.1h0M234.5 310.9h0M232.5 312.0h0M229.3 314.5h0M230.4 313.5h0M233.0 313.4h0M232.4 315.0h0M233.2 313.0h0M232.4 312.7h0M228.8 316.4h0M230.2 315.5h0M234.1 311.9h0M228.9 315.0h0M231.7 312.6h0M229.6 314.6h0M233.5 311.8h0" stroke="#c8a428" stroke-width="1.1" stroke-linecap="round" fill="none" opacity="1.0"/>
<path d="M220.2 317 L223 314 L225.5 311" stroke="#c462c8" stroke-width="1.1" fill="none"/>
<line x1="159.25" y1="257.5" x2="159.25" y2="343.2" stroke="#231f20" stroke-width="1.1"/>
<line x1="158.75" y1="343.2" x2="245.25" y2="343.2" stroke="#231f20" stroke-width="1.1"/>
<line x1="157.05" y1="261.25" x2="159.25" y2="261.25" stroke="#231f20" stroke-width="0.9"/>
<line x1="157.05" y1="287.7" x2="159.25" y2="287.7" stroke="#231f20" stroke-width="0.9"/>
<line x1="157.05" y1="314.1" x2="159.25" y2="314.1" stroke="#231f20" stroke-width="0.9"/>
<line x1="157.05" y1="340.5" x2="159.25" y2="340.5" stroke="#231f20" stroke-width="0.9"/>
<line x1="177.0" y1="343.2" x2="177.0" y2="345.4" stroke="#231f20" stroke-width="0.9"/>
<line x1="195.75" y1="343.2" x2="195.75" y2="345.4" stroke="#231f20" stroke-width="0.9"/>
<line x1="214.25" y1="343.2" x2="214.25" y2="345.4" stroke="#231f20" stroke-width="0.9"/>
<line x1="232.75" y1="343.2" x2="232.75" y2="345.4" stroke="#231f20" stroke-width="0.9"/>
<circle cx="256.40" cy="259.50" r="2.50" fill="#c4964e"/>
<text x="261.1" y="262.1" font-size="7.1" textLength="19" lengthAdjust="spacingAndGlyphs" stroke="#231f20" stroke-width="0.12">SEC–1</text>
<circle cx="256.40" cy="269.50" r="2.50" fill="#b83c3c"/>
<text x="261.1" y="272.1" font-size="7.1" textLength="19" lengthAdjust="spacingAndGlyphs" stroke="#231f20" stroke-width="0.12">SEC–2</text>
<circle cx="256.40" cy="280.30" r="2.50" fill="#7399d0"/>
<text x="261.1" y="282.90000000000003" font-size="7.1" textLength="35.5" lengthAdjust="spacingAndGlyphs" stroke="#231f20" stroke-width="0.12">Arterial ECs</text>
<circle cx="256.40" cy="290.30" r="2.50" fill="#8ccf96"/>
<text x="261.1" y="292.90000000000003" font-size="7.1" textLength="41.8" lengthAdjust="spacingAndGlyphs" stroke="#231f20" stroke-width="0.12">Arteriolar ECs</text>
<circle cx="256.40" cy="301.50" r="2.50" fill="#8462d2"/>
<text x="261.1" y="304.1" font-size="7.1" textLength="20" lengthAdjust="spacingAndGlyphs" stroke="#231f20" stroke-width="0.12">Lepr–1</text>
<circle cx="256.40" cy="311.20" r="2.50" fill="#c0703c"/>
<text x="261.1" y="313.8" font-size="7.1" textLength="20" lengthAdjust="spacingAndGlyphs" stroke="#231f20" stroke-width="0.12">Lepr–2</text>
<circle cx="256.40" cy="321.00" r="2.50" fill="#5c9a50"/>
<text x="261.1" y="323.6" font-size="7.1" textLength="20" lengthAdjust="spacingAndGlyphs" stroke="#231f20" stroke-width="0.12">Lepr–3</text>
<circle cx="256.40" cy="330.50" r="2.50" fill="#c8a428"/>
<text x="261.1" y="333.1" font-size="7.1" textLength="20" lengthAdjust="spacingAndGlyphs" stroke="#231f20" stroke-width="0.12">Lepr–4</text>
<circle cx="256.40" cy="340.00" r="2.50" fill="#c462c8"/>
<text x="261.1" y="342.6" font-size="7.1" textLength="20" lengthAdjust="spacingAndGlyphs" stroke="#231f20" stroke-width="0.12">Lepr–5</text>
<text x="320.2" y="246.7" font-size="12.2" font-weight="bold" fill="#000" stroke="#000" stroke-width="0.12">F</text>
<text x="372.8" y="249.4" font-size="6.8" text-anchor="middle" textLength="15.3" lengthAdjust="spacingAndGlyphs" stroke="#231f20" stroke-width="0.12">SECs</text>
<text x="420.2" y="249.4" font-size="6.8" text-anchor="middle" textLength="16.7" lengthAdjust="spacingAndGlyphs" stroke="#231f20" stroke-width="0.12">AECs</text>
<line x1="360.3" y1="252" x2="360.3" y2="343.2" stroke="#231f20" stroke-width="1.1"/>
<line x1="359.8" y1="343.2" x2="440.3" y2="343.2" stroke="#231f20" stroke-width="1.1"/>
<line x1="357.3" y1="259.6" x2="360.3" y2="259.6" stroke="#231f20" stroke-width="0.9"/>
<text x="354.6" y="261.90000000000003" font-size="6.8" text-anchor="end" font-style="italic" textLength="24.4" lengthAdjust="spacingAndGlyphs" stroke="#231f20" stroke-width="0.12">Cdkn1a</text>
<line x1="357.3" y1="269.8" x2="360.3" y2="269.8" stroke="#231f20" stroke-width="0.9"/>
<text x="354.6" y="272.1" font-size="6.8" text-anchor="end" font-style="italic" textLength="10.6" lengthAdjust="spacingAndGlyphs" stroke="#231f20" stroke-width="0.12">Irf7</text>
<line x1="357.3" y1="280.7" x2="360.3" y2="280.7" stroke="#231f20" stroke-width="0.9"/>
<text x="354.6" y="283.0" font-size="6.8" text-anchor="end" font-style="italic" textLength="10.6" lengthAdjust="spacingAndGlyphs" stroke="#231f20" stroke-width="0.12">Irf1</text>
<line x1="357.3" y1="291.9" x2="360.3" y2="291.9" stroke="#231f20" stroke-width="0.9"/>
<text x="354.6" y="294.2" font-size="6.8" text-anchor="end" font-style="italic" textLength="15.5" lengthAdjust="spacingAndGlyphs" stroke="#231f20" stroke-width="0.12">Stat1</text>
<line x1="357.3" y1="303.3" x2="360.3" y2="303.3" stroke="#231f20" stroke-width="0.9"/>
<text x="354.6" y="305.6" font-size="6.8" text-anchor="end" textLength="17.8" lengthAdjust="spacingAndGlyphs" stroke="#231f20" stroke-width="0.12">Ifi204</text>
<line x1="357.3" y1="314.4" x2="360.3" y2="314.4" stroke="#231f20" stroke-width="0.9"/>
<text x="354.6" y="316.7" font-size="6.8" text-anchor="end" font-style="italic" textLength="20.6" lengthAdjust="spacingAndGlyphs" stroke="#231f20" stroke-width="0.12">Cxcl10</text>
<line x1="357.3" y1="325.7" x2="360.3" y2="325.7" stroke="#231f20" stroke-width="0.9"/>
<text x="354.6" y="328.0" font-size="6.8" text-anchor="end" font-style="italic" textLength="16.3" lengthAdjust="spacingAndGlyphs" stroke="#231f20" stroke-width="0.12">Cxcl9</text>
<line x1="357.3" y1="336.6" x2="360.3" y2="336.6" stroke="#231f20" stroke-width="0.9"/>
<text x="354.6" y="338.90000000000003" font-size="6.8" text-anchor="end" font-style="italic" textLength="20.6" lengthAdjust="spacingAndGlyphs" stroke="#231f20" stroke-width="0.12">Cxcl12</text>
<line x1="371.8" y1="343.2" x2="371.8" y2="345.3" stroke="#231f20" stroke-width="0.9"/>
<line x1="389.3" y1="343.2" x2="389.3" y2="345.3" stroke="#231f20" stroke-width="0.9"/>
<line x1="408.5" y1="343.2" x2="408.5" y2="345.3" stroke="#231f20" stroke-width="0.9"/>
<line x1="428.1" y1="343.2" x2="428.1" y2="345.3" stroke="#231f20" stroke-width="0.9"/>
<circle cx="371.80" cy="259.60" r="1.20" fill="#cccccc"/>
<circle cx="389.30" cy="259.60" r="2.30" fill="#8a7ae0"/>
<circle cx="408.50" cy="259.60" r="1.70" fill="#a498da"/>
<circle cx="428.10" cy="259.60" r="2.50" fill="#2a1ef0"/>
<circle cx="371.80" cy="269.80" r="0.35" fill="#dddddd"/>
<circle cx="389.30" cy="269.80" r="1.10" fill="#6050e0"/>
<circle cx="408.50" cy="269.80" r="0.50" fill="#b8b0e0"/>
<circle cx="428.10" cy="269.80" r="1.10" fill="#1a10f0"/>
<circle cx="371.80" cy="280.70" r="2.10" fill="#cacad2"/>
<circle cx="389.30" cy="280.70" r="3.30" fill="#5a44e8"/>
<circle cx="408.50" cy="280.70" r="2.10" fill="#c2bed8"/>
<circle cx="428.10" cy="280.70" r="2.80" fill="#6a54e4"/>
<circle cx="371.80" cy="291.90" r="2.60" fill="#c2bcdc"/>
<circle cx="389.30" cy="291.90" r="3.60" fill="#2222f0"/>
<circle cx="408.50" cy="291.90" r="2.10" fill="#cacad2"/>
<circle cx="428.10" cy="291.90" r="2.90" fill="#9282e0"/>
<circle cx="371.80" cy="303.30" r="2.10" fill="#a99ade"/>
<circle cx="389.30" cy="303.30" r="2.90" fill="#1a12f2"/>
<circle cx="408.50" cy="303.30" r="1.70" fill="#cacaca"/>
<circle cx="428.10" cy="303.30" r="2.10" fill="#9c8ade"/>
<circle cx="371.80" cy="314.40" r="0.70" fill="#a99ade"/>
<circle cx="389.30" cy="314.40" r="2.25" fill="#1010f2"/>
<circle cx="408.50" cy="314.40" r="0.25" fill="#dddddd"/>
<circle cx="428.10" cy="314.40" r="1.00" fill="#7a68e0"/>
<circle cx="371.80" cy="325.70" r="1.90" fill="#b2a8de"/>
<circle cx="389.30" cy="325.70" r="3.10" fill="#0c0cf2"/>
<circle cx="408.50" cy="325.70" r="1.00" fill="#a294dc"/>
<circle cx="428.10" cy="325.70" r="2.10" fill="#9282e0"/>
<circle cx="371.80" cy="336.60" r="0.40" fill="#dddddd"/>
<circle cx="389.30" cy="336.60" r="0.35" fill="#dddddd"/>
<circle cx="408.50" cy="336.60" r="2.40" fill="#2a22f0"/>
<circle cx="428.10" cy="336.60" r="1.70" fill="#6048e2"/>
<text x="372.6" y="354.8" font-size="7" font-style="italic" text-anchor="middle" textLength="14.1" lengthAdjust="spacingAndGlyphs" stroke="#231f20" stroke-width="0.12">Vc<tspan font-size="4.90" dy="-3.50">fl/fl</tspan></text>
<text x="390.1" y="354.8" font-size="7" font-style="italic" text-anchor="middle" textLength="16.9" lengthAdjust="spacingAndGlyphs" stroke="#231f20" stroke-width="0.12">Vc<tspan font-size="4.90" dy="-3.50">iΔEC</tspan></text>
<text x="409.3" y="354.8" font-size="7" font-style="italic" text-anchor="middle" textLength="14" lengthAdjust="spacingAndGlyphs" stroke="#231f20" stroke-width="0.12">Vc<tspan font-size="4.90" dy="-3.50">fl/fl</tspan></text>
<text x="428.90000000000003" y="354.8" font-size="7" font-style="italic" text-anchor="middle" textLength="17.3" lengthAdjust="spacingAndGlyphs" stroke="#231f20" stroke-width="0.12">Vc<tspan font-size="4.90" dy="-3.50">iΔEC</tspan></text>
<text x="462.5" y="252" font-size="6.8" text-anchor="middle" textLength="23" lengthAdjust="spacingAndGlyphs" stroke="#231f20" stroke-width="0.12">Percent</text>
<text x="462.4" y="260" font-size="6.8" text-anchor="middle" textLength="30.8" lengthAdjust="spacingAndGlyphs" stroke="#231f20" stroke-width="0.12">Expressed</text>
<circle cx="455.40" cy="265.30" r="1.30" fill="#000"/>
<text x="463" y="267.2" font-size="6.8" textLength="8.2" lengthAdjust="spacingAndGlyphs" stroke="#231f20" stroke-width="0.12">20</text>
<circle cx="455.40" cy="273.40" r="2.40" fill="#000"/>
<text x="463" y="275.29999999999995" font-size="6.8" textLength="8.2" lengthAdjust="spacingAndGlyphs" stroke="#231f20" stroke-width="0.12">40</text>
<circle cx="455.40" cy="281.80" r="3.30" fill="#000"/>
<text x="463" y="283.7" font-size="6.8" textLength="8.2" lengthAdjust="spacingAndGlyphs" stroke="#231f20" stroke-width="0.12">60</text>
<circle cx="455.40" cy="292.30" r="4.20" fill="#000"/>
<text x="463" y="294.2" font-size="6.8" textLength="8.2" lengthAdjust="spacingAndGlyphs" stroke="#231f20" stroke-width="0.12">80</text>
<text x="462.4" y="306.3" font-size="6.8" text-anchor="middle" textLength="24.7" lengthAdjust="spacingAndGlyphs" stroke="#231f20" stroke-width="0.12">Average</text>
<text x="462.5" y="314.0" font-size="6.8" text-anchor="middle" textLength="33" lengthAdjust="spacingAndGlyphs" stroke="#231f20" stroke-width="0.12">Expression</text>
<defs><linearGradient id="gF" x1="0" y1="0" x2="0" y2="1"><stop offset="0" stop-color="#1e1ef0"/><stop offset="0.5" stop-color="#9488e0"/><stop offset="1" stop-color="#dcd8e6"/></linearGradient></defs>
<rect x="456.5" y="318" width="5.5" height="29.7" fill="url(#gF)"/>
<text x="463" y="326.6" font-size="6.8" textLength="10" lengthAdjust="spacingAndGlyphs" stroke="#231f20" stroke-width="0.12">1.0</text>
<text x="463" y="338.1" font-size="6.8" textLength="10" lengthAdjust="spacingAndGlyphs" stroke="#231f20" stroke-width="0.12">0.0</text>
<text x="462" y="349.8" font-size="6.8" textLength="14" lengthAdjust="spacingAndGlyphs" stroke="#231f20" stroke-width="0.12">−1.0</text>
<text x="8" y="390.2" font-size="12.2" font-weight="bold" fill="#000" stroke="#000" stroke-width="0.12">G</text>
<text x="61.9" y="396.6" font-size="6.8" text-anchor="middle" textLength="14" lengthAdjust="spacingAndGlyphs" stroke="#231f20" stroke-width="0.12">ECs</text>
<line x1="46.6" y1="407" x2="46.6" y2="473.2" stroke="#231f20" stroke-width="1.4"/>
<line x1="43.6" y1="410.5" x2="46.6" y2="410.5" stroke="#231f20" stroke-width="1.0"/>
<text x="41.0" y="413.0" font-size="6.9" text-anchor="end" stroke="#231f20" stroke-width="0.12">1.5</text>
<line x1="43.6" y1="431.5" x2="46.6" y2="431.5" stroke="#231f20" stroke-width="1.0"/>
<text x="41.0" y="434.0" font-size="6.9" text-anchor="end" stroke="#231f20" stroke-width="0.12">1.0</text>
<line x1="43.6" y1="452.4" x2="46.6" y2="452.4" stroke="#231f20" stroke-width="1.0"/>
<text x="41.0" y="454.9" font-size="6.9" text-anchor="end" stroke="#231f20" stroke-width="0.12">0.5</text>
<line x1="46.1" y1="473.2" x2="76.7" y2="473.2" stroke="#231f20" stroke-width="1.5"/>
<line x1="56.6" y1="473.2" x2="56.6" y2="475.2" stroke="#231f20" stroke-width="0.9"/>
<line x1="66.5" y1="473.2" x2="66.5" y2="475.2" stroke="#231f20" stroke-width="0.9"/>
<rect x="51.8" y="429.5" width="9.6" height="42.5" fill="#e2eeee"/>
<rect x="61.8" y="446.6" width="9.7" height="25.4" fill="#efc580"/>
<line x1="56.6" y1="429.5" x2="56.6" y2="416.3" stroke="#231f20" stroke-width="1.15"/>
<line x1="54.9" y1="416.3" x2="58.300000000000004" y2="416.3" stroke="#231f20" stroke-width="1.15"/>
<line x1="66.5" y1="446.6" x2="66.5" y2="439.3" stroke="#231f20" stroke-width="1.15"/>
<line x1="64.8" y1="439.3" x2="68.2" y2="439.3" stroke="#231f20" stroke-width="1.15"/>
<text x="66.5" y="436.6" font-size="5.5" text-anchor="middle" stroke="#231f20" stroke-width="0.12">*</text>
<text x="25.4" y="439.2" font-size="8.6" text-anchor="middle" transform="rotate(-90 25.4 439.2)" textLength="57.3" lengthAdjust="spacingAndGlyphs" stroke="#231f20" stroke-width="0.12"><tspan font-style="italic">Cxcl12</tspan>mRNA level</text>
<rect x="76.8" y="400" width="4.6" height="4.6" fill="#e2eeee"/>
<rect x="76.8" y="410.5" width="4.6" height="4.6" fill="#efc580"/>
<text x="84.5" y="404.0" font-size="6.8" font-style="italic" textLength="14" lengthAdjust="spacingAndGlyphs" stroke="#231f20" stroke-width="0.12">Vc<tspan font-size="4.76" dy="-3.40">fl/fl</tspan></text>
<text x="84.5" y="414.6" font-size="6.8" font-style="italic" textLength="17.4" lengthAdjust="spacingAndGlyphs" stroke="#231f20" stroke-width="0.12">Vc<tspan font-size="4.76" dy="-3.40">iΔEC</tspan></text>
<text x="118.7" y="390.6" font-size="12.2" font-weight="bold" fill="#000" stroke="#000" stroke-width="0.12">H</text>
<text x="151.3" y="399" font-size="6.8" font-style="italic" text-anchor="middle" textLength="13.8" lengthAdjust="spacingAndGlyphs" stroke="#231f20" stroke-width="0.12">Vc<tspan font-size="4.76" dy="-3.40">fl/fl</tspan></text>
<text x="151.3" y="446.8" font-size="6.8" font-style="italic" text-anchor="middle" textLength="16" lengthAdjust="spacingAndGlyphs" stroke="#231f20" stroke-width="0.12">Vc<tspan font-size="4.76" dy="-3.40">iΔEC</tspan></text>
<path d="M151.2 419.8 L149.12 402.83 A17.1 17.1 0 0 1 153.43 402.85 Z" fill="#c9a82c"/>
<path d="M151.2 419.8 L153.43 402.85 A17.1 17.1 0 0 1 159.23 434.90 Z" fill="#dbb69c"/>
<path d="M151.2 419.8 L159.23 434.90 A17.1 17.1 0 0 1 152.99 436.81 Z" fill="#5e9a5c"/>
<path d="M151.2 419.8 L152.99 436.81 A17.1 17.1 0 0 1 151.20 436.90 Z" fill="#c070c0"/>
<path d="M151.2 419.8 L151.20 436.90 A17.1 17.1 0 0 1 149.12 402.83 Z" fill="#7b68b4"/>
<circle cx="151.2" cy="419.8" r="17.1" fill="none" stroke="#1a1a1a" stroke-width="0.9"/>
<path d="M150.2 468.3 L147.51 451.31 A17.2 17.2 0 0 1 152.00 451.19 Z" fill="#c9a82c"/>
<path d="M150.2 468.3 L152.00 451.19 A17.2 17.2 0 0 1 162.68 480.14 Z" fill="#dbb69c"/>
<path d="M150.2 468.3 L162.68 480.14 A17.2 17.2 0 0 1 161.14 481.57 Z" fill="#5e9a5c"/>
<path d="M150.2 468.3 L161.14 481.57 A17.2 17.2 0 0 1 158.27 483.49 Z" fill="#c070c0"/>
<path d="M150.2 468.3 L158.27 483.49 A17.2 17.2 0 1 1 147.51 451.31 Z" fill="#7b68b4"/>
<circle cx="150.2" cy="468.3" r="17.2" fill="none" stroke="#1a1a1a" stroke-width="0.9"/>
<path d="M164.84 457.72L169.44 451.94L173.22 459.14Z" fill="#b01418"/>
<path d="M161.35 479.67L169.73 482.03L163.83 487.70Z" fill="#b01418"/>
<circle cx="178.40" cy="406.00" r="2.40" fill="#7b68b4"/>
<text x="182.3" y="408.6" font-size="7.2" textLength="19.8" lengthAdjust="spacingAndGlyphs" stroke="#231f20" stroke-width="0.12">Lepr–1</text>
<circle cx="178.40" cy="415.90" r="2.40" fill="#dbb69c"/>
<text x="182.3" y="418.5" font-size="7.2" textLength="19.8" lengthAdjust="spacingAndGlyphs" stroke="#231f20" stroke-width="0.12">Lepr–2</text>
<circle cx="178.40" cy="425.00" r="2.40" fill="#5e9a5c"/>
<text x="182.3" y="427.6" font-size="7.2" textLength="19.8" lengthAdjust="spacingAndGlyphs" stroke="#231f20" stroke-width="0.12">Lepr–3</text>
<circle cx="178.40" cy="435.20" r="2.40" fill="#c9a82c"/>
<text x="182.3" y="437.8" font-size="7.2" textLength="19.8" lengthAdjust="spacingAndGlyphs" stroke="#231f20" stroke-width="0.12">Lepr–4</text>
<circle cx="178.40" cy="444.30" r="2.40" fill="#c070c0"/>
<text x="182.3" y="446.90000000000003" font-size="7.2" textLength="19.8" lengthAdjust="spacingAndGlyphs" stroke="#231f20" stroke-width="0.12">Lepr–5</text>
<text x="219" y="390.6" font-size="12.2" font-weight="bold" fill="#000" stroke="#000" stroke-width="0.12">I</text>
<text x="242.3" y="400.7" font-size="6.8" text-anchor="middle" textLength="22.6" lengthAdjust="spacingAndGlyphs" stroke="#231f20" stroke-width="0.12">Percent</text>
<text x="242.7" y="409" font-size="6.8" text-anchor="middle" textLength="31" lengthAdjust="spacingAndGlyphs" stroke="#231f20" stroke-width="0.12">Expressed</text>
<circle cx="236.90" cy="414.50" r="0.70" fill="#000"/>
<text x="244.4" y="416.9" font-size="6.8" textLength="3.9" lengthAdjust="spacingAndGlyphs" stroke="#231f20" stroke-width="0.12">0</text>
<circle cx="236.90" cy="422.00" r="1.40" fill="#000"/>
<text x="244.4" y="424.4" font-size="6.8" textLength="7.8" lengthAdjust="spacingAndGlyphs" stroke="#231f20" stroke-width="0.12">25</text>
<circle cx="236.90" cy="429.60" r="2.30" fill="#000"/>
<text x="244.4" y="432.0" font-size="6.8" textLength="7.8" lengthAdjust="spacingAndGlyphs" stroke="#231f20" stroke-width="0.12">50</text>
<circle cx="236.90" cy="438.80" r="3.40" fill="#000"/>
<text x="244.4" y="441.2" font-size="6.8" textLength="7.8" lengthAdjust="spacingAndGlyphs" stroke="#231f20" stroke-width="0.12">75</text>
<circle cx="236.90" cy="449.90" r="4.60" fill="#000"/>
<text x="244.4" y="452.29999999999995" font-size="6.8" textLength="11.7" lengthAdjust="spacingAndGlyphs" stroke="#231f20" stroke-width="0.12">100</text>
<text x="307" y="394.5" font-size="6.6" text-anchor="middle" textLength="19.5" lengthAdjust="spacingAndGlyphs" stroke="#231f20" stroke-width="0.12">LepR+</text>
<line x1="288.5" y1="393.8" x2="288.5" y2="480.6" stroke="#231f20" stroke-width="1.1"/>
<line x1="288" y1="480.6" x2="327.2" y2="480.6" stroke="#231f20" stroke-width="1.1"/>
<line x1="285.4" y1="399.9" x2="288.5" y2="399.9" stroke="#231f20" stroke-width="0.9"/>
<text x="282.4" y="402.2" font-size="6.6" text-anchor="end" font-style="italic" textLength="13.2" lengthAdjust="spacingAndGlyphs" stroke="#231f20" stroke-width="0.12">Pten</text>
<line x1="285.4" y1="408.4" x2="288.5" y2="408.4" stroke="#231f20" stroke-width="0.9"/>
<text x="282.4" y="410.7" font-size="6.6" text-anchor="end" font-style="italic" textLength="12.2" lengthAdjust="spacingAndGlyphs" stroke="#231f20" stroke-width="0.12">Ccl7</text>
<line x1="285.4" y1="417.9" x2="288.5" y2="417.9" stroke="#231f20" stroke-width="0.9"/>
<text x="282.4" y="420.2" font-size="6.6" text-anchor="end" font-style="italic" textLength="13" lengthAdjust="spacingAndGlyphs" stroke="#231f20" stroke-width="0.12">Csf1</text>
<line x1="285.4" y1="427.6" x2="288.5" y2="427.6" stroke="#231f20" stroke-width="0.9"/>
<text x="282.4" y="429.90000000000003" font-size="6.6" text-anchor="end" font-style="italic" textLength="12.2" lengthAdjust="spacingAndGlyphs" stroke="#231f20" stroke-width="0.12">Ccl2</text>
<line x1="285.4" y1="436.7" x2="288.5" y2="436.7" stroke="#231f20" stroke-width="0.9"/>
<text x="282.4" y="439.0" font-size="6.6" text-anchor="end" font-style="italic" textLength="20" lengthAdjust="spacingAndGlyphs" stroke="#231f20" stroke-width="0.12">Cxcl10</text>
<line x1="285.4" y1="446" x2="288.5" y2="446" stroke="#231f20" stroke-width="0.9"/>
<text x="282.4" y="448.3" font-size="6.6" text-anchor="end" font-style="italic" textLength="16" lengthAdjust="spacingAndGlyphs" stroke="#231f20" stroke-width="0.12">Cxcl9</text>
<line x1="285.4" y1="455.6" x2="288.5" y2="455.6" stroke="#231f20" stroke-width="0.9"/>
<text x="282.4" y="457.90000000000003" font-size="6.6" text-anchor="end" font-style="italic" textLength="21.6" lengthAdjust="spacingAndGlyphs" stroke="#231f20" stroke-width="0.12">Angpt1</text>
<line x1="285.4" y1="464.7" x2="288.5" y2="464.7" stroke="#231f20" stroke-width="0.9"/>
<text x="282.4" y="467.0" font-size="6.6" text-anchor="end" font-style="italic" textLength="16.6" lengthAdjust="spacingAndGlyphs" stroke="#231f20" stroke-width="0.12">Vegfc</text>
<line x1="285.4" y1="474.3" x2="288.5" y2="474.3" stroke="#231f20" stroke-width="0.9"/>
<text x="282.4" y="476.6" font-size="6.6" text-anchor="end" font-style="italic" textLength="18.8" lengthAdjust="spacingAndGlyphs" stroke="#231f20" stroke-width="0.12">Vcam1</text>
<line x1="298.6" y1="480.6" x2="298.6" y2="482.7" stroke="#231f20" stroke-width="0.9"/>
<line x1="316.9" y1="480.6" x2="316.9" y2="482.7" stroke="#231f20" stroke-width="0.9"/>
<circle cx="298.60" cy="399.90" r="3.10" fill="#2e22f0"/>
<circle cx="316.90" cy="399.90" r="2.60" fill="#a092e0"/>
<circle cx="298.60" cy="408.40" r="0.90" fill="#3020f0"/>
<circle cx="316.90" cy="408.40" r="0.50" fill="#c8c0e8"/>
<circle cx="298.60" cy="417.90" r="2.85" fill="#5a48e8"/>
<circle cx="316.90" cy="417.90" r="2.60" fill="#8a78e0"/>
<circle cx="298.60" cy="427.60" r="1.30" fill="#2010f0"/>
<circle cx="316.90" cy="427.60" r="1.10" fill="#9080e0"/>
<circle cx="298.60" cy="436.70" r="0.40" fill="#c0b8e0"/>
<circle cx="316.90" cy="436.70" r="1.00" fill="#3020f0"/>
<circle cx="298.60" cy="446.00" r="1.30" fill="#c0bce0"/>
<circle cx="316.90" cy="446.00" r="1.50" fill="#3525f0"/>
<circle cx="298.60" cy="455.60" r="2.85" fill="#3a2af0"/>
<circle cx="316.90" cy="455.60" r="2.40" fill="#8070e0"/>
<circle cx="298.60" cy="464.70" r="2.60" fill="#3a2af0"/>
<circle cx="316.90" cy="464.70" r="2.20" fill="#8070e0"/>
<circle cx="298.60" cy="474.30" r="3.10" fill="#3a2af0"/>
<circle cx="316.90" cy="474.30" r="2.85" fill="#9888e0"/>
<text x="299.7" y="491.5" font-size="7" font-style="italic" text-anchor="middle" textLength="15.4" lengthAdjust="spacingAndGlyphs" stroke="#231f20" stroke-width="0.12">Vc<tspan font-size="4.90" dy="-3.50">fl/fl</tspan></text>
<text x="316.9" y="491.5" font-size="7" font-style="italic" text-anchor="middle" textLength="16.5" lengthAdjust="spacingAndGlyphs" stroke="#231f20" stroke-width="0.12">Vc<tspan font-size="4.90" dy="-3.50">iΔEC</tspan></text>
<text x="342" y="401.5" font-size="6.8" text-anchor="middle" textLength="25.2" lengthAdjust="spacingAndGlyphs" stroke="#231f20" stroke-width="0.12">Average</text>
<text x="341.5" y="409" font-size="6.8" text-anchor="middle" textLength="33" lengthAdjust="spacingAndGlyphs" stroke="#231f20" stroke-width="0.12">Expression</text>
<defs><linearGradient id="gI" x1="0" y1="0" x2="0" y2="1"><stop offset="0" stop-color="#1e1ef0"/><stop offset="0.5" stop-color="#9488e0"/><stop offset="1" stop-color="#dcd8e6"/></linearGradient></defs>
<rect x="336" y="413" width="5.9" height="31.7" fill="url(#gI)"/>
<text x="344" y="425.4" font-size="6.8" stroke="#231f20" stroke-width="0.12">1</text>
<text x="344" y="435.9" font-size="6.8" stroke="#231f20" stroke-width="0.12">0</text>
<text x="342.6" y="446.3" font-size="6.8" textLength="7.4" lengthAdjust="spacingAndGlyphs" stroke="#231f20" stroke-width="0.12">−1</text>
<text x="374.3" y="390.9" font-size="12.2" font-weight="bold" fill="#000" stroke="#000" stroke-width="0.12">J</text>
<text x="423.4" y="393.6" font-size="6.6" text-anchor="middle" textLength="20.2" lengthAdjust="spacingAndGlyphs" stroke="#231f20" stroke-width="0.12">LepR+</text>
<line x1="406.9" y1="408.2" x2="406.9" y2="473.1" stroke="#231f20" stroke-width="1.4"/>
<line x1="403.9" y1="410.2" x2="406.9" y2="410.2" stroke="#231f20" stroke-width="1.0"/>
<text x="401.29999999999995" y="412.7" font-size="6.9" text-anchor="end" stroke="#231f20" stroke-width="0.12">1.5</text>
<line x1="403.9" y1="431.2" x2="406.9" y2="431.2" stroke="#231f20" stroke-width="1.0"/>
<text x="401.29999999999995" y="433.7" font-size="6.9" text-anchor="end" stroke="#231f20" stroke-width="0.12">1.0</text>
<line x1="403.9" y1="452.3" x2="406.9" y2="452.3" stroke="#231f20" stroke-width="1.0"/>
<text x="401.29999999999995" y="454.8" font-size="6.9" text-anchor="end" stroke="#231f20" stroke-width="0.12">0.5</text>
<line x1="404.6" y1="473.1" x2="438.6" y2="473.1" stroke="#231f20" stroke-width="1.5"/>
<line x1="417.6" y1="473.1" x2="417.6" y2="475.2" stroke="#231f20" stroke-width="0.9"/>
<line x1="427.7" y1="473.1" x2="427.7" y2="475.2" stroke="#231f20" stroke-width="0.9"/>
<rect x="412.7" y="431.2" width="9.8" height="40.8" fill="#e2eeee"/>
<rect x="422.8" y="450" width="10.1" height="22" fill="#efc580"/>
<line x1="417.6" y1="431.2" x2="417.6" y2="430.4" stroke="#231f20" stroke-width="1.15"/>
<line x1="415.90000000000003" y1="430.4" x2="419.3" y2="430.4" stroke="#231f20" stroke-width="1.15"/>
<line x1="427.7" y1="450" x2="427.7" y2="437.9" stroke="#231f20" stroke-width="1.15"/>
<line x1="426.0" y1="437.9" x2="429.4" y2="437.9" stroke="#231f20" stroke-width="1.15"/>
<text x="428.5" y="428.6" font-size="5.5" text-anchor="middle" stroke="#231f20" stroke-width="0.12">*</text>
<text x="386.2" y="440" font-size="8.4" text-anchor="middle" transform="rotate(-90 386.2 440)" textLength="52.7" lengthAdjust="spacingAndGlyphs" stroke="#231f20" stroke-width="0.12"><tspan font-style="italic">Pten</tspan> mRNA level</text>
<rect x="453" y="399.5" width="5" height="5.2" fill="#e2eeee"/>
<rect x="453" y="410.2" width="5" height="5.2" fill="#efc580"/>
<text x="460.9" y="404.1" font-size="6.8" font-style="italic" textLength="13.8" lengthAdjust="spacingAndGlyphs" stroke="#231f20" stroke-width="0.12">Vc<tspan font-size="4.76" dy="-3.40">fl/fl</tspan></text>
<text x="460.9" y="414.7" font-size="6.8" font-style="italic" textLength="17.5" lengthAdjust="spacingAndGlyphs" stroke="#231f20" stroke-width="0.12">Vc<tspan font-size="4.76" dy="-3.40">iΔEC</tspan></text>
</svg></body></html>
